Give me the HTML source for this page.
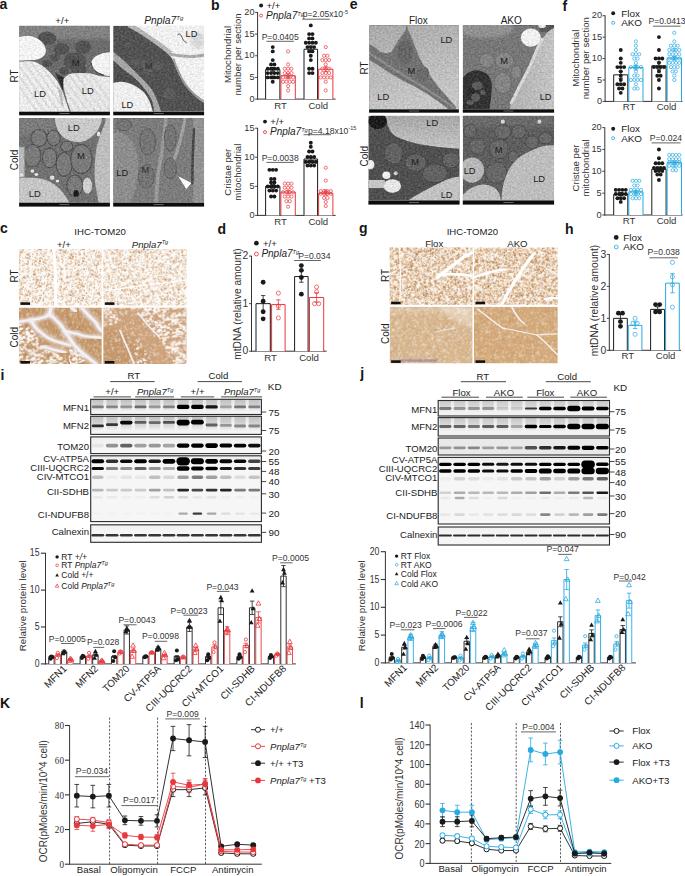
<!DOCTYPE html>
<html><head><meta charset="utf-8"><style>
html,body{margin:0;padding:0;background:#fff;overflow:hidden;width:685px;height:876px;}
svg{display:block;}
text{font-family:"Liberation Sans", sans-serif;}
</style></head><body>
<svg width="685" height="876" viewBox="0 0 685 876">
<rect x="0" y="0" width="685" height="876" fill="#fff"/>
<text x="-0.6" y="8.8" font-size="14" text-anchor="start" font-weight="bold" fill="#151515">a</text>
<text x="211.1" y="9.9" font-size="14" text-anchor="start" font-weight="bold" fill="#151515">b</text>
<text x="349.8" y="8.8" font-size="14" text-anchor="start" font-weight="bold" fill="#151515">e</text>
<text x="562.5" y="10.8" font-size="14" text-anchor="start" font-weight="bold" fill="#151515">f</text>
<text x="-0.1" y="232.6" font-size="14" text-anchor="start" font-weight="bold" fill="#151515">c</text>
<text x="217.5" y="234" font-size="14" text-anchor="start" font-weight="bold" fill="#151515">d</text>
<text x="359" y="232.8" font-size="14" text-anchor="start" font-weight="bold" fill="#151515">g</text>
<text x="565.1" y="234" font-size="14" text-anchor="start" font-weight="bold" fill="#151515">h</text>
<text x="0.5" y="380" font-size="14" text-anchor="start" font-weight="bold" fill="#151515">i</text>
<text x="360.2" y="377.5" font-size="14" text-anchor="start" font-weight="bold" fill="#151515">j</text>
<text x="-0.1" y="708" font-size="14" text-anchor="start" font-weight="bold" fill="#151515">K</text>
<text x="359.8" y="707.7" font-size="14" text-anchor="start" font-weight="bold" fill="#151515">l</text>
<defs>
<filter id="emtex" x="0" y="0" width="100%" height="100%" filterUnits="userSpaceOnUse" color-interpolation-filters="sRGB"><feTurbulence type="fractalNoise" baseFrequency="0.45 0.5" numOctaves="3" seed="4" result="t"/><feColorMatrix in="t" type="matrix" values="1 0 0 0 0  1 0 0 0 0  1 0 0 0 0  0 0 0 0 1" result="g"/><feComposite in="SourceGraphic" in2="g" operator="arithmetic" k1="0" k2="1" k3="0.24" k4="-0.12"/></filter>
<filter id="soft" x="-20%" y="-20%" width="140%" height="140%"><feGaussianBlur stdDeviation="0.8"/></filter>
<filter id="soft2" x="-20%" y="-20%" width="140%" height="140%"><feGaussianBlur stdDeviation="1.6"/></filter>
<linearGradient id="ldg1" x1="0" y1="0" x2="1" y2="1"><stop offset="0" stop-color="#f2f2f2"/><stop offset="1" stop-color="#d6d6d6"/></linearGradient>
<linearGradient id="ldstripe" x1="0" y1="0" x2="1" y2="0.6" spreadMethod="repeat" gradientUnits="userSpaceOnUse" gradientTransform="scale(8)"><stop offset="0" stop-color="#eeeeee"/><stop offset="0.5" stop-color="#cfcfcf"/><stop offset="1" stop-color="#eeeeee"/></linearGradient>
<linearGradient id="eflox" x1="0" y1="0" x2="0.3" y2="1"><stop offset="0" stop-color="#a9a9a9"/><stop offset="1" stop-color="#c6c6c6"/></linearGradient>
<linearGradient id="eld2" x1="0" y1="0" x2="1" y2="0"><stop offset="0" stop-color="#b0b0b0"/><stop offset="1" stop-color="#c4c4c4"/></linearGradient>
<linearGradient id="eld3" x1="0" y1="0" x2="0" y2="1"><stop offset="0" stop-color="#a6a6a6"/><stop offset="1" stop-color="#c4c4c4"/></linearGradient>
</defs>
<svg x="19.1" y="25.8" width="90.80" height="86.00" viewBox="0 0 100 100" preserveAspectRatio="none" overflow="hidden">
<g filter="url(#emtex)">
<rect width="100" height="100" fill="#6c6c6c"/>
<rect x="-5" y="-5" width="110" height="20" fill="#828282" filter="url(#soft2)"/>
<ellipse cx="30.7" cy="14.7" rx="10.2" ry="7.7" fill="#525252" filter="url(#soft)"/>
<ellipse cx="46.7" cy="27" rx="8.8" ry="7" fill="#525252" filter="url(#soft)"/>
<ellipse cx="70.8" cy="24.7" rx="8.8" ry="7.7" fill="#525252" filter="url(#soft)"/>
<ellipse cx="39.4" cy="37.1" rx="5.1" ry="4.6" fill="#525252" filter="url(#soft)"/>
<ellipse cx="30.7" cy="44" rx="5.8" ry="4.3" fill="#525252" filter="url(#soft)"/>
<ellipse cx="61.3" cy="41" rx="12.4" ry="10" fill="#525252" filter="url(#soft)"/>
<ellipse cx="49.6" cy="52.6" rx="5.1" ry="4.6" fill="#525252" filter="url(#soft)"/>
<ellipse cx="65.7" cy="51" rx="8.8" ry="5.4" fill="#525252" filter="url(#soft)"/>
<path d="M40,55 L48,75 L52,62 Z" fill="#2e2e2e" filter="url(#soft)"/>
<path d="M0,13 C1.5,12.8 5.9,11.9 8.8,12 C11.7,12.1 14.8,12.5 17.5,13.6 C20.2,14.7 22.9,16.4 24.8,18.5 C26.8,20.6 28.6,23.9 29.2,26.3 C29.8,28.8 29.5,31.3 28.5,33.2 C27.5,35.1 25.7,36.8 23.4,37.9 C21.1,39.0 18.5,39.5 14.6,39.9 C10.7,40.3 2.4,40.4 0,40.5 Z" fill="#f3f3f3"/>
<path d="M0,41.7 C2.4,41.7 10.9,41.0 14.6,41.4 C18.2,41.8 19.5,42.6 21.9,44 C24.3,45.4 26.8,47.3 29.2,49.5 C31.6,51.7 34.3,54.6 36.5,57.2 C38.7,59.8 40.8,62.6 42.3,64.9 C43.8,67.2 44.3,69.0 45.3,71.1 C46.3,73.2 47.2,74.7 48.2,77.3 C49.2,79.9 49.9,82.8 51.1,86.6 C52.3,90.4 54.8,97.8 55.5,100 L0,100 Z" fill="#ececec"/>
<path d="M48.9,61.8 C49.5,61.2 51.0,59.0 52.6,58 C54.2,57.0 55.7,56.1 58.4,55.6 C61.1,55.1 65.2,54.9 68.6,54.9 C72.0,54.9 75.6,55.1 78.8,55.6 C82.0,56.1 84.1,57.4 87.6,58 C91.1,58.6 97.9,59.2 100,59.5 L100,100 L57,100 C55,93 53,88 52.6,86.6 C51,80 50,76 49.6,74.2 C48.8,70 48.4,67 48.9,61.8 Z" fill="#e8e8e8"/>
<path d="M100,30.9 C98.4,31.2 93.4,31.5 90.5,32.5 C87.6,33.5 84.3,35.3 82.5,37.1 C80.7,38.9 79.8,41.2 79.6,43.3 C79.3,45.4 79.9,47.7 81,49.5 C82.1,51.3 84.0,52.8 86.1,54.1 C88.2,55.4 91.1,56.5 93.4,57.2 C95.7,57.9 98.9,58.2 100,58.4 Z" fill="#f2f2f2"/>
<path d="M79.6,43.3 C80,50 85,55 93.4,57.2" stroke="#333" stroke-width="1" fill="none"/>
<clipPath id="ldc1"><path d="M0,41.7 C2.4,41.7 10.9,41.0 14.6,41.4 C18.2,41.8 19.5,42.6 21.9,44 C24.3,45.4 26.8,47.3 29.2,49.5 C31.6,51.7 34.3,54.6 36.5,57.2 C38.7,59.8 40.8,62.6 42.3,64.9 C43.8,67.2 44.3,69.0 45.3,71.1 C46.3,73.2 47.2,74.7 48.2,77.3 C49.2,79.9 49.9,82.8 51.1,86.6 C52.3,90.4 54.8,97.8 55.5,100 L0,100 Z"/><path d="M48.9,61.8 C49.5,61.2 51.0,59.0 52.6,58 C54.2,57.0 55.7,56.1 58.4,55.6 C61.1,55.1 65.2,54.9 68.6,54.9 C72.0,54.9 75.6,55.1 78.8,55.6 C82.0,56.1 84.1,57.4 87.6,58 C91.1,58.6 97.9,59.2 100,59.5 L100,100 L57,100 C55,93 53,88 52.6,86.6 C51,80 50,76 49.6,74.2 C48.8,70 48.4,67 48.9,61.8 Z"/></clipPath><g clip-path="url(#ldc1)">
<path d="M-20,40 L20,100" stroke="#cccccc" stroke-width="2.4" opacity="0.5" filter="url(#soft)"/>
<path d="M-12,40 L28,100" stroke="#cccccc" stroke-width="2.4" opacity="0.5" filter="url(#soft)"/>
<path d="M-4,40 L36,100" stroke="#cccccc" stroke-width="2.4" opacity="0.5" filter="url(#soft)"/>
<path d="M4,40 L44,100" stroke="#cccccc" stroke-width="2.4" opacity="0.5" filter="url(#soft)"/>
<path d="M12,40 L52,100" stroke="#cccccc" stroke-width="2.4" opacity="0.5" filter="url(#soft)"/>
<path d="M20,40 L60,100" stroke="#cccccc" stroke-width="2.4" opacity="0.5" filter="url(#soft)"/>
<path d="M28,40 L68,100" stroke="#cccccc" stroke-width="2.4" opacity="0.5" filter="url(#soft)"/>
<path d="M36,40 L76,100" stroke="#cccccc" stroke-width="2.4" opacity="0.5" filter="url(#soft)"/>
<path d="M44,40 L84,100" stroke="#cccccc" stroke-width="2.4" opacity="0.5" filter="url(#soft)"/>
<path d="M52,40 L92,100" stroke="#cccccc" stroke-width="2.4" opacity="0.5" filter="url(#soft)"/>
<path d="M60,40 L100,100" stroke="#cccccc" stroke-width="2.4" opacity="0.5" filter="url(#soft)"/>
<path d="M68,40 L108,100" stroke="#cccccc" stroke-width="2.4" opacity="0.5" filter="url(#soft)"/>
</g>
<path d="M42,70 L47,76 L49,95 L46,90 Z" fill="#bbb" filter="url(#soft)"/>
</g>
</svg>
<rect x="19.1" y="111.80" width="90.80" height="3.50" fill="#0d0d0d"/>
<rect x="59.50" y="113.20" width="10" height="0.7" fill="#888"/>
<text x="40" y="96.5" font-size="9.3" text-anchor="middle" fill="#1c1c1c">LD</text>
<text x="87.8" y="93.6" font-size="9.3" text-anchor="middle" fill="#1c1c1c">LD</text>
<text x="75.6" y="65.9" font-size="9.3" text-anchor="middle" fill="#1c1c1c">M</text>
<svg x="113.2" y="25.8" width="90.90" height="86.00" viewBox="0 0 100 100" preserveAspectRatio="none" overflow="hidden">
<g filter="url(#emtex)">
<rect width="100" height="100" fill="#f0f0f0"/>
<ellipse cx="93" cy="17" rx="8" ry="10" fill="#d8d8d8" filter="url(#soft2)"/>
<path d="M0,28  C2.2,30.0 9.2,36.2 13.1,40 C17.0,43.8 20.0,47.3 23.4,51 C26.8,54.7 30.5,58.3 33.6,62 C36.8,65.7 39.9,69.1 42.3,73 C44.7,76.9 46.5,81.1 48.2,85.6 C49.9,90.1 51.9,97.6 52.6,100 L0,100 Z" fill="#a6a6a6"/>
<path d="M0,40  C1.9,41.8 7.6,47.4 11.7,51 C15.8,54.6 20.9,57.9 24.8,61.8 C28.7,65.7 32.1,70.1 35,74.2 C37.9,78.3 40.6,82.3 42.3,86.6 C44.0,90.9 44.8,97.8 45.3,100 L0,100 Z" fill="#4e4e4e"/>
<path d="M0,66.5 C1.5,66.2 5.4,64.8 8.8,65 C12.2,65.2 16.5,66.2 20.4,68 C24.3,69.8 28.9,72.6 32.1,75.7 C35.3,78.8 37.5,82.5 39.4,86.6 C41.3,90.6 43.1,97.8 43.8,100 L0,100 Z" fill="#eeeeee"/>
<path d="M0,0 L17.5,0  C19.4,1.0 25.3,3.6 29.2,6.2 C33.1,8.8 37.0,12.4 40.9,15.5 C44.8,18.6 49.2,21.8 52.6,24.7 C56.0,27.6 59.1,30.6 61.3,33.2 C63.5,35.8 64.2,37.2 65.7,40.2 C67.2,43.2 68.3,47.1 70,51 C71.7,54.9 73.7,59.5 75.9,63.4 C78.1,67.3 80.5,70.9 83.2,74.2 C85.9,77.5 89.2,80.9 92,83.5 C94.8,86.1 98.7,88.6 100,89.6 L100,100 L52.6,100  C51.9,97.8 49.9,90.9 48.2,86.6 C46.5,82.3 44.7,78.1 42.3,74.2 C39.9,70.3 36.8,67.0 33.6,63.4 C30.5,59.8 26.8,56.2 23.4,52.6 C20.0,49.0 16.3,44.8 13.1,41.7 C9.9,38.6 6.6,35.9 4.4,34 C2.2,32.1 0.7,30.8 0,30.1 Z" fill="#525252"/>
<path d="M17,-1 C26,3 35,10 43,16 C50,21 58,27 63,32" stroke="#b4b4b4" stroke-width="5" fill="none" filter="url(#soft)"/>
<path d="M62,33 C68,35 76,35 84,36 C90,36 95,35 100,34" stroke="#a9a9a9" stroke-width="3.5" fill="none" filter="url(#soft)"/>
<path d="M66,38 C70,50 74,60 80,69 C86,77 93,84 100,88" stroke="#9a9a9a" stroke-width="2.2" fill="none" filter="url(#soft)"/>
<path d="M71,11 C72,8 75,10 76,14 C77,18 80,19 81,20" stroke="#222" stroke-width="0.8" fill="none"/>
<ellipse cx="24" cy="42" rx="5" ry="4" fill="#5c5c5c" filter="url(#soft)"/>
<ellipse cx="33" cy="44" rx="6" ry="4.5" fill="#5c5c5c" filter="url(#soft)"/>
<ellipse cx="38" cy="52" rx="5" ry="4" fill="#5c5c5c" filter="url(#soft)"/>
<ellipse cx="48" cy="47" rx="6" ry="5" fill="#5c5c5c" filter="url(#soft)"/>
<ellipse cx="62" cy="79" rx="7" ry="6" fill="#5c5c5c" filter="url(#soft)"/>
<ellipse cx="16" cy="22" rx="3" ry="3" fill="#5c5c5c" filter="url(#soft)"/>
</g>
</svg>
<rect x="113.2" y="111.80" width="90.90" height="3.50" fill="#0d0d0d"/>
<rect x="153.65" y="113.20" width="10" height="0.7" fill="#888"/>
<text x="191.5" y="36.6" font-size="9.3" text-anchor="middle" fill="#1c1c1c">LD</text>
<text x="127.4" y="107.8" font-size="9.3" text-anchor="middle" fill="#1c1c1c">LD</text>
<text x="148.9" y="69.2" font-size="9.3" text-anchor="middle" fill="#2e2e2e">M</text>
<svg x="19.1" y="118.1" width="90.80" height="84.70" viewBox="0 0 100 100" preserveAspectRatio="none" overflow="hidden">
<g filter="url(#emtex)">
<rect width="100" height="100" fill="#717171"/>
<rect x="0" y="0" width="40" height="20" fill="#7c7c7c" filter="url(#soft2)"/>
<ellipse cx="21.9" cy="23.4" rx="8.8" ry="10.2" fill="#7a7a7a" stroke="#505050" stroke-width="1.2" filter="url(#soft)"/>
<ellipse cx="38" cy="23.4" rx="7.3" ry="9.4" fill="#7a7a7a" stroke="#505050" stroke-width="1.2" filter="url(#soft)"/>
<ellipse cx="14.6" cy="44.5" rx="9.5" ry="13.3" fill="#7a7a7a" stroke="#505050" stroke-width="1.2" filter="url(#soft)"/>
<ellipse cx="33.6" cy="46.9" rx="8" ry="11.7" fill="#7a7a7a" stroke="#505050" stroke-width="1.2" filter="url(#soft)"/>
<ellipse cx="49.6" cy="54.7" rx="8.8" ry="14" fill="#7a7a7a" stroke="#505050" stroke-width="1.2" filter="url(#soft)"/>
<ellipse cx="68.6" cy="48.4" rx="11.7" ry="17.2" fill="#7a7a7a" stroke="#505050" stroke-width="1.2" filter="url(#soft)"/>
<ellipse cx="52.6" cy="33.6" rx="6.6" ry="6.3" fill="#7a7a7a" stroke="#505050" stroke-width="1.2" filter="url(#soft)"/>
<ellipse cx="61.3" cy="79.7" rx="8.8" ry="12.5" fill="#7a7a7a" stroke="#505050" stroke-width="1.2" filter="url(#soft)"/>
<path d="M39.4,0 C39.6,1.6 39.9,6.3 40.9,9.4 C41.9,12.5 43.3,16.2 45.3,18.8 C47.2,21.4 49.7,23.4 52.6,25 C55.5,26.6 59.4,27.8 62.8,28.1 C66.2,28.4 69.8,27.9 73,26.6 C76.2,25.3 79.4,22.7 81.8,20.3 C84.2,17.9 86.1,15.1 87.6,12.5 C89.0,9.9 89.9,6.8 90.5,4.7 C91.1,2.6 91.1,0.8 91.2,0 Z" fill="#c9c9c9"/>
<path d="M100,0 L94.9,0  C94.9,0.8 95.6,1.8 94.9,4.7 C94.2,7.6 92.0,12.8 90.5,17.2 C89.0,21.6 87.2,26.4 86.1,31.3 C85.0,36.2 84.4,41.7 83.9,46.9 C83.4,52.1 83.2,57.3 83.2,62.5 C83.2,67.7 83.4,73.4 83.9,78.1 C84.4,82.8 85.5,86.9 86.1,90.6 C86.7,94.2 87.3,98.4 87.6,100 L100,100 Z" fill="#bdbdbd"/>
<path d="M0,71.1 C1.5,71.0 5.2,70.3 8.8,70.3 C12.5,70.3 17.8,70.3 21.9,71.1 C26.0,71.9 30.0,73.0 33.6,75 C37.2,77.0 40.9,79.9 43.8,82.8 C46.7,85.7 49.1,89.3 51.1,92.2 C53.1,95.1 54.8,98.7 55.5,100 L0,100 Z" fill="#c5c5c5"/>
<rect x="0" y="34" width="6" height="36" fill="#b8b8b8" filter="url(#soft)"/>
<ellipse cx="14.6" cy="62.5" rx="2" ry="2" fill="#e2e2e2"/>
<ellipse cx="19" cy="66.4" rx="2" ry="2" fill="#e2e2e2"/>
<ellipse cx="36.5" cy="70.3" rx="2.5" ry="2.5" fill="#e2e2e2"/>
<ellipse cx="2.9" cy="67.2" rx="2" ry="2" fill="#e2e2e2"/>
<ellipse cx="42.3" cy="74.2" rx="1.8" ry="1.8" fill="#e2e2e2"/>
<ellipse cx="87.6" cy="18.8" rx="2" ry="3" fill="#e2e2e2"/>
<ellipse cx="75.2" cy="79.7" rx="5.1" ry="9.4" fill="#cfcfcf"/>
<ellipse cx="62.8" cy="89" rx="3" ry="4" fill="#1f1f1f" filter="url(#soft)"/>
</g>
</svg>
<rect x="19.1" y="202.80" width="90.80" height="3.80" fill="#0d0d0d"/>
<rect x="59.50" y="204.35" width="10" height="0.7" fill="#888"/>
<text x="73.8" y="130.9" font-size="9.3" text-anchor="middle" fill="#1c1c1c">LD</text>
<text x="34.7" y="196.6" font-size="9.3" text-anchor="middle" fill="#1c1c1c">LD</text>
<text x="80.8" y="158.5" font-size="9.3" text-anchor="middle" fill="#1c1c1c">M</text>
<svg x="113.2" y="118.1" width="90.90" height="84.70" viewBox="0 0 100 100" preserveAspectRatio="none" overflow="hidden">
<g filter="url(#emtex)">
<rect width="100" height="100" fill="#7c7c7c"/>
<path d="M58,0 C57,20 53,40 49,70 L47,100" stroke="#9a9a9a" stroke-width="4" fill="none" filter="url(#soft)"/>
<path d="M79,0 C77,15 72,35 65,55" stroke="#a0a0a0" stroke-width="3.5" fill="none" filter="url(#soft)"/>
<rect x="88" y="0" width="12" height="100" fill="#939393" filter="url(#soft)"/>
<path d="M89,12 C88,30 87,50 87,78" stroke="#4a4a4a" stroke-width="2.8" fill="none" filter="url(#soft)"/>
<ellipse cx="38" cy="28.1" rx="8.8" ry="15.6" fill="#747474" stroke="#5a5a5a" stroke-width="1" filter="url(#soft)"/>
<ellipse cx="36.5" cy="68.8" rx="8.8" ry="14" fill="#747474" stroke="#5a5a5a" stroke-width="1" filter="url(#soft)"/>
<ellipse cx="62.8" cy="23.4" rx="6.6" ry="15.6" fill="#747474" stroke="#5a5a5a" stroke-width="1" filter="url(#soft)"/>
<ellipse cx="62.8" cy="59.4" rx="6.6" ry="12.5" fill="#747474" stroke="#5a5a5a" stroke-width="1" filter="url(#soft)"/>
<ellipse cx="12" cy="8" rx="8" ry="7" fill="#747474" stroke="#5a5a5a" stroke-width="1" filter="url(#soft)"/>
<path d="M0,17.2  C1.0,17.1 3.4,15.9 5.8,16.4 C8.2,16.9 11.9,18.1 14.6,20.3 C17.3,22.5 19.9,25.8 21.9,29.7 C23.8,33.6 25.3,38.8 26.3,43.8 C27.3,48.8 27.7,54.5 27.7,59.4 C27.7,64.3 27.0,68.7 26.3,73.4 C25.6,78.1 24.6,83.1 23.4,87.5 C22.2,91.9 19.7,97.9 19,100 L0,100 Z" fill="#8d8d8d"/>
<polygon points="71.5,68.8 86.1,76.6 80.3,83.6" fill="#fff"/>
</g>
</svg>
<rect x="113.2" y="202.80" width="90.90" height="3.80" fill="#0d0d0d"/>
<rect x="153.65" y="204.35" width="10" height="0.7" fill="#888"/>
<text x="122.2" y="175.9" font-size="9.3" text-anchor="middle" fill="#1c1c1c">LD</text>
<text x="145.3" y="172.8" font-size="9.3" text-anchor="middle" fill="#2a2a2a">M</text>
<svg x="369.1" y="25.1" width="89.80" height="84.20" viewBox="0 0 100 100" preserveAspectRatio="none" overflow="hidden">
<g filter="url(#emtex)">
<rect width="100" height="100" fill="url(#eflox)"/>
<path d="M0,23.2 L5.8,26.3 L13.1,32.5 L19,34 L24.8,32.5 L29.2,24.7 L33.6,17 L38,10.8 L40.9,6.2 L41.6,0 L43.1,6.2 L46.7,13.9 L51.1,26.3 L55.5,38.6 L61.3,49.5 L68.6,61.8 L77.4,74.2 L87.6,86.6 L96.4,97.4 L96.4,100 L89,100 L80.3,92.7 L65.7,81.9 L51.1,72.6 L36.5,64.9 L21.9,55.6 L8.8,46.4 L0,41 Z" fill="#727272" stroke="#727272" stroke-width="0.8" stroke-linejoin="round"/>
<path d="M0,33 C15,44 35,58 55,70 C70,80 85,90 95,99" stroke="#8c8c8c" stroke-width="2.5" fill="none" filter="url(#soft)"/>
<ellipse cx="40" cy="32" rx="9" ry="14" fill="#666" filter="url(#soft)"/>
<ellipse cx="60" cy="58" rx="7" ry="9" fill="#6a6a6a" filter="url(#soft)"/>
</g>
</svg>
<rect x="369.1" y="109.30" width="89.80" height="3.40" fill="#0d0d0d"/>
<rect x="409.00" y="110.65" width="10" height="0.7" fill="#888"/>
<text x="446.4" y="42.7" font-size="9.3" text-anchor="middle" fill="#1c1c1c">LD</text>
<text x="411.4" y="73.9" font-size="9.3" text-anchor="middle" fill="#1c1c1c">M</text>
<text x="383.2" y="99.6" font-size="9.3" text-anchor="middle" fill="#1c1c1c">LD</text>
<svg x="462.8" y="25.1" width="91.30" height="84.20" viewBox="0 0 100 100" preserveAspectRatio="none" overflow="hidden">
<g filter="url(#emtex)">
<rect width="100" height="100" fill="#777"/>
<ellipse cx="25" cy="4" rx="30" ry="11" fill="#919191" filter="url(#soft2)"/>
<ellipse cx="26.3" cy="42.2" rx="8" ry="8.6" fill="#858585" stroke="#666" stroke-width="0.8" filter="url(#soft)"/>
<ellipse cx="45.3" cy="42.2" rx="10.2" ry="10.2" fill="#858585" stroke="#666" stroke-width="0.8" filter="url(#soft)"/>
<ellipse cx="43.8" cy="68.8" rx="9.5" ry="12.5" fill="#858585" stroke="#666" stroke-width="0.8" filter="url(#soft)"/>
<ellipse cx="58.4" cy="56.3" rx="5.8" ry="7.8" fill="#858585" stroke="#666" stroke-width="0.8" filter="url(#soft)"/>
<rect x="84" y="0" width="16" height="8" fill="#555"/>
<path d="M100,3.1  C98.9,3.9 95.5,5.7 93.4,7.8 C91.3,9.9 89.3,13.0 87.6,15.6 C85.9,18.2 84.7,20.0 83.2,23.4 C81.7,26.8 80.5,31.5 78.8,35.9 C77.1,40.3 75.2,45.0 73,50 C70.8,55.0 68.1,60.4 65.7,65.6 C63.3,70.8 60.6,76.6 58.4,81.3 C56.2,86.0 53.8,90.7 52.6,93.8 C51.4,96.9 51.4,99.0 51.1,100 L100,100 Z" fill="url(#eld2)"/>
<path d="M87.6,15.6 C85,20 81,29 78.8,35.9 C76,43 75,46 73,50 C70,57 68,61 65.7,65.6 C62,73 60,77 58.4,81.3 C56,87 54,91 52.6,93.8" stroke="#d6d6d6" stroke-width="3.5" fill="none" filter="url(#soft)"/>
<ellipse cx="74.5" cy="14.8" rx="10.9" ry="10.9" fill="#f0f0f0"/>
<ellipse cx="87" cy="1" rx="4" ry="2.5" fill="#e8e8e8"/>
<path d="M0,62.5 C0.7,61.7 2.5,59.2 4.4,57.8 C6.4,56.4 9.0,54.4 11.7,53.9 C14.4,53.4 17.7,53.8 20.4,54.7 C23.1,55.6 25.9,57.0 27.7,59.4 C29.5,61.8 30.8,65.1 31.4,68.8 C32.0,72.5 31.6,77.1 31.4,81.3 C31.1,85.5 30.3,90.7 29.9,93.8 C29.5,96.9 29.3,99.0 29.2,100 L0,100 Z" fill="#333"/>
<ellipse cx="16" cy="72" rx="6" ry="5" fill="#5c5c5c" filter="url(#soft)"/>
<ellipse cx="14" cy="86" rx="5" ry="5" fill="#5c5c5c" filter="url(#soft)"/>
<ellipse cx="22" cy="80" rx="3" ry="3" fill="#5c5c5c" filter="url(#soft)"/>
<ellipse cx="8" cy="92" rx="4" ry="3" fill="#5c5c5c" filter="url(#soft)"/>
</g>
</svg>
<rect x="462.8" y="109.30" width="91.30" height="3.40" fill="#0d0d0d"/>
<rect x="503.45" y="110.65" width="10" height="0.7" fill="#888"/>
<text x="504.2" y="64.2" font-size="9.3" text-anchor="middle" fill="#1c1c1c">M</text>
<text x="471.3" y="94.4" font-size="9.3" text-anchor="middle" fill="#1c1c1c">N</text>
<text x="545.6" y="99.7" font-size="9.3" text-anchor="middle" fill="#1c1c1c">LD</text>
<svg x="368.4" y="115.8" width="91.20" height="84.70" viewBox="0 0 100 100" preserveAspectRatio="none" overflow="hidden">
<g filter="url(#emtex)">
<rect width="100" height="100" fill="#505050"/>
<ellipse cx="27.7" cy="44.2" rx="10.2" ry="12.6" fill="#626262" stroke="#464646" stroke-width="1" filter="url(#soft)"/>
<ellipse cx="51.8" cy="55.3" rx="11.7" ry="10.3" fill="#626262" stroke="#464646" stroke-width="1" filter="url(#soft)"/>
<ellipse cx="73" cy="67.9" rx="13.9" ry="11.1" fill="#626262" stroke="#464646" stroke-width="1" filter="url(#soft)"/>
<ellipse cx="90.5" cy="52.1" rx="9.5" ry="9.5" fill="#626262" stroke="#464646" stroke-width="1" filter="url(#soft)"/>
<path d="M17.5,0  C18.0,1.6 19.2,6.3 20.4,9.5 C21.6,12.7 22.9,16.4 24.8,19 C26.8,21.6 28.9,23.5 32.1,25.3 C35.3,27.1 39.4,28.6 43.8,30 C48.2,31.4 53.5,33.0 58.4,34 C63.3,35.0 68.1,35.6 73,36.3 C77.9,36.9 83.1,37.5 87.6,37.9 C92.1,38.3 97.9,38.6 100,38.7 L100,0 Z" fill="url(#eld3)"/>
<path d="M43.8,100 C45.0,99.1 48.2,96.7 51.1,94.8 C54.0,92.9 57.6,90.6 61.3,88.5 C65.0,86.4 69.1,84.2 73,82.1 C76.9,80.0 81.3,77.4 84.7,75.8 C88.1,74.2 90.9,73.3 93.4,72.7 C96.0,72.1 98.9,72.0 100,71.9 L100,100 Z" fill="#c2c2c2"/>
<ellipse cx="10.2" cy="6.3" rx="10.2" ry="9.5" fill="#1e1e1e" filter="url(#soft)"/>
<rect x="0" y="75.8" width="18" height="9.5" fill="#c5c5c5" filter="url(#soft)"/>
<ellipse cx="2.2" cy="57.7" rx="4.4" ry="5.5" fill="#eeeeee"/>
<ellipse cx="19.7" cy="70.3" rx="4.4" ry="4.4" fill="#f0f0f0"/>
<ellipse cx="29.9" cy="67.9" rx="2.2" ry="2.4" fill="#cccccc"/>
<ellipse cx="26.3" cy="82.9" rx="9.5" ry="7.9" fill="#e6e6e6"/>
</g>
</svg>
<rect x="368.4" y="200.50" width="91.20" height="4.10" fill="#0d0d0d"/>
<rect x="409.00" y="202.20" width="10" height="0.7" fill="#888"/>
<text x="432.2" y="125.7" font-size="9.3" text-anchor="middle" fill="#1c1c1c">LD</text>
<text x="415" y="164.6" font-size="9.3" text-anchor="middle" fill="#1c1c1c">M</text>
<text x="446.6" y="197.9" font-size="9.3" text-anchor="middle" fill="#1c1c1c">LD</text>
<svg x="462.8" y="115.8" width="91.30" height="84.70" viewBox="0 0 100 100" preserveAspectRatio="none" overflow="hidden">
<g filter="url(#emtex)">
<rect width="100" height="100" fill="#5e5e5e"/>
<rect x="-5" y="-5" width="110" height="18" fill="#6a6a6a" filter="url(#soft2)"/>
<ellipse cx="39.4" cy="39.1" rx="10.2" ry="11.7" fill="#676767" stroke="#4a4a4a" stroke-width="1" filter="url(#soft)"/>
<ellipse cx="36.5" cy="67.2" rx="11.7" ry="12.5" fill="#676767" stroke="#4a4a4a" stroke-width="1" filter="url(#soft)"/>
<ellipse cx="16" cy="36" rx="9" ry="9" fill="#676767" stroke="#4a4a4a" stroke-width="1" filter="url(#soft)"/>
<ellipse cx="43.8" cy="19" rx="9" ry="8.6" fill="#676767" stroke="#4a4a4a" stroke-width="1" filter="url(#soft)"/>
<ellipse cx="61.3" cy="19" rx="8" ry="7.8" fill="#676767" stroke="#4a4a4a" stroke-width="1" filter="url(#soft)"/>
<ellipse cx="55.5" cy="48.4" rx="5.8" ry="7" fill="#676767" stroke="#4a4a4a" stroke-width="1" filter="url(#soft)"/>
<ellipse cx="90.5" cy="26.6" rx="7.3" ry="7" fill="#676767" stroke="#4a4a4a" stroke-width="1" filter="url(#soft)"/>
<ellipse cx="75.9" cy="31.3" rx="7.3" ry="7.8" fill="#676767" stroke="#4a4a4a" stroke-width="1" filter="url(#soft)"/>
<ellipse cx="8" cy="18" rx="7" ry="8" fill="#676767" stroke="#4a4a4a" stroke-width="1" filter="url(#soft)"/>
<path d="M42.3,100 C42.5,97.4 42.8,89.6 43.8,84.4 C44.8,79.2 46.5,73.2 48.2,68.8 C49.9,64.4 51.6,61.2 54,57.8 C56.4,54.4 59.6,51.0 62.8,48.4 C66.0,45.8 69.6,44.0 73,42.2 C76.4,40.4 80.0,38.7 83.2,37.5 C86.4,36.3 89.2,35.7 92,35.2 C94.8,34.7 98.7,34.8 100,34.7 L100,100 Z" fill="#bdbdbd"/>
<ellipse cx="10.2" cy="64.1" rx="13.1" ry="14.8" fill="#b6b6b6"/>
<path d="M0,93.8 C1.0,92.8 3.4,89.3 5.8,87.5 C8.2,85.7 11.4,83.8 14.6,82.8 C17.8,81.8 21.6,81.0 24.8,81.3 C28.0,81.6 31.2,82.9 33.6,84.4 C36.0,86.0 38.1,88.0 39.4,90.6 C40.7,93.2 41.2,98.4 41.6,100 L0,100 Z" fill="#c0c0c0"/>
<ellipse cx="43.8" cy="7" rx="2.2" ry="2.5" fill="#d8d8d8"/>
<ellipse cx="83.9" cy="7" rx="2.2" ry="2.5" fill="#cfcfcf"/>
</g>
</svg>
<rect x="462.8" y="200.50" width="91.30" height="4.10" fill="#0d0d0d"/>
<rect x="503.45" y="202.20" width="10" height="0.7" fill="#888"/>
<text x="498.7" y="152.5" font-size="9.3" text-anchor="middle" fill="#1c1c1c">M</text>
<text x="469.6" y="174.2" font-size="9.3" text-anchor="middle" fill="#1c1c1c">LD</text>
<text x="539.1" y="181.8" font-size="9.3" text-anchor="middle" fill="#1c1c1c">LD</text>
<text x="62.3" y="24.3" font-size="9.6" text-anchor="middle" fill="#222">+/+</text>
<text x="163.8" y="23.6" font-size="10.3" text-anchor="middle" font-style="italic" fill="#222">Pnpla7<tspan font-size="6" dy="-3.3">Tg</tspan></text>
<text x="18.3" y="76" font-size="10" text-anchor="middle" fill="#222" transform="rotate(-90 18.3 76)">RT</text>
<text x="17.6" y="160" font-size="10" text-anchor="middle" fill="#222" transform="rotate(-90 17.6 160)">Cold</text>
<text x="418.4" y="24.2" font-size="10" text-anchor="middle" fill="#222">Flox</text>
<text x="511.2" y="24.2" font-size="10" text-anchor="middle" fill="#222">AKO</text>
<text x="367.9" y="67.9" font-size="10" text-anchor="middle" fill="#222" transform="rotate(-90 367.9 67.9)">RT</text>
<text x="367.9" y="156.3" font-size="10" text-anchor="middle" fill="#222" transform="rotate(-90 367.9 156.3)">Cold</text>
<defs><pattern id="pB1" patternUnits="userSpaceOnUse" width="43" height="37"><circle cx="19.5" cy="20.7" r="0.81" fill="#cf9250" fill-opacity="0.71"/><circle cx="36.8" cy="7.0" r="0.75" fill="#cf9250" fill-opacity="0.71"/><circle cx="34.1" cy="3.5" r="0.50" fill="#9a6a4a" fill-opacity="0.50"/><circle cx="27.3" cy="22.0" r="0.55" fill="#9a6a4a" fill-opacity="0.70"/><circle cx="26.5" cy="5.8" r="0.36" fill="#c4843f" fill-opacity="0.74"/><circle cx="1.5" cy="32.5" r="0.65" fill="#d59b5c" fill-opacity="0.88"/><circle cx="18.9" cy="31.2" r="0.61" fill="#a9692e" fill-opacity="0.80"/><circle cx="0.2" cy="3.1" r="0.68" fill="#cf9250" fill-opacity="0.67"/><circle cx="43.2" cy="3.1" r="0.68" fill="#cf9250" fill-opacity="0.67"/><circle cx="42.8" cy="31.1" r="0.70" fill="#b8773a" fill-opacity="0.62"/><circle cx="-0.2" cy="31.1" r="0.70" fill="#b8773a" fill-opacity="0.62"/><circle cx="22.1" cy="1.1" r="0.63" fill="#c4843f" fill-opacity="0.51"/><circle cx="36.4" cy="14.3" r="0.83" fill="#c4843f" fill-opacity="0.92"/><circle cx="9.2" cy="34.3" r="0.38" fill="#9a6a4a" fill-opacity="0.66"/><circle cx="17.1" cy="2.7" r="0.66" fill="#d59b5c" fill-opacity="0.88"/><circle cx="14.5" cy="11.5" r="0.36" fill="#c4843f" fill-opacity="0.68"/><circle cx="5.8" cy="26.2" r="0.36" fill="#a9692e" fill-opacity="0.71"/><circle cx="7.6" cy="20.7" r="0.57" fill="#9a6a4a" fill-opacity="0.55"/><circle cx="33.1" cy="15.5" r="0.54" fill="#b8773a" fill-opacity="0.67"/><circle cx="0.0" cy="32.0" r="0.84" fill="#c4843f" fill-opacity="0.78"/><circle cx="43.0" cy="32.0" r="0.84" fill="#c4843f" fill-opacity="0.78"/><circle cx="9.1" cy="14.6" r="0.78" fill="#c4843f" fill-opacity="0.80"/><circle cx="1.8" cy="5.4" r="0.57" fill="#cf9250" fill-opacity="0.46"/><circle cx="14.1" cy="11.0" r="0.39" fill="#cf9250" fill-opacity="0.50"/><circle cx="27.4" cy="0.6" r="0.53" fill="#b8773a" fill-opacity="0.79"/><circle cx="41.2" cy="17.9" r="0.64" fill="#b8773a" fill-opacity="0.93"/><circle cx="27.0" cy="11.5" r="0.46" fill="#9a6a4a" fill-opacity="0.79"/><circle cx="8.2" cy="27.4" r="0.82" fill="#a9692e" fill-opacity="0.56"/><circle cx="37.9" cy="22.3" r="0.56" fill="#c4843f" fill-opacity="0.51"/><circle cx="22.0" cy="9.4" r="0.72" fill="#a9692e" fill-opacity="0.67"/><circle cx="35.4" cy="22.1" r="0.50" fill="#9a6a4a" fill-opacity="0.55"/><circle cx="42.0" cy="4.7" r="0.59" fill="#cf9250" fill-opacity="0.81"/><circle cx="26.4" cy="10.4" r="0.81" fill="#c4843f" fill-opacity="0.56"/><circle cx="3.0" cy="15.2" r="0.47" fill="#d59b5c" fill-opacity="0.48"/><circle cx="15.9" cy="21.2" r="0.42" fill="#a9692e" fill-opacity="0.65"/><circle cx="42.2" cy="24.3" r="0.70" fill="#b8773a" fill-opacity="0.77"/><circle cx="25.4" cy="34.2" r="0.59" fill="#d59b5c" fill-opacity="0.65"/><circle cx="41.4" cy="0.8" r="0.67" fill="#9a6a4a" fill-opacity="0.72"/><circle cx="13.4" cy="5.1" r="0.39" fill="#d59b5c" fill-opacity="0.70"/><circle cx="31.7" cy="33.3" r="0.72" fill="#d59b5c" fill-opacity="0.84"/><circle cx="15.1" cy="25.4" r="0.80" fill="#a9692e" fill-opacity="0.93"/><circle cx="40.6" cy="1.1" r="0.60" fill="#9a6a4a" fill-opacity="0.46"/><circle cx="16.4" cy="21.6" r="0.65" fill="#9a6a4a" fill-opacity="0.49"/><circle cx="5.0" cy="9.5" r="0.56" fill="#9a6a4a" fill-opacity="0.63"/><circle cx="29.8" cy="16.9" r="0.58" fill="#cf9250" fill-opacity="0.75"/><circle cx="32.3" cy="1.1" r="0.65" fill="#b8773a" fill-opacity="0.71"/><circle cx="41.2" cy="4.2" r="0.74" fill="#a9692e" fill-opacity="0.81"/><circle cx="11.0" cy="0.4" r="0.50" fill="#b8773a" fill-opacity="0.82"/><circle cx="11.0" cy="37.4" r="0.50" fill="#b8773a" fill-opacity="0.82"/><circle cx="22.3" cy="27.9" r="0.52" fill="#a9692e" fill-opacity="0.96"/><circle cx="38.3" cy="12.1" r="0.68" fill="#a9692e" fill-opacity="0.56"/><circle cx="34.6" cy="27.9" r="0.45" fill="#b8773a" fill-opacity="0.57"/><circle cx="25.1" cy="11.7" r="0.42" fill="#c4843f" fill-opacity="0.72"/><circle cx="30.6" cy="35.2" r="0.49" fill="#a9692e" fill-opacity="0.54"/><circle cx="20.3" cy="34.3" r="0.77" fill="#cf9250" fill-opacity="0.66"/><circle cx="21.2" cy="11.7" r="0.77" fill="#a9692e" fill-opacity="0.99"/><circle cx="13.8" cy="30.7" r="0.49" fill="#9a6a4a" fill-opacity="0.78"/><circle cx="30.5" cy="21.1" r="0.50" fill="#c4843f" fill-opacity="0.89"/><circle cx="27.6" cy="15.0" r="0.44" fill="#d59b5c" fill-opacity="0.87"/><circle cx="10.2" cy="5.2" r="0.37" fill="#a9692e" fill-opacity="0.80"/><circle cx="4.7" cy="19.8" r="0.67" fill="#c4843f" fill-opacity="0.65"/><circle cx="29.4" cy="7.4" r="0.59" fill="#c4843f" fill-opacity="0.55"/><circle cx="32.5" cy="19.8" r="0.37" fill="#d59b5c" fill-opacity="0.57"/><circle cx="23.2" cy="35.0" r="0.60" fill="#b8773a" fill-opacity="1.00"/><circle cx="16.9" cy="29.3" r="0.80" fill="#9a6a4a" fill-opacity="0.50"/><circle cx="16.7" cy="16.7" r="0.45" fill="#c4843f" fill-opacity="0.94"/><circle cx="16.2" cy="21.0" r="0.79" fill="#d59b5c" fill-opacity="0.89"/><circle cx="19.9" cy="24.1" r="0.45" fill="#9a6a4a" fill-opacity="0.85"/><circle cx="39.7" cy="4.6" r="0.47" fill="#c4843f" fill-opacity="0.66"/><circle cx="42.0" cy="19.9" r="0.75" fill="#9a6a4a" fill-opacity="0.63"/><circle cx="36.8" cy="12.9" r="0.39" fill="#cf9250" fill-opacity="0.69"/><circle cx="18.1" cy="10.2" r="0.81" fill="#c4843f" fill-opacity="0.57"/><circle cx="18.4" cy="1.3" r="0.62" fill="#b8773a" fill-opacity="0.83"/><circle cx="20.2" cy="37.0" r="0.80" fill="#9a6a4a" fill-opacity="0.74"/><circle cx="20.2" cy="-0.0" r="0.80" fill="#9a6a4a" fill-opacity="0.74"/><circle cx="29.6" cy="35.0" r="0.60" fill="#c4843f" fill-opacity="0.97"/><circle cx="32.6" cy="16.3" r="0.63" fill="#cf9250" fill-opacity="0.91"/><circle cx="27.5" cy="19.3" r="0.77" fill="#d59b5c" fill-opacity="0.76"/><circle cx="28.9" cy="35.3" r="0.79" fill="#d59b5c" fill-opacity="0.79"/><circle cx="36.6" cy="35.8" r="0.61" fill="#b8773a" fill-opacity="0.77"/><circle cx="17.7" cy="4.2" r="0.35" fill="#cf9250" fill-opacity="0.66"/><circle cx="41.7" cy="19.1" r="0.55" fill="#cf9250" fill-opacity="0.89"/><circle cx="5.2" cy="3.4" r="0.43" fill="#a9692e" fill-opacity="0.96"/><circle cx="17.8" cy="35.4" r="0.81" fill="#a9692e" fill-opacity="0.60"/><circle cx="21.2" cy="12.6" r="0.80" fill="#a9692e" fill-opacity="0.96"/><circle cx="22.6" cy="4.0" r="0.56" fill="#d59b5c" fill-opacity="0.47"/><circle cx="5.6" cy="28.8" r="0.36" fill="#b8773a" fill-opacity="0.56"/><circle cx="0.5" cy="10.5" r="0.71" fill="#a9692e" fill-opacity="0.58"/><circle cx="43.5" cy="10.5" r="0.71" fill="#a9692e" fill-opacity="0.58"/><circle cx="4.5" cy="27.0" r="0.41" fill="#d59b5c" fill-opacity="0.73"/><circle cx="30.9" cy="26.0" r="0.79" fill="#9a6a4a" fill-opacity="0.46"/><circle cx="17.8" cy="19.6" r="0.43" fill="#9a6a4a" fill-opacity="0.56"/><circle cx="23.0" cy="8.1" r="0.46" fill="#cf9250" fill-opacity="0.75"/><circle cx="36.8" cy="8.6" r="0.72" fill="#b8773a" fill-opacity="0.90"/><circle cx="13.6" cy="11.7" r="0.81" fill="#b8773a" fill-opacity="0.57"/><circle cx="38.2" cy="5.0" r="0.47" fill="#d59b5c" fill-opacity="0.85"/><circle cx="16.7" cy="16.1" r="0.82" fill="#9a6a4a" fill-opacity="0.75"/><circle cx="5.4" cy="14.9" r="0.69" fill="#b8773a" fill-opacity="0.46"/><circle cx="24.5" cy="13.2" r="0.76" fill="#9a6a4a" fill-opacity="0.65"/><circle cx="21.7" cy="28.1" r="0.60" fill="#b8773a" fill-opacity="0.83"/><circle cx="34.5" cy="17.8" r="0.36" fill="#cf9250" fill-opacity="0.87"/><circle cx="22.1" cy="21.0" r="0.42" fill="#b8773a" fill-opacity="0.55"/><circle cx="7.4" cy="5.8" r="0.49" fill="#cf9250" fill-opacity="0.82"/><circle cx="2.7" cy="35.2" r="0.58" fill="#d59b5c" fill-opacity="0.87"/><circle cx="16.8" cy="15.8" r="0.53" fill="#d59b5c" fill-opacity="0.57"/><circle cx="0.6" cy="25.9" r="0.77" fill="#a9692e" fill-opacity="0.55"/><circle cx="43.6" cy="25.9" r="0.77" fill="#a9692e" fill-opacity="0.55"/><circle cx="15.5" cy="13.7" r="0.81" fill="#c4843f" fill-opacity="0.78"/><circle cx="22.0" cy="0.6" r="0.80" fill="#9a6a4a" fill-opacity="0.89"/><circle cx="22.0" cy="37.6" r="0.80" fill="#9a6a4a" fill-opacity="0.89"/><circle cx="37.7" cy="33.6" r="0.82" fill="#b8773a" fill-opacity="0.76"/><circle cx="21.7" cy="36.4" r="0.75" fill="#c4843f" fill-opacity="0.59"/><circle cx="21.7" cy="-0.6" r="0.75" fill="#c4843f" fill-opacity="0.59"/><circle cx="32.0" cy="28.8" r="0.76" fill="#d59b5c" fill-opacity="0.67"/><circle cx="37.8" cy="25.7" r="0.73" fill="#a9692e" fill-opacity="0.87"/><circle cx="8.9" cy="6.8" r="0.75" fill="#c4843f" fill-opacity="0.62"/><circle cx="0.5" cy="13.2" r="0.67" fill="#b8773a" fill-opacity="0.79"/><circle cx="43.5" cy="13.2" r="0.67" fill="#b8773a" fill-opacity="0.79"/><circle cx="11.7" cy="35.6" r="0.50" fill="#a9692e" fill-opacity="0.57"/><circle cx="24.5" cy="19.7" r="0.54" fill="#9a6a4a" fill-opacity="1.00"/><circle cx="9.2" cy="4.4" r="0.55" fill="#c4843f" fill-opacity="0.77"/><circle cx="26.5" cy="27.3" r="0.48" fill="#c4843f" fill-opacity="0.67"/><circle cx="32.7" cy="24.0" r="0.36" fill="#d59b5c" fill-opacity="0.59"/><circle cx="38.9" cy="20.4" r="0.60" fill="#cf9250" fill-opacity="0.98"/><circle cx="36.4" cy="3.7" r="0.57" fill="#cf9250" fill-opacity="0.80"/><circle cx="25.7" cy="28.1" r="0.37" fill="#b8773a" fill-opacity="0.96"/><circle cx="16.6" cy="35.9" r="0.78" fill="#cf9250" fill-opacity="0.75"/><circle cx="2.5" cy="35.0" r="0.56" fill="#cf9250" fill-opacity="0.74"/><circle cx="13.4" cy="19.6" r="0.59" fill="#d59b5c" fill-opacity="0.60"/><circle cx="28.5" cy="27.7" r="0.36" fill="#cf9250" fill-opacity="0.87"/><circle cx="1.8" cy="5.8" r="0.73" fill="#d59b5c" fill-opacity="0.66"/><circle cx="32.2" cy="1.9" r="0.84" fill="#c4843f" fill-opacity="0.97"/><circle cx="34.3" cy="8.3" r="0.71" fill="#b8773a" fill-opacity="0.59"/><circle cx="2.0" cy="3.6" r="0.76" fill="#b8773a" fill-opacity="0.95"/><circle cx="42.1" cy="30.2" r="0.65" fill="#cf9250" fill-opacity="0.51"/><circle cx="17.9" cy="4.4" r="0.78" fill="#b8773a" fill-opacity="0.65"/><circle cx="5.3" cy="16.4" r="0.68" fill="#d59b5c" fill-opacity="0.70"/><circle cx="27.5" cy="25.2" r="0.53" fill="#b8773a" fill-opacity="0.86"/><circle cx="41.0" cy="27.2" r="0.47" fill="#d59b5c" fill-opacity="0.51"/><circle cx="33.7" cy="23.1" r="0.53" fill="#9a6a4a" fill-opacity="0.60"/><circle cx="31.2" cy="25.9" r="0.45" fill="#b8773a" fill-opacity="0.60"/><circle cx="8.2" cy="9.2" r="0.84" fill="#9a6a4a" fill-opacity="0.95"/><circle cx="1.7" cy="2.2" r="0.49" fill="#cf9250" fill-opacity="0.68"/><circle cx="1.6" cy="8.2" r="0.49" fill="#9a6a4a" fill-opacity="0.87"/><circle cx="6.9" cy="8.7" r="0.84" fill="#d59b5c" fill-opacity="0.72"/><circle cx="9.1" cy="12.7" r="0.72" fill="#c4843f" fill-opacity="0.91"/><circle cx="34.5" cy="16.6" r="0.76" fill="#b8773a" fill-opacity="0.91"/><circle cx="19.1" cy="27.7" r="0.55" fill="#b8773a" fill-opacity="0.53"/><circle cx="28.1" cy="36.6" r="0.51" fill="#9a6a4a" fill-opacity="0.75"/><circle cx="28.1" cy="-0.4" r="0.51" fill="#9a6a4a" fill-opacity="0.75"/><circle cx="35.5" cy="6.8" r="0.68" fill="#a9692e" fill-opacity="0.77"/><circle cx="37.6" cy="2.9" r="0.39" fill="#a9692e" fill-opacity="0.76"/><circle cx="35.1" cy="17.1" r="0.76" fill="#d59b5c" fill-opacity="0.46"/><circle cx="9.2" cy="24.5" r="0.39" fill="#9a6a4a" fill-opacity="0.62"/><circle cx="32.9" cy="12.1" r="0.79" fill="#9a6a4a" fill-opacity="0.57"/><circle cx="31.2" cy="13.6" r="0.41" fill="#cf9250" fill-opacity="0.84"/><circle cx="25.6" cy="33.4" r="0.69" fill="#cf9250" fill-opacity="0.60"/><circle cx="34.5" cy="11.3" r="0.51" fill="#9a6a4a" fill-opacity="0.67"/><circle cx="38.5" cy="9.2" r="0.53" fill="#d59b5c" fill-opacity="0.65"/><circle cx="29.1" cy="21.6" r="0.75" fill="#d59b5c" fill-opacity="0.86"/><circle cx="34.3" cy="20.0" r="0.77" fill="#b8773a" fill-opacity="0.76"/><circle cx="3.9" cy="16.8" r="0.78" fill="#b8773a" fill-opacity="0.90"/><circle cx="22.2" cy="20.1" r="0.63" fill="#9a6a4a" fill-opacity="0.98"/><circle cx="36.2" cy="15.6" r="0.64" fill="#cf9250" fill-opacity="0.62"/><circle cx="3.6" cy="3.0" r="0.72" fill="#c4843f" fill-opacity="0.94"/><circle cx="1.1" cy="24.2" r="0.40" fill="#a9692e" fill-opacity="0.90"/><circle cx="10.6" cy="8.2" r="0.73" fill="#a9692e" fill-opacity="0.74"/><circle cx="17.0" cy="12.5" r="0.83" fill="#a9692e" fill-opacity="0.82"/><circle cx="21.0" cy="29.8" r="0.39" fill="#c4843f" fill-opacity="0.79"/><circle cx="17.7" cy="30.6" r="0.68" fill="#a9692e" fill-opacity="0.92"/><circle cx="35.9" cy="32.9" r="0.83" fill="#cf9250" fill-opacity="0.80"/><circle cx="15.6" cy="0.4" r="0.40" fill="#b8773a" fill-opacity="0.96"/><circle cx="15.6" cy="37.4" r="0.40" fill="#b8773a" fill-opacity="0.96"/><circle cx="10.6" cy="6.0" r="0.67" fill="#d59b5c" fill-opacity="0.83"/><circle cx="8.8" cy="15.7" r="0.50" fill="#c4843f" fill-opacity="0.98"/><circle cx="20.3" cy="27.0" r="0.50" fill="#b8773a" fill-opacity="0.54"/><circle cx="39.2" cy="27.9" r="0.36" fill="#c4843f" fill-opacity="0.71"/><circle cx="13.4" cy="7.3" r="0.53" fill="#cf9250" fill-opacity="0.77"/><circle cx="30.8" cy="22.0" r="0.46" fill="#d59b5c" fill-opacity="0.55"/><circle cx="17.3" cy="33.7" r="0.82" fill="#cf9250" fill-opacity="0.79"/><circle cx="20.6" cy="9.6" r="0.79" fill="#d59b5c" fill-opacity="0.95"/><circle cx="28.4" cy="28.6" r="0.40" fill="#a9692e" fill-opacity="0.92"/><circle cx="2.1" cy="35.1" r="0.75" fill="#cf9250" fill-opacity="0.66"/><circle cx="34.2" cy="28.6" r="0.74" fill="#b8773a" fill-opacity="0.48"/><circle cx="38.4" cy="32.3" r="0.80" fill="#b8773a" fill-opacity="0.70"/><circle cx="30.7" cy="22.4" r="0.43" fill="#d59b5c" fill-opacity="0.54"/><circle cx="6.2" cy="33.6" r="0.76" fill="#9a6a4a" fill-opacity="0.52"/><circle cx="42.7" cy="9.9" r="0.62" fill="#b8773a" fill-opacity="0.53"/><circle cx="-0.3" cy="9.9" r="0.62" fill="#b8773a" fill-opacity="0.53"/><circle cx="0.1" cy="30.4" r="0.77" fill="#c4843f" fill-opacity="0.90"/><circle cx="43.1" cy="30.4" r="0.77" fill="#c4843f" fill-opacity="0.90"/><circle cx="15.1" cy="22.7" r="0.61" fill="#9a6a4a" fill-opacity="0.94"/><circle cx="20.2" cy="35.4" r="0.64" fill="#d59b5c" fill-opacity="0.92"/><circle cx="0.8" cy="6.9" r="0.45" fill="#a9692e" fill-opacity="0.83"/><circle cx="9.0" cy="20.1" r="0.61" fill="#d59b5c" fill-opacity="0.54"/><circle cx="13.6" cy="15.0" r="0.63" fill="#9a6a4a" fill-opacity="1.00"/><circle cx="30.8" cy="13.3" r="0.69" fill="#a9692e" fill-opacity="0.51"/><circle cx="29.1" cy="27.6" r="0.74" fill="#a9692e" fill-opacity="0.52"/><circle cx="0.5" cy="14.0" r="0.71" fill="#cf9250" fill-opacity="0.58"/><circle cx="43.5" cy="14.0" r="0.71" fill="#cf9250" fill-opacity="0.58"/><circle cx="4.9" cy="28.6" r="0.78" fill="#9a6a4a" fill-opacity="0.91"/><circle cx="8.9" cy="22.8" r="0.50" fill="#cf9250" fill-opacity="0.66"/><circle cx="32.2" cy="35.3" r="0.73" fill="#c4843f" fill-opacity="0.76"/><circle cx="11.0" cy="7.4" r="0.72" fill="#d59b5c" fill-opacity="0.63"/><circle cx="24.2" cy="26.8" r="0.52" fill="#c4843f" fill-opacity="0.90"/><circle cx="4.4" cy="23.0" r="0.42" fill="#b8773a" fill-opacity="0.80"/><circle cx="7.7" cy="14.9" r="0.77" fill="#c4843f" fill-opacity="0.78"/><circle cx="4.3" cy="1.2" r="0.84" fill="#c4843f" fill-opacity="0.69"/><circle cx="14.7" cy="30.5" r="0.81" fill="#b8773a" fill-opacity="0.53"/><circle cx="33.0" cy="30.4" r="0.54" fill="#a9692e" fill-opacity="0.63"/><circle cx="26.8" cy="26.9" r="0.66" fill="#b8773a" fill-opacity="0.62"/><circle cx="28.4" cy="22.5" r="0.36" fill="#d59b5c" fill-opacity="0.63"/><circle cx="13.2" cy="16.3" r="0.63" fill="#d59b5c" fill-opacity="0.56"/><circle cx="33.9" cy="30.5" r="0.66" fill="#cf9250" fill-opacity="0.54"/><circle cx="38.8" cy="20.3" r="0.53" fill="#b8773a" fill-opacity="0.73"/><circle cx="24.7" cy="7.3" r="0.82" fill="#9a6a4a" fill-opacity="1.00"/><circle cx="35.9" cy="7.3" r="0.82" fill="#b8773a" fill-opacity="0.79"/><circle cx="33.4" cy="5.0" r="0.59" fill="#d59b5c" fill-opacity="0.68"/><circle cx="14.2" cy="34.4" r="0.53" fill="#c4843f" fill-opacity="0.70"/><circle cx="19.4" cy="27.0" r="0.47" fill="#cf9250" fill-opacity="0.76"/><circle cx="24.1" cy="20.7" r="0.48" fill="#d59b5c" fill-opacity="0.95"/><circle cx="25.9" cy="4.5" r="0.76" fill="#d59b5c" fill-opacity="0.61"/><circle cx="10.4" cy="21.2" r="0.77" fill="#cf9250" fill-opacity="0.55"/><circle cx="34.9" cy="16.8" r="0.55" fill="#9a6a4a" fill-opacity="0.88"/><circle cx="5.9" cy="28.0" r="0.77" fill="#cf9250" fill-opacity="0.95"/><circle cx="25.5" cy="29.7" r="0.36" fill="#a9692e" fill-opacity="0.56"/><circle cx="1.4" cy="19.5" r="0.41" fill="#d59b5c" fill-opacity="0.67"/><circle cx="22.4" cy="9.8" r="0.63" fill="#9a6a4a" fill-opacity="0.63"/><circle cx="33.7" cy="26.7" r="0.74" fill="#a9692e" fill-opacity="0.67"/><circle cx="25.8" cy="17.4" r="0.56" fill="#9a6a4a" fill-opacity="0.79"/><circle cx="24.3" cy="15.1" r="0.49" fill="#a9692e" fill-opacity="0.94"/><circle cx="36.0" cy="31.6" r="0.55" fill="#cf9250" fill-opacity="0.69"/><circle cx="4.9" cy="34.7" r="0.52" fill="#a9692e" fill-opacity="0.74"/><circle cx="38.9" cy="11.9" r="0.38" fill="#a9692e" fill-opacity="0.85"/><circle cx="31.5" cy="22.1" r="0.73" fill="#cf9250" fill-opacity="0.62"/><circle cx="37.7" cy="9.0" r="0.77" fill="#a9692e" fill-opacity="0.58"/><circle cx="41.8" cy="17.6" r="0.40" fill="#cf9250" fill-opacity="0.95"/><circle cx="13.2" cy="14.6" r="0.47" fill="#9a6a4a" fill-opacity="0.49"/><circle cx="41.6" cy="24.6" r="0.78" fill="#b8773a" fill-opacity="0.68"/><circle cx="9.5" cy="27.6" r="0.63" fill="#c4843f" fill-opacity="0.95"/><circle cx="22.3" cy="4.8" r="0.79" fill="#a9692e" fill-opacity="0.77"/><circle cx="0.0" cy="9.0" r="0.50" fill="#c4843f" fill-opacity="0.63"/><circle cx="43.0" cy="9.0" r="0.50" fill="#c4843f" fill-opacity="0.63"/><circle cx="19.0" cy="16.7" r="0.62" fill="#9a6a4a" fill-opacity="0.53"/><circle cx="25.2" cy="1.7" r="0.37" fill="#d59b5c" fill-opacity="0.94"/><circle cx="13.9" cy="5.3" r="0.74" fill="#b8773a" fill-opacity="0.88"/><circle cx="8.7" cy="31.8" r="0.70" fill="#d59b5c" fill-opacity="0.48"/><circle cx="36.0" cy="13.1" r="0.59" fill="#9a6a4a" fill-opacity="0.54"/><circle cx="42.8" cy="7.5" r="0.67" fill="#c4843f" fill-opacity="0.56"/><circle cx="-0.2" cy="7.5" r="0.67" fill="#c4843f" fill-opacity="0.56"/><circle cx="28.0" cy="11.3" r="0.76" fill="#d59b5c" fill-opacity="0.98"/><circle cx="37.4" cy="26.4" r="0.42" fill="#a9692e" fill-opacity="0.83"/><circle cx="17.9" cy="6.3" r="0.78" fill="#9a6a4a" fill-opacity="0.52"/><circle cx="8.4" cy="6.7" r="0.47" fill="#d59b5c" fill-opacity="0.82"/><circle cx="16.0" cy="24.5" r="0.79" fill="#b8773a" fill-opacity="0.77"/><circle cx="42.0" cy="33.1" r="0.44" fill="#b8773a" fill-opacity="0.57"/><circle cx="27.5" cy="3.3" r="0.84" fill="#cf9250" fill-opacity="0.69"/><circle cx="3.2" cy="33.6" r="0.35" fill="#cf9250" fill-opacity="0.77"/><circle cx="10.8" cy="29.7" r="0.39" fill="#b8773a" fill-opacity="0.61"/><circle cx="10.6" cy="10.3" r="0.62" fill="#b8773a" fill-opacity="0.55"/><circle cx="42.5" cy="1.2" r="0.58" fill="#a9692e" fill-opacity="0.86"/><circle cx="-0.5" cy="1.2" r="0.58" fill="#a9692e" fill-opacity="0.86"/><circle cx="0.1" cy="33.0" r="0.38" fill="#9a6a4a" fill-opacity="0.49"/><circle cx="43.1" cy="33.0" r="0.38" fill="#9a6a4a" fill-opacity="0.49"/><circle cx="39.1" cy="11.9" r="0.59" fill="#d59b5c" fill-opacity="0.47"/><circle cx="21.7" cy="31.3" r="0.69" fill="#cf9250" fill-opacity="0.74"/><circle cx="7.5" cy="28.8" r="0.43" fill="#b8773a" fill-opacity="0.78"/><circle cx="28.7" cy="20.3" r="0.48" fill="#9a6a4a" fill-opacity="0.84"/><circle cx="10.1" cy="18.1" r="0.46" fill="#a9692e" fill-opacity="0.77"/><circle cx="11.2" cy="7.5" r="0.84" fill="#a9692e" fill-opacity="0.48"/><circle cx="37.5" cy="6.7" r="0.43" fill="#a9692e" fill-opacity="0.46"/><circle cx="34.7" cy="18.6" r="0.71" fill="#c4843f" fill-opacity="0.92"/><circle cx="3.1" cy="33.6" r="0.63" fill="#9a6a4a" fill-opacity="0.75"/><circle cx="10.2" cy="5.4" r="0.51" fill="#d59b5c" fill-opacity="0.47"/><circle cx="35.2" cy="27.3" r="0.74" fill="#a9692e" fill-opacity="0.87"/><circle cx="3.8" cy="30.4" r="0.44" fill="#b8773a" fill-opacity="0.59"/><circle cx="21.4" cy="24.4" r="0.65" fill="#d59b5c" fill-opacity="0.70"/><circle cx="17.7" cy="13.5" r="0.46" fill="#c4843f" fill-opacity="0.98"/><circle cx="5.5" cy="28.0" r="0.65" fill="#9a6a4a" fill-opacity="0.52"/><circle cx="19.6" cy="27.6" r="0.37" fill="#cf9250" fill-opacity="0.58"/><circle cx="6.1" cy="14.5" r="0.50" fill="#c4843f" fill-opacity="0.68"/><circle cx="41.8" cy="25.2" r="0.71" fill="#cf9250" fill-opacity="0.99"/><circle cx="9.9" cy="9.4" r="0.63" fill="#a9692e" fill-opacity="0.58"/><circle cx="3.7" cy="8.4" r="0.50" fill="#cf9250" fill-opacity="0.97"/><circle cx="9.4" cy="5.9" r="0.64" fill="#9a6a4a" fill-opacity="1.00"/><circle cx="14.8" cy="25.7" r="0.78" fill="#b8773a" fill-opacity="0.77"/><circle cx="19.9" cy="14.5" r="0.77" fill="#c4843f" fill-opacity="0.66"/><circle cx="9.3" cy="12.9" r="0.44" fill="#b8773a" fill-opacity="0.75"/><circle cx="20.6" cy="14.8" r="0.65" fill="#a9692e" fill-opacity="0.87"/><circle cx="19.2" cy="36.8" r="0.69" fill="#b8773a" fill-opacity="0.92"/><circle cx="19.2" cy="-0.2" r="0.69" fill="#b8773a" fill-opacity="0.92"/><circle cx="23.2" cy="15.5" r="0.37" fill="#d59b5c" fill-opacity="0.60"/><circle cx="26.7" cy="19.2" r="0.72" fill="#cf9250" fill-opacity="0.73"/><circle cx="39.7" cy="26.5" r="0.48" fill="#b8773a" fill-opacity="0.65"/><circle cx="31.3" cy="28.7" r="0.42" fill="#c4843f" fill-opacity="0.58"/><circle cx="0.9" cy="11.9" r="0.54" fill="#a9692e" fill-opacity="0.50"/><circle cx="14.0" cy="28.5" r="0.61" fill="#a9692e" fill-opacity="0.48"/><circle cx="26.1" cy="18.1" r="0.44" fill="#b8773a" fill-opacity="0.73"/><circle cx="1.4" cy="11.6" r="0.56" fill="#b8773a" fill-opacity="0.75"/><circle cx="22.2" cy="20.3" r="0.51" fill="#a9692e" fill-opacity="0.70"/><circle cx="6.3" cy="7.6" r="0.49" fill="#a9692e" fill-opacity="0.84"/><circle cx="5.9" cy="19.1" r="0.53" fill="#d59b5c" fill-opacity="0.51"/><circle cx="14.8" cy="8.0" r="0.37" fill="#9a6a4a" fill-opacity="0.46"/><circle cx="20.8" cy="0.4" r="0.73" fill="#9a6a4a" fill-opacity="0.86"/><circle cx="20.8" cy="37.4" r="0.73" fill="#9a6a4a" fill-opacity="0.86"/><circle cx="28.8" cy="34.0" r="0.46" fill="#9a6a4a" fill-opacity="0.83"/><circle cx="5.3" cy="28.7" r="0.54" fill="#d59b5c" fill-opacity="0.88"/><circle cx="3.9" cy="15.8" r="0.55" fill="#a9692e" fill-opacity="0.48"/><circle cx="40.0" cy="10.5" r="0.70" fill="#a9692e" fill-opacity="0.57"/><circle cx="8.7" cy="28.4" r="0.53" fill="#cf9250" fill-opacity="0.84"/><circle cx="4.0" cy="12.6" r="0.56" fill="#cf9250" fill-opacity="0.53"/><circle cx="11.1" cy="31.6" r="0.50" fill="#a9692e" fill-opacity="0.95"/><circle cx="5.2" cy="33.7" r="0.81" fill="#a9692e" fill-opacity="0.60"/><circle cx="21.3" cy="21.7" r="0.58" fill="#d59b5c" fill-opacity="0.63"/><circle cx="3.1" cy="1.3" r="0.51" fill="#d59b5c" fill-opacity="0.66"/><circle cx="11.3" cy="24.7" r="0.44" fill="#cf9250" fill-opacity="0.71"/><circle cx="14.7" cy="33.2" r="0.37" fill="#b8773a" fill-opacity="0.84"/><circle cx="33.2" cy="23.2" r="0.66" fill="#a9692e" fill-opacity="0.68"/><circle cx="2.7" cy="2.5" r="0.58" fill="#a9692e" fill-opacity="0.70"/><circle cx="1.6" cy="5.0" r="0.60" fill="#d59b5c" fill-opacity="0.62"/><circle cx="20.3" cy="0.8" r="0.65" fill="#d59b5c" fill-opacity="0.60"/><circle cx="29.2" cy="8.7" r="0.35" fill="#a9692e" fill-opacity="0.75"/><circle cx="0.2" cy="20.2" r="0.77" fill="#c4843f" fill-opacity="0.87"/><circle cx="43.2" cy="20.2" r="0.77" fill="#c4843f" fill-opacity="0.87"/><circle cx="26.8" cy="20.7" r="0.77" fill="#d59b5c" fill-opacity="0.98"/><circle cx="11.4" cy="3.8" r="0.36" fill="#b8773a" fill-opacity="0.89"/><circle cx="29.9" cy="25.4" r="0.83" fill="#b8773a" fill-opacity="0.90"/><circle cx="14.3" cy="25.5" r="0.75" fill="#a9692e" fill-opacity="0.61"/><circle cx="12.3" cy="27.7" r="0.62" fill="#b8773a" fill-opacity="0.58"/><circle cx="15.6" cy="26.1" r="0.81" fill="#c4843f" fill-opacity="0.86"/><circle cx="42.5" cy="30.3" r="0.79" fill="#a9692e" fill-opacity="0.62"/><circle cx="-0.5" cy="30.3" r="0.79" fill="#a9692e" fill-opacity="0.62"/><circle cx="22.0" cy="25.1" r="0.37" fill="#a9692e" fill-opacity="0.79"/><circle cx="37.4" cy="2.0" r="0.48" fill="#9a6a4a" fill-opacity="0.73"/><circle cx="16.9" cy="26.5" r="0.48" fill="#d59b5c" fill-opacity="0.84"/><circle cx="7.9" cy="31.7" r="0.45" fill="#b8773a" fill-opacity="0.76"/><circle cx="24.4" cy="15.6" r="0.70" fill="#d59b5c" fill-opacity="0.79"/><circle cx="34.5" cy="4.6" r="0.54" fill="#b8773a" fill-opacity="0.82"/><circle cx="28.0" cy="36.0" r="0.59" fill="#b8773a" fill-opacity="0.83"/><circle cx="11.5" cy="10.0" r="0.48" fill="#a9692e" fill-opacity="0.82"/><circle cx="40.1" cy="36.6" r="0.37" fill="#c4843f" fill-opacity="0.84"/><circle cx="37.4" cy="7.2" r="0.53" fill="#c4843f" fill-opacity="0.75"/><circle cx="17.4" cy="33.5" r="0.77" fill="#b8773a" fill-opacity="0.92"/><circle cx="16.1" cy="11.4" r="0.75" fill="#d59b5c" fill-opacity="0.91"/><circle cx="9.6" cy="26.7" r="0.55" fill="#cf9250" fill-opacity="0.53"/><circle cx="16.7" cy="25.7" r="0.62" fill="#b8773a" fill-opacity="0.89"/><circle cx="19.0" cy="30.9" r="0.63" fill="#a9692e" fill-opacity="0.94"/><circle cx="18.6" cy="5.6" r="0.79" fill="#cf9250" fill-opacity="0.60"/><circle cx="6.2" cy="23.1" r="0.49" fill="#a9692e" fill-opacity="0.58"/><circle cx="8.6" cy="20.4" r="0.63" fill="#c4843f" fill-opacity="0.53"/><circle cx="38.4" cy="11.4" r="0.39" fill="#a9692e" fill-opacity="0.55"/><circle cx="6.0" cy="29.2" r="0.85" fill="#c4843f" fill-opacity="0.67"/><circle cx="17.8" cy="29.9" r="0.55" fill="#cf9250" fill-opacity="0.48"/></pattern><pattern id="pB2" patternUnits="userSpaceOnUse" width="41" height="39"><circle cx="19.5" cy="25.6" r="0.68" fill="#c4843f" fill-opacity="0.53"/><circle cx="40.9" cy="18.8" r="0.67" fill="#cf9250" fill-opacity="0.70"/><circle cx="-0.1" cy="18.8" r="0.67" fill="#cf9250" fill-opacity="0.70"/><circle cx="9.3" cy="0.1" r="0.66" fill="#d59b5c" fill-opacity="0.99"/><circle cx="9.3" cy="39.1" r="0.66" fill="#d59b5c" fill-opacity="0.99"/><circle cx="6.7" cy="35.3" r="0.38" fill="#c4843f" fill-opacity="0.90"/><circle cx="21.1" cy="32.0" r="0.69" fill="#c4843f" fill-opacity="0.89"/><circle cx="0.8" cy="2.4" r="0.81" fill="#c4843f" fill-opacity="0.73"/><circle cx="41.8" cy="2.4" r="0.81" fill="#c4843f" fill-opacity="0.73"/><circle cx="40.6" cy="16.5" r="0.57" fill="#b8773a" fill-opacity="0.81"/><circle cx="-0.4" cy="16.5" r="0.57" fill="#b8773a" fill-opacity="0.81"/><circle cx="22.1" cy="34.4" r="0.63" fill="#c4843f" fill-opacity="0.99"/><circle cx="22.8" cy="19.8" r="0.39" fill="#9a6a4a" fill-opacity="0.78"/><circle cx="24.4" cy="18.6" r="0.54" fill="#9a6a4a" fill-opacity="0.47"/><circle cx="3.4" cy="7.5" r="0.74" fill="#d59b5c" fill-opacity="0.59"/><circle cx="35.5" cy="15.0" r="0.50" fill="#d59b5c" fill-opacity="0.59"/><circle cx="14.9" cy="19.9" r="0.76" fill="#c4843f" fill-opacity="0.73"/><circle cx="15.6" cy="33.5" r="0.37" fill="#9a6a4a" fill-opacity="0.46"/><circle cx="17.5" cy="15.1" r="0.74" fill="#cf9250" fill-opacity="0.51"/><circle cx="9.0" cy="3.0" r="0.49" fill="#a9692e" fill-opacity="0.69"/><circle cx="14.1" cy="24.8" r="0.38" fill="#b8773a" fill-opacity="0.70"/><circle cx="13.9" cy="17.8" r="0.70" fill="#b8773a" fill-opacity="0.92"/><circle cx="39.2" cy="6.5" r="0.81" fill="#b8773a" fill-opacity="0.65"/><circle cx="31.4" cy="8.6" r="0.65" fill="#d59b5c" fill-opacity="0.97"/><circle cx="7.4" cy="31.0" r="0.60" fill="#c4843f" fill-opacity="0.59"/><circle cx="40.3" cy="38.9" r="0.60" fill="#d59b5c" fill-opacity="0.46"/><circle cx="40.3" cy="-0.1" r="0.60" fill="#d59b5c" fill-opacity="0.46"/><circle cx="36.2" cy="26.1" r="0.49" fill="#cf9250" fill-opacity="0.51"/><circle cx="20.6" cy="19.1" r="0.53" fill="#a9692e" fill-opacity="0.83"/><circle cx="36.7" cy="6.3" r="0.50" fill="#d59b5c" fill-opacity="0.93"/><circle cx="13.5" cy="33.6" r="0.67" fill="#b8773a" fill-opacity="0.69"/><circle cx="30.1" cy="20.3" r="0.36" fill="#c4843f" fill-opacity="0.45"/><circle cx="5.4" cy="34.6" r="0.56" fill="#a9692e" fill-opacity="0.58"/><circle cx="19.3" cy="2.3" r="0.64" fill="#d59b5c" fill-opacity="0.85"/><circle cx="31.2" cy="16.3" r="0.64" fill="#b8773a" fill-opacity="0.95"/><circle cx="23.8" cy="13.6" r="0.53" fill="#cf9250" fill-opacity="0.85"/><circle cx="6.6" cy="26.9" r="0.43" fill="#c4843f" fill-opacity="0.47"/><circle cx="36.8" cy="35.5" r="0.62" fill="#a9692e" fill-opacity="0.88"/><circle cx="32.5" cy="27.7" r="0.44" fill="#9a6a4a" fill-opacity="0.60"/><circle cx="28.1" cy="19.2" r="0.66" fill="#cf9250" fill-opacity="0.57"/><circle cx="28.7" cy="15.4" r="0.47" fill="#d59b5c" fill-opacity="0.67"/><circle cx="3.4" cy="13.0" r="0.69" fill="#d59b5c" fill-opacity="0.85"/><circle cx="28.5" cy="29.6" r="0.68" fill="#d59b5c" fill-opacity="0.96"/><circle cx="7.2" cy="8.2" r="0.66" fill="#c4843f" fill-opacity="0.72"/><circle cx="27.4" cy="13.3" r="0.47" fill="#b8773a" fill-opacity="0.63"/><circle cx="0.3" cy="14.1" r="0.49" fill="#a9692e" fill-opacity="0.56"/><circle cx="41.3" cy="14.1" r="0.49" fill="#a9692e" fill-opacity="0.56"/><circle cx="12.1" cy="20.1" r="0.42" fill="#d59b5c" fill-opacity="0.95"/><circle cx="6.7" cy="18.1" r="0.65" fill="#b8773a" fill-opacity="0.91"/><circle cx="18.9" cy="30.6" r="0.37" fill="#a9692e" fill-opacity="0.87"/><circle cx="22.1" cy="29.7" r="0.55" fill="#9a6a4a" fill-opacity="0.82"/><circle cx="2.1" cy="4.1" r="0.64" fill="#9a6a4a" fill-opacity="0.62"/><circle cx="0.7" cy="30.2" r="0.80" fill="#b8773a" fill-opacity="0.80"/><circle cx="41.7" cy="30.2" r="0.80" fill="#b8773a" fill-opacity="0.80"/><circle cx="5.6" cy="8.8" r="0.62" fill="#c4843f" fill-opacity="0.59"/><circle cx="17.6" cy="14.2" r="0.55" fill="#d59b5c" fill-opacity="0.80"/><circle cx="16.0" cy="34.1" r="0.80" fill="#b8773a" fill-opacity="0.63"/><circle cx="10.6" cy="1.3" r="0.68" fill="#a9692e" fill-opacity="0.89"/><circle cx="16.9" cy="24.1" r="0.48" fill="#a9692e" fill-opacity="0.67"/><circle cx="20.2" cy="36.7" r="0.76" fill="#b8773a" fill-opacity="0.55"/><circle cx="34.3" cy="4.3" r="0.48" fill="#9a6a4a" fill-opacity="0.94"/><circle cx="35.8" cy="32.0" r="0.53" fill="#d59b5c" fill-opacity="0.85"/><circle cx="31.6" cy="33.5" r="0.51" fill="#9a6a4a" fill-opacity="0.93"/><circle cx="36.1" cy="1.0" r="0.50" fill="#b8773a" fill-opacity="0.46"/><circle cx="8.0" cy="7.7" r="0.75" fill="#b8773a" fill-opacity="0.96"/><circle cx="31.7" cy="21.3" r="0.36" fill="#d59b5c" fill-opacity="0.95"/><circle cx="28.1" cy="20.9" r="0.57" fill="#9a6a4a" fill-opacity="0.74"/><circle cx="5.2" cy="15.3" r="0.59" fill="#d59b5c" fill-opacity="0.61"/><circle cx="26.0" cy="15.2" r="0.56" fill="#9a6a4a" fill-opacity="0.73"/><circle cx="34.6" cy="0.8" r="0.43" fill="#d59b5c" fill-opacity="0.87"/><circle cx="28.3" cy="37.3" r="0.69" fill="#a9692e" fill-opacity="0.68"/><circle cx="39.5" cy="14.6" r="0.39" fill="#d59b5c" fill-opacity="0.95"/><circle cx="2.6" cy="4.2" r="0.39" fill="#c4843f" fill-opacity="0.48"/><circle cx="38.3" cy="1.2" r="0.69" fill="#9a6a4a" fill-opacity="0.76"/><circle cx="39.4" cy="29.1" r="0.82" fill="#b8773a" fill-opacity="0.47"/><circle cx="24.1" cy="31.3" r="0.66" fill="#d59b5c" fill-opacity="0.70"/><circle cx="17.4" cy="21.2" r="0.51" fill="#c4843f" fill-opacity="0.58"/><circle cx="26.9" cy="13.2" r="0.38" fill="#9a6a4a" fill-opacity="0.89"/><circle cx="38.3" cy="14.1" r="0.50" fill="#cf9250" fill-opacity="0.96"/><circle cx="5.6" cy="10.8" r="0.45" fill="#a9692e" fill-opacity="0.52"/><circle cx="30.0" cy="32.2" r="0.73" fill="#a9692e" fill-opacity="0.64"/><circle cx="31.4" cy="34.4" r="0.76" fill="#cf9250" fill-opacity="0.64"/><circle cx="26.1" cy="24.2" r="0.38" fill="#d59b5c" fill-opacity="0.64"/><circle cx="25.1" cy="4.9" r="0.62" fill="#9a6a4a" fill-opacity="0.97"/><circle cx="11.4" cy="13.4" r="0.85" fill="#cf9250" fill-opacity="0.52"/><circle cx="25.9" cy="6.7" r="0.62" fill="#cf9250" fill-opacity="0.78"/><circle cx="11.3" cy="13.1" r="0.54" fill="#d59b5c" fill-opacity="0.95"/><circle cx="38.7" cy="23.3" r="0.39" fill="#b8773a" fill-opacity="0.79"/><circle cx="38.6" cy="24.2" r="0.66" fill="#b8773a" fill-opacity="0.92"/><circle cx="12.2" cy="13.0" r="0.68" fill="#cf9250" fill-opacity="0.67"/><circle cx="13.5" cy="21.0" r="0.77" fill="#d59b5c" fill-opacity="0.74"/><circle cx="6.7" cy="18.9" r="0.40" fill="#a9692e" fill-opacity="0.62"/><circle cx="9.4" cy="2.6" r="0.69" fill="#d59b5c" fill-opacity="0.55"/><circle cx="26.2" cy="24.9" r="0.64" fill="#d59b5c" fill-opacity="0.71"/><circle cx="18.8" cy="36.5" r="0.55" fill="#d59b5c" fill-opacity="0.71"/><circle cx="11.2" cy="35.2" r="0.45" fill="#9a6a4a" fill-opacity="0.77"/><circle cx="19.9" cy="25.7" r="0.71" fill="#d59b5c" fill-opacity="0.92"/><circle cx="14.6" cy="12.0" r="0.36" fill="#d59b5c" fill-opacity="0.94"/><circle cx="16.0" cy="37.7" r="0.80" fill="#cf9250" fill-opacity="0.53"/><circle cx="17.3" cy="12.3" r="0.48" fill="#c4843f" fill-opacity="0.68"/><circle cx="5.8" cy="17.7" r="0.62" fill="#b8773a" fill-opacity="0.59"/><circle cx="5.0" cy="32.4" r="0.54" fill="#cf9250" fill-opacity="0.72"/><circle cx="3.8" cy="7.5" r="0.77" fill="#cf9250" fill-opacity="0.66"/><circle cx="37.3" cy="36.3" r="0.61" fill="#b8773a" fill-opacity="0.65"/><circle cx="5.2" cy="8.1" r="0.77" fill="#b8773a" fill-opacity="0.51"/><circle cx="10.7" cy="20.8" r="0.80" fill="#cf9250" fill-opacity="0.51"/><circle cx="21.3" cy="37.6" r="0.63" fill="#c4843f" fill-opacity="0.92"/><circle cx="17.9" cy="0.8" r="0.60" fill="#a9692e" fill-opacity="0.65"/><circle cx="3.5" cy="21.3" r="0.81" fill="#cf9250" fill-opacity="0.70"/><circle cx="16.4" cy="0.3" r="0.60" fill="#b8773a" fill-opacity="0.68"/><circle cx="16.4" cy="39.3" r="0.60" fill="#b8773a" fill-opacity="0.68"/><circle cx="1.0" cy="31.0" r="0.61" fill="#d59b5c" fill-opacity="0.79"/><circle cx="9.0" cy="15.9" r="0.75" fill="#cf9250" fill-opacity="0.86"/><circle cx="3.3" cy="26.5" r="0.37" fill="#d59b5c" fill-opacity="0.61"/><circle cx="28.4" cy="13.5" r="0.68" fill="#c4843f" fill-opacity="0.90"/><circle cx="40.0" cy="5.5" r="0.65" fill="#cf9250" fill-opacity="0.52"/><circle cx="21.8" cy="6.9" r="0.76" fill="#b8773a" fill-opacity="0.92"/><circle cx="34.1" cy="0.8" r="0.42" fill="#a9692e" fill-opacity="0.70"/><circle cx="28.7" cy="29.3" r="0.76" fill="#d59b5c" fill-opacity="0.86"/><circle cx="17.7" cy="29.8" r="0.45" fill="#cf9250" fill-opacity="0.97"/><circle cx="14.6" cy="11.4" r="0.66" fill="#d59b5c" fill-opacity="0.65"/><circle cx="13.3" cy="22.1" r="0.62" fill="#cf9250" fill-opacity="0.74"/><circle cx="37.1" cy="11.6" r="0.79" fill="#c4843f" fill-opacity="0.62"/><circle cx="37.6" cy="9.3" r="0.62" fill="#b8773a" fill-opacity="0.88"/><circle cx="36.3" cy="3.4" r="0.83" fill="#9a6a4a" fill-opacity="0.79"/><circle cx="17.7" cy="31.9" r="0.69" fill="#c4843f" fill-opacity="1.00"/><circle cx="17.9" cy="35.5" r="0.51" fill="#d59b5c" fill-opacity="0.48"/><circle cx="27.1" cy="18.7" r="0.45" fill="#c4843f" fill-opacity="0.57"/><circle cx="33.9" cy="26.1" r="0.60" fill="#b8773a" fill-opacity="0.89"/><circle cx="21.1" cy="26.3" r="0.58" fill="#9a6a4a" fill-opacity="0.88"/><circle cx="13.8" cy="7.5" r="0.81" fill="#9a6a4a" fill-opacity="0.52"/><circle cx="6.9" cy="18.4" r="0.57" fill="#b8773a" fill-opacity="0.53"/><circle cx="26.7" cy="8.3" r="0.48" fill="#a9692e" fill-opacity="0.49"/><circle cx="40.5" cy="26.7" r="0.61" fill="#a9692e" fill-opacity="0.69"/><circle cx="-0.5" cy="26.7" r="0.61" fill="#a9692e" fill-opacity="0.69"/><circle cx="37.2" cy="6.6" r="0.77" fill="#b8773a" fill-opacity="0.76"/><circle cx="26.7" cy="5.6" r="0.62" fill="#d59b5c" fill-opacity="0.54"/><circle cx="25.7" cy="25.9" r="0.37" fill="#a9692e" fill-opacity="0.71"/><circle cx="30.4" cy="5.5" r="0.81" fill="#a9692e" fill-opacity="0.92"/><circle cx="25.0" cy="27.0" r="0.63" fill="#a9692e" fill-opacity="0.53"/><circle cx="32.5" cy="37.9" r="0.80" fill="#cf9250" fill-opacity="0.73"/><circle cx="10.2" cy="33.5" r="0.48" fill="#b8773a" fill-opacity="0.49"/><circle cx="22.5" cy="35.7" r="0.62" fill="#c4843f" fill-opacity="0.77"/><circle cx="17.5" cy="1.6" r="0.77" fill="#b8773a" fill-opacity="0.52"/><circle cx="25.8" cy="30.0" r="0.63" fill="#9a6a4a" fill-opacity="0.82"/><circle cx="37.2" cy="0.3" r="0.72" fill="#d59b5c" fill-opacity="0.53"/><circle cx="37.2" cy="39.3" r="0.72" fill="#d59b5c" fill-opacity="0.53"/><circle cx="22.9" cy="3.5" r="0.68" fill="#cf9250" fill-opacity="0.84"/><circle cx="33.4" cy="19.9" r="0.75" fill="#b8773a" fill-opacity="0.49"/><circle cx="37.6" cy="1.0" r="0.52" fill="#b8773a" fill-opacity="0.98"/><circle cx="4.4" cy="0.4" r="0.73" fill="#d59b5c" fill-opacity="0.65"/><circle cx="4.4" cy="39.4" r="0.73" fill="#d59b5c" fill-opacity="0.65"/><circle cx="29.6" cy="4.6" r="0.68" fill="#cf9250" fill-opacity="0.54"/><circle cx="32.7" cy="3.8" r="0.70" fill="#a9692e" fill-opacity="0.90"/><circle cx="15.2" cy="10.9" r="0.53" fill="#d59b5c" fill-opacity="0.51"/><circle cx="11.2" cy="27.1" r="0.79" fill="#a9692e" fill-opacity="0.59"/><circle cx="19.6" cy="0.2" r="0.39" fill="#b8773a" fill-opacity="0.45"/><circle cx="19.6" cy="39.2" r="0.39" fill="#b8773a" fill-opacity="0.45"/><circle cx="18.0" cy="19.5" r="0.62" fill="#a9692e" fill-opacity="0.92"/><circle cx="36.3" cy="29.8" r="0.54" fill="#b8773a" fill-opacity="0.49"/><circle cx="24.9" cy="6.6" r="0.84" fill="#a9692e" fill-opacity="0.91"/><circle cx="12.8" cy="11.6" r="0.71" fill="#b8773a" fill-opacity="0.48"/><circle cx="12.9" cy="15.3" r="0.51" fill="#b8773a" fill-opacity="0.84"/><circle cx="37.8" cy="31.3" r="0.56" fill="#d59b5c" fill-opacity="0.49"/><circle cx="40.5" cy="0.2" r="0.58" fill="#d59b5c" fill-opacity="0.65"/><circle cx="40.5" cy="39.2" r="0.58" fill="#d59b5c" fill-opacity="0.65"/><circle cx="-0.5" cy="0.2" r="0.58" fill="#d59b5c" fill-opacity="0.65"/><circle cx="-0.5" cy="39.2" r="0.58" fill="#d59b5c" fill-opacity="0.65"/><circle cx="13.9" cy="0.8" r="0.52" fill="#b8773a" fill-opacity="0.58"/><circle cx="2.4" cy="5.3" r="0.81" fill="#cf9250" fill-opacity="0.85"/><circle cx="33.4" cy="28.8" r="0.46" fill="#9a6a4a" fill-opacity="0.51"/><circle cx="26.7" cy="27.6" r="0.36" fill="#c4843f" fill-opacity="0.65"/><circle cx="15.1" cy="6.7" r="0.57" fill="#c4843f" fill-opacity="0.51"/><circle cx="37.8" cy="21.8" r="0.77" fill="#9a6a4a" fill-opacity="0.55"/><circle cx="7.3" cy="19.4" r="0.56" fill="#b8773a" fill-opacity="0.55"/><circle cx="12.5" cy="29.4" r="0.81" fill="#c4843f" fill-opacity="0.47"/><circle cx="2.1" cy="28.6" r="0.73" fill="#d59b5c" fill-opacity="0.84"/><circle cx="6.8" cy="16.5" r="0.56" fill="#c4843f" fill-opacity="0.49"/><circle cx="1.7" cy="38.3" r="0.69" fill="#c4843f" fill-opacity="0.99"/><circle cx="1.7" cy="-0.7" r="0.69" fill="#c4843f" fill-opacity="0.99"/><circle cx="19.3" cy="25.0" r="0.56" fill="#d59b5c" fill-opacity="0.90"/><circle cx="26.6" cy="18.8" r="0.78" fill="#cf9250" fill-opacity="0.77"/><circle cx="19.5" cy="5.2" r="0.45" fill="#a9692e" fill-opacity="0.45"/><circle cx="31.7" cy="12.9" r="0.71" fill="#a9692e" fill-opacity="0.58"/><circle cx="11.5" cy="23.2" r="0.74" fill="#b8773a" fill-opacity="0.56"/><circle cx="34.0" cy="0.9" r="0.60" fill="#9a6a4a" fill-opacity="0.90"/><circle cx="17.5" cy="8.7" r="0.65" fill="#a9692e" fill-opacity="0.68"/><circle cx="6.7" cy="35.5" r="0.80" fill="#cf9250" fill-opacity="0.95"/><circle cx="20.4" cy="26.6" r="0.81" fill="#c4843f" fill-opacity="0.99"/><circle cx="38.7" cy="21.0" r="0.79" fill="#cf9250" fill-opacity="0.59"/><circle cx="10.5" cy="27.9" r="0.63" fill="#9a6a4a" fill-opacity="0.70"/><circle cx="38.4" cy="16.9" r="0.38" fill="#c4843f" fill-opacity="0.79"/><circle cx="26.2" cy="27.5" r="0.78" fill="#cf9250" fill-opacity="0.74"/><circle cx="1.3" cy="29.8" r="0.62" fill="#c4843f" fill-opacity="0.95"/><circle cx="36.9" cy="4.8" r="0.54" fill="#c4843f" fill-opacity="0.79"/><circle cx="25.1" cy="32.9" r="0.82" fill="#d59b5c" fill-opacity="0.47"/><circle cx="2.4" cy="37.0" r="0.40" fill="#9a6a4a" fill-opacity="0.82"/><circle cx="22.6" cy="14.7" r="0.44" fill="#d59b5c" fill-opacity="0.67"/><circle cx="10.0" cy="36.0" r="0.45" fill="#a9692e" fill-opacity="0.72"/><circle cx="35.9" cy="38.0" r="0.45" fill="#c4843f" fill-opacity="0.54"/><circle cx="22.2" cy="3.6" r="0.64" fill="#a9692e" fill-opacity="0.69"/><circle cx="15.2" cy="19.7" r="0.65" fill="#cf9250" fill-opacity="0.75"/><circle cx="27.4" cy="2.2" r="0.46" fill="#a9692e" fill-opacity="0.60"/><circle cx="18.3" cy="26.5" r="0.75" fill="#b8773a" fill-opacity="0.61"/><circle cx="9.8" cy="19.6" r="0.66" fill="#c4843f" fill-opacity="0.90"/><circle cx="1.5" cy="15.8" r="0.36" fill="#d59b5c" fill-opacity="0.96"/><circle cx="12.6" cy="5.8" r="0.36" fill="#9a6a4a" fill-opacity="0.98"/><circle cx="18.3" cy="23.5" r="0.59" fill="#c4843f" fill-opacity="0.83"/><circle cx="26.0" cy="0.4" r="0.49" fill="#cf9250" fill-opacity="0.89"/><circle cx="26.0" cy="39.4" r="0.49" fill="#cf9250" fill-opacity="0.89"/><circle cx="20.1" cy="5.3" r="0.60" fill="#cf9250" fill-opacity="1.00"/><circle cx="32.8" cy="38.1" r="0.40" fill="#d59b5c" fill-opacity="0.70"/><circle cx="31.5" cy="35.7" r="0.46" fill="#cf9250" fill-opacity="0.96"/><circle cx="17.2" cy="29.8" r="0.69" fill="#d59b5c" fill-opacity="0.51"/><circle cx="19.4" cy="36.2" r="0.74" fill="#9a6a4a" fill-opacity="0.90"/><circle cx="29.4" cy="38.5" r="0.42" fill="#b8773a" fill-opacity="0.83"/><circle cx="2.7" cy="7.4" r="0.42" fill="#a9692e" fill-opacity="0.92"/><circle cx="5.0" cy="33.2" r="0.41" fill="#c4843f" fill-opacity="0.77"/><circle cx="11.0" cy="18.7" r="0.69" fill="#d59b5c" fill-opacity="0.81"/><circle cx="39.5" cy="7.9" r="0.83" fill="#9a6a4a" fill-opacity="0.69"/><circle cx="27.9" cy="33.2" r="0.65" fill="#d59b5c" fill-opacity="0.94"/><circle cx="12.6" cy="35.1" r="0.58" fill="#d59b5c" fill-opacity="0.72"/><circle cx="6.1" cy="34.4" r="0.76" fill="#9a6a4a" fill-opacity="0.56"/><circle cx="9.4" cy="23.7" r="0.51" fill="#cf9250" fill-opacity="0.46"/><circle cx="20.7" cy="24.5" r="0.41" fill="#b8773a" fill-opacity="0.70"/><circle cx="15.3" cy="29.0" r="0.65" fill="#9a6a4a" fill-opacity="0.89"/><circle cx="4.9" cy="21.2" r="0.42" fill="#9a6a4a" fill-opacity="0.73"/><circle cx="29.5" cy="16.2" r="0.64" fill="#a9692e" fill-opacity="0.63"/><circle cx="29.1" cy="25.5" r="0.72" fill="#cf9250" fill-opacity="0.64"/><circle cx="0.5" cy="36.7" r="0.64" fill="#c4843f" fill-opacity="0.60"/><circle cx="41.5" cy="36.7" r="0.64" fill="#c4843f" fill-opacity="0.60"/><circle cx="14.1" cy="20.0" r="0.42" fill="#d59b5c" fill-opacity="0.81"/><circle cx="32.9" cy="5.6" r="0.69" fill="#c4843f" fill-opacity="0.86"/><circle cx="20.8" cy="16.8" r="0.42" fill="#cf9250" fill-opacity="0.62"/><circle cx="11.3" cy="15.9" r="0.39" fill="#cf9250" fill-opacity="0.57"/><circle cx="35.5" cy="32.9" r="0.69" fill="#9a6a4a" fill-opacity="0.72"/><circle cx="4.2" cy="32.7" r="0.54" fill="#a9692e" fill-opacity="0.60"/><circle cx="14.5" cy="27.3" r="0.61" fill="#9a6a4a" fill-opacity="0.77"/><circle cx="13.3" cy="3.3" r="0.57" fill="#a9692e" fill-opacity="0.52"/><circle cx="22.2" cy="34.5" r="0.42" fill="#a9692e" fill-opacity="0.72"/><circle cx="23.4" cy="15.0" r="0.78" fill="#9a6a4a" fill-opacity="0.96"/><circle cx="22.9" cy="11.7" r="0.81" fill="#9a6a4a" fill-opacity="0.93"/><circle cx="27.7" cy="28.5" r="0.48" fill="#cf9250" fill-opacity="0.82"/><circle cx="39.1" cy="4.7" r="0.73" fill="#a9692e" fill-opacity="0.95"/><circle cx="16.0" cy="24.4" r="0.81" fill="#c4843f" fill-opacity="0.84"/><circle cx="0.4" cy="3.5" r="0.61" fill="#cf9250" fill-opacity="0.83"/><circle cx="41.4" cy="3.5" r="0.61" fill="#cf9250" fill-opacity="0.83"/><circle cx="27.2" cy="4.0" r="0.82" fill="#b8773a" fill-opacity="0.93"/><circle cx="36.9" cy="32.6" r="0.69" fill="#c4843f" fill-opacity="0.87"/><circle cx="11.2" cy="30.7" r="0.76" fill="#b8773a" fill-opacity="0.65"/><circle cx="20.9" cy="13.2" r="0.60" fill="#9a6a4a" fill-opacity="0.62"/><circle cx="32.9" cy="37.2" r="0.74" fill="#a9692e" fill-opacity="0.68"/><circle cx="0.8" cy="17.9" r="0.81" fill="#9a6a4a" fill-opacity="0.74"/><circle cx="41.8" cy="17.9" r="0.81" fill="#9a6a4a" fill-opacity="0.74"/><circle cx="10.3" cy="5.9" r="0.37" fill="#cf9250" fill-opacity="0.69"/><circle cx="25.7" cy="31.7" r="0.55" fill="#9a6a4a" fill-opacity="0.96"/><circle cx="36.8" cy="35.4" r="0.53" fill="#9a6a4a" fill-opacity="0.64"/><circle cx="33.9" cy="23.0" r="0.63" fill="#cf9250" fill-opacity="0.46"/><circle cx="8.8" cy="10.2" r="0.50" fill="#d59b5c" fill-opacity="0.51"/><circle cx="6.5" cy="12.8" r="0.74" fill="#b8773a" fill-opacity="0.77"/><circle cx="10.3" cy="14.8" r="0.39" fill="#9a6a4a" fill-opacity="0.65"/><circle cx="23.8" cy="25.4" r="0.80" fill="#cf9250" fill-opacity="0.50"/><circle cx="9.0" cy="28.1" r="0.61" fill="#cf9250" fill-opacity="0.81"/><circle cx="32.8" cy="19.6" r="0.56" fill="#b8773a" fill-opacity="0.76"/><circle cx="38.6" cy="12.6" r="0.38" fill="#9a6a4a" fill-opacity="0.88"/><circle cx="29.0" cy="20.7" r="0.56" fill="#cf9250" fill-opacity="0.88"/><circle cx="4.6" cy="13.9" r="0.40" fill="#d59b5c" fill-opacity="0.90"/><circle cx="34.0" cy="28.9" r="0.79" fill="#9a6a4a" fill-opacity="0.61"/><circle cx="9.3" cy="27.5" r="0.63" fill="#a9692e" fill-opacity="0.68"/><circle cx="34.3" cy="10.8" r="0.52" fill="#cf9250" fill-opacity="0.59"/><circle cx="21.5" cy="4.2" r="0.70" fill="#a9692e" fill-opacity="0.45"/><circle cx="34.3" cy="31.0" r="0.38" fill="#c4843f" fill-opacity="0.70"/><circle cx="40.2" cy="12.4" r="0.72" fill="#c4843f" fill-opacity="0.63"/><circle cx="35.4" cy="29.3" r="0.59" fill="#d59b5c" fill-opacity="0.54"/><circle cx="19.5" cy="35.1" r="0.72" fill="#c4843f" fill-opacity="0.54"/><circle cx="23.3" cy="34.3" r="0.71" fill="#d59b5c" fill-opacity="0.58"/><circle cx="15.7" cy="2.1" r="0.50" fill="#b8773a" fill-opacity="0.80"/><circle cx="38.2" cy="4.4" r="0.58" fill="#c4843f" fill-opacity="0.59"/><circle cx="7.4" cy="11.4" r="0.71" fill="#cf9250" fill-opacity="0.56"/><circle cx="30.8" cy="20.1" r="0.69" fill="#b8773a" fill-opacity="0.83"/><circle cx="24.8" cy="26.2" r="0.53" fill="#d59b5c" fill-opacity="0.76"/><circle cx="2.1" cy="27.8" r="0.74" fill="#c4843f" fill-opacity="0.47"/><circle cx="6.3" cy="38.3" r="0.59" fill="#a9692e" fill-opacity="0.76"/><circle cx="20.6" cy="31.2" r="0.77" fill="#d59b5c" fill-opacity="0.73"/><circle cx="9.8" cy="30.5" r="0.39" fill="#cf9250" fill-opacity="0.81"/><circle cx="7.7" cy="21.3" r="0.52" fill="#a9692e" fill-opacity="0.68"/><circle cx="5.3" cy="23.7" r="0.60" fill="#a9692e" fill-opacity="0.92"/><circle cx="37.5" cy="31.9" r="0.42" fill="#9a6a4a" fill-opacity="0.76"/><circle cx="18.9" cy="24.5" r="0.70" fill="#d59b5c" fill-opacity="0.55"/><circle cx="12.7" cy="4.2" r="0.83" fill="#9a6a4a" fill-opacity="0.75"/><circle cx="12.0" cy="18.6" r="0.41" fill="#c4843f" fill-opacity="0.83"/><circle cx="21.1" cy="32.2" r="0.72" fill="#d59b5c" fill-opacity="0.63"/><circle cx="12.1" cy="11.2" r="0.64" fill="#b8773a" fill-opacity="0.80"/><circle cx="8.2" cy="6.3" r="0.77" fill="#b8773a" fill-opacity="0.62"/><circle cx="30.7" cy="34.6" r="0.74" fill="#cf9250" fill-opacity="0.97"/><circle cx="23.7" cy="34.2" r="0.60" fill="#b8773a" fill-opacity="0.70"/><circle cx="19.6" cy="0.6" r="0.36" fill="#c4843f" fill-opacity="0.96"/><circle cx="26.0" cy="14.6" r="0.50" fill="#9a6a4a" fill-opacity="0.92"/><circle cx="32.2" cy="6.5" r="0.50" fill="#cf9250" fill-opacity="0.49"/><circle cx="31.2" cy="25.8" r="0.35" fill="#d59b5c" fill-opacity="0.54"/><circle cx="22.4" cy="20.0" r="0.41" fill="#a9692e" fill-opacity="0.88"/><circle cx="12.7" cy="10.6" r="0.39" fill="#cf9250" fill-opacity="0.62"/><circle cx="7.5" cy="6.7" r="0.52" fill="#9a6a4a" fill-opacity="0.82"/><circle cx="34.1" cy="37.6" r="0.78" fill="#d59b5c" fill-opacity="0.72"/><circle cx="6.1" cy="26.2" r="0.38" fill="#cf9250" fill-opacity="0.71"/><circle cx="24.9" cy="23.4" r="0.41" fill="#a9692e" fill-opacity="0.99"/><circle cx="31.6" cy="6.4" r="0.41" fill="#b8773a" fill-opacity="0.74"/><circle cx="10.0" cy="4.9" r="0.37" fill="#a9692e" fill-opacity="0.70"/><circle cx="22.2" cy="14.8" r="0.41" fill="#b8773a" fill-opacity="0.83"/><circle cx="40.9" cy="13.0" r="0.36" fill="#cf9250" fill-opacity="0.49"/><circle cx="-0.1" cy="13.0" r="0.36" fill="#cf9250" fill-opacity="0.49"/><circle cx="7.2" cy="37.5" r="0.54" fill="#b8773a" fill-opacity="0.90"/><circle cx="31.4" cy="5.9" r="0.67" fill="#b8773a" fill-opacity="0.47"/><circle cx="18.2" cy="29.5" r="0.67" fill="#d59b5c" fill-opacity="0.60"/><circle cx="25.5" cy="24.8" r="0.62" fill="#9a6a4a" fill-opacity="0.95"/><circle cx="21.2" cy="21.6" r="0.81" fill="#9a6a4a" fill-opacity="0.63"/><circle cx="20.6" cy="19.2" r="0.62" fill="#b8773a" fill-opacity="0.90"/><circle cx="3.8" cy="10.2" r="0.52" fill="#b8773a" fill-opacity="0.51"/><circle cx="4.6" cy="11.4" r="0.66" fill="#9a6a4a" fill-opacity="0.80"/><circle cx="18.0" cy="1.2" r="0.40" fill="#c4843f" fill-opacity="0.54"/><circle cx="30.3" cy="18.0" r="0.56" fill="#c4843f" fill-opacity="0.47"/><circle cx="37.1" cy="27.9" r="0.46" fill="#9a6a4a" fill-opacity="0.80"/><circle cx="37.2" cy="20.5" r="0.78" fill="#cf9250" fill-opacity="0.98"/><circle cx="22.8" cy="6.9" r="0.64" fill="#9a6a4a" fill-opacity="0.75"/><circle cx="38.1" cy="22.5" r="0.59" fill="#cf9250" fill-opacity="0.53"/><circle cx="36.8" cy="29.8" r="0.61" fill="#d59b5c" fill-opacity="0.65"/><circle cx="32.1" cy="22.0" r="0.67" fill="#a9692e" fill-opacity="0.60"/><circle cx="16.0" cy="34.9" r="0.46" fill="#d59b5c" fill-opacity="0.69"/><circle cx="13.8" cy="24.5" r="0.81" fill="#cf9250" fill-opacity="0.90"/><circle cx="19.6" cy="15.3" r="0.44" fill="#b8773a" fill-opacity="0.82"/><circle cx="32.0" cy="27.3" r="0.71" fill="#cf9250" fill-opacity="0.53"/><circle cx="21.4" cy="25.8" r="0.74" fill="#a9692e" fill-opacity="0.89"/><circle cx="36.2" cy="38.1" r="0.38" fill="#d59b5c" fill-opacity="0.53"/><circle cx="27.9" cy="6.0" r="0.84" fill="#c4843f" fill-opacity="0.96"/><circle cx="25.4" cy="7.1" r="0.45" fill="#a9692e" fill-opacity="0.84"/><circle cx="15.7" cy="18.4" r="0.55" fill="#cf9250" fill-opacity="0.71"/><circle cx="11.8" cy="32.5" r="0.42" fill="#c4843f" fill-opacity="0.82"/><circle cx="24.2" cy="12.8" r="0.37" fill="#d59b5c" fill-opacity="0.95"/><circle cx="33.3" cy="31.7" r="0.81" fill="#b8773a" fill-opacity="0.59"/><circle cx="17.5" cy="26.0" r="0.71" fill="#d59b5c" fill-opacity="0.60"/><circle cx="29.5" cy="9.8" r="0.48" fill="#9a6a4a" fill-opacity="0.54"/><circle cx="27.1" cy="1.9" r="0.75" fill="#b8773a" fill-opacity="0.87"/><circle cx="30.1" cy="10.8" r="0.69" fill="#cf9250" fill-opacity="0.98"/><circle cx="10.3" cy="16.5" r="0.63" fill="#cf9250" fill-opacity="0.59"/><circle cx="7.7" cy="38.0" r="0.54" fill="#a9692e" fill-opacity="0.73"/><circle cx="1.5" cy="9.4" r="0.56" fill="#c4843f" fill-opacity="0.79"/><circle cx="27.4" cy="19.3" r="0.43" fill="#cf9250" fill-opacity="0.56"/><circle cx="12.6" cy="13.1" r="0.69" fill="#b8773a" fill-opacity="0.50"/><circle cx="24.6" cy="9.3" r="0.75" fill="#d59b5c" fill-opacity="0.72"/><circle cx="14.0" cy="14.1" r="0.69" fill="#9a6a4a" fill-opacity="0.97"/><circle cx="6.1" cy="5.0" r="0.55" fill="#cf9250" fill-opacity="0.83"/></pattern><pattern id="pW1" patternUnits="userSpaceOnUse" width="43" height="37"><circle cx="7.1" cy="25.5" r="0.76" fill="#ffffff" fill-opacity="0.74"/><circle cx="42.6" cy="17.6" r="0.98" fill="#f3eef0" fill-opacity="0.62"/><circle cx="-0.4" cy="17.6" r="0.98" fill="#f3eef0" fill-opacity="0.62"/><circle cx="10.2" cy="0.1" r="0.59" fill="#ffffff" fill-opacity="0.78"/><circle cx="10.2" cy="37.1" r="0.59" fill="#ffffff" fill-opacity="0.78"/><circle cx="6.2" cy="27.8" r="0.95" fill="#fbf7f2" fill-opacity="0.83"/><circle cx="42.9" cy="27.3" r="0.92" fill="#ffffff" fill-opacity="0.80"/><circle cx="-0.1" cy="27.3" r="0.92" fill="#ffffff" fill-opacity="0.80"/><circle cx="41.1" cy="20.0" r="0.80" fill="#fbf7f2" fill-opacity="0.81"/><circle cx="1.0" cy="27.4" r="0.41" fill="#ffffff" fill-opacity="0.87"/><circle cx="19.5" cy="20.4" r="0.57" fill="#ffffff" fill-opacity="0.74"/><circle cx="28.6" cy="17.4" r="0.88" fill="#ffffff" fill-opacity="0.58"/><circle cx="9.0" cy="35.8" r="0.93" fill="#f3eef0" fill-opacity="0.85"/><circle cx="42.5" cy="2.6" r="0.71" fill="#fbf7f2" fill-opacity="0.77"/><circle cx="-0.5" cy="2.6" r="0.71" fill="#fbf7f2" fill-opacity="0.77"/><circle cx="8.6" cy="34.2" r="0.93" fill="#fbf7f2" fill-opacity="0.71"/><circle cx="41.0" cy="18.6" r="0.56" fill="#fbf7f2" fill-opacity="0.74"/><circle cx="1.2" cy="3.5" r="0.82" fill="#fbf7f2" fill-opacity="0.95"/><circle cx="0.1" cy="2.6" r="0.74" fill="#f3eef0" fill-opacity="0.76"/><circle cx="43.1" cy="2.6" r="0.74" fill="#f3eef0" fill-opacity="0.76"/><circle cx="26.2" cy="20.6" r="0.75" fill="#ffffff" fill-opacity="0.62"/><circle cx="26.9" cy="30.8" r="0.57" fill="#fbf7f2" fill-opacity="0.85"/><circle cx="10.6" cy="6.2" r="0.95" fill="#fbf7f2" fill-opacity="0.62"/><circle cx="16.1" cy="25.3" r="0.79" fill="#ffffff" fill-opacity="0.91"/><circle cx="17.5" cy="36.6" r="0.97" fill="#fbf7f2" fill-opacity="0.79"/><circle cx="17.5" cy="-0.4" r="0.97" fill="#fbf7f2" fill-opacity="0.79"/><circle cx="21.1" cy="13.9" r="0.51" fill="#ffffff" fill-opacity="0.90"/><circle cx="24.2" cy="16.3" r="0.61" fill="#ffffff" fill-opacity="0.85"/><circle cx="36.0" cy="1.9" r="0.52" fill="#fbf7f2" fill-opacity="0.67"/><circle cx="10.7" cy="14.6" r="0.92" fill="#ffffff" fill-opacity="0.81"/><circle cx="42.3" cy="27.6" r="0.66" fill="#f3eef0" fill-opacity="0.65"/><circle cx="22.6" cy="27.0" r="0.37" fill="#fbf7f2" fill-opacity="0.63"/><circle cx="34.2" cy="32.6" r="0.74" fill="#f3eef0" fill-opacity="0.72"/><circle cx="38.8" cy="17.6" r="0.44" fill="#ffffff" fill-opacity="0.79"/><circle cx="33.0" cy="0.4" r="0.80" fill="#ffffff" fill-opacity="0.93"/><circle cx="33.0" cy="37.4" r="0.80" fill="#ffffff" fill-opacity="0.93"/><circle cx="11.4" cy="12.1" r="0.51" fill="#fbf7f2" fill-opacity="0.93"/><circle cx="11.1" cy="15.0" r="0.97" fill="#ffffff" fill-opacity="0.91"/><circle cx="6.1" cy="14.7" r="0.47" fill="#ffffff" fill-opacity="0.81"/><circle cx="3.1" cy="4.4" r="0.53" fill="#fbf7f2" fill-opacity="0.67"/><circle cx="17.0" cy="32.9" r="0.75" fill="#fbf7f2" fill-opacity="0.62"/><circle cx="8.7" cy="27.5" r="0.84" fill="#f3eef0" fill-opacity="0.79"/><circle cx="37.6" cy="28.6" r="0.86" fill="#fbf7f2" fill-opacity="0.55"/><circle cx="37.2" cy="14.7" r="0.72" fill="#ffffff" fill-opacity="0.89"/><circle cx="10.9" cy="25.8" r="0.55" fill="#fbf7f2" fill-opacity="0.57"/><circle cx="6.7" cy="26.9" r="0.99" fill="#f3eef0" fill-opacity="0.88"/><circle cx="21.1" cy="21.2" r="0.70" fill="#f3eef0" fill-opacity="0.57"/><circle cx="31.6" cy="35.8" r="0.55" fill="#f3eef0" fill-opacity="0.83"/><circle cx="32.6" cy="7.0" r="0.75" fill="#ffffff" fill-opacity="0.68"/><circle cx="15.3" cy="11.8" r="1.00" fill="#ffffff" fill-opacity="0.59"/><circle cx="28.0" cy="23.2" r="0.87" fill="#f3eef0" fill-opacity="0.94"/><circle cx="26.7" cy="0.7" r="0.77" fill="#f3eef0" fill-opacity="0.73"/><circle cx="26.7" cy="37.7" r="0.77" fill="#f3eef0" fill-opacity="0.73"/><circle cx="22.1" cy="32.4" r="0.40" fill="#f3eef0" fill-opacity="0.56"/><circle cx="18.7" cy="9.1" r="0.81" fill="#f3eef0" fill-opacity="0.88"/><circle cx="18.4" cy="29.5" r="0.61" fill="#ffffff" fill-opacity="0.68"/><circle cx="27.2" cy="35.6" r="0.41" fill="#fbf7f2" fill-opacity="0.74"/><circle cx="16.0" cy="22.4" r="0.49" fill="#f3eef0" fill-opacity="0.73"/><circle cx="32.6" cy="24.7" r="0.91" fill="#f3eef0" fill-opacity="0.83"/><circle cx="11.3" cy="17.8" r="0.67" fill="#fbf7f2" fill-opacity="0.67"/><circle cx="35.5" cy="35.7" r="0.99" fill="#fbf7f2" fill-opacity="0.55"/><circle cx="8.7" cy="32.4" r="0.82" fill="#ffffff" fill-opacity="0.59"/><circle cx="3.4" cy="11.2" r="0.96" fill="#fbf7f2" fill-opacity="0.85"/><circle cx="42.3" cy="36.7" r="0.46" fill="#f3eef0" fill-opacity="0.72"/><circle cx="42.3" cy="-0.3" r="0.46" fill="#f3eef0" fill-opacity="0.72"/><circle cx="14.4" cy="23.7" r="0.79" fill="#ffffff" fill-opacity="0.65"/><circle cx="13.9" cy="9.4" r="0.90" fill="#f3eef0" fill-opacity="0.61"/><circle cx="21.8" cy="8.8" r="0.80" fill="#ffffff" fill-opacity="0.84"/><circle cx="40.5" cy="17.3" r="0.63" fill="#fbf7f2" fill-opacity="0.80"/><circle cx="28.8" cy="24.7" r="0.75" fill="#ffffff" fill-opacity="0.59"/><circle cx="1.5" cy="30.0" r="0.96" fill="#ffffff" fill-opacity="0.83"/><circle cx="3.2" cy="21.5" r="0.61" fill="#fbf7f2" fill-opacity="0.73"/><circle cx="10.3" cy="0.3" r="0.70" fill="#fbf7f2" fill-opacity="0.59"/><circle cx="10.3" cy="37.3" r="0.70" fill="#fbf7f2" fill-opacity="0.59"/><circle cx="8.2" cy="13.7" r="0.35" fill="#f3eef0" fill-opacity="0.62"/><circle cx="34.0" cy="30.4" r="0.69" fill="#ffffff" fill-opacity="0.57"/><circle cx="17.9" cy="32.7" r="0.51" fill="#f3eef0" fill-opacity="0.78"/><circle cx="39.8" cy="32.7" r="0.36" fill="#ffffff" fill-opacity="0.78"/><circle cx="18.7" cy="30.8" r="0.99" fill="#ffffff" fill-opacity="0.81"/><circle cx="2.6" cy="30.2" r="0.74" fill="#fbf7f2" fill-opacity="0.80"/><circle cx="29.2" cy="25.0" r="0.45" fill="#fbf7f2" fill-opacity="0.61"/><circle cx="12.8" cy="23.2" r="0.93" fill="#ffffff" fill-opacity="0.58"/><circle cx="8.0" cy="3.6" r="0.89" fill="#fbf7f2" fill-opacity="0.69"/><circle cx="2.5" cy="1.4" r="0.67" fill="#f3eef0" fill-opacity="0.82"/><circle cx="17.2" cy="1.2" r="0.50" fill="#fbf7f2" fill-opacity="0.69"/><circle cx="17.6" cy="25.6" r="0.82" fill="#ffffff" fill-opacity="0.76"/><circle cx="14.0" cy="8.1" r="0.68" fill="#f3eef0" fill-opacity="0.84"/><circle cx="22.9" cy="23.2" r="0.46" fill="#fbf7f2" fill-opacity="0.83"/><circle cx="20.6" cy="32.0" r="0.64" fill="#fbf7f2" fill-opacity="0.56"/><circle cx="29.2" cy="8.0" r="0.86" fill="#f3eef0" fill-opacity="0.91"/><circle cx="26.0" cy="4.1" r="0.55" fill="#fbf7f2" fill-opacity="0.63"/><circle cx="40.3" cy="29.4" r="0.36" fill="#f3eef0" fill-opacity="0.69"/><circle cx="11.4" cy="0.9" r="0.59" fill="#ffffff" fill-opacity="0.85"/><circle cx="40.0" cy="19.8" r="0.92" fill="#f3eef0" fill-opacity="0.63"/><circle cx="23.9" cy="28.7" r="0.83" fill="#fbf7f2" fill-opacity="0.90"/><circle cx="39.1" cy="8.9" r="0.74" fill="#f3eef0" fill-opacity="0.69"/><circle cx="35.0" cy="13.4" r="0.44" fill="#fbf7f2" fill-opacity="0.56"/><circle cx="41.0" cy="27.9" r="0.99" fill="#f3eef0" fill-opacity="0.85"/><circle cx="4.6" cy="34.3" r="0.69" fill="#f3eef0" fill-opacity="0.91"/><circle cx="12.7" cy="6.0" r="0.78" fill="#fbf7f2" fill-opacity="0.80"/><circle cx="33.1" cy="27.8" r="0.77" fill="#fbf7f2" fill-opacity="0.65"/><circle cx="35.6" cy="8.2" r="0.66" fill="#fbf7f2" fill-opacity="0.57"/><circle cx="8.8" cy="29.2" r="0.57" fill="#fbf7f2" fill-opacity="0.73"/><circle cx="31.7" cy="27.0" r="1.00" fill="#fbf7f2" fill-opacity="0.70"/><circle cx="1.4" cy="28.8" r="0.91" fill="#fbf7f2" fill-opacity="0.67"/><circle cx="8.5" cy="8.4" r="0.83" fill="#fbf7f2" fill-opacity="0.87"/><circle cx="28.9" cy="1.0" r="0.95" fill="#fbf7f2" fill-opacity="0.60"/><circle cx="19.8" cy="14.4" r="0.76" fill="#f3eef0" fill-opacity="0.79"/><circle cx="3.0" cy="9.5" r="0.42" fill="#f3eef0" fill-opacity="0.81"/><circle cx="33.6" cy="29.3" r="0.95" fill="#fbf7f2" fill-opacity="0.63"/><circle cx="38.3" cy="2.9" r="0.55" fill="#ffffff" fill-opacity="0.80"/><circle cx="32.3" cy="34.6" r="0.42" fill="#f3eef0" fill-opacity="0.80"/><circle cx="9.4" cy="7.7" r="0.67" fill="#ffffff" fill-opacity="0.84"/><circle cx="1.4" cy="33.3" r="0.95" fill="#ffffff" fill-opacity="0.76"/><circle cx="8.3" cy="5.2" r="0.39" fill="#fbf7f2" fill-opacity="0.83"/><circle cx="2.6" cy="28.0" r="0.74" fill="#f3eef0" fill-opacity="0.75"/><circle cx="10.0" cy="26.1" r="0.67" fill="#f3eef0" fill-opacity="0.77"/><circle cx="16.1" cy="23.5" r="0.76" fill="#fbf7f2" fill-opacity="0.70"/><circle cx="17.3" cy="16.4" r="0.77" fill="#f3eef0" fill-opacity="0.84"/><circle cx="9.6" cy="29.2" r="0.36" fill="#fbf7f2" fill-opacity="0.81"/><circle cx="36.3" cy="28.7" r="0.94" fill="#fbf7f2" fill-opacity="0.85"/><circle cx="21.1" cy="6.1" r="0.87" fill="#fbf7f2" fill-opacity="0.68"/><circle cx="12.9" cy="35.7" r="0.65" fill="#ffffff" fill-opacity="0.63"/><circle cx="26.8" cy="31.4" r="0.49" fill="#f3eef0" fill-opacity="0.59"/><circle cx="27.7" cy="23.3" r="0.43" fill="#f3eef0" fill-opacity="0.60"/><circle cx="30.1" cy="19.9" r="0.41" fill="#f3eef0" fill-opacity="0.65"/><circle cx="24.4" cy="9.1" r="0.63" fill="#f3eef0" fill-opacity="0.87"/><circle cx="30.0" cy="30.1" r="0.61" fill="#f3eef0" fill-opacity="0.93"/><circle cx="15.4" cy="29.0" r="0.37" fill="#fbf7f2" fill-opacity="0.75"/><circle cx="33.2" cy="21.4" r="0.47" fill="#ffffff" fill-opacity="0.92"/><circle cx="33.5" cy="9.5" r="0.66" fill="#ffffff" fill-opacity="0.65"/><circle cx="12.4" cy="13.7" r="0.67" fill="#fbf7f2" fill-opacity="0.66"/><circle cx="2.3" cy="10.6" r="0.41" fill="#ffffff" fill-opacity="0.68"/><circle cx="32.4" cy="5.5" r="0.55" fill="#f3eef0" fill-opacity="0.59"/><circle cx="29.1" cy="33.5" r="0.38" fill="#fbf7f2" fill-opacity="0.85"/><circle cx="22.0" cy="3.9" r="0.98" fill="#fbf7f2" fill-opacity="0.64"/><circle cx="31.2" cy="1.7" r="0.76" fill="#fbf7f2" fill-opacity="0.79"/><circle cx="8.0" cy="33.8" r="0.63" fill="#ffffff" fill-opacity="0.63"/><circle cx="9.4" cy="6.1" r="0.98" fill="#ffffff" fill-opacity="0.56"/><circle cx="36.6" cy="35.7" r="0.51" fill="#fbf7f2" fill-opacity="0.69"/><circle cx="8.2" cy="25.9" r="0.93" fill="#fbf7f2" fill-opacity="0.62"/><circle cx="20.6" cy="12.2" r="0.93" fill="#ffffff" fill-opacity="0.89"/><circle cx="12.4" cy="27.8" r="0.80" fill="#ffffff" fill-opacity="0.84"/><circle cx="37.8" cy="9.1" r="1.00" fill="#fbf7f2" fill-opacity="0.68"/><circle cx="35.3" cy="29.0" r="0.82" fill="#f3eef0" fill-opacity="0.56"/><circle cx="11.7" cy="9.9" r="0.87" fill="#f3eef0" fill-opacity="0.80"/><circle cx="9.9" cy="4.5" r="0.37" fill="#fbf7f2" fill-opacity="0.63"/><circle cx="42.1" cy="18.5" r="0.81" fill="#ffffff" fill-opacity="0.76"/><circle cx="28.2" cy="15.9" r="0.78" fill="#ffffff" fill-opacity="0.67"/><circle cx="22.3" cy="1.8" r="0.81" fill="#ffffff" fill-opacity="0.85"/><circle cx="19.5" cy="28.2" r="0.38" fill="#ffffff" fill-opacity="0.80"/><circle cx="7.6" cy="21.6" r="0.77" fill="#fbf7f2" fill-opacity="0.90"/><circle cx="17.8" cy="14.5" r="0.82" fill="#fbf7f2" fill-opacity="0.60"/><circle cx="0.2" cy="15.1" r="0.86" fill="#fbf7f2" fill-opacity="0.90"/><circle cx="43.2" cy="15.1" r="0.86" fill="#fbf7f2" fill-opacity="0.90"/><circle cx="26.9" cy="11.6" r="0.81" fill="#ffffff" fill-opacity="0.89"/><circle cx="22.8" cy="24.1" r="0.76" fill="#ffffff" fill-opacity="0.63"/><circle cx="35.2" cy="10.3" r="0.86" fill="#fbf7f2" fill-opacity="0.55"/><circle cx="1.9" cy="29.2" r="0.80" fill="#ffffff" fill-opacity="0.75"/><circle cx="34.5" cy="6.4" r="0.72" fill="#ffffff" fill-opacity="0.77"/><circle cx="36.4" cy="23.0" r="0.46" fill="#ffffff" fill-opacity="0.85"/><circle cx="7.5" cy="27.1" r="0.62" fill="#f3eef0" fill-opacity="0.68"/><circle cx="17.0" cy="29.3" r="0.91" fill="#f3eef0" fill-opacity="0.85"/><circle cx="1.8" cy="11.1" r="0.50" fill="#ffffff" fill-opacity="0.88"/><circle cx="42.8" cy="3.1" r="0.98" fill="#fbf7f2" fill-opacity="0.92"/><circle cx="-0.2" cy="3.1" r="0.98" fill="#fbf7f2" fill-opacity="0.92"/><circle cx="30.6" cy="34.5" r="0.47" fill="#fbf7f2" fill-opacity="0.84"/><circle cx="42.2" cy="32.6" r="0.94" fill="#f3eef0" fill-opacity="0.58"/><circle cx="-0.8" cy="32.6" r="0.94" fill="#f3eef0" fill-opacity="0.58"/><circle cx="23.9" cy="33.5" r="0.96" fill="#ffffff" fill-opacity="0.88"/><circle cx="26.5" cy="0.3" r="0.85" fill="#f3eef0" fill-opacity="0.95"/><circle cx="26.5" cy="37.3" r="0.85" fill="#f3eef0" fill-opacity="0.95"/><circle cx="6.1" cy="23.5" r="0.76" fill="#fbf7f2" fill-opacity="0.58"/><circle cx="3.9" cy="15.1" r="0.99" fill="#fbf7f2" fill-opacity="0.90"/><circle cx="21.0" cy="9.8" r="0.72" fill="#ffffff" fill-opacity="0.81"/><circle cx="13.0" cy="34.3" r="0.44" fill="#f3eef0" fill-opacity="0.92"/><circle cx="13.5" cy="9.7" r="0.58" fill="#ffffff" fill-opacity="0.76"/><circle cx="15.8" cy="18.9" r="0.94" fill="#ffffff" fill-opacity="0.81"/><circle cx="19.8" cy="17.5" r="0.69" fill="#f3eef0" fill-opacity="0.65"/><circle cx="20.3" cy="28.5" r="0.80" fill="#f3eef0" fill-opacity="0.68"/><circle cx="25.4" cy="17.9" r="0.62" fill="#fbf7f2" fill-opacity="0.64"/><circle cx="8.8" cy="6.6" r="0.70" fill="#ffffff" fill-opacity="0.93"/><circle cx="4.1" cy="26.8" r="0.52" fill="#fbf7f2" fill-opacity="0.85"/><circle cx="25.7" cy="10.0" r="0.68" fill="#f3eef0" fill-opacity="0.58"/><circle cx="27.7" cy="23.3" r="0.43" fill="#ffffff" fill-opacity="0.67"/><circle cx="8.7" cy="19.9" r="0.80" fill="#f3eef0" fill-opacity="0.75"/><circle cx="21.8" cy="29.5" r="0.76" fill="#f3eef0" fill-opacity="0.81"/><circle cx="18.0" cy="25.3" r="0.79" fill="#f3eef0" fill-opacity="0.65"/><circle cx="7.7" cy="7.1" r="0.81" fill="#fbf7f2" fill-opacity="0.94"/><circle cx="8.5" cy="24.8" r="1.00" fill="#f3eef0" fill-opacity="0.92"/><circle cx="28.6" cy="14.7" r="0.53" fill="#ffffff" fill-opacity="0.84"/><circle cx="2.6" cy="13.4" r="0.59" fill="#fbf7f2" fill-opacity="0.69"/><circle cx="22.1" cy="9.8" r="0.45" fill="#ffffff" fill-opacity="0.91"/><circle cx="4.4" cy="24.2" r="0.94" fill="#f3eef0" fill-opacity="0.62"/><circle cx="7.4" cy="22.0" r="0.82" fill="#ffffff" fill-opacity="0.82"/><circle cx="1.5" cy="1.9" r="0.79" fill="#f3eef0" fill-opacity="0.88"/><circle cx="25.8" cy="6.2" r="0.61" fill="#fbf7f2" fill-opacity="0.88"/><circle cx="33.8" cy="36.3" r="0.44" fill="#fbf7f2" fill-opacity="0.92"/><circle cx="27.7" cy="16.6" r="0.61" fill="#fbf7f2" fill-opacity="0.94"/><circle cx="5.1" cy="24.8" r="0.77" fill="#ffffff" fill-opacity="0.88"/><circle cx="4.9" cy="12.5" r="0.42" fill="#f3eef0" fill-opacity="0.70"/><circle cx="14.5" cy="14.8" r="0.82" fill="#f3eef0" fill-opacity="0.66"/><circle cx="39.4" cy="2.0" r="0.85" fill="#f3eef0" fill-opacity="0.92"/><circle cx="10.8" cy="13.2" r="0.67" fill="#ffffff" fill-opacity="0.68"/><circle cx="19.6" cy="15.2" r="0.64" fill="#fbf7f2" fill-opacity="0.74"/><circle cx="38.0" cy="29.6" r="0.62" fill="#ffffff" fill-opacity="0.81"/><circle cx="33.2" cy="27.4" r="0.72" fill="#fbf7f2" fill-opacity="0.65"/><circle cx="11.7" cy="29.4" r="0.63" fill="#f3eef0" fill-opacity="0.86"/><circle cx="33.4" cy="14.1" r="0.57" fill="#ffffff" fill-opacity="0.93"/><circle cx="13.5" cy="31.1" r="0.53" fill="#f3eef0" fill-opacity="0.88"/><circle cx="19.2" cy="35.6" r="0.41" fill="#f3eef0" fill-opacity="0.66"/><circle cx="5.0" cy="18.4" r="0.77" fill="#fbf7f2" fill-opacity="0.68"/><circle cx="14.2" cy="8.4" r="0.52" fill="#ffffff" fill-opacity="0.86"/><circle cx="7.6" cy="27.7" r="0.40" fill="#fbf7f2" fill-opacity="0.70"/><circle cx="22.8" cy="35.8" r="0.68" fill="#f3eef0" fill-opacity="0.75"/><circle cx="32.3" cy="5.4" r="0.87" fill="#f3eef0" fill-opacity="0.71"/><circle cx="41.4" cy="18.2" r="0.62" fill="#fbf7f2" fill-opacity="0.64"/><circle cx="35.2" cy="0.7" r="0.77" fill="#fbf7f2" fill-opacity="0.63"/><circle cx="35.2" cy="37.7" r="0.77" fill="#fbf7f2" fill-opacity="0.63"/><circle cx="25.7" cy="22.1" r="0.83" fill="#fbf7f2" fill-opacity="0.78"/><circle cx="12.1" cy="3.4" r="0.73" fill="#ffffff" fill-opacity="0.66"/><circle cx="29.6" cy="30.8" r="0.51" fill="#fbf7f2" fill-opacity="0.74"/><circle cx="18.2" cy="2.3" r="0.99" fill="#fbf7f2" fill-opacity="0.85"/><circle cx="1.1" cy="20.0" r="0.43" fill="#f3eef0" fill-opacity="0.94"/><circle cx="40.9" cy="14.3" r="0.96" fill="#ffffff" fill-opacity="0.74"/><circle cx="25.0" cy="10.0" r="0.76" fill="#f3eef0" fill-opacity="0.57"/><circle cx="13.7" cy="6.8" r="0.38" fill="#ffffff" fill-opacity="0.93"/><circle cx="24.5" cy="30.6" r="0.68" fill="#f3eef0" fill-opacity="0.61"/><circle cx="22.5" cy="29.2" r="0.99" fill="#f3eef0" fill-opacity="0.65"/><circle cx="27.4" cy="3.2" r="0.69" fill="#fbf7f2" fill-opacity="0.70"/><circle cx="33.7" cy="9.3" r="0.67" fill="#fbf7f2" fill-opacity="0.80"/><circle cx="10.5" cy="24.6" r="0.49" fill="#fbf7f2" fill-opacity="0.61"/><circle cx="30.4" cy="23.5" r="0.61" fill="#ffffff" fill-opacity="0.78"/><circle cx="22.8" cy="17.8" r="0.52" fill="#ffffff" fill-opacity="0.92"/><circle cx="7.8" cy="30.7" r="0.44" fill="#f3eef0" fill-opacity="0.91"/><circle cx="9.6" cy="34.1" r="0.76" fill="#fbf7f2" fill-opacity="0.63"/><circle cx="36.7" cy="11.6" r="0.91" fill="#fbf7f2" fill-opacity="0.60"/><circle cx="12.2" cy="24.8" r="0.53" fill="#fbf7f2" fill-opacity="0.69"/><circle cx="8.9" cy="30.3" r="0.47" fill="#fbf7f2" fill-opacity="0.89"/><circle cx="37.5" cy="1.2" r="0.86" fill="#fbf7f2" fill-opacity="0.65"/><circle cx="27.3" cy="21.4" r="0.61" fill="#fbf7f2" fill-opacity="0.81"/><circle cx="14.6" cy="20.4" r="0.83" fill="#ffffff" fill-opacity="0.57"/><circle cx="34.4" cy="5.8" r="0.79" fill="#f3eef0" fill-opacity="0.73"/><circle cx="6.6" cy="35.7" r="0.63" fill="#ffffff" fill-opacity="0.82"/><circle cx="6.4" cy="32.3" r="0.69" fill="#fbf7f2" fill-opacity="0.57"/><circle cx="5.1" cy="20.7" r="0.68" fill="#fbf7f2" fill-opacity="0.68"/><circle cx="40.3" cy="10.5" r="0.36" fill="#fbf7f2" fill-opacity="0.65"/><circle cx="35.4" cy="6.9" r="0.56" fill="#f3eef0" fill-opacity="0.73"/><circle cx="14.8" cy="6.5" r="0.81" fill="#f3eef0" fill-opacity="0.72"/><circle cx="35.3" cy="8.2" r="0.77" fill="#f3eef0" fill-opacity="0.62"/><circle cx="35.0" cy="26.7" r="0.67" fill="#fbf7f2" fill-opacity="0.79"/><circle cx="7.4" cy="13.1" r="0.45" fill="#f3eef0" fill-opacity="0.73"/><circle cx="36.9" cy="20.4" r="1.00" fill="#fbf7f2" fill-opacity="0.74"/><circle cx="3.5" cy="14.0" r="0.72" fill="#f3eef0" fill-opacity="0.88"/><circle cx="2.5" cy="12.0" r="0.54" fill="#fbf7f2" fill-opacity="0.76"/><circle cx="25.8" cy="0.8" r="0.78" fill="#fbf7f2" fill-opacity="0.55"/><circle cx="25.8" cy="37.8" r="0.78" fill="#fbf7f2" fill-opacity="0.55"/><circle cx="19.2" cy="29.4" r="0.89" fill="#f3eef0" fill-opacity="0.82"/><circle cx="3.1" cy="7.7" r="0.80" fill="#ffffff" fill-opacity="0.92"/><circle cx="41.9" cy="25.2" r="0.45" fill="#fbf7f2" fill-opacity="0.63"/><circle cx="0.7" cy="2.9" r="0.93" fill="#f3eef0" fill-opacity="0.75"/><circle cx="43.7" cy="2.9" r="0.93" fill="#f3eef0" fill-opacity="0.75"/><circle cx="1.5" cy="17.9" r="0.63" fill="#ffffff" fill-opacity="0.79"/><circle cx="33.6" cy="31.4" r="0.99" fill="#f3eef0" fill-opacity="0.78"/><circle cx="31.5" cy="4.8" r="0.48" fill="#f3eef0" fill-opacity="0.86"/><circle cx="32.7" cy="31.9" r="0.68" fill="#fbf7f2" fill-opacity="0.67"/><circle cx="15.4" cy="14.7" r="0.82" fill="#f3eef0" fill-opacity="0.65"/><circle cx="23.2" cy="15.6" r="0.96" fill="#ffffff" fill-opacity="0.57"/><circle cx="42.1" cy="4.8" r="0.93" fill="#fbf7f2" fill-opacity="0.80"/><circle cx="-0.9" cy="4.8" r="0.93" fill="#fbf7f2" fill-opacity="0.80"/><circle cx="36.4" cy="10.7" r="0.82" fill="#fbf7f2" fill-opacity="0.76"/><circle cx="30.6" cy="19.7" r="0.41" fill="#fbf7f2" fill-opacity="0.89"/><circle cx="9.7" cy="9.7" r="0.63" fill="#fbf7f2" fill-opacity="0.59"/><circle cx="0.4" cy="36.6" r="0.57" fill="#ffffff" fill-opacity="0.94"/><circle cx="0.4" cy="-0.4" r="0.57" fill="#ffffff" fill-opacity="0.94"/><circle cx="43.4" cy="36.6" r="0.57" fill="#ffffff" fill-opacity="0.94"/><circle cx="43.4" cy="-0.4" r="0.57" fill="#ffffff" fill-opacity="0.94"/><circle cx="37.2" cy="26.7" r="0.78" fill="#fbf7f2" fill-opacity="0.87"/><circle cx="5.3" cy="14.5" r="0.44" fill="#ffffff" fill-opacity="0.57"/><circle cx="31.4" cy="4.8" r="0.94" fill="#fbf7f2" fill-opacity="0.79"/><circle cx="21.9" cy="9.6" r="0.72" fill="#ffffff" fill-opacity="0.61"/></pattern><pattern id="pW2" patternUnits="userSpaceOnUse" width="41" height="39"><circle cx="39.3" cy="5.5" r="0.37" fill="#ffffff" fill-opacity="0.95"/><circle cx="28.8" cy="28.8" r="0.92" fill="#ffffff" fill-opacity="0.87"/><circle cx="9.5" cy="37.4" r="0.56" fill="#f3eef0" fill-opacity="0.79"/><circle cx="28.1" cy="36.0" r="0.81" fill="#ffffff" fill-opacity="0.57"/><circle cx="24.2" cy="12.1" r="0.47" fill="#f3eef0" fill-opacity="0.89"/><circle cx="21.8" cy="28.4" r="0.99" fill="#ffffff" fill-opacity="0.93"/><circle cx="28.6" cy="23.9" r="0.52" fill="#fbf7f2" fill-opacity="0.93"/><circle cx="36.9" cy="34.0" r="0.97" fill="#fbf7f2" fill-opacity="0.76"/><circle cx="33.8" cy="26.0" r="0.47" fill="#f3eef0" fill-opacity="0.57"/><circle cx="37.0" cy="16.4" r="0.51" fill="#fbf7f2" fill-opacity="0.66"/><circle cx="16.3" cy="36.1" r="0.47" fill="#fbf7f2" fill-opacity="0.78"/><circle cx="23.9" cy="11.6" r="0.74" fill="#fbf7f2" fill-opacity="0.77"/><circle cx="31.1" cy="35.1" r="0.63" fill="#fbf7f2" fill-opacity="0.59"/><circle cx="14.6" cy="16.8" r="0.61" fill="#ffffff" fill-opacity="0.92"/><circle cx="21.0" cy="15.6" r="0.41" fill="#ffffff" fill-opacity="0.91"/><circle cx="1.2" cy="14.7" r="0.47" fill="#f3eef0" fill-opacity="0.91"/><circle cx="7.8" cy="1.4" r="0.70" fill="#f3eef0" fill-opacity="0.87"/><circle cx="30.3" cy="25.6" r="0.42" fill="#ffffff" fill-opacity="0.63"/><circle cx="34.0" cy="35.9" r="0.65" fill="#fbf7f2" fill-opacity="0.89"/><circle cx="29.0" cy="5.3" r="0.53" fill="#fbf7f2" fill-opacity="0.82"/><circle cx="19.5" cy="2.6" r="0.81" fill="#ffffff" fill-opacity="0.93"/><circle cx="33.6" cy="23.7" r="0.96" fill="#f3eef0" fill-opacity="0.56"/><circle cx="14.4" cy="2.5" r="0.41" fill="#f3eef0" fill-opacity="0.80"/><circle cx="17.8" cy="10.5" r="0.38" fill="#fbf7f2" fill-opacity="0.94"/><circle cx="27.8" cy="38.7" r="0.70" fill="#ffffff" fill-opacity="0.74"/><circle cx="27.8" cy="-0.3" r="0.70" fill="#ffffff" fill-opacity="0.74"/><circle cx="7.4" cy="10.8" r="0.41" fill="#ffffff" fill-opacity="0.74"/><circle cx="16.5" cy="4.6" r="0.94" fill="#ffffff" fill-opacity="0.76"/><circle cx="1.6" cy="14.7" r="0.90" fill="#ffffff" fill-opacity="0.56"/><circle cx="30.9" cy="24.8" r="0.38" fill="#fbf7f2" fill-opacity="0.83"/><circle cx="19.0" cy="9.7" r="0.50" fill="#ffffff" fill-opacity="0.66"/><circle cx="38.2" cy="22.1" r="0.47" fill="#fbf7f2" fill-opacity="0.93"/><circle cx="2.3" cy="19.5" r="0.74" fill="#fbf7f2" fill-opacity="0.57"/><circle cx="28.7" cy="10.8" r="0.85" fill="#fbf7f2" fill-opacity="0.64"/><circle cx="34.7" cy="9.1" r="0.70" fill="#fbf7f2" fill-opacity="0.61"/><circle cx="10.6" cy="37.9" r="0.80" fill="#f3eef0" fill-opacity="0.83"/><circle cx="26.2" cy="6.8" r="0.87" fill="#f3eef0" fill-opacity="0.91"/><circle cx="26.5" cy="10.9" r="0.90" fill="#fbf7f2" fill-opacity="0.66"/><circle cx="11.4" cy="6.2" r="0.90" fill="#f3eef0" fill-opacity="0.75"/><circle cx="20.5" cy="5.3" r="0.70" fill="#fbf7f2" fill-opacity="0.75"/><circle cx="35.8" cy="29.7" r="0.60" fill="#ffffff" fill-opacity="0.81"/><circle cx="29.0" cy="3.3" r="0.95" fill="#ffffff" fill-opacity="0.69"/><circle cx="21.2" cy="37.8" r="0.45" fill="#f3eef0" fill-opacity="0.77"/><circle cx="0.0" cy="12.5" r="0.85" fill="#f3eef0" fill-opacity="0.60"/><circle cx="41.0" cy="12.5" r="0.85" fill="#f3eef0" fill-opacity="0.60"/><circle cx="28.1" cy="31.5" r="0.89" fill="#ffffff" fill-opacity="0.59"/><circle cx="37.8" cy="10.0" r="0.55" fill="#fbf7f2" fill-opacity="0.68"/><circle cx="23.6" cy="20.5" r="0.71" fill="#f3eef0" fill-opacity="0.68"/><circle cx="38.6" cy="28.4" r="0.94" fill="#f3eef0" fill-opacity="0.87"/><circle cx="39.1" cy="26.5" r="0.35" fill="#ffffff" fill-opacity="0.65"/><circle cx="38.0" cy="11.6" r="0.37" fill="#ffffff" fill-opacity="0.68"/><circle cx="37.2" cy="32.2" r="0.95" fill="#fbf7f2" fill-opacity="0.61"/><circle cx="17.0" cy="13.8" r="0.88" fill="#f3eef0" fill-opacity="0.67"/><circle cx="9.3" cy="24.2" r="0.94" fill="#fbf7f2" fill-opacity="0.91"/><circle cx="39.0" cy="20.1" r="0.49" fill="#ffffff" fill-opacity="0.60"/><circle cx="30.8" cy="21.7" r="0.64" fill="#ffffff" fill-opacity="0.65"/><circle cx="33.6" cy="4.4" r="0.66" fill="#f3eef0" fill-opacity="0.87"/><circle cx="15.4" cy="26.3" r="0.48" fill="#f3eef0" fill-opacity="0.60"/><circle cx="23.9" cy="17.9" r="0.76" fill="#f3eef0" fill-opacity="0.57"/><circle cx="18.8" cy="33.2" r="0.64" fill="#f3eef0" fill-opacity="0.63"/><circle cx="0.4" cy="3.2" r="0.45" fill="#ffffff" fill-opacity="0.73"/><circle cx="41.4" cy="3.2" r="0.45" fill="#ffffff" fill-opacity="0.73"/><circle cx="8.9" cy="18.4" r="0.76" fill="#ffffff" fill-opacity="0.80"/><circle cx="31.2" cy="6.3" r="0.86" fill="#f3eef0" fill-opacity="0.77"/><circle cx="28.2" cy="36.4" r="0.57" fill="#f3eef0" fill-opacity="0.71"/><circle cx="29.4" cy="30.3" r="0.78" fill="#fbf7f2" fill-opacity="0.73"/><circle cx="10.7" cy="33.9" r="0.86" fill="#f3eef0" fill-opacity="0.64"/><circle cx="11.1" cy="11.4" r="0.38" fill="#f3eef0" fill-opacity="0.92"/><circle cx="22.7" cy="13.8" r="0.87" fill="#ffffff" fill-opacity="0.70"/><circle cx="23.8" cy="8.9" r="0.62" fill="#f3eef0" fill-opacity="0.60"/><circle cx="5.7" cy="21.5" r="0.68" fill="#ffffff" fill-opacity="0.81"/><circle cx="5.2" cy="26.5" r="0.81" fill="#ffffff" fill-opacity="0.64"/><circle cx="4.2" cy="19.7" r="0.83" fill="#ffffff" fill-opacity="0.56"/><circle cx="18.1" cy="31.5" r="0.45" fill="#f3eef0" fill-opacity="0.93"/><circle cx="24.5" cy="27.5" r="0.52" fill="#ffffff" fill-opacity="0.60"/><circle cx="7.2" cy="3.3" r="0.68" fill="#fbf7f2" fill-opacity="0.65"/><circle cx="22.1" cy="12.7" r="0.86" fill="#ffffff" fill-opacity="0.68"/><circle cx="30.5" cy="24.9" r="0.75" fill="#ffffff" fill-opacity="0.70"/><circle cx="33.9" cy="21.1" r="0.95" fill="#fbf7f2" fill-opacity="0.80"/><circle cx="39.0" cy="29.9" r="0.41" fill="#fbf7f2" fill-opacity="0.89"/><circle cx="10.8" cy="22.2" r="0.75" fill="#f3eef0" fill-opacity="0.66"/><circle cx="37.1" cy="36.1" r="0.68" fill="#f3eef0" fill-opacity="0.91"/><circle cx="14.4" cy="2.8" r="0.64" fill="#ffffff" fill-opacity="0.88"/><circle cx="18.5" cy="15.0" r="0.40" fill="#fbf7f2" fill-opacity="0.80"/><circle cx="15.9" cy="11.3" r="0.75" fill="#ffffff" fill-opacity="0.87"/><circle cx="38.3" cy="39.0" r="0.42" fill="#ffffff" fill-opacity="0.74"/><circle cx="38.3" cy="-0.0" r="0.42" fill="#ffffff" fill-opacity="0.74"/><circle cx="12.9" cy="32.5" r="0.65" fill="#ffffff" fill-opacity="0.62"/><circle cx="40.7" cy="7.5" r="0.62" fill="#fbf7f2" fill-opacity="0.81"/><circle cx="-0.3" cy="7.5" r="0.62" fill="#fbf7f2" fill-opacity="0.81"/><circle cx="25.9" cy="12.0" r="0.78" fill="#fbf7f2" fill-opacity="0.84"/><circle cx="12.7" cy="21.8" r="0.98" fill="#fbf7f2" fill-opacity="0.61"/><circle cx="16.0" cy="2.9" r="0.93" fill="#fbf7f2" fill-opacity="0.66"/><circle cx="30.2" cy="0.4" r="0.93" fill="#f3eef0" fill-opacity="0.87"/><circle cx="30.2" cy="39.4" r="0.93" fill="#f3eef0" fill-opacity="0.87"/><circle cx="25.1" cy="19.9" r="0.47" fill="#f3eef0" fill-opacity="0.63"/><circle cx="12.7" cy="33.5" r="0.89" fill="#fbf7f2" fill-opacity="0.60"/><circle cx="9.1" cy="24.9" r="0.97" fill="#ffffff" fill-opacity="0.94"/><circle cx="6.1" cy="25.6" r="0.51" fill="#fbf7f2" fill-opacity="0.91"/><circle cx="28.1" cy="4.5" r="0.91" fill="#ffffff" fill-opacity="0.60"/><circle cx="5.0" cy="11.5" r="0.50" fill="#fbf7f2" fill-opacity="0.84"/><circle cx="14.3" cy="38.7" r="0.75" fill="#f3eef0" fill-opacity="0.82"/><circle cx="14.3" cy="-0.3" r="0.75" fill="#f3eef0" fill-opacity="0.82"/><circle cx="16.1" cy="35.5" r="0.48" fill="#ffffff" fill-opacity="0.63"/><circle cx="13.1" cy="5.2" r="0.40" fill="#ffffff" fill-opacity="0.82"/><circle cx="23.9" cy="32.5" r="0.54" fill="#ffffff" fill-opacity="0.60"/><circle cx="31.5" cy="0.1" r="0.82" fill="#f3eef0" fill-opacity="0.82"/><circle cx="31.5" cy="39.1" r="0.82" fill="#f3eef0" fill-opacity="0.82"/><circle cx="20.0" cy="18.1" r="0.69" fill="#f3eef0" fill-opacity="0.60"/><circle cx="31.4" cy="6.8" r="0.52" fill="#ffffff" fill-opacity="0.68"/><circle cx="2.3" cy="21.1" r="0.50" fill="#f3eef0" fill-opacity="0.77"/><circle cx="15.0" cy="37.9" r="0.53" fill="#f3eef0" fill-opacity="0.68"/><circle cx="1.9" cy="2.5" r="0.79" fill="#f3eef0" fill-opacity="0.56"/><circle cx="15.5" cy="4.1" r="0.62" fill="#ffffff" fill-opacity="0.88"/><circle cx="15.0" cy="37.0" r="0.75" fill="#ffffff" fill-opacity="0.69"/><circle cx="10.2" cy="30.0" r="0.41" fill="#f3eef0" fill-opacity="0.67"/><circle cx="29.8" cy="32.0" r="0.60" fill="#fbf7f2" fill-opacity="0.88"/><circle cx="29.6" cy="37.4" r="0.57" fill="#fbf7f2" fill-opacity="0.90"/><circle cx="11.1" cy="2.8" r="0.83" fill="#fbf7f2" fill-opacity="0.94"/><circle cx="16.9" cy="29.0" r="0.84" fill="#fbf7f2" fill-opacity="0.85"/><circle cx="6.5" cy="9.3" r="0.46" fill="#f3eef0" fill-opacity="0.83"/><circle cx="3.7" cy="14.6" r="0.88" fill="#f3eef0" fill-opacity="0.74"/><circle cx="39.9" cy="17.7" r="0.87" fill="#ffffff" fill-opacity="0.93"/><circle cx="20.2" cy="26.7" r="0.96" fill="#f3eef0" fill-opacity="0.87"/><circle cx="25.0" cy="17.2" r="0.55" fill="#f3eef0" fill-opacity="0.73"/><circle cx="39.3" cy="15.8" r="0.51" fill="#fbf7f2" fill-opacity="0.74"/><circle cx="37.1" cy="28.4" r="0.97" fill="#f3eef0" fill-opacity="0.83"/><circle cx="4.5" cy="37.6" r="0.82" fill="#f3eef0" fill-opacity="0.69"/><circle cx="35.2" cy="35.0" r="0.66" fill="#fbf7f2" fill-opacity="0.93"/><circle cx="0.4" cy="9.7" r="0.58" fill="#fbf7f2" fill-opacity="0.64"/><circle cx="41.4" cy="9.7" r="0.58" fill="#fbf7f2" fill-opacity="0.64"/><circle cx="7.4" cy="8.2" r="0.49" fill="#ffffff" fill-opacity="0.76"/><circle cx="14.8" cy="1.0" r="0.84" fill="#f3eef0" fill-opacity="0.72"/><circle cx="30.8" cy="20.1" r="0.43" fill="#ffffff" fill-opacity="0.86"/><circle cx="20.9" cy="22.8" r="0.43" fill="#ffffff" fill-opacity="0.77"/><circle cx="35.4" cy="13.0" r="0.98" fill="#ffffff" fill-opacity="0.85"/><circle cx="40.4" cy="31.9" r="0.48" fill="#f3eef0" fill-opacity="0.76"/><circle cx="20.5" cy="27.0" r="0.41" fill="#fbf7f2" fill-opacity="0.62"/><circle cx="7.6" cy="17.5" r="0.87" fill="#fbf7f2" fill-opacity="0.77"/><circle cx="15.7" cy="11.5" r="0.76" fill="#ffffff" fill-opacity="0.82"/><circle cx="12.8" cy="8.9" r="0.54" fill="#f3eef0" fill-opacity="0.82"/><circle cx="6.4" cy="36.0" r="0.73" fill="#fbf7f2" fill-opacity="0.91"/><circle cx="14.3" cy="24.8" r="0.54" fill="#f3eef0" fill-opacity="0.76"/><circle cx="19.5" cy="25.5" r="0.86" fill="#ffffff" fill-opacity="0.73"/><circle cx="12.0" cy="6.2" r="0.92" fill="#f3eef0" fill-opacity="0.56"/><circle cx="21.4" cy="23.3" r="0.71" fill="#ffffff" fill-opacity="0.64"/><circle cx="30.9" cy="15.2" r="0.97" fill="#ffffff" fill-opacity="0.66"/><circle cx="40.5" cy="32.2" r="0.73" fill="#f3eef0" fill-opacity="0.73"/><circle cx="-0.5" cy="32.2" r="0.73" fill="#f3eef0" fill-opacity="0.73"/><circle cx="23.4" cy="2.5" r="0.83" fill="#fbf7f2" fill-opacity="0.87"/><circle cx="25.9" cy="14.7" r="0.61" fill="#f3eef0" fill-opacity="0.59"/><circle cx="21.7" cy="34.5" r="0.83" fill="#fbf7f2" fill-opacity="0.59"/><circle cx="31.2" cy="24.8" r="0.55" fill="#f3eef0" fill-opacity="0.76"/><circle cx="27.2" cy="25.1" r="0.85" fill="#f3eef0" fill-opacity="0.83"/><circle cx="8.6" cy="18.7" r="0.38" fill="#ffffff" fill-opacity="0.94"/><circle cx="24.3" cy="33.3" r="0.80" fill="#fbf7f2" fill-opacity="0.91"/><circle cx="20.6" cy="8.7" r="0.67" fill="#fbf7f2" fill-opacity="0.84"/><circle cx="22.0" cy="9.7" r="0.55" fill="#f3eef0" fill-opacity="0.76"/><circle cx="36.5" cy="37.7" r="0.46" fill="#ffffff" fill-opacity="0.74"/><circle cx="28.4" cy="17.0" r="0.50" fill="#f3eef0" fill-opacity="0.75"/><circle cx="1.3" cy="23.9" r="0.62" fill="#ffffff" fill-opacity="0.88"/><circle cx="9.8" cy="25.2" r="0.51" fill="#fbf7f2" fill-opacity="0.76"/><circle cx="6.1" cy="33.2" r="0.63" fill="#ffffff" fill-opacity="0.76"/><circle cx="35.2" cy="17.4" r="0.54" fill="#ffffff" fill-opacity="0.76"/><circle cx="36.2" cy="18.6" r="0.94" fill="#ffffff" fill-opacity="0.85"/><circle cx="6.9" cy="28.2" r="0.46" fill="#f3eef0" fill-opacity="0.64"/><circle cx="26.5" cy="19.8" r="0.69" fill="#fbf7f2" fill-opacity="0.59"/><circle cx="0.8" cy="16.9" r="0.84" fill="#fbf7f2" fill-opacity="0.70"/><circle cx="41.8" cy="16.9" r="0.84" fill="#fbf7f2" fill-opacity="0.70"/><circle cx="11.6" cy="16.2" r="0.68" fill="#f3eef0" fill-opacity="0.90"/><circle cx="7.3" cy="19.6" r="0.84" fill="#f3eef0" fill-opacity="0.91"/><circle cx="13.2" cy="14.2" r="0.44" fill="#fbf7f2" fill-opacity="0.81"/><circle cx="40.4" cy="38.7" r="0.43" fill="#fbf7f2" fill-opacity="0.84"/><circle cx="40.4" cy="-0.3" r="0.43" fill="#fbf7f2" fill-opacity="0.84"/><circle cx="40.3" cy="19.3" r="0.47" fill="#f3eef0" fill-opacity="0.89"/><circle cx="39.0" cy="19.9" r="0.38" fill="#ffffff" fill-opacity="0.92"/><circle cx="6.9" cy="22.4" r="1.00" fill="#fbf7f2" fill-opacity="0.66"/><circle cx="0.8" cy="1.0" r="0.79" fill="#ffffff" fill-opacity="0.84"/><circle cx="10.0" cy="26.5" r="0.65" fill="#f3eef0" fill-opacity="0.89"/><circle cx="16.5" cy="2.5" r="0.88" fill="#ffffff" fill-opacity="0.65"/><circle cx="12.0" cy="0.0" r="0.41" fill="#f3eef0" fill-opacity="0.86"/><circle cx="12.0" cy="39.0" r="0.41" fill="#f3eef0" fill-opacity="0.86"/><circle cx="2.8" cy="9.5" r="0.61" fill="#f3eef0" fill-opacity="0.58"/><circle cx="26.8" cy="35.8" r="0.99" fill="#ffffff" fill-opacity="0.80"/><circle cx="30.6" cy="12.6" r="0.66" fill="#f3eef0" fill-opacity="0.59"/><circle cx="33.5" cy="20.8" r="0.36" fill="#fbf7f2" fill-opacity="0.82"/><circle cx="12.8" cy="0.2" r="0.52" fill="#f3eef0" fill-opacity="0.87"/><circle cx="12.8" cy="39.2" r="0.52" fill="#f3eef0" fill-opacity="0.87"/><circle cx="2.1" cy="0.7" r="0.80" fill="#f3eef0" fill-opacity="0.67"/><circle cx="2.1" cy="39.7" r="0.80" fill="#f3eef0" fill-opacity="0.67"/><circle cx="19.0" cy="27.8" r="0.38" fill="#ffffff" fill-opacity="0.86"/><circle cx="0.9" cy="27.6" r="0.75" fill="#fbf7f2" fill-opacity="0.69"/><circle cx="26.0" cy="26.6" r="0.86" fill="#fbf7f2" fill-opacity="0.85"/><circle cx="2.7" cy="32.2" r="0.58" fill="#fbf7f2" fill-opacity="0.93"/><circle cx="36.4" cy="25.0" r="0.69" fill="#fbf7f2" fill-opacity="0.75"/><circle cx="30.0" cy="8.6" r="0.60" fill="#fbf7f2" fill-opacity="0.56"/><circle cx="11.0" cy="9.1" r="0.38" fill="#f3eef0" fill-opacity="0.55"/><circle cx="12.2" cy="0.3" r="0.39" fill="#ffffff" fill-opacity="0.63"/><circle cx="12.2" cy="39.3" r="0.39" fill="#ffffff" fill-opacity="0.63"/><circle cx="31.8" cy="31.4" r="0.80" fill="#fbf7f2" fill-opacity="0.95"/><circle cx="0.4" cy="10.0" r="0.59" fill="#ffffff" fill-opacity="0.85"/><circle cx="41.4" cy="10.0" r="0.59" fill="#ffffff" fill-opacity="0.85"/><circle cx="29.7" cy="30.3" r="0.98" fill="#fbf7f2" fill-opacity="0.86"/><circle cx="17.7" cy="36.3" r="0.53" fill="#ffffff" fill-opacity="0.61"/><circle cx="29.9" cy="28.1" r="0.45" fill="#f3eef0" fill-opacity="0.60"/><circle cx="14.5" cy="11.5" r="0.79" fill="#f3eef0" fill-opacity="0.66"/><circle cx="23.5" cy="20.8" r="0.89" fill="#ffffff" fill-opacity="0.84"/><circle cx="1.5" cy="0.9" r="0.57" fill="#ffffff" fill-opacity="0.91"/><circle cx="28.9" cy="0.4" r="0.70" fill="#f3eef0" fill-opacity="0.62"/><circle cx="28.9" cy="39.4" r="0.70" fill="#f3eef0" fill-opacity="0.62"/><circle cx="32.5" cy="22.3" r="0.44" fill="#fbf7f2" fill-opacity="0.76"/><circle cx="19.5" cy="9.6" r="0.48" fill="#ffffff" fill-opacity="0.80"/><circle cx="20.1" cy="31.3" r="0.80" fill="#ffffff" fill-opacity="0.86"/><circle cx="0.9" cy="11.5" r="0.78" fill="#f3eef0" fill-opacity="0.56"/><circle cx="41.0" cy="6.1" r="0.63" fill="#fbf7f2" fill-opacity="0.62"/><circle cx="-0.0" cy="6.1" r="0.63" fill="#fbf7f2" fill-opacity="0.62"/><circle cx="40.2" cy="19.5" r="0.40" fill="#fbf7f2" fill-opacity="0.69"/><circle cx="0.0" cy="24.7" r="0.69" fill="#fbf7f2" fill-opacity="0.85"/><circle cx="41.0" cy="24.7" r="0.69" fill="#fbf7f2" fill-opacity="0.85"/><circle cx="1.9" cy="25.2" r="0.72" fill="#fbf7f2" fill-opacity="0.95"/><circle cx="22.9" cy="8.5" r="0.60" fill="#ffffff" fill-opacity="0.73"/><circle cx="1.2" cy="11.1" r="0.45" fill="#f3eef0" fill-opacity="0.84"/><circle cx="0.7" cy="30.5" r="0.92" fill="#f3eef0" fill-opacity="0.74"/><circle cx="41.7" cy="30.5" r="0.92" fill="#f3eef0" fill-opacity="0.74"/><circle cx="25.2" cy="17.8" r="0.79" fill="#ffffff" fill-opacity="0.69"/><circle cx="3.2" cy="14.2" r="0.94" fill="#f3eef0" fill-opacity="0.80"/><circle cx="3.2" cy="8.1" r="0.78" fill="#fbf7f2" fill-opacity="0.94"/><circle cx="38.6" cy="4.6" r="0.37" fill="#f3eef0" fill-opacity="0.80"/><circle cx="17.6" cy="3.3" r="0.77" fill="#ffffff" fill-opacity="0.81"/><circle cx="26.5" cy="26.3" r="0.41" fill="#fbf7f2" fill-opacity="0.68"/><circle cx="17.3" cy="21.9" r="0.77" fill="#fbf7f2" fill-opacity="0.68"/><circle cx="29.5" cy="0.4" r="0.65" fill="#fbf7f2" fill-opacity="0.82"/><circle cx="29.5" cy="39.4" r="0.65" fill="#fbf7f2" fill-opacity="0.82"/><circle cx="12.9" cy="2.4" r="0.73" fill="#f3eef0" fill-opacity="0.63"/><circle cx="36.6" cy="16.8" r="0.89" fill="#fbf7f2" fill-opacity="0.93"/><circle cx="36.0" cy="25.1" r="0.44" fill="#ffffff" fill-opacity="0.77"/><circle cx="25.9" cy="35.3" r="0.88" fill="#ffffff" fill-opacity="0.70"/><circle cx="7.7" cy="10.2" r="0.94" fill="#f3eef0" fill-opacity="0.64"/><circle cx="7.4" cy="9.7" r="0.42" fill="#fbf7f2" fill-opacity="0.69"/><circle cx="31.8" cy="26.2" r="0.46" fill="#fbf7f2" fill-opacity="0.68"/><circle cx="7.1" cy="3.6" r="0.42" fill="#ffffff" fill-opacity="0.59"/><circle cx="36.5" cy="38.7" r="0.35" fill="#f3eef0" fill-opacity="0.79"/><circle cx="36.5" cy="-0.3" r="0.35" fill="#f3eef0" fill-opacity="0.79"/><circle cx="23.6" cy="30.0" r="0.54" fill="#ffffff" fill-opacity="0.80"/><circle cx="26.1" cy="6.2" r="0.64" fill="#f3eef0" fill-opacity="0.69"/><circle cx="37.3" cy="33.9" r="0.69" fill="#f3eef0" fill-opacity="0.83"/><circle cx="1.8" cy="38.2" r="0.78" fill="#fbf7f2" fill-opacity="0.65"/><circle cx="24.4" cy="4.5" r="0.58" fill="#ffffff" fill-opacity="0.60"/><circle cx="26.4" cy="35.3" r="0.43" fill="#ffffff" fill-opacity="0.71"/><circle cx="38.1" cy="18.0" r="0.61" fill="#fbf7f2" fill-opacity="0.70"/><circle cx="27.7" cy="36.8" r="0.39" fill="#f3eef0" fill-opacity="0.61"/><circle cx="15.0" cy="34.3" r="0.67" fill="#fbf7f2" fill-opacity="0.80"/><circle cx="35.1" cy="13.2" r="0.37" fill="#fbf7f2" fill-opacity="0.83"/><circle cx="12.6" cy="15.3" r="0.72" fill="#fbf7f2" fill-opacity="0.70"/><circle cx="10.8" cy="29.1" r="0.64" fill="#f3eef0" fill-opacity="0.66"/><circle cx="36.7" cy="5.5" r="0.70" fill="#fbf7f2" fill-opacity="0.84"/><circle cx="3.5" cy="13.8" r="0.84" fill="#f3eef0" fill-opacity="0.83"/><circle cx="2.2" cy="10.6" r="0.37" fill="#ffffff" fill-opacity="0.67"/><circle cx="13.5" cy="33.6" r="0.91" fill="#f3eef0" fill-opacity="0.75"/><circle cx="17.2" cy="32.6" r="0.71" fill="#fbf7f2" fill-opacity="0.90"/><circle cx="39.8" cy="10.0" r="0.78" fill="#fbf7f2" fill-opacity="0.59"/><circle cx="35.7" cy="28.4" r="0.77" fill="#fbf7f2" fill-opacity="0.56"/><circle cx="4.4" cy="0.7" r="0.57" fill="#ffffff" fill-opacity="0.63"/><circle cx="27.4" cy="30.6" r="0.62" fill="#fbf7f2" fill-opacity="0.78"/><circle cx="28.5" cy="33.8" r="0.63" fill="#f3eef0" fill-opacity="0.61"/><circle cx="13.7" cy="34.4" r="0.47" fill="#fbf7f2" fill-opacity="0.91"/><circle cx="40.3" cy="1.3" r="0.66" fill="#fbf7f2" fill-opacity="0.69"/><circle cx="35.3" cy="14.9" r="0.71" fill="#fbf7f2" fill-opacity="0.78"/><circle cx="18.8" cy="0.5" r="0.75" fill="#ffffff" fill-opacity="0.81"/><circle cx="18.8" cy="39.5" r="0.75" fill="#ffffff" fill-opacity="0.81"/><circle cx="36.3" cy="37.0" r="0.52" fill="#f3eef0" fill-opacity="0.68"/><circle cx="20.7" cy="0.9" r="0.53" fill="#f3eef0" fill-opacity="0.74"/><circle cx="5.5" cy="14.5" r="0.81" fill="#fbf7f2" fill-opacity="0.63"/><circle cx="15.4" cy="22.0" r="0.82" fill="#f3eef0" fill-opacity="0.93"/><circle cx="26.5" cy="20.9" r="0.80" fill="#ffffff" fill-opacity="0.87"/><circle cx="0.0" cy="36.3" r="0.66" fill="#fbf7f2" fill-opacity="0.95"/><circle cx="41.0" cy="36.3" r="0.66" fill="#fbf7f2" fill-opacity="0.95"/><circle cx="4.8" cy="24.4" r="0.66" fill="#ffffff" fill-opacity="0.89"/><circle cx="2.1" cy="27.2" r="0.74" fill="#ffffff" fill-opacity="0.82"/><circle cx="38.5" cy="33.7" r="0.81" fill="#ffffff" fill-opacity="0.90"/><circle cx="13.4" cy="9.1" r="0.75" fill="#ffffff" fill-opacity="0.94"/><circle cx="18.5" cy="1.7" r="0.64" fill="#ffffff" fill-opacity="0.62"/><circle cx="0.6" cy="12.6" r="0.37" fill="#ffffff" fill-opacity="0.62"/><circle cx="15.8" cy="12.8" r="0.95" fill="#ffffff" fill-opacity="0.60"/><circle cx="38.2" cy="20.1" r="0.76" fill="#ffffff" fill-opacity="0.93"/></pattern><pattern id="pD1" patternUnits="userSpaceOnUse" width="43" height="37"><circle cx="0.5" cy="4.2" r="0.53" fill="#a8723e" fill-opacity="0.57"/><circle cx="40.9" cy="19.8" r="0.67" fill="#8f6040" fill-opacity="0.36"/><circle cx="1.4" cy="2.2" r="0.45" fill="#8f6040" fill-opacity="0.59"/><circle cx="17.7" cy="36.9" r="0.39" fill="#b07a45" fill-opacity="0.31"/><circle cx="17.7" cy="-0.1" r="0.39" fill="#b07a45" fill-opacity="0.31"/><circle cx="14.7" cy="7.6" r="0.53" fill="#a8723e" fill-opacity="0.54"/><circle cx="9.0" cy="8.0" r="0.61" fill="#a8723e" fill-opacity="0.52"/><circle cx="36.1" cy="13.2" r="0.44" fill="#b07a45" fill-opacity="0.63"/><circle cx="1.3" cy="27.2" r="0.74" fill="#a8723e" fill-opacity="0.56"/><circle cx="8.9" cy="16.0" r="0.52" fill="#a8723e" fill-opacity="0.43"/><circle cx="20.7" cy="9.7" r="0.48" fill="#b07a45" fill-opacity="0.53"/><circle cx="27.8" cy="30.9" r="0.78" fill="#a8723e" fill-opacity="0.69"/><circle cx="34.0" cy="11.3" r="0.43" fill="#8f6040" fill-opacity="0.55"/><circle cx="36.0" cy="10.9" r="0.43" fill="#8f6040" fill-opacity="0.31"/><circle cx="16.1" cy="35.4" r="0.65" fill="#b07a45" fill-opacity="0.41"/><circle cx="27.9" cy="36.7" r="0.44" fill="#b07a45" fill-opacity="0.48"/><circle cx="27.9" cy="-0.3" r="0.44" fill="#b07a45" fill-opacity="0.48"/><circle cx="19.1" cy="29.2" r="0.60" fill="#a8723e" fill-opacity="0.35"/><circle cx="37.5" cy="23.6" r="0.78" fill="#a8723e" fill-opacity="0.38"/><circle cx="30.7" cy="31.6" r="0.56" fill="#8f6040" fill-opacity="0.50"/><circle cx="12.0" cy="13.8" r="0.63" fill="#a8723e" fill-opacity="0.55"/><circle cx="36.7" cy="18.0" r="0.71" fill="#b07a45" fill-opacity="0.54"/><circle cx="41.8" cy="28.4" r="0.46" fill="#b07a45" fill-opacity="0.61"/><circle cx="15.0" cy="0.4" r="0.52" fill="#a8723e" fill-opacity="0.41"/><circle cx="15.0" cy="37.4" r="0.52" fill="#a8723e" fill-opacity="0.41"/><circle cx="42.7" cy="4.9" r="0.61" fill="#8f6040" fill-opacity="0.55"/><circle cx="-0.3" cy="4.9" r="0.61" fill="#8f6040" fill-opacity="0.55"/><circle cx="38.1" cy="29.2" r="0.78" fill="#8f6040" fill-opacity="0.65"/><circle cx="7.9" cy="16.8" r="0.66" fill="#8f6040" fill-opacity="0.51"/><circle cx="17.3" cy="19.4" r="0.67" fill="#8f6040" fill-opacity="0.48"/><circle cx="35.2" cy="12.1" r="0.52" fill="#b07a45" fill-opacity="0.51"/><circle cx="32.0" cy="34.9" r="0.66" fill="#a8723e" fill-opacity="0.53"/><circle cx="1.8" cy="24.7" r="0.68" fill="#a8723e" fill-opacity="0.38"/><circle cx="16.4" cy="11.4" r="0.54" fill="#8f6040" fill-opacity="0.58"/><circle cx="25.3" cy="34.0" r="0.47" fill="#a8723e" fill-opacity="0.68"/><circle cx="1.4" cy="22.7" r="0.75" fill="#a8723e" fill-opacity="0.40"/><circle cx="18.7" cy="26.0" r="0.44" fill="#b07a45" fill-opacity="0.31"/><circle cx="16.5" cy="7.3" r="0.45" fill="#8f6040" fill-opacity="0.44"/><circle cx="41.3" cy="4.2" r="0.45" fill="#8f6040" fill-opacity="0.69"/><circle cx="29.8" cy="32.9" r="0.55" fill="#8f6040" fill-opacity="0.56"/><circle cx="7.8" cy="1.2" r="0.57" fill="#b07a45" fill-opacity="0.42"/><circle cx="35.8" cy="36.3" r="0.47" fill="#b07a45" fill-opacity="0.41"/><circle cx="12.9" cy="33.8" r="0.61" fill="#a8723e" fill-opacity="0.46"/><circle cx="10.3" cy="5.3" r="0.63" fill="#a8723e" fill-opacity="0.61"/><circle cx="28.8" cy="26.2" r="0.36" fill="#b07a45" fill-opacity="0.66"/><circle cx="40.5" cy="24.9" r="0.58" fill="#b07a45" fill-opacity="0.64"/><circle cx="34.0" cy="14.7" r="0.45" fill="#b07a45" fill-opacity="0.65"/><circle cx="2.1" cy="21.1" r="0.78" fill="#b07a45" fill-opacity="0.40"/><circle cx="29.4" cy="12.0" r="0.79" fill="#a8723e" fill-opacity="0.62"/><circle cx="14.1" cy="27.0" r="0.69" fill="#a8723e" fill-opacity="0.47"/><circle cx="13.3" cy="29.6" r="0.77" fill="#b07a45" fill-opacity="0.39"/><circle cx="23.5" cy="2.8" r="0.57" fill="#b07a45" fill-opacity="0.49"/><circle cx="20.6" cy="17.7" r="0.66" fill="#8f6040" fill-opacity="0.66"/><circle cx="27.9" cy="8.7" r="0.80" fill="#b07a45" fill-opacity="0.49"/><circle cx="2.4" cy="21.1" r="0.76" fill="#b07a45" fill-opacity="0.43"/><circle cx="8.7" cy="8.1" r="0.38" fill="#b07a45" fill-opacity="0.65"/><circle cx="1.7" cy="27.0" r="0.55" fill="#8f6040" fill-opacity="0.46"/><circle cx="33.8" cy="35.4" r="0.58" fill="#a8723e" fill-opacity="0.43"/><circle cx="23.9" cy="29.0" r="0.55" fill="#8f6040" fill-opacity="0.35"/><circle cx="13.2" cy="26.2" r="0.44" fill="#b07a45" fill-opacity="0.56"/><circle cx="9.8" cy="12.6" r="0.78" fill="#b07a45" fill-opacity="0.47"/><circle cx="35.9" cy="22.1" r="0.72" fill="#a8723e" fill-opacity="0.47"/><circle cx="8.0" cy="8.4" r="0.47" fill="#a8723e" fill-opacity="0.66"/><circle cx="5.0" cy="31.5" r="0.67" fill="#8f6040" fill-opacity="0.42"/><circle cx="33.5" cy="16.0" r="0.39" fill="#8f6040" fill-opacity="0.34"/><circle cx="37.4" cy="17.6" r="0.41" fill="#a8723e" fill-opacity="0.47"/><circle cx="2.7" cy="22.2" r="0.49" fill="#8f6040" fill-opacity="0.64"/><circle cx="2.5" cy="12.0" r="0.66" fill="#8f6040" fill-opacity="0.64"/><circle cx="38.0" cy="20.4" r="0.62" fill="#b07a45" fill-opacity="0.61"/><circle cx="6.0" cy="11.3" r="0.53" fill="#b07a45" fill-opacity="0.48"/><circle cx="36.8" cy="36.1" r="0.47" fill="#8f6040" fill-opacity="0.33"/><circle cx="7.2" cy="25.5" r="0.41" fill="#8f6040" fill-opacity="0.68"/><circle cx="35.1" cy="32.2" r="0.41" fill="#a8723e" fill-opacity="0.48"/><circle cx="7.4" cy="19.0" r="0.66" fill="#b07a45" fill-opacity="0.53"/><circle cx="21.0" cy="7.4" r="0.57" fill="#b07a45" fill-opacity="0.31"/><circle cx="28.5" cy="6.9" r="0.41" fill="#a8723e" fill-opacity="0.64"/><circle cx="8.9" cy="3.5" r="0.56" fill="#a8723e" fill-opacity="0.50"/><circle cx="33.8" cy="2.6" r="0.75" fill="#b07a45" fill-opacity="0.55"/><circle cx="35.0" cy="2.4" r="0.36" fill="#b07a45" fill-opacity="0.32"/><circle cx="24.4" cy="8.8" r="0.52" fill="#8f6040" fill-opacity="0.47"/><circle cx="2.2" cy="11.0" r="0.72" fill="#b07a45" fill-opacity="0.33"/><circle cx="7.0" cy="10.9" r="0.64" fill="#8f6040" fill-opacity="0.44"/><circle cx="6.2" cy="36.1" r="0.74" fill="#a8723e" fill-opacity="0.58"/><circle cx="14.0" cy="9.2" r="0.74" fill="#b07a45" fill-opacity="0.54"/><circle cx="22.4" cy="15.8" r="0.80" fill="#b07a45" fill-opacity="0.56"/><circle cx="30.6" cy="23.4" r="0.46" fill="#a8723e" fill-opacity="0.39"/><circle cx="6.4" cy="25.6" r="0.64" fill="#b07a45" fill-opacity="0.34"/><circle cx="28.4" cy="18.2" r="0.50" fill="#b07a45" fill-opacity="0.36"/><circle cx="30.1" cy="34.7" r="0.47" fill="#b07a45" fill-opacity="0.44"/><circle cx="41.6" cy="17.2" r="0.67" fill="#b07a45" fill-opacity="0.45"/><circle cx="17.8" cy="20.0" r="0.68" fill="#8f6040" fill-opacity="0.31"/><circle cx="14.5" cy="29.8" r="0.78" fill="#a8723e" fill-opacity="0.49"/><circle cx="22.0" cy="25.9" r="0.78" fill="#b07a45" fill-opacity="0.64"/><circle cx="21.1" cy="19.4" r="0.60" fill="#8f6040" fill-opacity="0.30"/><circle cx="29.6" cy="36.2" r="0.77" fill="#b07a45" fill-opacity="0.41"/><circle cx="12.0" cy="16.8" r="0.42" fill="#b07a45" fill-opacity="0.54"/><circle cx="8.0" cy="18.2" r="0.45" fill="#8f6040" fill-opacity="0.54"/><circle cx="25.9" cy="10.1" r="0.37" fill="#8f6040" fill-opacity="0.68"/><circle cx="42.4" cy="31.9" r="0.36" fill="#a8723e" fill-opacity="0.46"/><circle cx="20.0" cy="20.6" r="0.55" fill="#b07a45" fill-opacity="0.68"/><circle cx="27.5" cy="14.2" r="0.49" fill="#a8723e" fill-opacity="0.62"/><circle cx="14.6" cy="35.1" r="0.62" fill="#a8723e" fill-opacity="0.45"/><circle cx="5.1" cy="9.4" r="0.38" fill="#b07a45" fill-opacity="0.57"/><circle cx="2.0" cy="20.3" r="0.45" fill="#a8723e" fill-opacity="0.34"/><circle cx="32.7" cy="14.1" r="0.74" fill="#8f6040" fill-opacity="0.32"/><circle cx="8.6" cy="9.5" r="0.55" fill="#a8723e" fill-opacity="0.33"/><circle cx="3.2" cy="5.0" r="0.52" fill="#b07a45" fill-opacity="0.63"/><circle cx="14.0" cy="30.4" r="0.52" fill="#a8723e" fill-opacity="0.55"/><circle cx="37.4" cy="32.5" r="0.73" fill="#b07a45" fill-opacity="0.65"/><circle cx="9.6" cy="17.4" r="0.66" fill="#8f6040" fill-opacity="0.39"/><circle cx="27.7" cy="0.9" r="0.38" fill="#b07a45" fill-opacity="0.53"/><circle cx="42.8" cy="22.4" r="0.46" fill="#a8723e" fill-opacity="0.39"/><circle cx="-0.2" cy="22.4" r="0.46" fill="#a8723e" fill-opacity="0.39"/><circle cx="19.5" cy="5.4" r="0.61" fill="#a8723e" fill-opacity="0.65"/><circle cx="29.7" cy="14.5" r="0.61" fill="#b07a45" fill-opacity="0.33"/><circle cx="20.7" cy="19.6" r="0.48" fill="#b07a45" fill-opacity="0.52"/><circle cx="21.7" cy="3.6" r="0.60" fill="#a8723e" fill-opacity="0.36"/><circle cx="39.1" cy="30.2" r="0.46" fill="#8f6040" fill-opacity="0.50"/><circle cx="33.4" cy="25.1" r="0.73" fill="#8f6040" fill-opacity="0.62"/><circle cx="39.1" cy="0.7" r="0.75" fill="#b07a45" fill-opacity="0.57"/><circle cx="39.1" cy="37.7" r="0.75" fill="#b07a45" fill-opacity="0.57"/><circle cx="16.3" cy="30.0" r="0.58" fill="#b07a45" fill-opacity="0.45"/><circle cx="8.5" cy="25.8" r="0.66" fill="#8f6040" fill-opacity="0.53"/><circle cx="27.6" cy="20.1" r="0.77" fill="#a8723e" fill-opacity="0.56"/><circle cx="24.0" cy="26.5" r="0.74" fill="#b07a45" fill-opacity="0.32"/><circle cx="36.8" cy="25.9" r="0.58" fill="#b07a45" fill-opacity="0.54"/><circle cx="11.1" cy="35.0" r="0.55" fill="#8f6040" fill-opacity="0.54"/><circle cx="26.0" cy="30.0" r="0.79" fill="#8f6040" fill-opacity="0.70"/><circle cx="13.6" cy="19.2" r="0.64" fill="#b07a45" fill-opacity="0.65"/><circle cx="16.0" cy="35.2" r="0.67" fill="#8f6040" fill-opacity="0.46"/><circle cx="27.0" cy="36.5" r="0.62" fill="#a8723e" fill-opacity="0.60"/><circle cx="27.0" cy="-0.5" r="0.62" fill="#a8723e" fill-opacity="0.60"/><circle cx="17.5" cy="26.1" r="0.56" fill="#8f6040" fill-opacity="0.54"/><circle cx="31.7" cy="6.6" r="0.62" fill="#a8723e" fill-opacity="0.63"/><circle cx="9.8" cy="3.1" r="0.44" fill="#8f6040" fill-opacity="0.34"/><circle cx="22.2" cy="26.2" r="0.65" fill="#8f6040" fill-opacity="0.51"/><circle cx="41.8" cy="20.2" r="0.46" fill="#b07a45" fill-opacity="0.66"/><circle cx="29.3" cy="2.3" r="0.48" fill="#a8723e" fill-opacity="0.64"/><circle cx="31.5" cy="32.1" r="0.61" fill="#b07a45" fill-opacity="0.34"/><circle cx="17.3" cy="18.9" r="0.67" fill="#b07a45" fill-opacity="0.56"/><circle cx="26.8" cy="27.7" r="0.64" fill="#b07a45" fill-opacity="0.56"/><circle cx="27.6" cy="28.6" r="0.55" fill="#8f6040" fill-opacity="0.59"/><circle cx="37.5" cy="19.0" r="0.78" fill="#b07a45" fill-opacity="0.68"/><circle cx="8.7" cy="2.9" r="0.72" fill="#8f6040" fill-opacity="0.58"/><circle cx="14.6" cy="11.4" r="0.73" fill="#b07a45" fill-opacity="0.40"/><circle cx="4.5" cy="4.8" r="0.36" fill="#b07a45" fill-opacity="0.38"/><circle cx="0.2" cy="13.8" r="0.36" fill="#8f6040" fill-opacity="0.67"/><circle cx="43.2" cy="13.8" r="0.36" fill="#8f6040" fill-opacity="0.67"/><circle cx="12.9" cy="17.9" r="0.52" fill="#8f6040" fill-opacity="0.39"/><circle cx="10.5" cy="14.1" r="0.73" fill="#a8723e" fill-opacity="0.60"/><circle cx="28.2" cy="30.8" r="0.78" fill="#a8723e" fill-opacity="0.41"/><circle cx="38.4" cy="18.3" r="0.41" fill="#b07a45" fill-opacity="0.51"/><circle cx="36.8" cy="7.2" r="0.51" fill="#8f6040" fill-opacity="0.41"/><circle cx="24.5" cy="29.4" r="0.67" fill="#8f6040" fill-opacity="0.50"/><circle cx="38.2" cy="19.7" r="0.37" fill="#a8723e" fill-opacity="0.41"/><circle cx="25.8" cy="7.6" r="0.70" fill="#a8723e" fill-opacity="0.50"/><circle cx="19.3" cy="2.1" r="0.74" fill="#b07a45" fill-opacity="0.38"/><circle cx="42.2" cy="16.1" r="0.76" fill="#b07a45" fill-opacity="0.57"/><circle cx="7.6" cy="16.9" r="0.47" fill="#b07a45" fill-opacity="0.42"/><circle cx="15.4" cy="28.6" r="0.72" fill="#b07a45" fill-opacity="0.58"/><circle cx="25.7" cy="5.0" r="0.41" fill="#8f6040" fill-opacity="0.55"/><circle cx="19.8" cy="14.4" r="0.60" fill="#8f6040" fill-opacity="0.65"/><circle cx="27.3" cy="33.8" r="0.51" fill="#a8723e" fill-opacity="0.50"/><circle cx="21.1" cy="24.1" r="0.38" fill="#8f6040" fill-opacity="0.69"/><circle cx="37.0" cy="36.8" r="0.49" fill="#b07a45" fill-opacity="0.64"/><circle cx="37.0" cy="-0.2" r="0.49" fill="#b07a45" fill-opacity="0.64"/><circle cx="5.6" cy="9.0" r="0.80" fill="#a8723e" fill-opacity="0.44"/><circle cx="29.5" cy="26.1" r="0.61" fill="#8f6040" fill-opacity="0.32"/><circle cx="41.1" cy="14.6" r="0.37" fill="#8f6040" fill-opacity="0.52"/><circle cx="27.5" cy="13.2" r="0.58" fill="#a8723e" fill-opacity="0.37"/><circle cx="18.1" cy="6.8" r="0.46" fill="#a8723e" fill-opacity="0.39"/><circle cx="1.9" cy="15.3" r="0.59" fill="#a8723e" fill-opacity="0.39"/><circle cx="26.6" cy="31.4" r="0.41" fill="#b07a45" fill-opacity="0.37"/><circle cx="24.9" cy="27.0" r="0.36" fill="#a8723e" fill-opacity="0.41"/><circle cx="2.7" cy="30.6" r="0.59" fill="#8f6040" fill-opacity="0.66"/><circle cx="19.3" cy="26.2" r="0.69" fill="#b07a45" fill-opacity="0.62"/><circle cx="15.5" cy="36.2" r="0.61" fill="#a8723e" fill-opacity="0.68"/><circle cx="42.0" cy="4.8" r="0.59" fill="#a8723e" fill-opacity="0.52"/><circle cx="37.0" cy="14.4" r="0.38" fill="#a8723e" fill-opacity="0.69"/><circle cx="34.7" cy="14.2" r="0.39" fill="#8f6040" fill-opacity="0.66"/><circle cx="10.2" cy="14.3" r="0.52" fill="#8f6040" fill-opacity="0.58"/><circle cx="26.4" cy="2.6" r="0.39" fill="#b07a45" fill-opacity="0.51"/><circle cx="7.3" cy="18.5" r="0.76" fill="#8f6040" fill-opacity="0.51"/><circle cx="16.5" cy="21.4" r="0.65" fill="#8f6040" fill-opacity="0.69"/><circle cx="19.3" cy="21.9" r="0.66" fill="#8f6040" fill-opacity="0.46"/><circle cx="1.5" cy="1.5" r="0.56" fill="#b07a45" fill-opacity="0.44"/><circle cx="37.7" cy="9.3" r="0.70" fill="#b07a45" fill-opacity="0.67"/><circle cx="3.4" cy="30.6" r="0.80" fill="#8f6040" fill-opacity="0.30"/><circle cx="25.4" cy="31.4" r="0.47" fill="#a8723e" fill-opacity="0.52"/><circle cx="40.3" cy="31.7" r="0.54" fill="#b07a45" fill-opacity="0.45"/><circle cx="38.4" cy="10.1" r="0.35" fill="#8f6040" fill-opacity="0.55"/><circle cx="0.0" cy="22.4" r="0.54" fill="#b07a45" fill-opacity="0.70"/><circle cx="43.0" cy="22.4" r="0.54" fill="#b07a45" fill-opacity="0.70"/><circle cx="30.7" cy="27.0" r="0.52" fill="#a8723e" fill-opacity="0.58"/><circle cx="26.2" cy="26.3" r="0.41" fill="#8f6040" fill-opacity="0.52"/><circle cx="16.7" cy="12.8" r="0.65" fill="#a8723e" fill-opacity="0.49"/><circle cx="6.3" cy="29.5" r="0.56" fill="#8f6040" fill-opacity="0.68"/><circle cx="11.6" cy="13.6" r="0.54" fill="#a8723e" fill-opacity="0.63"/><circle cx="11.0" cy="10.4" r="0.59" fill="#b07a45" fill-opacity="0.65"/><circle cx="0.8" cy="3.7" r="0.63" fill="#a8723e" fill-opacity="0.48"/><circle cx="42.2" cy="11.4" r="0.60" fill="#8f6040" fill-opacity="0.55"/><circle cx="38.1" cy="2.8" r="0.66" fill="#a8723e" fill-opacity="0.51"/><circle cx="33.3" cy="18.3" r="0.57" fill="#a8723e" fill-opacity="0.31"/><circle cx="41.7" cy="0.5" r="0.79" fill="#a8723e" fill-opacity="0.49"/><circle cx="41.7" cy="37.5" r="0.79" fill="#a8723e" fill-opacity="0.49"/><circle cx="27.4" cy="6.7" r="0.80" fill="#a8723e" fill-opacity="0.30"/><circle cx="37.4" cy="0.1" r="0.74" fill="#a8723e" fill-opacity="0.36"/><circle cx="37.4" cy="37.1" r="0.74" fill="#a8723e" fill-opacity="0.36"/><circle cx="9.2" cy="16.8" r="0.70" fill="#8f6040" fill-opacity="0.46"/><circle cx="18.4" cy="30.0" r="0.54" fill="#b07a45" fill-opacity="0.42"/><circle cx="3.4" cy="17.1" r="0.53" fill="#a8723e" fill-opacity="0.31"/><circle cx="15.8" cy="25.8" r="0.57" fill="#a8723e" fill-opacity="0.59"/></pattern><pattern id="pP1" patternUnits="userSpaceOnUse" width="47" height="41"><circle cx="17.9" cy="9.5" r="0.35" fill="#9a8ab8" fill-opacity="0.77"/><circle cx="42.1" cy="11.6" r="0.38" fill="#9a8ab8" fill-opacity="0.74"/><circle cx="0.4" cy="10.2" r="0.60" fill="#8a7ab0" fill-opacity="0.41"/><circle cx="47.4" cy="10.2" r="0.60" fill="#8a7ab0" fill-opacity="0.41"/><circle cx="46.4" cy="40.2" r="0.40" fill="#9a8ab8" fill-opacity="0.50"/><circle cx="29.2" cy="2.4" r="0.54" fill="#7a6aa8" fill-opacity="0.41"/><circle cx="39.5" cy="8.9" r="0.52" fill="#8a7ab0" fill-opacity="0.69"/><circle cx="26.1" cy="0.8" r="0.33" fill="#8a7ab0" fill-opacity="0.46"/><circle cx="2.5" cy="13.0" r="0.49" fill="#8a7ab0" fill-opacity="0.64"/><circle cx="20.4" cy="32.7" r="0.32" fill="#8a7ab0" fill-opacity="0.56"/><circle cx="31.4" cy="16.7" r="0.50" fill="#7a6aa8" fill-opacity="0.60"/><circle cx="10.8" cy="3.5" r="0.32" fill="#7a6aa8" fill-opacity="0.78"/><circle cx="20.0" cy="30.5" r="0.46" fill="#9a8ab8" fill-opacity="0.75"/><circle cx="21.8" cy="7.2" r="0.54" fill="#9a8ab8" fill-opacity="0.69"/><circle cx="40.5" cy="35.9" r="0.53" fill="#9a8ab8" fill-opacity="0.44"/><circle cx="33.1" cy="36.7" r="0.42" fill="#8a7ab0" fill-opacity="0.68"/><circle cx="28.6" cy="17.2" r="0.55" fill="#8a7ab0" fill-opacity="0.78"/><circle cx="10.4" cy="14.9" r="0.44" fill="#7a6aa8" fill-opacity="0.69"/><circle cx="3.9" cy="27.4" r="0.46" fill="#8a7ab0" fill-opacity="0.77"/><circle cx="13.0" cy="36.8" r="0.40" fill="#7a6aa8" fill-opacity="0.77"/><circle cx="37.0" cy="12.1" r="0.43" fill="#9a8ab8" fill-opacity="0.43"/><circle cx="7.7" cy="1.3" r="0.35" fill="#8a7ab0" fill-opacity="0.67"/><circle cx="46.4" cy="22.5" r="0.49" fill="#8a7ab0" fill-opacity="0.60"/><circle cx="10.7" cy="27.7" r="0.34" fill="#9a8ab8" fill-opacity="0.80"/><circle cx="34.8" cy="7.9" r="0.53" fill="#7a6aa8" fill-opacity="0.56"/><circle cx="42.0" cy="33.7" r="0.31" fill="#8a7ab0" fill-opacity="0.64"/><circle cx="30.0" cy="21.0" r="0.49" fill="#9a8ab8" fill-opacity="0.47"/><circle cx="45.7" cy="39.4" r="0.31" fill="#9a8ab8" fill-opacity="0.67"/><circle cx="16.5" cy="27.9" r="0.58" fill="#7a6aa8" fill-opacity="0.76"/><circle cx="13.3" cy="10.6" r="0.41" fill="#8a7ab0" fill-opacity="0.49"/><circle cx="40.8" cy="11.5" r="0.48" fill="#7a6aa8" fill-opacity="0.52"/><circle cx="32.5" cy="9.8" r="0.45" fill="#8a7ab0" fill-opacity="0.64"/><circle cx="22.7" cy="37.0" r="0.39" fill="#7a6aa8" fill-opacity="0.50"/><circle cx="44.2" cy="33.9" r="0.32" fill="#9a8ab8" fill-opacity="0.73"/><circle cx="38.4" cy="21.9" r="0.53" fill="#7a6aa8" fill-opacity="0.65"/><circle cx="37.7" cy="13.2" r="0.41" fill="#8a7ab0" fill-opacity="0.47"/><circle cx="10.4" cy="35.8" r="0.45" fill="#9a8ab8" fill-opacity="0.46"/><circle cx="27.7" cy="15.4" r="0.37" fill="#9a8ab8" fill-opacity="0.74"/><circle cx="1.1" cy="31.4" r="0.52" fill="#8a7ab0" fill-opacity="0.55"/><circle cx="2.1" cy="13.4" r="0.45" fill="#8a7ab0" fill-opacity="0.47"/><circle cx="26.7" cy="29.6" r="0.36" fill="#7a6aa8" fill-opacity="0.47"/><circle cx="4.1" cy="27.0" r="0.58" fill="#8a7ab0" fill-opacity="0.74"/><circle cx="33.5" cy="4.4" r="0.42" fill="#7a6aa8" fill-opacity="0.43"/><circle cx="31.5" cy="30.9" r="0.41" fill="#8a7ab0" fill-opacity="0.72"/><circle cx="3.4" cy="16.0" r="0.35" fill="#7a6aa8" fill-opacity="0.58"/><circle cx="7.5" cy="3.7" r="0.55" fill="#7a6aa8" fill-opacity="0.53"/><circle cx="15.2" cy="0.6" r="0.32" fill="#9a8ab8" fill-opacity="0.57"/><circle cx="5.6" cy="0.6" r="0.34" fill="#9a8ab8" fill-opacity="0.69"/><circle cx="39.9" cy="32.0" r="0.40" fill="#7a6aa8" fill-opacity="0.47"/><circle cx="36.3" cy="31.7" r="0.42" fill="#9a8ab8" fill-opacity="0.66"/><circle cx="32.2" cy="21.8" r="0.38" fill="#8a7ab0" fill-opacity="0.68"/><circle cx="37.8" cy="1.0" r="0.38" fill="#9a8ab8" fill-opacity="0.42"/><circle cx="15.1" cy="11.6" r="0.58" fill="#7a6aa8" fill-opacity="0.52"/><circle cx="4.3" cy="34.7" r="0.60" fill="#7a6aa8" fill-opacity="0.52"/><circle cx="41.2" cy="22.4" r="0.52" fill="#8a7ab0" fill-opacity="0.55"/><circle cx="17.6" cy="32.3" r="0.48" fill="#7a6aa8" fill-opacity="0.67"/><circle cx="30.8" cy="1.6" r="0.36" fill="#7a6aa8" fill-opacity="0.52"/><circle cx="1.0" cy="20.3" r="0.51" fill="#9a8ab8" fill-opacity="0.60"/><circle cx="45.3" cy="35.1" r="0.49" fill="#9a8ab8" fill-opacity="0.79"/><circle cx="5.6" cy="16.6" r="0.50" fill="#9a8ab8" fill-opacity="0.62"/><circle cx="42.1" cy="33.0" r="0.51" fill="#9a8ab8" fill-opacity="0.73"/></pattern><pattern id="pFat" patternUnits="userSpaceOnUse" width="50" height="50"><circle cx="12.2" cy="25.1" r="1.23" fill="#ffffff" fill-opacity="0.96"/><circle cx="41.6" cy="12.8" r="2.21" fill="#fdfbf9" fill-opacity="0.89"/><circle cx="36.6" cy="27.4" r="1.88" fill="#fdfbf9" fill-opacity="0.90"/><circle cx="19.3" cy="13.9" r="1.98" fill="#ffffff" fill-opacity="0.75"/><circle cx="1.4" cy="12.9" r="1.67" fill="#ffffff" fill-opacity="0.95"/><circle cx="51.4" cy="12.9" r="1.67" fill="#ffffff" fill-opacity="0.95"/><circle cx="17.4" cy="15.0" r="1.63" fill="#f6f2f4" fill-opacity="0.95"/><circle cx="9.7" cy="38.0" r="1.61" fill="#fdfbf9" fill-opacity="0.96"/><circle cx="0.6" cy="3.0" r="1.15" fill="#f6f2f4" fill-opacity="0.95"/><circle cx="50.6" cy="3.0" r="1.15" fill="#f6f2f4" fill-opacity="0.95"/><circle cx="41.0" cy="29.6" r="1.24" fill="#fdfbf9" fill-opacity="1.00"/><circle cx="46.6" cy="34.2" r="2.31" fill="#fdfbf9" fill-opacity="0.98"/><circle cx="5.6" cy="45.2" r="1.77" fill="#fdfbf9" fill-opacity="0.79"/><circle cx="49.5" cy="24.8" r="1.73" fill="#ffffff" fill-opacity="0.86"/><circle cx="-0.5" cy="24.8" r="1.73" fill="#ffffff" fill-opacity="0.86"/><circle cx="49.1" cy="41.5" r="2.10" fill="#f6f2f4" fill-opacity="1.00"/><circle cx="-0.9" cy="41.5" r="2.10" fill="#f6f2f4" fill-opacity="1.00"/><circle cx="32.2" cy="27.0" r="1.73" fill="#f6f2f4" fill-opacity="0.95"/><circle cx="41.5" cy="42.0" r="1.04" fill="#ffffff" fill-opacity="0.86"/><circle cx="44.0" cy="43.2" r="1.57" fill="#fdfbf9" fill-opacity="0.97"/><circle cx="11.2" cy="36.4" r="1.82" fill="#f6f2f4" fill-opacity="0.80"/><circle cx="2.7" cy="23.2" r="1.75" fill="#ffffff" fill-opacity="0.90"/><circle cx="27.6" cy="44.3" r="1.41" fill="#ffffff" fill-opacity="0.87"/><circle cx="27.5" cy="44.2" r="2.24" fill="#fdfbf9" fill-opacity="0.79"/><circle cx="23.2" cy="47.9" r="1.02" fill="#f6f2f4" fill-opacity="0.92"/><circle cx="21.1" cy="3.9" r="1.71" fill="#fdfbf9" fill-opacity="0.94"/><circle cx="28.9" cy="29.7" r="1.61" fill="#fdfbf9" fill-opacity="0.86"/><circle cx="0.8" cy="38.8" r="1.39" fill="#fdfbf9" fill-opacity="0.95"/><circle cx="50.8" cy="38.8" r="1.39" fill="#fdfbf9" fill-opacity="0.95"/><circle cx="20.1" cy="42.9" r="1.54" fill="#f6f2f4" fill-opacity="0.83"/><circle cx="49.3" cy="48.7" r="1.46" fill="#f6f2f4" fill-opacity="0.86"/><circle cx="49.3" cy="-1.3" r="1.46" fill="#f6f2f4" fill-opacity="0.86"/><circle cx="-0.7" cy="48.7" r="1.46" fill="#f6f2f4" fill-opacity="0.86"/><circle cx="-0.7" cy="-1.3" r="1.46" fill="#f6f2f4" fill-opacity="0.86"/><circle cx="37.1" cy="16.2" r="1.85" fill="#ffffff" fill-opacity="0.75"/><circle cx="19.6" cy="47.4" r="2.13" fill="#fdfbf9" fill-opacity="0.82"/><circle cx="38.3" cy="16.4" r="1.07" fill="#fdfbf9" fill-opacity="0.82"/><circle cx="37.8" cy="0.2" r="2.34" fill="#fdfbf9" fill-opacity="0.77"/><circle cx="37.8" cy="50.2" r="2.34" fill="#fdfbf9" fill-opacity="0.77"/><circle cx="36.4" cy="44.0" r="1.77" fill="#fdfbf9" fill-opacity="0.84"/><circle cx="4.0" cy="24.3" r="1.71" fill="#ffffff" fill-opacity="0.96"/><circle cx="33.4" cy="21.8" r="2.02" fill="#ffffff" fill-opacity="0.95"/><circle cx="44.1" cy="46.9" r="2.01" fill="#f6f2f4" fill-opacity="0.75"/><circle cx="30.7" cy="38.4" r="1.22" fill="#f6f2f4" fill-opacity="0.96"/><circle cx="23.9" cy="6.7" r="2.15" fill="#fdfbf9" fill-opacity="0.88"/><circle cx="10.3" cy="47.1" r="2.18" fill="#ffffff" fill-opacity="0.86"/><circle cx="27.6" cy="2.3" r="1.41" fill="#ffffff" fill-opacity="0.77"/><circle cx="42.8" cy="32.8" r="1.85" fill="#fdfbf9" fill-opacity="0.88"/><circle cx="17.8" cy="39.7" r="2.33" fill="#ffffff" fill-opacity="0.87"/><circle cx="33.5" cy="24.1" r="1.76" fill="#fdfbf9" fill-opacity="0.79"/><circle cx="9.7" cy="11.2" r="1.22" fill="#ffffff" fill-opacity="0.95"/><circle cx="42.5" cy="36.6" r="1.66" fill="#ffffff" fill-opacity="0.75"/><circle cx="0.8" cy="41.6" r="1.42" fill="#f6f2f4" fill-opacity="0.77"/><circle cx="50.8" cy="41.6" r="1.42" fill="#f6f2f4" fill-opacity="0.77"/><circle cx="43.4" cy="36.4" r="1.13" fill="#ffffff" fill-opacity="0.75"/><circle cx="23.7" cy="39.0" r="1.12" fill="#f6f2f4" fill-opacity="0.94"/><circle cx="40.0" cy="37.0" r="1.40" fill="#fdfbf9" fill-opacity="0.91"/><circle cx="16.4" cy="29.5" r="1.62" fill="#fdfbf9" fill-opacity="0.76"/><circle cx="24.3" cy="3.0" r="1.75" fill="#fdfbf9" fill-opacity="0.86"/><circle cx="44.5" cy="31.9" r="1.45" fill="#f6f2f4" fill-opacity="0.94"/><circle cx="46.5" cy="20.8" r="1.06" fill="#ffffff" fill-opacity="0.82"/><circle cx="34.0" cy="1.3" r="1.56" fill="#ffffff" fill-opacity="0.88"/><circle cx="34.0" cy="51.3" r="1.56" fill="#ffffff" fill-opacity="0.88"/><circle cx="8.8" cy="24.1" r="2.13" fill="#f6f2f4" fill-opacity="0.77"/><circle cx="37.4" cy="15.0" r="1.86" fill="#ffffff" fill-opacity="0.88"/><circle cx="1.3" cy="20.0" r="1.43" fill="#fdfbf9" fill-opacity="0.86"/><circle cx="51.3" cy="20.0" r="1.43" fill="#fdfbf9" fill-opacity="0.86"/><circle cx="38.4" cy="38.8" r="1.91" fill="#ffffff" fill-opacity="0.87"/><circle cx="2.9" cy="5.0" r="2.36" fill="#ffffff" fill-opacity="0.86"/><circle cx="40.7" cy="46.9" r="2.03" fill="#f6f2f4" fill-opacity="0.79"/><circle cx="39.2" cy="42.0" r="2.39" fill="#ffffff" fill-opacity="0.92"/><circle cx="10.7" cy="4.6" r="1.88" fill="#f6f2f4" fill-opacity="0.95"/><circle cx="36.6" cy="1.5" r="1.31" fill="#ffffff" fill-opacity="0.81"/><circle cx="16.3" cy="5.2" r="1.75" fill="#fdfbf9" fill-opacity="0.90"/><circle cx="0.4" cy="12.4" r="1.20" fill="#ffffff" fill-opacity="0.92"/><circle cx="50.4" cy="12.4" r="1.20" fill="#ffffff" fill-opacity="0.92"/><circle cx="42.1" cy="13.7" r="1.57" fill="#f6f2f4" fill-opacity="0.81"/><circle cx="16.3" cy="0.2" r="2.00" fill="#ffffff" fill-opacity="1.00"/><circle cx="16.3" cy="50.2" r="2.00" fill="#ffffff" fill-opacity="1.00"/><circle cx="46.2" cy="13.4" r="2.02" fill="#ffffff" fill-opacity="0.82"/><circle cx="27.7" cy="44.4" r="1.40" fill="#fdfbf9" fill-opacity="0.81"/><circle cx="19.4" cy="35.8" r="1.55" fill="#f6f2f4" fill-opacity="0.75"/><circle cx="23.7" cy="41.3" r="1.83" fill="#fdfbf9" fill-opacity="0.78"/><circle cx="11.0" cy="10.9" r="1.80" fill="#f6f2f4" fill-opacity="0.82"/><circle cx="6.4" cy="20.4" r="2.22" fill="#fdfbf9" fill-opacity="0.92"/><circle cx="2.0" cy="3.3" r="1.15" fill="#fdfbf9" fill-opacity="0.87"/><circle cx="33.7" cy="17.8" r="1.41" fill="#ffffff" fill-opacity="0.93"/><circle cx="11.0" cy="45.6" r="2.14" fill="#fdfbf9" fill-opacity="0.97"/><circle cx="15.0" cy="42.5" r="1.48" fill="#ffffff" fill-opacity="0.93"/><circle cx="18.5" cy="27.0" r="1.79" fill="#ffffff" fill-opacity="0.81"/><circle cx="46.7" cy="45.5" r="1.14" fill="#fdfbf9" fill-opacity="0.90"/><circle cx="16.7" cy="31.4" r="1.52" fill="#f6f2f4" fill-opacity="0.94"/><circle cx="18.6" cy="31.5" r="2.02" fill="#f6f2f4" fill-opacity="0.90"/><circle cx="23.7" cy="22.0" r="2.40" fill="#f6f2f4" fill-opacity="0.82"/><circle cx="15.8" cy="12.4" r="1.32" fill="#ffffff" fill-opacity="0.79"/><circle cx="22.3" cy="13.6" r="1.12" fill="#ffffff" fill-opacity="0.93"/><circle cx="37.9" cy="46.6" r="1.77" fill="#fdfbf9" fill-opacity="0.81"/><circle cx="25.3" cy="46.6" r="2.18" fill="#fdfbf9" fill-opacity="0.98"/><circle cx="39.7" cy="26.7" r="1.79" fill="#fdfbf9" fill-opacity="0.82"/><circle cx="23.3" cy="48.4" r="1.33" fill="#f6f2f4" fill-opacity="0.84"/><circle cx="23.0" cy="13.5" r="1.48" fill="#fdfbf9" fill-opacity="0.91"/><circle cx="19.7" cy="40.4" r="1.03" fill="#fdfbf9" fill-opacity="0.89"/><circle cx="47.7" cy="9.6" r="2.30" fill="#f6f2f4" fill-opacity="0.90"/><circle cx="1.5" cy="30.4" r="2.08" fill="#ffffff" fill-opacity="0.84"/><circle cx="51.5" cy="30.4" r="2.08" fill="#ffffff" fill-opacity="0.84"/><circle cx="12.7" cy="49.1" r="2.38" fill="#fdfbf9" fill-opacity="0.87"/><circle cx="12.7" cy="-0.9" r="2.38" fill="#fdfbf9" fill-opacity="0.87"/><circle cx="35.7" cy="29.3" r="1.31" fill="#ffffff" fill-opacity="0.89"/><circle cx="37.2" cy="24.5" r="1.86" fill="#f6f2f4" fill-opacity="0.85"/><circle cx="1.3" cy="28.3" r="1.30" fill="#f6f2f4" fill-opacity="0.98"/><circle cx="51.3" cy="28.3" r="1.30" fill="#f6f2f4" fill-opacity="0.98"/><circle cx="33.5" cy="45.0" r="1.35" fill="#ffffff" fill-opacity="0.82"/><circle cx="32.6" cy="14.6" r="2.18" fill="#ffffff" fill-opacity="0.92"/><circle cx="6.2" cy="2.9" r="2.33" fill="#fdfbf9" fill-opacity="0.86"/><circle cx="0.8" cy="3.9" r="2.06" fill="#fdfbf9" fill-opacity="0.76"/><circle cx="50.8" cy="3.9" r="2.06" fill="#fdfbf9" fill-opacity="0.76"/><circle cx="49.8" cy="3.1" r="2.17" fill="#f6f2f4" fill-opacity="0.86"/><circle cx="-0.2" cy="3.1" r="2.17" fill="#f6f2f4" fill-opacity="0.86"/><circle cx="36.2" cy="20.9" r="1.23" fill="#fdfbf9" fill-opacity="0.87"/><circle cx="4.6" cy="36.6" r="1.10" fill="#f6f2f4" fill-opacity="0.88"/><circle cx="41.8" cy="43.5" r="1.81" fill="#ffffff" fill-opacity="0.80"/><circle cx="5.8" cy="2.6" r="2.14" fill="#fdfbf9" fill-opacity="0.82"/><circle cx="17.0" cy="42.2" r="1.54" fill="#f6f2f4" fill-opacity="0.81"/><circle cx="11.2" cy="5.1" r="1.85" fill="#fdfbf9" fill-opacity="0.97"/><circle cx="42.4" cy="1.0" r="1.53" fill="#f6f2f4" fill-opacity="0.87"/><circle cx="42.4" cy="51.0" r="1.53" fill="#f6f2f4" fill-opacity="0.87"/><circle cx="5.6" cy="29.5" r="1.56" fill="#fdfbf9" fill-opacity="0.87"/><circle cx="3.6" cy="10.2" r="2.25" fill="#f6f2f4" fill-opacity="0.96"/><circle cx="15.3" cy="34.9" r="1.40" fill="#f6f2f4" fill-opacity="0.78"/><circle cx="14.1" cy="31.7" r="2.28" fill="#f6f2f4" fill-opacity="0.81"/><circle cx="7.9" cy="15.8" r="1.91" fill="#ffffff" fill-opacity="0.85"/><circle cx="18.0" cy="48.0" r="1.13" fill="#f6f2f4" fill-opacity="0.94"/><circle cx="21.9" cy="18.1" r="1.70" fill="#f6f2f4" fill-opacity="0.93"/><circle cx="0.6" cy="8.3" r="1.20" fill="#f6f2f4" fill-opacity="0.77"/><circle cx="50.6" cy="8.3" r="1.20" fill="#f6f2f4" fill-opacity="0.77"/><circle cx="47.3" cy="36.8" r="2.09" fill="#ffffff" fill-opacity="0.81"/><circle cx="41.9" cy="10.3" r="1.50" fill="#ffffff" fill-opacity="0.79"/><circle cx="9.4" cy="43.7" r="1.39" fill="#f6f2f4" fill-opacity="0.97"/><circle cx="13.8" cy="0.8" r="1.41" fill="#ffffff" fill-opacity="0.85"/><circle cx="13.8" cy="50.8" r="1.41" fill="#ffffff" fill-opacity="0.85"/><circle cx="17.4" cy="4.9" r="1.76" fill="#f6f2f4" fill-opacity="0.97"/><circle cx="20.9" cy="35.4" r="1.84" fill="#ffffff" fill-opacity="0.85"/><circle cx="39.0" cy="21.6" r="2.19" fill="#fdfbf9" fill-opacity="0.94"/><circle cx="21.7" cy="10.1" r="1.70" fill="#fdfbf9" fill-opacity="0.91"/><circle cx="2.5" cy="48.3" r="1.48" fill="#f6f2f4" fill-opacity="0.81"/><circle cx="9.8" cy="43.0" r="2.31" fill="#ffffff" fill-opacity="0.85"/><circle cx="5.9" cy="11.4" r="1.70" fill="#fdfbf9" fill-opacity="0.89"/><circle cx="27.3" cy="3.0" r="1.78" fill="#f6f2f4" fill-opacity="0.80"/><circle cx="25.6" cy="46.0" r="1.32" fill="#f6f2f4" fill-opacity="0.85"/><circle cx="27.8" cy="35.7" r="2.36" fill="#f6f2f4" fill-opacity="0.97"/><circle cx="47.3" cy="14.1" r="2.30" fill="#f6f2f4" fill-opacity="0.81"/><circle cx="12.6" cy="26.4" r="1.69" fill="#ffffff" fill-opacity="0.93"/><circle cx="35.1" cy="0.6" r="1.87" fill="#fdfbf9" fill-opacity="0.93"/><circle cx="35.1" cy="50.6" r="1.87" fill="#fdfbf9" fill-opacity="0.93"/><circle cx="15.6" cy="1.7" r="1.75" fill="#fdfbf9" fill-opacity="0.80"/><circle cx="15.6" cy="51.7" r="1.75" fill="#fdfbf9" fill-opacity="0.80"/><circle cx="16.6" cy="40.0" r="1.85" fill="#ffffff" fill-opacity="0.91"/><circle cx="13.3" cy="27.0" r="2.06" fill="#f6f2f4" fill-opacity="0.79"/><circle cx="47.4" cy="21.6" r="1.14" fill="#ffffff" fill-opacity="0.88"/><circle cx="32.5" cy="39.6" r="1.11" fill="#ffffff" fill-opacity="0.76"/><circle cx="34.1" cy="24.0" r="2.11" fill="#ffffff" fill-opacity="0.80"/><circle cx="14.6" cy="7.8" r="1.79" fill="#fdfbf9" fill-opacity="0.81"/><circle cx="18.4" cy="16.7" r="1.24" fill="#ffffff" fill-opacity="0.92"/><circle cx="22.6" cy="42.1" r="1.02" fill="#f6f2f4" fill-opacity="0.97"/><circle cx="22.2" cy="34.5" r="1.82" fill="#fdfbf9" fill-opacity="0.86"/><circle cx="34.9" cy="10.9" r="2.26" fill="#ffffff" fill-opacity="0.78"/><circle cx="17.2" cy="43.2" r="1.39" fill="#ffffff" fill-opacity="0.80"/><circle cx="22.4" cy="5.3" r="1.01" fill="#ffffff" fill-opacity="0.76"/><circle cx="33.9" cy="44.3" r="1.66" fill="#f6f2f4" fill-opacity="0.93"/><circle cx="17.4" cy="23.5" r="1.68" fill="#f6f2f4" fill-opacity="0.82"/><circle cx="32.8" cy="30.5" r="1.20" fill="#fdfbf9" fill-opacity="0.99"/><circle cx="26.8" cy="18.9" r="1.61" fill="#ffffff" fill-opacity="0.87"/><circle cx="24.3" cy="33.1" r="2.07" fill="#ffffff" fill-opacity="0.77"/><circle cx="43.8" cy="25.2" r="1.42" fill="#ffffff" fill-opacity="0.86"/><circle cx="27.7" cy="21.6" r="1.31" fill="#ffffff" fill-opacity="0.94"/><circle cx="14.1" cy="26.4" r="1.50" fill="#ffffff" fill-opacity="0.98"/><circle cx="19.4" cy="33.4" r="1.50" fill="#ffffff" fill-opacity="0.85"/><circle cx="23.5" cy="35.3" r="1.43" fill="#f6f2f4" fill-opacity="1.00"/><circle cx="16.8" cy="6.8" r="1.26" fill="#fdfbf9" fill-opacity="0.80"/><circle cx="29.8" cy="20.7" r="2.35" fill="#ffffff" fill-opacity="0.75"/><circle cx="12.1" cy="1.7" r="1.88" fill="#fdfbf9" fill-opacity="0.97"/><circle cx="12.1" cy="51.7" r="1.88" fill="#fdfbf9" fill-opacity="0.97"/><circle cx="24.7" cy="48.1" r="2.27" fill="#f6f2f4" fill-opacity="0.87"/><circle cx="24.7" cy="-1.9" r="2.27" fill="#f6f2f4" fill-opacity="0.87"/><circle cx="21.4" cy="15.3" r="1.41" fill="#fdfbf9" fill-opacity="0.94"/><circle cx="0.9" cy="2.2" r="1.63" fill="#ffffff" fill-opacity="0.78"/><circle cx="50.9" cy="2.2" r="1.63" fill="#ffffff" fill-opacity="0.78"/><circle cx="42.4" cy="30.1" r="1.38" fill="#ffffff" fill-opacity="1.00"/><circle cx="21.7" cy="26.6" r="1.89" fill="#fdfbf9" fill-opacity="0.78"/><circle cx="46.4" cy="38.8" r="1.61" fill="#ffffff" fill-opacity="0.90"/><circle cx="40.1" cy="13.4" r="2.23" fill="#fdfbf9" fill-opacity="0.89"/><circle cx="9.9" cy="47.5" r="1.06" fill="#fdfbf9" fill-opacity="0.78"/><circle cx="0.8" cy="49.6" r="1.95" fill="#fdfbf9" fill-opacity="0.82"/><circle cx="0.8" cy="-0.4" r="1.95" fill="#fdfbf9" fill-opacity="0.82"/><circle cx="50.8" cy="49.6" r="1.95" fill="#fdfbf9" fill-opacity="0.82"/><circle cx="50.8" cy="-0.4" r="1.95" fill="#fdfbf9" fill-opacity="0.82"/><circle cx="2.5" cy="37.7" r="2.21" fill="#fdfbf9" fill-opacity="1.00"/><circle cx="27.2" cy="21.0" r="2.14" fill="#fdfbf9" fill-opacity="0.98"/><circle cx="36.9" cy="22.1" r="1.82" fill="#ffffff" fill-opacity="0.93"/><circle cx="12.6" cy="7.6" r="2.22" fill="#ffffff" fill-opacity="0.83"/></pattern><pattern id="pFat2" patternUnits="userSpaceOnUse" width="50" height="50"><circle cx="48.9" cy="2.7" r="1.70" fill="#fdfbf9" fill-opacity="0.85"/><circle cx="-1.1" cy="2.7" r="1.70" fill="#fdfbf9" fill-opacity="0.85"/><circle cx="20.3" cy="46.0" r="1.08" fill="#fdfbf9" fill-opacity="1.00"/><circle cx="41.5" cy="48.3" r="1.38" fill="#f6f2f4" fill-opacity="0.70"/><circle cx="19.4" cy="0.6" r="0.98" fill="#ffffff" fill-opacity="0.75"/><circle cx="19.4" cy="50.6" r="0.98" fill="#ffffff" fill-opacity="0.75"/><circle cx="31.3" cy="24.4" r="1.45" fill="#ffffff" fill-opacity="0.74"/><circle cx="44.9" cy="44.8" r="1.94" fill="#f6f2f4" fill-opacity="0.87"/><circle cx="44.6" cy="18.3" r="1.04" fill="#f6f2f4" fill-opacity="0.82"/><circle cx="26.5" cy="9.0" r="1.00" fill="#f6f2f4" fill-opacity="0.76"/><circle cx="21.2" cy="28.1" r="1.69" fill="#ffffff" fill-opacity="0.88"/><circle cx="0.2" cy="32.7" r="1.48" fill="#ffffff" fill-opacity="0.84"/><circle cx="50.2" cy="32.7" r="1.48" fill="#ffffff" fill-opacity="0.84"/><circle cx="36.2" cy="38.1" r="1.00" fill="#ffffff" fill-opacity="0.89"/><circle cx="15.4" cy="27.7" r="1.37" fill="#f6f2f4" fill-opacity="0.86"/><circle cx="35.6" cy="10.7" r="1.45" fill="#ffffff" fill-opacity="0.95"/><circle cx="41.0" cy="22.7" r="1.95" fill="#ffffff" fill-opacity="0.94"/><circle cx="26.3" cy="41.3" r="1.64" fill="#fdfbf9" fill-opacity="0.98"/><circle cx="26.5" cy="33.6" r="0.98" fill="#ffffff" fill-opacity="0.90"/><circle cx="2.1" cy="31.1" r="0.90" fill="#fdfbf9" fill-opacity="0.78"/><circle cx="2.2" cy="25.8" r="1.07" fill="#f6f2f4" fill-opacity="0.92"/><circle cx="18.8" cy="42.4" r="0.91" fill="#ffffff" fill-opacity="0.79"/><circle cx="9.3" cy="7.6" r="1.07" fill="#f6f2f4" fill-opacity="0.73"/><circle cx="49.7" cy="16.2" r="1.13" fill="#ffffff" fill-opacity="0.78"/><circle cx="-0.3" cy="16.2" r="1.13" fill="#ffffff" fill-opacity="0.78"/><circle cx="4.0" cy="38.8" r="1.19" fill="#f6f2f4" fill-opacity="0.93"/><circle cx="42.4" cy="9.6" r="1.50" fill="#fdfbf9" fill-opacity="0.80"/><circle cx="14.8" cy="8.4" r="1.35" fill="#ffffff" fill-opacity="0.73"/><circle cx="40.9" cy="2.4" r="1.72" fill="#fdfbf9" fill-opacity="0.92"/><circle cx="13.0" cy="39.8" r="1.65" fill="#f6f2f4" fill-opacity="0.87"/><circle cx="0.3" cy="48.5" r="1.56" fill="#f6f2f4" fill-opacity="0.84"/><circle cx="0.3" cy="-1.5" r="1.56" fill="#f6f2f4" fill-opacity="0.84"/><circle cx="50.3" cy="48.5" r="1.56" fill="#f6f2f4" fill-opacity="0.84"/><circle cx="50.3" cy="-1.5" r="1.56" fill="#f6f2f4" fill-opacity="0.84"/><circle cx="5.7" cy="3.0" r="1.66" fill="#ffffff" fill-opacity="0.85"/><circle cx="48.3" cy="3.4" r="1.70" fill="#f6f2f4" fill-opacity="0.97"/><circle cx="-1.7" cy="3.4" r="1.70" fill="#f6f2f4" fill-opacity="0.97"/><circle cx="45.9" cy="14.4" r="1.83" fill="#ffffff" fill-opacity="0.95"/><circle cx="40.8" cy="15.7" r="1.17" fill="#fdfbf9" fill-opacity="0.74"/><circle cx="22.9" cy="11.5" r="1.29" fill="#ffffff" fill-opacity="0.74"/><circle cx="26.4" cy="39.6" r="1.76" fill="#f6f2f4" fill-opacity="0.78"/><circle cx="35.7" cy="14.6" r="1.20" fill="#ffffff" fill-opacity="0.83"/><circle cx="48.3" cy="6.3" r="0.93" fill="#f6f2f4" fill-opacity="0.88"/><circle cx="9.4" cy="16.8" r="1.97" fill="#ffffff" fill-opacity="0.93"/><circle cx="0.7" cy="6.1" r="1.69" fill="#ffffff" fill-opacity="0.83"/><circle cx="50.7" cy="6.1" r="1.69" fill="#ffffff" fill-opacity="0.83"/><circle cx="8.0" cy="21.2" r="1.14" fill="#f6f2f4" fill-opacity="0.96"/><circle cx="20.3" cy="32.3" r="1.74" fill="#fdfbf9" fill-opacity="0.72"/><circle cx="41.7" cy="46.7" r="1.94" fill="#fdfbf9" fill-opacity="0.91"/><circle cx="40.2" cy="32.5" r="1.02" fill="#fdfbf9" fill-opacity="0.99"/><circle cx="28.4" cy="34.9" r="1.84" fill="#f6f2f4" fill-opacity="0.74"/><circle cx="16.4" cy="19.2" r="1.82" fill="#ffffff" fill-opacity="0.83"/><circle cx="31.8" cy="25.0" r="1.73" fill="#ffffff" fill-opacity="0.78"/><circle cx="35.7" cy="8.9" r="1.93" fill="#fdfbf9" fill-opacity="0.85"/><circle cx="8.6" cy="9.9" r="1.82" fill="#f6f2f4" fill-opacity="0.90"/><circle cx="23.5" cy="26.6" r="1.42" fill="#fdfbf9" fill-opacity="0.74"/><circle cx="21.0" cy="1.3" r="1.16" fill="#fdfbf9" fill-opacity="0.79"/><circle cx="8.9" cy="7.9" r="1.89" fill="#fdfbf9" fill-opacity="0.79"/><circle cx="0.5" cy="4.5" r="1.13" fill="#f6f2f4" fill-opacity="0.82"/><circle cx="50.5" cy="4.5" r="1.13" fill="#f6f2f4" fill-opacity="0.82"/><circle cx="1.8" cy="43.5" r="1.13" fill="#f6f2f4" fill-opacity="0.88"/><circle cx="49.3" cy="43.1" r="1.97" fill="#ffffff" fill-opacity="0.88"/><circle cx="-0.7" cy="43.1" r="1.97" fill="#ffffff" fill-opacity="0.88"/><circle cx="30.6" cy="30.7" r="1.05" fill="#f6f2f4" fill-opacity="0.82"/><circle cx="19.7" cy="34.3" r="1.95" fill="#fdfbf9" fill-opacity="0.91"/><circle cx="13.4" cy="15.2" r="1.27" fill="#f6f2f4" fill-opacity="0.89"/><circle cx="16.2" cy="21.6" r="1.84" fill="#ffffff" fill-opacity="0.71"/><circle cx="15.4" cy="26.8" r="1.93" fill="#ffffff" fill-opacity="0.91"/><circle cx="3.1" cy="17.2" r="1.50" fill="#fdfbf9" fill-opacity="0.86"/><circle cx="12.7" cy="17.3" r="1.77" fill="#ffffff" fill-opacity="0.95"/><circle cx="27.8" cy="12.0" r="1.25" fill="#f6f2f4" fill-opacity="0.74"/><circle cx="17.1" cy="37.2" r="1.90" fill="#ffffff" fill-opacity="0.72"/><circle cx="19.0" cy="36.5" r="1.33" fill="#ffffff" fill-opacity="0.74"/><circle cx="7.9" cy="8.2" r="0.95" fill="#fdfbf9" fill-opacity="0.84"/><circle cx="9.8" cy="30.6" r="1.99" fill="#fdfbf9" fill-opacity="0.81"/><circle cx="33.7" cy="40.4" r="0.96" fill="#f6f2f4" fill-opacity="0.83"/><circle cx="45.1" cy="39.6" r="0.96" fill="#ffffff" fill-opacity="0.73"/><circle cx="37.0" cy="15.1" r="1.85" fill="#f6f2f4" fill-opacity="0.76"/><circle cx="47.8" cy="41.2" r="1.41" fill="#ffffff" fill-opacity="0.70"/><circle cx="5.8" cy="12.3" r="1.39" fill="#f6f2f4" fill-opacity="0.97"/><circle cx="42.2" cy="20.9" r="1.50" fill="#fdfbf9" fill-opacity="0.99"/><circle cx="8.4" cy="29.3" r="1.94" fill="#f6f2f4" fill-opacity="0.78"/><circle cx="4.1" cy="8.1" r="1.42" fill="#fdfbf9" fill-opacity="0.81"/><circle cx="29.6" cy="10.2" r="1.80" fill="#f6f2f4" fill-opacity="0.77"/><circle cx="10.7" cy="1.1" r="1.22" fill="#fdfbf9" fill-opacity="0.77"/><circle cx="10.7" cy="51.1" r="1.22" fill="#fdfbf9" fill-opacity="0.77"/><circle cx="20.3" cy="8.0" r="1.48" fill="#f6f2f4" fill-opacity="0.77"/><circle cx="41.6" cy="3.1" r="1.17" fill="#ffffff" fill-opacity="0.78"/><circle cx="39.9" cy="32.3" r="1.66" fill="#f6f2f4" fill-opacity="0.95"/><circle cx="8.5" cy="22.8" r="1.83" fill="#ffffff" fill-opacity="0.72"/><circle cx="13.1" cy="13.1" r="1.38" fill="#fdfbf9" fill-opacity="0.85"/><circle cx="24.3" cy="49.4" r="1.93" fill="#fdfbf9" fill-opacity="0.93"/><circle cx="24.3" cy="-0.6" r="1.93" fill="#fdfbf9" fill-opacity="0.93"/><circle cx="20.4" cy="22.8" r="1.63" fill="#f6f2f4" fill-opacity="0.77"/><circle cx="12.3" cy="12.9" r="1.33" fill="#fdfbf9" fill-opacity="0.94"/><circle cx="34.8" cy="45.5" r="0.99" fill="#fdfbf9" fill-opacity="0.79"/><circle cx="2.4" cy="10.4" r="1.50" fill="#f6f2f4" fill-opacity="0.90"/><circle cx="19.7" cy="33.8" r="1.92" fill="#f6f2f4" fill-opacity="0.71"/><circle cx="20.9" cy="41.5" r="1.70" fill="#fdfbf9" fill-opacity="0.74"/><circle cx="16.8" cy="46.0" r="1.72" fill="#fdfbf9" fill-opacity="0.87"/><circle cx="4.9" cy="11.6" r="1.17" fill="#ffffff" fill-opacity="0.82"/><circle cx="50.0" cy="11.0" r="1.22" fill="#f6f2f4" fill-opacity="0.89"/><circle cx="-0.0" cy="11.0" r="1.22" fill="#f6f2f4" fill-opacity="0.89"/><circle cx="40.9" cy="10.1" r="1.02" fill="#fdfbf9" fill-opacity="0.89"/><circle cx="3.8" cy="14.9" r="0.91" fill="#ffffff" fill-opacity="0.91"/><circle cx="16.4" cy="31.7" r="1.70" fill="#f6f2f4" fill-opacity="0.99"/><circle cx="21.5" cy="0.8" r="1.18" fill="#f6f2f4" fill-opacity="0.91"/><circle cx="21.5" cy="50.8" r="1.18" fill="#f6f2f4" fill-opacity="0.91"/><circle cx="21.4" cy="48.0" r="1.27" fill="#f6f2f4" fill-opacity="0.84"/><circle cx="6.6" cy="2.4" r="1.92" fill="#fdfbf9" fill-opacity="0.98"/><circle cx="38.4" cy="30.7" r="1.32" fill="#f6f2f4" fill-opacity="0.96"/><circle cx="36.9" cy="3.9" r="1.61" fill="#fdfbf9" fill-opacity="0.84"/><circle cx="21.6" cy="39.8" r="1.47" fill="#ffffff" fill-opacity="0.89"/><circle cx="2.9" cy="2.5" r="1.62" fill="#ffffff" fill-opacity="0.90"/><circle cx="19.1" cy="30.6" r="1.48" fill="#f6f2f4" fill-opacity="0.74"/><circle cx="39.5" cy="7.3" r="0.99" fill="#fdfbf9" fill-opacity="0.98"/><circle cx="45.8" cy="46.6" r="1.09" fill="#f6f2f4" fill-opacity="0.86"/><circle cx="49.8" cy="26.7" r="1.12" fill="#ffffff" fill-opacity="0.91"/><circle cx="-0.2" cy="26.7" r="1.12" fill="#ffffff" fill-opacity="0.91"/><circle cx="33.7" cy="16.1" r="1.35" fill="#fdfbf9" fill-opacity="0.70"/><circle cx="9.6" cy="26.0" r="1.16" fill="#ffffff" fill-opacity="0.71"/><circle cx="3.3" cy="29.8" r="1.24" fill="#fdfbf9" fill-opacity="0.88"/><circle cx="25.6" cy="37.4" r="1.00" fill="#f6f2f4" fill-opacity="0.83"/><circle cx="25.2" cy="45.9" r="1.24" fill="#f6f2f4" fill-opacity="0.98"/><circle cx="35.1" cy="45.9" r="1.93" fill="#fdfbf9" fill-opacity="0.90"/><circle cx="25.0" cy="43.0" r="1.53" fill="#ffffff" fill-opacity="0.82"/></pattern><filter id="vb" x="-10%" y="-10%" width="120%" height="120%"><feGaussianBlur stdDeviation="0.9"/></filter><filter id="vb1" x="-10%" y="-10%" width="120%" height="120%"><feGaussianBlur stdDeviation="0.5"/></filter><filter id="vb2" x="-10%" y="-10%" width="120%" height="120%"><feGaussianBlur stdDeviation="2.5"/></filter></defs>
<svg x="18.9" y="248.9" width="82.90" height="56.50" viewBox="0 0 100 100" preserveAspectRatio="none" overflow="hidden"><rect width="100" height="100" fill="#fdfbf8"/></svg>
<svg x="18.9" y="248.9" width="82.90" height="56.50" overflow="hidden">
<g opacity="0.75"><rect x="-20" y="-20" width="122.9" height="96.5" fill="url(#pB1)" transform="rotate(0 41.5 28.2)"/></g>
<g opacity="0.55"><rect x="-20" y="-20" width="122.9" height="96.5" fill="url(#pB2)" transform="rotate(37 41.5 28.2)"/></g>
</svg>
<svg x="18.9" y="248.9" width="82.90" height="56.50" viewBox="0 0 100 100" preserveAspectRatio="none" overflow="hidden"><path d="M42,0 C43,30 46,60 44,100" stroke="#fff" stroke-width="4" fill="none" stroke-linecap="round" filter="url(#vb)"/></svg>
<rect x="20.40" y="302.30" width="9.6" height="2.6" fill="#111"/>
<svg x="103.3" y="248.9" width="83.40" height="56.50" viewBox="0 0 100 100" preserveAspectRatio="none" overflow="hidden"><rect width="100" height="100" fill="#fdfbf8"/></svg>
<svg x="103.3" y="248.9" width="83.40" height="56.50" overflow="hidden">
<g opacity="0.75"><rect x="-20" y="-20" width="123.4" height="96.5" fill="url(#pB2)" transform="rotate(13 41.7 28.2)"/></g>
<g opacity="0.55"><rect x="-20" y="-20" width="123.4" height="96.5" fill="url(#pB1)" transform="rotate(71 41.7 28.2)"/></g>
</svg>
<svg x="103.3" y="248.9" width="83.40" height="56.50" viewBox="0 0 100 100" preserveAspectRatio="none" overflow="hidden"><path d="M0,75 C30,68 60,62 100,55" stroke="#fff" stroke-width="1.5" fill="none" stroke-linecap="round" filter="url(#vb)"/></svg>
<rect x="104.80" y="302.30" width="9.6" height="2.6" fill="#111"/>
<svg x="18.9" y="307.6" width="82.90" height="56.50" viewBox="0 0 100 100" preserveAspectRatio="none" overflow="hidden"><rect width="100" height="100" fill="#c49869"/></svg>
<svg x="18.9" y="307.6" width="82.90" height="56.50" overflow="hidden">
<g opacity="0.8"><rect x="-20" y="-20" width="122.9" height="96.5" fill="url(#pD1)" transform="rotate(0 41.5 28.2)"/></g>
<g opacity="0.5"><rect x="-20" y="-20" width="122.9" height="96.5" fill="url(#pW1)" transform="rotate(0 41.5 28.2)"/></g>
<g opacity="0.5"><rect x="-20" y="-20" width="122.9" height="96.5" fill="url(#pP1)" transform="rotate(0 41.5 28.2)"/></g>
</svg>
<svg x="18.9" y="307.6" width="82.90" height="56.50" viewBox="0 0 100 100" preserveAspectRatio="none" overflow="hidden"><path d="M0,28 L0,100 L60,100 C56,90 48,82 40,78 C30,74 26,68 24,60 C22,50 18,40 12,34 C8,30 4,28 0,28 Z M62,66 C70,72 76,80 84,92 L70,100 L62,100 C60,90 58,80 62,66 Z" fill="url(#pFat)" filter="url(#vb1)"/><path d="M0,25 C5,24 10,22.5 14.6,21.9 C20,21 25,19.5 29.2,17.7 C33,16 35.5,14 36.5,12.5 C37.5,8 38.3,4 38.7,0" stroke="#ece6ee" stroke-width="7.5" fill="none" stroke-linecap="round" filter="url(#vb2)"/><path d="M36.5,12.5 C38.5,14 40.5,16 42.3,18.8 C45,23 47.5,26 49.6,29.2 C52,33 54,38 55.5,41.8 C57.5,46 59.5,50.5 61.3,54.3 C63.5,59 65,63 67.2,66.8 C70,71 73,76 75.9,79.3 C79,83 82,87 84.7,89.8 C88,93.5 91,97 93.4,100" stroke="#ece6ee" stroke-width="7.5" fill="none" stroke-linecap="round" filter="url(#vb2)"/><path d="M14.6,21.9 C16,26 17.5,30 19,33.4 C21,37 23.5,41 26.3,43.8 C29,47 31.5,50 33.6,52.2 C36.5,55 39.5,57 42.3,58.5 C45.5,60 48.5,61.5 51.1,62.6 C55,64 58,65.5 61.3,66.8" stroke="#ece6ee" stroke-width="7.5" fill="none" stroke-linecap="round" filter="url(#vb2)"/><path d="M55.5,41.8 C59,43 62,44 65.7,44.9 C70,46 75,48.5 78.8,50.1 C83,51.5 87,52 90.5,52.2 C94,52.5 97,53 100,53.2" stroke="#ece6ee" stroke-width="7.5" fill="none" stroke-linecap="round" filter="url(#vb2)"/><path d="M75.9,0 C78,4 80.5,8.5 83.2,12.5 C86,17 89,21 92,25 C94,29 95,32.5 96.4,35.5 C97.5,38 99,40 100,41.8" stroke="#ece6ee" stroke-width="7.5" fill="none" stroke-linecap="round" filter="url(#vb2)"/><path d="M62.8,0 C64.5,2 66.5,4 68.6,6.3" stroke="#ece6ee" stroke-width="7.5" fill="none" stroke-linecap="round" filter="url(#vb2)"/><path d="M29.2,68.9 C34,71 39,73.5 43.8,75.2 C48,76.5 52,78 55.5,79.3" stroke="#ece6ee" stroke-width="7.5" fill="none" stroke-linecap="round" filter="url(#vb2)"/><path d="M0,25 C5,24 10,22.5 14.6,21.9 C20,21 25,19.5 29.2,17.7 C33,16 35.5,14 36.5,12.5 C37.5,8 38.3,4 38.7,0" stroke="#f4f1f4" stroke-width="3.6" fill="none" stroke-linecap="round" filter="url(#vb)"/><path d="M36.5,12.5 C38.5,14 40.5,16 42.3,18.8 C45,23 47.5,26 49.6,29.2 C52,33 54,38 55.5,41.8 C57.5,46 59.5,50.5 61.3,54.3 C63.5,59 65,63 67.2,66.8 C70,71 73,76 75.9,79.3 C79,83 82,87 84.7,89.8 C88,93.5 91,97 93.4,100" stroke="#f4f1f4" stroke-width="3.6" fill="none" stroke-linecap="round" filter="url(#vb)"/><path d="M14.6,21.9 C16,26 17.5,30 19,33.4 C21,37 23.5,41 26.3,43.8 C29,47 31.5,50 33.6,52.2 C36.5,55 39.5,57 42.3,58.5 C45.5,60 48.5,61.5 51.1,62.6 C55,64 58,65.5 61.3,66.8" stroke="#f4f1f4" stroke-width="3.6" fill="none" stroke-linecap="round" filter="url(#vb)"/><path d="M55.5,41.8 C59,43 62,44 65.7,44.9 C70,46 75,48.5 78.8,50.1 C83,51.5 87,52 90.5,52.2 C94,52.5 97,53 100,53.2" stroke="#f4f1f4" stroke-width="3.6" fill="none" stroke-linecap="round" filter="url(#vb)"/><path d="M75.9,0 C78,4 80.5,8.5 83.2,12.5 C86,17 89,21 92,25 C94,29 95,32.5 96.4,35.5 C97.5,38 99,40 100,41.8" stroke="#f4f1f4" stroke-width="3.6" fill="none" stroke-linecap="round" filter="url(#vb)"/><path d="M62.8,0 C64.5,2 66.5,4 68.6,6.3" stroke="#f4f1f4" stroke-width="3.6" fill="none" stroke-linecap="round" filter="url(#vb)"/><path d="M29.2,68.9 C34,71 39,73.5 43.8,75.2 C48,76.5 52,78 55.5,79.3" stroke="#f4f1f4" stroke-width="3.6" fill="none" stroke-linecap="round" filter="url(#vb)"/></svg>
<rect x="20.40" y="361.00" width="9.6" height="2.6" fill="#111"/>
<svg x="103.3" y="307.6" width="83.40" height="56.50" viewBox="0 0 100 100" preserveAspectRatio="none" overflow="hidden"><rect width="100" height="100" fill="#cda27a"/><path d="M0,35 C30,38 48,60 58,100 L0,100 Z" fill="#c4976a" filter="url(#vb2)"/></svg>
<svg x="103.3" y="307.6" width="83.40" height="56.50" overflow="hidden">
<g opacity="0.6"><rect x="-20" y="-20" width="123.4" height="96.5" fill="url(#pW2)" transform="rotate(20 41.7 28.2)"/></g>
<g opacity="0.4"><rect x="-20" y="-20" width="123.4" height="96.5" fill="url(#pP1)" transform="rotate(30 41.7 28.2)"/></g>
</svg>
<svg x="103.3" y="307.6" width="83.40" height="56.50" viewBox="0 0 100 100" preserveAspectRatio="none" overflow="hidden"><path d="M30,0 C45,15 55,30 62,45 C70,60 78,80 85,100 L100,100 L100,0 Z" fill="url(#pFat)" filter="url(#vb1)"/><path d="M0,0 L30,0 C30,15 20,30 0,35 Z" fill="url(#pFat2)" filter="url(#vb1)"/><path d="M40,55 C50,70 55,85 60,100 L40,100 C35,85 32,70 40,55 Z" fill="url(#pFat2)" filter="url(#vb1)"/><path d="M20,40 C25,60 32,80 37,100" stroke="#f1edf2" stroke-width="2.4" fill="none" stroke-linecap="round" filter="url(#vb1)"/><path d="M42,10 C50,25 58,40 66,50" stroke="#f1edf2" stroke-width="2.4" fill="none" stroke-linecap="round" filter="url(#vb1)"/></svg>
<rect x="104.80" y="361.00" width="9.6" height="2.6" fill="#111"/>
<svg x="389.6" y="247.6" width="83.00" height="57.20" viewBox="0 0 100 100" preserveAspectRatio="none" overflow="hidden"><rect width="100" height="100" fill="#fbf6ef"/></svg>
<svg x="389.6" y="247.6" width="83.00" height="57.20" overflow="hidden">
<g opacity="1.0"><rect x="-20" y="-20" width="123.0" height="97.2" fill="url(#pB1)" transform="rotate(50 41.5 28.6)"/></g>
<g opacity="0.9"><rect x="-20" y="-20" width="123.0" height="97.2" fill="url(#pB2)" transform="rotate(10 41.5 28.6)"/></g>
<g opacity="0.6"><rect x="-20" y="-20" width="123.0" height="97.2" fill="url(#pB1)" transform="rotate(100 41.5 28.6)"/></g>
</svg>
<svg x="389.6" y="247.6" width="83.00" height="57.20" viewBox="0 0 100 100" preserveAspectRatio="none" overflow="hidden"><path d="M58,52 C68,40 78,28 88,18 L100,8" stroke="#fff" stroke-width="5" fill="none" stroke-linecap="round" filter="url(#vb)"/><path d="M60,48 C70,46 85,45 100,50" stroke="#fff" stroke-width="5" fill="none" stroke-linecap="round" filter="url(#vb)"/><path d="M12,0 C13,30 14,60 12,100" stroke="#fbf8f4" stroke-width="1.6" fill="none" stroke-linecap="round" filter="url(#vb)"/></svg>
<rect x="391.10" y="301.70" width="9.6" height="2.6" fill="#111"/>
<svg x="474.0" y="247.6" width="83.80" height="57.20" viewBox="0 0 100 100" preserveAspectRatio="none" overflow="hidden"><rect width="100" height="100" fill="#fbf6ef"/></svg>
<svg x="474.0" y="247.6" width="83.80" height="57.20" overflow="hidden">
<g opacity="1.0"><rect x="-20" y="-20" width="123.8" height="97.2" fill="url(#pB2)" transform="rotate(80 41.9 28.6)"/></g>
<g opacity="0.9"><rect x="-20" y="-20" width="123.8" height="97.2" fill="url(#pB1)" transform="rotate(25 41.9 28.6)"/></g>
<g opacity="0.6"><rect x="-20" y="-20" width="123.8" height="97.2" fill="url(#pB2)" transform="rotate(130 41.9 28.6)"/></g>
</svg>
<svg x="474.0" y="247.6" width="83.80" height="57.20" viewBox="0 0 100 100" preserveAspectRatio="none" overflow="hidden"><path d="M72,10 C60,30 50,55 42,75 C38,85 35,95 33,100" stroke="#fff" stroke-width="4" fill="none" stroke-linecap="round" filter="url(#vb)"/><path d="M0,52 C12,45 24,40 38,38" stroke="#fff" stroke-width="4" fill="none" stroke-linecap="round" filter="url(#vb)"/><path d="M85,90 C90,88 95,88 100,88" stroke="#fff" stroke-width="4" fill="none" stroke-linecap="round" filter="url(#vb)"/></svg>
<rect x="475.50" y="301.70" width="9.6" height="2.6" fill="#111"/>
<svg x="389.6" y="306.7" width="83.00" height="56.70" viewBox="0 0 100 100" preserveAspectRatio="none" overflow="hidden"><rect width="100" height="100" fill="#d9b890"/></svg>
<svg x="389.6" y="306.7" width="83.00" height="56.70" overflow="hidden">
<g opacity="0.6"><rect x="-20" y="-20" width="123.0" height="96.7" fill="url(#pW1)" transform="rotate(45 41.5 28.3)"/></g>
<g opacity="0.5"><rect x="-20" y="-20" width="123.0" height="96.7" fill="url(#pD1)" transform="rotate(15 41.5 28.3)"/></g>
<g opacity="0.6"><rect x="-20" y="-20" width="123.0" height="96.7" fill="url(#pP1)" transform="rotate(70 41.5 28.3)"/></g>
</svg>
<svg x="389.6" y="306.7" width="83.00" height="56.70" viewBox="0 0 100 100" preserveAspectRatio="none" overflow="hidden"><path d="M60,0 L100,0 L100,40 C85,30 70,20 60,0 Z" fill="#fff" opacity="0.3" filter="url(#vb2)"/><path d="M0,0 L100,0 L100,12 L0,12 Z" fill="#fff" opacity="0.15" filter="url(#vb2)"/><rect x="12" y="93" width="45" height="4" fill="#8a7aa8" opacity="0.6" filter="url(#vb1)"/><path d="M55,45 C62,42 70,40 78,38" stroke="#f3eef1" stroke-width="1.2" fill="none" stroke-linecap="round" filter="url(#vb1)"/></svg>
<rect x="391.10" y="360.30" width="9.6" height="2.6" fill="#111"/>
<svg x="474.0" y="306.7" width="83.80" height="56.70" viewBox="0 0 100 100" preserveAspectRatio="none" overflow="hidden"><rect width="100" height="100" fill="#d4aa7a"/></svg>
<svg x="474.0" y="306.7" width="83.80" height="56.70" overflow="hidden">
<g opacity="0.55"><rect x="-20" y="-20" width="123.8" height="96.7" fill="url(#pW2)" transform="rotate(35 41.9 28.3)"/></g>
<g opacity="0.5"><rect x="-20" y="-20" width="123.8" height="96.7" fill="url(#pD1)" transform="rotate(75 41.9 28.3)"/></g>
<g opacity="0.3"><rect x="-20" y="-20" width="123.8" height="96.7" fill="url(#pP1)" transform="rotate(5 41.9 28.3)"/></g>
</svg>
<svg x="474.0" y="306.7" width="83.80" height="56.70" viewBox="0 0 100 100" preserveAspectRatio="none" overflow="hidden"><path d="M5,5 C15,15 25,30 35,38" stroke="#f6f2f2" stroke-width="2.0" fill="none" stroke-linecap="round" filter="url(#vb1)"/><path d="M35,38 C50,42 60,45 75,50 C85,60 92,75 100,85" stroke="#f6f2f2" stroke-width="2.0" fill="none" stroke-linecap="round" filter="url(#vb1)"/><path d="M75,50 C85,48 92,48 100,48" stroke="#f6f2f2" stroke-width="2.0" fill="none" stroke-linecap="round" filter="url(#vb1)"/><path d="M45,0 C50,15 55,25 60,30" stroke="#f6f2f2" stroke-width="2.0" fill="none" stroke-linecap="round" filter="url(#vb1)"/></svg>
<rect x="475.50" y="360.30" width="9.6" height="2.6" fill="#111"/>
<text x="100.1" y="235" font-size="9.6" text-anchor="middle" fill="#222">IHC-TOM20</text>
<text x="63.9" y="247.6" font-size="9.6" text-anchor="middle" fill="#222">+/+</text>
<text x="150" y="247.5" font-size="9.6" text-anchor="middle" font-style="italic" fill="#222">Pnpla7<tspan font-size="5.6" dy="-3.1">Tg</tspan></text>
<text x="18.1" y="276" font-size="10" text-anchor="middle" fill="#222" transform="rotate(-90 18.1 276)">RT</text>
<text x="18.1" y="337.2" font-size="10" text-anchor="middle" fill="#222" transform="rotate(-90 18.1 337.2)">Cold</text>
<text x="472.4" y="234.6" font-size="9.6" text-anchor="middle" fill="#222">IHC-TOM20</text>
<text x="434.2" y="247" font-size="9.6" text-anchor="middle" fill="#222">Flox</text>
<text x="517.4" y="247" font-size="9.6" text-anchor="middle" fill="#222">AKO</text>
<text x="388.6" y="275.5" font-size="10" text-anchor="middle" fill="#222" transform="rotate(-90 388.6 275.5)">RT</text>
<text x="388.9" y="333.8" font-size="10" text-anchor="middle" fill="#222" transform="rotate(-90 388.9 333.8)">Cold</text>
<line x1="257.6" y1="12.1" x2="257.6" y2="99.5" stroke="#333" stroke-width="1.0"/>
<line x1="257.1" y1="99.1" x2="335.6" y2="99.1" stroke="#333" stroke-width="1.0"/>
<line x1="255.10000000000002" y1="99.1" x2="257.6" y2="99.1" stroke="#333" stroke-width="0.9"/>
<text x="254.50000000000003" y="101.8" font-size="9.2" text-anchor="end" fill="#333">0</text>
<line x1="255.10000000000002" y1="77.425" x2="257.6" y2="77.425" stroke="#333" stroke-width="0.9"/>
<text x="254.50000000000003" y="80.125" font-size="9.2" text-anchor="end" fill="#333">5</text>
<line x1="255.10000000000002" y1="55.75" x2="257.6" y2="55.75" stroke="#333" stroke-width="0.9"/>
<text x="254.50000000000003" y="58.45" font-size="9.2" text-anchor="end" fill="#333">10</text>
<line x1="255.10000000000002" y1="34.075" x2="257.6" y2="34.075" stroke="#333" stroke-width="0.9"/>
<text x="254.50000000000003" y="36.775000000000006" font-size="9.2" text-anchor="end" fill="#333">15</text>
<line x1="255.10000000000002" y1="12.400000000000006" x2="257.6" y2="12.400000000000006" stroke="#333" stroke-width="0.9"/>
<text x="254.50000000000003" y="15.100000000000005" font-size="9.2" text-anchor="end" fill="#333">20</text>
<path d="M265.60,99.10 V69.62 H279.90 V99.10" fill="#fff" stroke="#1a1a1a" stroke-width="1.0"/>
<line x1="272.75" y1="67.4545" x2="272.75" y2="71.7895" stroke="#1a1a1a" stroke-width="0.8"/>
<line x1="270.55" y1="67.4545" x2="274.95" y2="67.4545" stroke="#1a1a1a" stroke-width="0.8"/>
<line x1="270.55" y1="71.7895" x2="274.95" y2="71.7895" stroke="#1a1a1a" stroke-width="0.8"/>
<path d="M280.90,99.10 V75.69 H295.30 V99.10" fill="#fff" stroke="#e8383d" stroke-width="1.0"/>
<line x1="288.1" y1="73.74025" x2="288.1" y2="77.64175" stroke="#e8383d" stroke-width="0.8"/>
<line x1="285.90000000000003" y1="73.74025" x2="290.3" y2="73.74025" stroke="#e8383d" stroke-width="0.8"/>
<line x1="285.90000000000003" y1="77.64175" x2="290.3" y2="77.64175" stroke="#e8383d" stroke-width="0.8"/>
<path d="M304.00,99.10 V49.25 H317.60 V99.10" fill="#fff" stroke="#1a1a1a" stroke-width="1.0"/>
<line x1="310.8" y1="46.21300000000001" x2="310.8" y2="52.282" stroke="#1a1a1a" stroke-width="0.8"/>
<line x1="308.6" y1="46.21300000000001" x2="313.0" y2="46.21300000000001" stroke="#1a1a1a" stroke-width="0.8"/>
<line x1="308.6" y1="52.282" x2="313.0" y2="52.282" stroke="#1a1a1a" stroke-width="0.8"/>
<path d="M318.60,99.10 V69.19 H332.90 V99.10" fill="#fff" stroke="#e8383d" stroke-width="1.0"/>
<line x1="325.75" y1="66.80425" x2="325.75" y2="71.57275" stroke="#e8383d" stroke-width="0.8"/>
<line x1="323.55" y1="66.80425" x2="327.95" y2="66.80425" stroke="#e8383d" stroke-width="0.8"/>
<line x1="323.55" y1="71.57275" x2="327.95" y2="71.57275" stroke="#e8383d" stroke-width="0.8"/>
<circle cx="272.75" cy="47.08" r="1.95" fill="#1a1a1a"/>
<circle cx="272.75" cy="51.42" r="1.95" fill="#1a1a1a"/>
<circle cx="272.75" cy="60.08" r="1.95" fill="#1a1a1a"/>
<circle cx="271.07" cy="64.42" r="1.95" fill="#1a1a1a"/>
<circle cx="274.43" cy="64.42" r="1.95" fill="#1a1a1a"/>
<circle cx="267.72" cy="68.75" r="1.95" fill="#1a1a1a"/>
<circle cx="271.07" cy="68.75" r="1.95" fill="#1a1a1a"/>
<circle cx="274.43" cy="68.75" r="1.95" fill="#1a1a1a"/>
<circle cx="277.78" cy="68.75" r="1.95" fill="#1a1a1a"/>
<circle cx="272.75" cy="68.75" r="1.95" fill="#1a1a1a"/>
<circle cx="267.72" cy="73.09" r="1.95" fill="#1a1a1a"/>
<circle cx="271.07" cy="73.09" r="1.95" fill="#1a1a1a"/>
<circle cx="274.43" cy="73.09" r="1.95" fill="#1a1a1a"/>
<circle cx="277.78" cy="73.09" r="1.95" fill="#1a1a1a"/>
<circle cx="267.72" cy="77.42" r="1.95" fill="#1a1a1a"/>
<circle cx="271.07" cy="77.42" r="1.95" fill="#1a1a1a"/>
<circle cx="274.43" cy="77.42" r="1.95" fill="#1a1a1a"/>
<circle cx="277.78" cy="77.42" r="1.95" fill="#1a1a1a"/>
<circle cx="272.75" cy="77.42" r="1.95" fill="#1a1a1a"/>
<circle cx="272.75" cy="81.76" r="1.95" fill="#1a1a1a"/>
<circle cx="288.10" cy="51.42" r="1.60" fill="none" stroke="#e8383d" stroke-width="0.7"/>
<circle cx="288.10" cy="64.42" r="1.60" fill="none" stroke="#e8383d" stroke-width="0.7"/>
<circle cx="284.75" cy="68.75" r="1.60" fill="none" stroke="#e8383d" stroke-width="0.7"/>
<circle cx="288.10" cy="68.75" r="1.60" fill="none" stroke="#e8383d" stroke-width="0.7"/>
<circle cx="291.45" cy="68.75" r="1.60" fill="none" stroke="#e8383d" stroke-width="0.7"/>
<circle cx="284.75" cy="73.09" r="1.60" fill="none" stroke="#e8383d" stroke-width="0.7"/>
<circle cx="288.10" cy="73.09" r="1.60" fill="none" stroke="#e8383d" stroke-width="0.7"/>
<circle cx="291.45" cy="73.09" r="1.60" fill="none" stroke="#e8383d" stroke-width="0.7"/>
<circle cx="283.07" cy="77.42" r="1.60" fill="none" stroke="#e8383d" stroke-width="0.7"/>
<circle cx="286.42" cy="77.42" r="1.60" fill="none" stroke="#e8383d" stroke-width="0.7"/>
<circle cx="289.78" cy="77.42" r="1.60" fill="none" stroke="#e8383d" stroke-width="0.7"/>
<circle cx="293.13" cy="77.42" r="1.60" fill="none" stroke="#e8383d" stroke-width="0.7"/>
<circle cx="288.10" cy="77.42" r="1.60" fill="none" stroke="#e8383d" stroke-width="0.7"/>
<circle cx="283.07" cy="81.76" r="1.60" fill="none" stroke="#e8383d" stroke-width="0.7"/>
<circle cx="286.42" cy="81.76" r="1.60" fill="none" stroke="#e8383d" stroke-width="0.7"/>
<circle cx="289.78" cy="81.76" r="1.60" fill="none" stroke="#e8383d" stroke-width="0.7"/>
<circle cx="293.13" cy="81.76" r="1.60" fill="none" stroke="#e8383d" stroke-width="0.7"/>
<circle cx="288.10" cy="86.09" r="1.60" fill="none" stroke="#e8383d" stroke-width="0.7"/>
<circle cx="288.10" cy="90.43" r="1.60" fill="none" stroke="#e8383d" stroke-width="0.7"/>
<circle cx="310.80" cy="25.41" r="1.95" fill="#1a1a1a"/>
<circle cx="309.12" cy="34.08" r="1.95" fill="#1a1a1a"/>
<circle cx="312.48" cy="34.08" r="1.95" fill="#1a1a1a"/>
<circle cx="309.12" cy="38.41" r="1.95" fill="#1a1a1a"/>
<circle cx="312.48" cy="38.41" r="1.95" fill="#1a1a1a"/>
<circle cx="305.77" cy="42.74" r="1.95" fill="#1a1a1a"/>
<circle cx="309.12" cy="42.74" r="1.95" fill="#1a1a1a"/>
<circle cx="312.48" cy="42.74" r="1.95" fill="#1a1a1a"/>
<circle cx="315.83" cy="42.74" r="1.95" fill="#1a1a1a"/>
<circle cx="307.45" cy="47.08" r="1.95" fill="#1a1a1a"/>
<circle cx="310.80" cy="47.08" r="1.95" fill="#1a1a1a"/>
<circle cx="314.15" cy="47.08" r="1.95" fill="#1a1a1a"/>
<circle cx="309.12" cy="51.42" r="1.95" fill="#1a1a1a"/>
<circle cx="312.48" cy="51.42" r="1.95" fill="#1a1a1a"/>
<circle cx="310.80" cy="55.75" r="1.95" fill="#1a1a1a"/>
<circle cx="310.80" cy="60.08" r="1.95" fill="#1a1a1a"/>
<circle cx="309.12" cy="68.75" r="1.95" fill="#1a1a1a"/>
<circle cx="312.48" cy="68.75" r="1.95" fill="#1a1a1a"/>
<circle cx="309.12" cy="73.09" r="1.95" fill="#1a1a1a"/>
<circle cx="312.48" cy="73.09" r="1.95" fill="#1a1a1a"/>
<circle cx="325.75" cy="47.08" r="1.60" fill="none" stroke="#e8383d" stroke-width="0.7"/>
<circle cx="324.07" cy="55.75" r="1.60" fill="none" stroke="#e8383d" stroke-width="0.7"/>
<circle cx="327.43" cy="55.75" r="1.60" fill="none" stroke="#e8383d" stroke-width="0.7"/>
<circle cx="322.40" cy="60.09" r="1.60" fill="none" stroke="#e8383d" stroke-width="0.7"/>
<circle cx="325.75" cy="60.09" r="1.60" fill="none" stroke="#e8383d" stroke-width="0.7"/>
<circle cx="329.10" cy="60.09" r="1.60" fill="none" stroke="#e8383d" stroke-width="0.7"/>
<circle cx="325.75" cy="64.42" r="1.60" fill="none" stroke="#e8383d" stroke-width="0.7"/>
<circle cx="322.40" cy="68.75" r="1.60" fill="none" stroke="#e8383d" stroke-width="0.7"/>
<circle cx="325.75" cy="68.75" r="1.60" fill="none" stroke="#e8383d" stroke-width="0.7"/>
<circle cx="329.10" cy="68.75" r="1.60" fill="none" stroke="#e8383d" stroke-width="0.7"/>
<circle cx="322.40" cy="73.09" r="1.60" fill="none" stroke="#e8383d" stroke-width="0.7"/>
<circle cx="325.75" cy="73.09" r="1.60" fill="none" stroke="#e8383d" stroke-width="0.7"/>
<circle cx="329.10" cy="73.09" r="1.60" fill="none" stroke="#e8383d" stroke-width="0.7"/>
<circle cx="320.72" cy="77.42" r="1.60" fill="none" stroke="#e8383d" stroke-width="0.7"/>
<circle cx="324.07" cy="77.42" r="1.60" fill="none" stroke="#e8383d" stroke-width="0.7"/>
<circle cx="327.43" cy="77.42" r="1.60" fill="none" stroke="#e8383d" stroke-width="0.7"/>
<circle cx="330.78" cy="77.42" r="1.60" fill="none" stroke="#e8383d" stroke-width="0.7"/>
<circle cx="325.75" cy="81.76" r="1.60" fill="none" stroke="#e8383d" stroke-width="0.7"/>
<circle cx="325.75" cy="90.43" r="1.60" fill="none" stroke="#e8383d" stroke-width="0.7"/>
<line x1="266.4" y1="41.3" x2="293.9" y2="41.3" stroke="#555" stroke-width="0.9"/>
<text x="280.15" y="39.699999999999996" font-size="8.6" text-anchor="middle" fill="#333">P=0.0405</text>
<line x1="302.2" y1="19.2" x2="329.8" y2="19.2" stroke="#555" stroke-width="0.9"/>
<text x="302.7" y="17.3" font-size="8.6" text-anchor="start" fill="#333">p=2.05x10<tspan font-size="5.5" dy="-3.2">-5</tspan></text>
<circle cx="261.10" cy="5.50" r="1.95" fill="#1a1a1a"/>
<circle cx="261.10" cy="15.60" r="1.52" fill="none" stroke="#e8383d" stroke-width="0.85"/>
<text x="266.40000000000003" y="8.8" font-size="9.6" text-anchor="start" fill="#222">+/+</text>
<text x="266.1" y="18.9" font-size="10" text-anchor="start" font-style="italic" fill="#222">Pnpla7<tspan font-size="5.6" dy="-3.0">Tg</tspan></text>
<text x="231.4" y="54.5" font-size="9.6" text-anchor="middle" fill="#333" transform="rotate(-90 231.4 54.5)">Mitochondrial</text>
<text x="240.6" y="54.5" font-size="9.6" text-anchor="middle" fill="#333" transform="rotate(-90 240.6 54.5)">number per section</text>
<text x="280.5" y="108.8" font-size="9.6" text-anchor="middle" fill="#333">RT</text>
<text x="318.3" y="108.8" font-size="9.6" text-anchor="middle" fill="#333">Cold</text>
<line x1="257.6" y1="127.89999999999999" x2="257.6" y2="215.8" stroke="#333" stroke-width="1.0"/>
<line x1="257.1" y1="215.4" x2="335.6" y2="215.4" stroke="#333" stroke-width="1.0"/>
<line x1="255.10000000000002" y1="215.4" x2="257.6" y2="215.4" stroke="#333" stroke-width="0.9"/>
<text x="254.50000000000003" y="218.1" font-size="9.2" text-anchor="end" fill="#333">0</text>
<line x1="255.10000000000002" y1="186.33333333333334" x2="257.6" y2="186.33333333333334" stroke="#333" stroke-width="0.9"/>
<text x="254.50000000000003" y="189.03333333333333" font-size="9.2" text-anchor="end" fill="#333">5</text>
<line x1="255.10000000000002" y1="157.26666666666665" x2="257.6" y2="157.26666666666665" stroke="#333" stroke-width="0.9"/>
<text x="254.50000000000003" y="159.96666666666664" font-size="9.2" text-anchor="end" fill="#333">10</text>
<line x1="255.10000000000002" y1="128.2" x2="257.6" y2="128.2" stroke="#333" stroke-width="0.9"/>
<text x="254.50000000000003" y="130.89999999999998" font-size="9.2" text-anchor="end" fill="#333">15</text>
<path d="M265.60,215.40 V186.33 H279.90 V215.40" fill="#fff" stroke="#1a1a1a" stroke-width="1.0"/>
<line x1="272.75" y1="184.58933333333334" x2="272.75" y2="188.07733333333334" stroke="#1a1a1a" stroke-width="0.8"/>
<line x1="270.55" y1="184.58933333333334" x2="274.95" y2="184.58933333333334" stroke="#1a1a1a" stroke-width="0.8"/>
<line x1="270.55" y1="188.07733333333334" x2="274.95" y2="188.07733333333334" stroke="#1a1a1a" stroke-width="0.8"/>
<path d="M280.90,215.40 V192.15 H295.30 V215.40" fill="#fff" stroke="#e8383d" stroke-width="1.0"/>
<line x1="288.1" y1="190.40266666666668" x2="288.1" y2="193.89066666666668" stroke="#e8383d" stroke-width="0.8"/>
<line x1="285.90000000000003" y1="190.40266666666668" x2="290.3" y2="190.40266666666668" stroke="#e8383d" stroke-width="0.8"/>
<line x1="285.90000000000003" y1="193.89066666666668" x2="290.3" y2="193.89066666666668" stroke="#e8383d" stroke-width="0.8"/>
<path d="M304.00,215.40 V159.01 H317.60 V215.40" fill="#fff" stroke="#1a1a1a" stroke-width="1.0"/>
<line x1="310.8" y1="157.26666666666665" x2="310.8" y2="160.75466666666665" stroke="#1a1a1a" stroke-width="0.8"/>
<line x1="308.6" y1="157.26666666666665" x2="313.0" y2="157.26666666666665" stroke="#1a1a1a" stroke-width="0.8"/>
<line x1="308.6" y1="160.75466666666665" x2="313.0" y2="160.75466666666665" stroke="#1a1a1a" stroke-width="0.8"/>
<path d="M318.60,215.40 V193.31 H332.90 V215.40" fill="#fff" stroke="#e8383d" stroke-width="1.0"/>
<line x1="325.75" y1="191.56533333333334" x2="325.75" y2="195.05333333333334" stroke="#e8383d" stroke-width="0.8"/>
<line x1="323.55" y1="191.56533333333334" x2="327.95" y2="191.56533333333334" stroke="#e8383d" stroke-width="0.8"/>
<line x1="323.55" y1="195.05333333333334" x2="327.95" y2="195.05333333333334" stroke="#e8383d" stroke-width="0.8"/>
<circle cx="269.40" cy="169.86" r="1.95" fill="#1a1a1a"/>
<circle cx="272.75" cy="169.86" r="1.95" fill="#1a1a1a"/>
<circle cx="276.10" cy="169.86" r="1.95" fill="#1a1a1a"/>
<circle cx="271.07" cy="179.07" r="1.95" fill="#1a1a1a"/>
<circle cx="274.43" cy="179.07" r="1.95" fill="#1a1a1a"/>
<circle cx="271.07" cy="182.55" r="1.95" fill="#1a1a1a"/>
<circle cx="274.43" cy="182.55" r="1.95" fill="#1a1a1a"/>
<circle cx="267.72" cy="186.43" r="1.95" fill="#1a1a1a"/>
<circle cx="271.07" cy="186.43" r="1.95" fill="#1a1a1a"/>
<circle cx="274.43" cy="186.43" r="1.95" fill="#1a1a1a"/>
<circle cx="277.78" cy="186.43" r="1.95" fill="#1a1a1a"/>
<circle cx="271.07" cy="186.43" r="1.95" fill="#1a1a1a"/>
<circle cx="274.43" cy="186.43" r="1.95" fill="#1a1a1a"/>
<circle cx="269.40" cy="190.60" r="1.95" fill="#1a1a1a"/>
<circle cx="272.75" cy="190.60" r="1.95" fill="#1a1a1a"/>
<circle cx="276.10" cy="190.60" r="1.95" fill="#1a1a1a"/>
<circle cx="271.07" cy="196.51" r="1.95" fill="#1a1a1a"/>
<circle cx="274.43" cy="196.51" r="1.95" fill="#1a1a1a"/>
<circle cx="284.75" cy="183.62" r="1.60" fill="none" stroke="#e8383d" stroke-width="0.7"/>
<circle cx="288.10" cy="183.62" r="1.60" fill="none" stroke="#e8383d" stroke-width="0.7"/>
<circle cx="291.45" cy="183.62" r="1.60" fill="none" stroke="#e8383d" stroke-width="0.7"/>
<circle cx="284.75" cy="187.69" r="1.60" fill="none" stroke="#e8383d" stroke-width="0.7"/>
<circle cx="288.10" cy="187.69" r="1.60" fill="none" stroke="#e8383d" stroke-width="0.7"/>
<circle cx="291.45" cy="187.69" r="1.60" fill="none" stroke="#e8383d" stroke-width="0.7"/>
<circle cx="283.07" cy="192.29" r="1.60" fill="none" stroke="#e8383d" stroke-width="0.7"/>
<circle cx="286.42" cy="192.29" r="1.60" fill="none" stroke="#e8383d" stroke-width="0.7"/>
<circle cx="289.78" cy="192.29" r="1.60" fill="none" stroke="#e8383d" stroke-width="0.7"/>
<circle cx="293.13" cy="192.29" r="1.60" fill="none" stroke="#e8383d" stroke-width="0.7"/>
<circle cx="284.75" cy="196.60" r="1.60" fill="none" stroke="#e8383d" stroke-width="0.7"/>
<circle cx="288.10" cy="196.60" r="1.60" fill="none" stroke="#e8383d" stroke-width="0.7"/>
<circle cx="291.45" cy="196.60" r="1.60" fill="none" stroke="#e8383d" stroke-width="0.7"/>
<circle cx="286.42" cy="201.16" r="1.60" fill="none" stroke="#e8383d" stroke-width="0.7"/>
<circle cx="289.78" cy="201.16" r="1.60" fill="none" stroke="#e8383d" stroke-width="0.7"/>
<circle cx="288.10" cy="206.68" r="1.60" fill="none" stroke="#e8383d" stroke-width="0.7"/>
<circle cx="310.80" cy="142.73" r="1.95" fill="#1a1a1a"/>
<circle cx="310.80" cy="146.80" r="1.95" fill="#1a1a1a"/>
<circle cx="309.12" cy="151.45" r="1.95" fill="#1a1a1a"/>
<circle cx="312.48" cy="151.45" r="1.95" fill="#1a1a1a"/>
<circle cx="307.45" cy="157.07" r="1.95" fill="#1a1a1a"/>
<circle cx="310.80" cy="157.07" r="1.95" fill="#1a1a1a"/>
<circle cx="314.15" cy="157.07" r="1.95" fill="#1a1a1a"/>
<circle cx="305.77" cy="161.84" r="1.95" fill="#1a1a1a"/>
<circle cx="309.12" cy="161.84" r="1.95" fill="#1a1a1a"/>
<circle cx="312.48" cy="161.84" r="1.95" fill="#1a1a1a"/>
<circle cx="315.83" cy="161.84" r="1.95" fill="#1a1a1a"/>
<circle cx="305.77" cy="161.84" r="1.95" fill="#1a1a1a"/>
<circle cx="309.12" cy="161.84" r="1.95" fill="#1a1a1a"/>
<circle cx="312.48" cy="161.84" r="1.95" fill="#1a1a1a"/>
<circle cx="315.83" cy="161.84" r="1.95" fill="#1a1a1a"/>
<circle cx="307.45" cy="165.60" r="1.95" fill="#1a1a1a"/>
<circle cx="310.80" cy="165.60" r="1.95" fill="#1a1a1a"/>
<circle cx="314.15" cy="165.60" r="1.95" fill="#1a1a1a"/>
<circle cx="325.75" cy="167.73" r="1.60" fill="none" stroke="#e8383d" stroke-width="0.7"/>
<circle cx="325.75" cy="180.52" r="1.60" fill="none" stroke="#e8383d" stroke-width="0.7"/>
<circle cx="320.72" cy="191.10" r="1.60" fill="none" stroke="#e8383d" stroke-width="0.7"/>
<circle cx="324.07" cy="191.10" r="1.60" fill="none" stroke="#e8383d" stroke-width="0.7"/>
<circle cx="327.43" cy="191.10" r="1.60" fill="none" stroke="#e8383d" stroke-width="0.7"/>
<circle cx="330.78" cy="191.10" r="1.60" fill="none" stroke="#e8383d" stroke-width="0.7"/>
<circle cx="325.75" cy="191.10" r="1.60" fill="none" stroke="#e8383d" stroke-width="0.7"/>
<circle cx="320.72" cy="193.75" r="1.60" fill="none" stroke="#e8383d" stroke-width="0.7"/>
<circle cx="324.07" cy="193.75" r="1.60" fill="none" stroke="#e8383d" stroke-width="0.7"/>
<circle cx="327.43" cy="193.75" r="1.60" fill="none" stroke="#e8383d" stroke-width="0.7"/>
<circle cx="330.78" cy="193.75" r="1.60" fill="none" stroke="#e8383d" stroke-width="0.7"/>
<circle cx="324.07" cy="197.96" r="1.60" fill="none" stroke="#e8383d" stroke-width="0.7"/>
<circle cx="327.43" cy="197.96" r="1.60" fill="none" stroke="#e8383d" stroke-width="0.7"/>
<circle cx="325.75" cy="202.03" r="1.60" fill="none" stroke="#e8383d" stroke-width="0.7"/>
<circle cx="325.75" cy="206.10" r="1.60" fill="none" stroke="#e8383d" stroke-width="0.7"/>
<line x1="266.4" y1="162.4" x2="293.9" y2="162.4" stroke="#555" stroke-width="0.9"/>
<text x="280.15" y="160.8" font-size="8.6" text-anchor="middle" fill="#333">P=0.0038</text>
<line x1="303.5" y1="134.7" x2="331" y2="134.7" stroke="#555" stroke-width="0.9"/>
<text x="308" y="133.5" font-size="8.6" text-anchor="start" fill="#333">p=4.18x10<tspan font-size="5.5" dy="-3.2">-15</tspan></text>
<circle cx="265.00" cy="121.60" r="1.95" fill="#1a1a1a"/>
<circle cx="265.00" cy="132.10" r="1.52" fill="none" stroke="#e8383d" stroke-width="0.85"/>
<text x="270.3" y="124.89999999999999" font-size="9.6" text-anchor="start" fill="#222">+/+</text>
<text x="270" y="135.4" font-size="10" text-anchor="start" font-style="italic" fill="#222">Pnpla7<tspan font-size="5.6" dy="-3.0">Tg</tspan></text>
<text x="231.2" y="172.2" font-size="9.6" text-anchor="middle" fill="#333" transform="rotate(-90 231.2 172.2)">Cristae per</text>
<text x="241.1" y="172.2" font-size="9.6" text-anchor="middle" fill="#333" transform="rotate(-90 241.1 172.2)">mitochondrial</text>
<text x="280.5" y="225.1" font-size="9.6" text-anchor="middle" fill="#333">RT</text>
<text x="318.3" y="225.1" font-size="9.6" text-anchor="middle" fill="#333">Cold</text>
<line x1="251.5" y1="255.8" x2="251.5" y2="351.59999999999997" stroke="#333" stroke-width="1.0"/>
<line x1="251.0" y1="351.2" x2="326.6" y2="351.2" stroke="#333" stroke-width="1.0"/>
<line x1="249.0" y1="351.2" x2="251.5" y2="351.2" stroke="#333" stroke-width="0.9"/>
<text x="248.4" y="354.4" font-size="10.4" text-anchor="end" fill="#333">0</text>
<line x1="249.0" y1="303.65" x2="251.5" y2="303.65" stroke="#333" stroke-width="0.9"/>
<text x="248.4" y="306.84999999999997" font-size="10.4" text-anchor="end" fill="#333">1</text>
<line x1="249.0" y1="256.1" x2="251.5" y2="256.1" stroke="#333" stroke-width="0.9"/>
<text x="248.4" y="259.3" font-size="10.4" text-anchor="end" fill="#333">2</text>
<path d="M256.00,351.20 V303.65 H270.30 V351.20" fill="#fff" stroke="#1a1a1a" stroke-width="1.0"/>
<line x1="263.15" y1="295.5665" x2="263.15" y2="311.7335" stroke="#1a1a1a" stroke-width="0.8"/>
<line x1="260.95" y1="295.5665" x2="265.34999999999997" y2="295.5665" stroke="#1a1a1a" stroke-width="0.8"/>
<line x1="260.95" y1="311.7335" x2="265.34999999999997" y2="311.7335" stroke="#1a1a1a" stroke-width="0.8"/>
<path d="M271.60,351.20 V304.60 H285.10 V351.20" fill="#fff" stroke="#e8383d" stroke-width="1.0"/>
<line x1="278.35" y1="299.846" x2="278.35" y2="309.356" stroke="#e8383d" stroke-width="0.8"/>
<line x1="276.15000000000003" y1="299.846" x2="280.55" y2="299.846" stroke="#e8383d" stroke-width="0.8"/>
<line x1="276.15000000000003" y1="309.356" x2="280.55" y2="309.356" stroke="#e8383d" stroke-width="0.8"/>
<path d="M294.60,351.20 V276.55 H308.10 V351.20" fill="#fff" stroke="#1a1a1a" stroke-width="1.0"/>
<line x1="301.35" y1="270.8405" x2="301.35" y2="282.2525" stroke="#1a1a1a" stroke-width="0.8"/>
<line x1="299.15000000000003" y1="270.8405" x2="303.55" y2="270.8405" stroke="#1a1a1a" stroke-width="0.8"/>
<line x1="299.15000000000003" y1="282.2525" x2="303.55" y2="282.2525" stroke="#1a1a1a" stroke-width="0.8"/>
<path d="M309.50,351.20 V297.47 H323.70 V351.20" fill="#fff" stroke="#e8383d" stroke-width="1.0"/>
<line x1="316.6" y1="292.7135" x2="316.6" y2="302.2235" stroke="#e8383d" stroke-width="0.8"/>
<line x1="314.40000000000003" y1="292.7135" x2="318.8" y2="292.7135" stroke="#e8383d" stroke-width="0.8"/>
<line x1="314.40000000000003" y1="302.2235" x2="318.8" y2="302.2235" stroke="#e8383d" stroke-width="0.8"/>
<circle cx="263.15" cy="282.25" r="2.4" fill="#1a1a1a"/>
<circle cx="263.15" cy="301.27" r="2.4" fill="#1a1a1a"/>
<circle cx="263.15" cy="311.73" r="2.4" fill="#1a1a1a"/>
<circle cx="263.15" cy="318.87" r="2.4" fill="#1a1a1a"/>
<circle cx="278.35" cy="293.19" r="2.05" fill="none" stroke="#e8383d" stroke-width="0.7"/>
<circle cx="278.35" cy="306.03" r="2.05" fill="none" stroke="#e8383d" stroke-width="0.7"/>
<circle cx="278.35" cy="317.92" r="2.05" fill="none" stroke="#e8383d" stroke-width="0.7"/>
<circle cx="301.35" cy="265.61" r="2.4" fill="#1a1a1a"/>
<circle cx="301.35" cy="270.37" r="2.4" fill="#1a1a1a"/>
<circle cx="301.35" cy="277.50" r="2.4" fill="#1a1a1a"/>
<circle cx="301.35" cy="294.14" r="2.4" fill="#1a1a1a"/>
<circle cx="316.60" cy="287.01" r="2.05" fill="none" stroke="#e8383d" stroke-width="0.7"/>
<circle cx="316.60" cy="291.76" r="2.05" fill="none" stroke="#e8383d" stroke-width="0.7"/>
<circle cx="314.54" cy="303.65" r="2.05" fill="none" stroke="#e8383d" stroke-width="0.7"/>
<circle cx="318.66" cy="303.65" r="2.05" fill="none" stroke="#e8383d" stroke-width="0.7"/>
<line x1="294.1" y1="260.5" x2="320.8" y2="260.5" stroke="#555" stroke-width="0.9"/>
<text x="314.3" y="258.7" font-size="8.6" text-anchor="middle" fill="#333">P=0.034</text>
<circle cx="256.40" cy="243.20" r="2.35" fill="#1a1a1a"/>
<circle cx="256.40" cy="254.00" r="1.93" fill="none" stroke="#e8383d" stroke-width="0.85"/>
<text x="262.9" y="246.5" font-size="9.6" text-anchor="start" fill="#222">+/+</text>
<text x="261.4" y="257.3" font-size="10" text-anchor="start" font-style="italic" fill="#222">Pnpla7<tspan font-size="5.6" dy="-3.0">Tg</tspan></text>
<text x="241" y="304" font-size="10.2" text-anchor="middle" fill="#333" transform="rotate(-90 241 304)">mtDNA (relative amount)</text>
<text x="270.5" y="360.5" font-size="9.6" text-anchor="middle" fill="#333">RT</text>
<text x="309" y="360.5" font-size="9.6" text-anchor="middle" fill="#333">Cold</text>
<line x1="605.1" y1="15.399999999999999" x2="605.1" y2="101.80000000000001" stroke="#333" stroke-width="1.0"/>
<line x1="604.6" y1="101.4" x2="682.5" y2="101.4" stroke="#333" stroke-width="1.0"/>
<line x1="602.6" y1="101.4" x2="605.1" y2="101.4" stroke="#333" stroke-width="0.9"/>
<text x="602.0" y="104.10000000000001" font-size="9.2" text-anchor="end" fill="#333">0</text>
<line x1="602.6" y1="79.97500000000001" x2="605.1" y2="79.97500000000001" stroke="#333" stroke-width="0.9"/>
<text x="602.0" y="82.67500000000001" font-size="9.2" text-anchor="end" fill="#333">5</text>
<line x1="602.6" y1="58.550000000000004" x2="605.1" y2="58.550000000000004" stroke="#333" stroke-width="0.9"/>
<text x="602.0" y="61.25000000000001" font-size="9.2" text-anchor="end" fill="#333">10</text>
<line x1="602.6" y1="37.125" x2="605.1" y2="37.125" stroke="#333" stroke-width="0.9"/>
<text x="602.0" y="39.825" font-size="9.2" text-anchor="end" fill="#333">15</text>
<line x1="602.6" y1="15.700000000000003" x2="605.1" y2="15.700000000000003" stroke="#333" stroke-width="0.9"/>
<text x="602.0" y="18.400000000000002" font-size="9.2" text-anchor="end" fill="#333">20</text>
<path d="M613.70,101.40 V74.83 H627.80 V101.40" fill="#fff" stroke="#1a1a1a" stroke-width="1.0"/>
<line x1="620.75" y1="71.405" x2="620.75" y2="78.261" stroke="#1a1a1a" stroke-width="0.8"/>
<line x1="618.55" y1="71.405" x2="622.95" y2="71.405" stroke="#1a1a1a" stroke-width="0.8"/>
<line x1="618.55" y1="78.261" x2="622.95" y2="78.261" stroke="#1a1a1a" stroke-width="0.8"/>
<path d="M628.80,101.40 V67.55 H643.00 V101.40" fill="#fff" stroke="#27a9e1" stroke-width="1.0"/>
<line x1="635.9" y1="65.19175" x2="635.9" y2="69.90525" stroke="#27a9e1" stroke-width="0.8"/>
<line x1="633.6999999999999" y1="65.19175" x2="638.1" y2="65.19175" stroke="#27a9e1" stroke-width="0.8"/>
<line x1="633.6999999999999" y1="69.90525" x2="638.1" y2="69.90525" stroke="#27a9e1" stroke-width="0.8"/>
<path d="M651.80,101.40 V65.83 H666.10 V101.40" fill="#fff" stroke="#1a1a1a" stroke-width="1.0"/>
<line x1="658.95" y1="61.977999999999994" x2="658.95" y2="69.691" stroke="#1a1a1a" stroke-width="0.8"/>
<line x1="656.75" y1="61.977999999999994" x2="661.1500000000001" y2="61.977999999999994" stroke="#1a1a1a" stroke-width="0.8"/>
<line x1="656.75" y1="69.691" x2="661.1500000000001" y2="69.691" stroke="#1a1a1a" stroke-width="0.8"/>
<path d="M667.10,101.40 V58.12 H681.50 V101.40" fill="#fff" stroke="#27a9e1" stroke-width="1.0"/>
<line x1="674.3" y1="56.407500000000006" x2="674.3" y2="59.83550000000001" stroke="#27a9e1" stroke-width="0.8"/>
<line x1="672.0999999999999" y1="56.407500000000006" x2="676.5" y2="56.407500000000006" stroke="#27a9e1" stroke-width="0.8"/>
<line x1="672.0999999999999" y1="59.83550000000001" x2="676.5" y2="59.83550000000001" stroke="#27a9e1" stroke-width="0.8"/>
<circle cx="620.75" cy="49.98" r="1.95" fill="#1a1a1a"/>
<circle cx="620.75" cy="58.55" r="1.95" fill="#1a1a1a"/>
<circle cx="620.75" cy="62.84" r="1.95" fill="#1a1a1a"/>
<circle cx="617.40" cy="67.12" r="1.95" fill="#1a1a1a"/>
<circle cx="620.75" cy="67.12" r="1.95" fill="#1a1a1a"/>
<circle cx="624.10" cy="67.12" r="1.95" fill="#1a1a1a"/>
<circle cx="620.75" cy="71.41" r="1.95" fill="#1a1a1a"/>
<circle cx="620.75" cy="75.69" r="1.95" fill="#1a1a1a"/>
<circle cx="620.75" cy="79.98" r="1.95" fill="#1a1a1a"/>
<circle cx="617.40" cy="84.26" r="1.95" fill="#1a1a1a"/>
<circle cx="620.75" cy="84.26" r="1.95" fill="#1a1a1a"/>
<circle cx="624.10" cy="84.26" r="1.95" fill="#1a1a1a"/>
<circle cx="619.07" cy="88.55" r="1.95" fill="#1a1a1a"/>
<circle cx="622.43" cy="88.55" r="1.95" fill="#1a1a1a"/>
<circle cx="620.75" cy="92.83" r="1.95" fill="#1a1a1a"/>
<circle cx="635.90" cy="41.41" r="1.60" fill="none" stroke="#27a9e1" stroke-width="0.7"/>
<circle cx="635.90" cy="45.70" r="1.60" fill="none" stroke="#27a9e1" stroke-width="0.7"/>
<circle cx="635.90" cy="49.98" r="1.60" fill="none" stroke="#27a9e1" stroke-width="0.7"/>
<circle cx="632.55" cy="54.27" r="1.60" fill="none" stroke="#27a9e1" stroke-width="0.7"/>
<circle cx="635.90" cy="54.27" r="1.60" fill="none" stroke="#27a9e1" stroke-width="0.7"/>
<circle cx="639.25" cy="54.27" r="1.60" fill="none" stroke="#27a9e1" stroke-width="0.7"/>
<circle cx="634.22" cy="58.55" r="1.60" fill="none" stroke="#27a9e1" stroke-width="0.7"/>
<circle cx="637.58" cy="58.55" r="1.60" fill="none" stroke="#27a9e1" stroke-width="0.7"/>
<circle cx="635.90" cy="62.84" r="1.60" fill="none" stroke="#27a9e1" stroke-width="0.7"/>
<circle cx="630.87" cy="67.12" r="1.60" fill="none" stroke="#27a9e1" stroke-width="0.7"/>
<circle cx="634.22" cy="67.12" r="1.60" fill="none" stroke="#27a9e1" stroke-width="0.7"/>
<circle cx="637.58" cy="67.12" r="1.60" fill="none" stroke="#27a9e1" stroke-width="0.7"/>
<circle cx="640.93" cy="67.12" r="1.60" fill="none" stroke="#27a9e1" stroke-width="0.7"/>
<circle cx="635.90" cy="67.12" r="1.60" fill="none" stroke="#27a9e1" stroke-width="0.7"/>
<circle cx="635.90" cy="71.41" r="1.60" fill="none" stroke="#27a9e1" stroke-width="0.7"/>
<circle cx="634.22" cy="75.69" r="1.60" fill="none" stroke="#27a9e1" stroke-width="0.7"/>
<circle cx="637.58" cy="75.69" r="1.60" fill="none" stroke="#27a9e1" stroke-width="0.7"/>
<circle cx="630.87" cy="79.98" r="1.60" fill="none" stroke="#27a9e1" stroke-width="0.7"/>
<circle cx="634.22" cy="79.98" r="1.60" fill="none" stroke="#27a9e1" stroke-width="0.7"/>
<circle cx="637.58" cy="79.98" r="1.60" fill="none" stroke="#27a9e1" stroke-width="0.7"/>
<circle cx="640.93" cy="79.98" r="1.60" fill="none" stroke="#27a9e1" stroke-width="0.7"/>
<circle cx="635.90" cy="84.26" r="1.60" fill="none" stroke="#27a9e1" stroke-width="0.7"/>
<circle cx="634.22" cy="88.55" r="1.60" fill="none" stroke="#27a9e1" stroke-width="0.7"/>
<circle cx="637.58" cy="88.55" r="1.60" fill="none" stroke="#27a9e1" stroke-width="0.7"/>
<circle cx="658.95" cy="37.12" r="1.95" fill="#1a1a1a"/>
<circle cx="658.95" cy="49.98" r="1.95" fill="#1a1a1a"/>
<circle cx="655.60" cy="58.55" r="1.95" fill="#1a1a1a"/>
<circle cx="658.95" cy="58.55" r="1.95" fill="#1a1a1a"/>
<circle cx="662.30" cy="58.55" r="1.95" fill="#1a1a1a"/>
<circle cx="658.95" cy="62.84" r="1.95" fill="#1a1a1a"/>
<circle cx="653.92" cy="67.12" r="1.95" fill="#1a1a1a"/>
<circle cx="657.27" cy="67.12" r="1.95" fill="#1a1a1a"/>
<circle cx="660.63" cy="67.12" r="1.95" fill="#1a1a1a"/>
<circle cx="663.98" cy="67.12" r="1.95" fill="#1a1a1a"/>
<circle cx="658.95" cy="71.41" r="1.95" fill="#1a1a1a"/>
<circle cx="657.27" cy="75.69" r="1.95" fill="#1a1a1a"/>
<circle cx="660.63" cy="75.69" r="1.95" fill="#1a1a1a"/>
<circle cx="658.95" cy="79.98" r="1.95" fill="#1a1a1a"/>
<circle cx="658.95" cy="88.55" r="1.95" fill="#1a1a1a"/>
<circle cx="674.30" cy="32.84" r="1.60" fill="none" stroke="#27a9e1" stroke-width="0.7"/>
<circle cx="674.30" cy="41.41" r="1.60" fill="none" stroke="#27a9e1" stroke-width="0.7"/>
<circle cx="670.95" cy="45.70" r="1.60" fill="none" stroke="#27a9e1" stroke-width="0.7"/>
<circle cx="674.30" cy="45.70" r="1.60" fill="none" stroke="#27a9e1" stroke-width="0.7"/>
<circle cx="677.65" cy="45.70" r="1.60" fill="none" stroke="#27a9e1" stroke-width="0.7"/>
<circle cx="669.27" cy="49.98" r="1.60" fill="none" stroke="#27a9e1" stroke-width="0.7"/>
<circle cx="672.62" cy="49.98" r="1.60" fill="none" stroke="#27a9e1" stroke-width="0.7"/>
<circle cx="675.98" cy="49.98" r="1.60" fill="none" stroke="#27a9e1" stroke-width="0.7"/>
<circle cx="679.33" cy="49.98" r="1.60" fill="none" stroke="#27a9e1" stroke-width="0.7"/>
<circle cx="674.30" cy="49.98" r="1.60" fill="none" stroke="#27a9e1" stroke-width="0.7"/>
<circle cx="669.27" cy="54.27" r="1.60" fill="none" stroke="#27a9e1" stroke-width="0.7"/>
<circle cx="672.62" cy="54.27" r="1.60" fill="none" stroke="#27a9e1" stroke-width="0.7"/>
<circle cx="675.98" cy="54.27" r="1.60" fill="none" stroke="#27a9e1" stroke-width="0.7"/>
<circle cx="679.33" cy="54.27" r="1.60" fill="none" stroke="#27a9e1" stroke-width="0.7"/>
<circle cx="669.27" cy="58.55" r="1.60" fill="none" stroke="#27a9e1" stroke-width="0.7"/>
<circle cx="672.62" cy="58.55" r="1.60" fill="none" stroke="#27a9e1" stroke-width="0.7"/>
<circle cx="675.98" cy="58.55" r="1.60" fill="none" stroke="#27a9e1" stroke-width="0.7"/>
<circle cx="679.33" cy="58.55" r="1.60" fill="none" stroke="#27a9e1" stroke-width="0.7"/>
<circle cx="674.30" cy="58.55" r="1.60" fill="none" stroke="#27a9e1" stroke-width="0.7"/>
<circle cx="669.27" cy="62.84" r="1.60" fill="none" stroke="#27a9e1" stroke-width="0.7"/>
<circle cx="672.62" cy="62.84" r="1.60" fill="none" stroke="#27a9e1" stroke-width="0.7"/>
<circle cx="675.98" cy="62.84" r="1.60" fill="none" stroke="#27a9e1" stroke-width="0.7"/>
<circle cx="679.33" cy="62.84" r="1.60" fill="none" stroke="#27a9e1" stroke-width="0.7"/>
<circle cx="670.95" cy="67.12" r="1.60" fill="none" stroke="#27a9e1" stroke-width="0.7"/>
<circle cx="674.30" cy="67.12" r="1.60" fill="none" stroke="#27a9e1" stroke-width="0.7"/>
<circle cx="677.65" cy="67.12" r="1.60" fill="none" stroke="#27a9e1" stroke-width="0.7"/>
<circle cx="672.62" cy="71.41" r="1.60" fill="none" stroke="#27a9e1" stroke-width="0.7"/>
<circle cx="675.98" cy="71.41" r="1.60" fill="none" stroke="#27a9e1" stroke-width="0.7"/>
<circle cx="674.30" cy="75.69" r="1.60" fill="none" stroke="#27a9e1" stroke-width="0.7"/>
<circle cx="674.30" cy="79.98" r="1.60" fill="none" stroke="#27a9e1" stroke-width="0.7"/>
<line x1="653" y1="26.2" x2="680.5" y2="26.2" stroke="#555" stroke-width="0.9"/>
<text x="667" y="23.6" font-size="8.6" text-anchor="middle" fill="#333">P=0.0413</text>
<circle cx="613.20" cy="13.20" r="1.95" fill="#1a1a1a"/>
<circle cx="613.20" cy="22.80" r="1.52" fill="none" stroke="#27a9e1" stroke-width="0.85"/>
<text x="621.2" y="16.5" font-size="9.9" text-anchor="start" fill="#222">Flox</text>
<text x="621.2" y="26.1" font-size="9.9" text-anchor="start" fill="#222">AKO</text>
<text x="579.3" y="58.2" font-size="9.6" text-anchor="middle" fill="#333" transform="rotate(-90 579.3 58.2)">Mitochondrial</text>
<text x="588.6" y="58.2" font-size="9.6" text-anchor="middle" fill="#333" transform="rotate(-90 588.6 58.2)">number per section</text>
<text x="629" y="110.4" font-size="9.6" text-anchor="middle" fill="#333">RT</text>
<text x="666.5" y="110.4" font-size="9.6" text-anchor="middle" fill="#333">Cold</text>
<line x1="604.8" y1="127.3" x2="604.8" y2="215.4" stroke="#333" stroke-width="1.0"/>
<line x1="604.3" y1="215" x2="682.5" y2="215" stroke="#333" stroke-width="1.0"/>
<line x1="602.3" y1="215.0" x2="604.8" y2="215.0" stroke="#333" stroke-width="0.9"/>
<text x="601.6999999999999" y="217.7" font-size="9.2" text-anchor="end" fill="#333">0</text>
<line x1="602.3" y1="193.15" x2="604.8" y2="193.15" stroke="#333" stroke-width="0.9"/>
<text x="601.6999999999999" y="195.85" font-size="9.2" text-anchor="end" fill="#333">5</text>
<line x1="602.3" y1="171.3" x2="604.8" y2="171.3" stroke="#333" stroke-width="0.9"/>
<text x="601.6999999999999" y="174.0" font-size="9.2" text-anchor="end" fill="#333">10</text>
<line x1="602.3" y1="149.45" x2="604.8" y2="149.45" stroke="#333" stroke-width="0.9"/>
<text x="601.6999999999999" y="152.14999999999998" font-size="9.2" text-anchor="end" fill="#333">15</text>
<line x1="602.3" y1="127.6" x2="604.8" y2="127.6" stroke="#333" stroke-width="0.9"/>
<text x="601.6999999999999" y="130.29999999999998" font-size="9.2" text-anchor="end" fill="#333">20</text>
<path d="M613.70,215.00 V194.46 H627.80 V215.00" fill="#fff" stroke="#1a1a1a" stroke-width="1.0"/>
<line x1="620.75" y1="193.15" x2="620.75" y2="195.772" stroke="#1a1a1a" stroke-width="0.8"/>
<line x1="618.55" y1="193.15" x2="622.95" y2="193.15" stroke="#1a1a1a" stroke-width="0.8"/>
<line x1="618.55" y1="195.772" x2="622.95" y2="195.772" stroke="#1a1a1a" stroke-width="0.8"/>
<path d="M628.80,215.00 V191.84 H643.00 V215.00" fill="#fff" stroke="#27a9e1" stroke-width="1.0"/>
<line x1="635.9" y1="190.528" x2="635.9" y2="193.15" stroke="#27a9e1" stroke-width="0.8"/>
<line x1="633.6999999999999" y1="190.528" x2="638.1" y2="190.528" stroke="#27a9e1" stroke-width="0.8"/>
<line x1="633.6999999999999" y1="193.15" x2="638.1" y2="193.15" stroke="#27a9e1" stroke-width="0.8"/>
<path d="M651.80,215.00 V169.12 H666.10 V215.00" fill="#fff" stroke="#1a1a1a" stroke-width="1.0"/>
<line x1="658.95" y1="167.367" x2="658.95" y2="170.863" stroke="#1a1a1a" stroke-width="0.8"/>
<line x1="656.75" y1="167.367" x2="661.1500000000001" y2="167.367" stroke="#1a1a1a" stroke-width="0.8"/>
<line x1="656.75" y1="170.863" x2="661.1500000000001" y2="170.863" stroke="#1a1a1a" stroke-width="0.8"/>
<path d="M667.10,215.00 V162.56 H681.50 V215.00" fill="#fff" stroke="#27a9e1" stroke-width="1.0"/>
<line x1="674.3" y1="161.249" x2="674.3" y2="163.87099999999998" stroke="#27a9e1" stroke-width="0.8"/>
<line x1="672.0999999999999" y1="161.249" x2="676.5" y2="161.249" stroke="#27a9e1" stroke-width="0.8"/>
<line x1="672.0999999999999" y1="163.87099999999998" x2="676.5" y2="163.87099999999998" stroke="#27a9e1" stroke-width="0.8"/>
<circle cx="615.72" cy="189.87" r="1.95" fill="#1a1a1a"/>
<circle cx="619.07" cy="189.87" r="1.95" fill="#1a1a1a"/>
<circle cx="622.43" cy="189.87" r="1.95" fill="#1a1a1a"/>
<circle cx="625.78" cy="189.87" r="1.95" fill="#1a1a1a"/>
<circle cx="615.72" cy="194.02" r="1.95" fill="#1a1a1a"/>
<circle cx="619.07" cy="194.02" r="1.95" fill="#1a1a1a"/>
<circle cx="622.43" cy="194.02" r="1.95" fill="#1a1a1a"/>
<circle cx="625.78" cy="194.02" r="1.95" fill="#1a1a1a"/>
<circle cx="620.75" cy="194.02" r="1.95" fill="#1a1a1a"/>
<circle cx="617.40" cy="198.25" r="1.95" fill="#1a1a1a"/>
<circle cx="620.75" cy="198.25" r="1.95" fill="#1a1a1a"/>
<circle cx="624.10" cy="198.25" r="1.95" fill="#1a1a1a"/>
<circle cx="620.75" cy="201.89" r="1.95" fill="#1a1a1a"/>
<circle cx="632.55" cy="180.77" r="1.60" fill="none" stroke="#27a9e1" stroke-width="0.7"/>
<circle cx="635.90" cy="180.77" r="1.60" fill="none" stroke="#27a9e1" stroke-width="0.7"/>
<circle cx="639.25" cy="180.77" r="1.60" fill="none" stroke="#27a9e1" stroke-width="0.7"/>
<circle cx="634.22" cy="185.50" r="1.60" fill="none" stroke="#27a9e1" stroke-width="0.7"/>
<circle cx="637.58" cy="185.50" r="1.60" fill="none" stroke="#27a9e1" stroke-width="0.7"/>
<circle cx="630.87" cy="189.87" r="1.60" fill="none" stroke="#27a9e1" stroke-width="0.7"/>
<circle cx="634.22" cy="189.87" r="1.60" fill="none" stroke="#27a9e1" stroke-width="0.7"/>
<circle cx="637.58" cy="189.87" r="1.60" fill="none" stroke="#27a9e1" stroke-width="0.7"/>
<circle cx="640.93" cy="189.87" r="1.60" fill="none" stroke="#27a9e1" stroke-width="0.7"/>
<circle cx="630.87" cy="194.02" r="1.60" fill="none" stroke="#27a9e1" stroke-width="0.7"/>
<circle cx="634.22" cy="194.02" r="1.60" fill="none" stroke="#27a9e1" stroke-width="0.7"/>
<circle cx="637.58" cy="194.02" r="1.60" fill="none" stroke="#27a9e1" stroke-width="0.7"/>
<circle cx="640.93" cy="194.02" r="1.60" fill="none" stroke="#27a9e1" stroke-width="0.7"/>
<circle cx="635.90" cy="194.02" r="1.60" fill="none" stroke="#27a9e1" stroke-width="0.7"/>
<circle cx="632.55" cy="198.25" r="1.60" fill="none" stroke="#27a9e1" stroke-width="0.7"/>
<circle cx="635.90" cy="198.25" r="1.60" fill="none" stroke="#27a9e1" stroke-width="0.7"/>
<circle cx="639.25" cy="198.25" r="1.60" fill="none" stroke="#27a9e1" stroke-width="0.7"/>
<circle cx="658.95" cy="149.45" r="1.95" fill="#1a1a1a"/>
<circle cx="658.95" cy="158.19" r="1.95" fill="#1a1a1a"/>
<circle cx="655.60" cy="163.29" r="1.95" fill="#1a1a1a"/>
<circle cx="658.95" cy="163.29" r="1.95" fill="#1a1a1a"/>
<circle cx="662.30" cy="163.29" r="1.95" fill="#1a1a1a"/>
<circle cx="653.92" cy="168.02" r="1.95" fill="#1a1a1a"/>
<circle cx="657.27" cy="168.02" r="1.95" fill="#1a1a1a"/>
<circle cx="660.63" cy="168.02" r="1.95" fill="#1a1a1a"/>
<circle cx="663.98" cy="168.02" r="1.95" fill="#1a1a1a"/>
<circle cx="655.60" cy="171.01" r="1.95" fill="#1a1a1a"/>
<circle cx="658.95" cy="171.01" r="1.95" fill="#1a1a1a"/>
<circle cx="662.30" cy="171.01" r="1.95" fill="#1a1a1a"/>
<circle cx="657.27" cy="174.58" r="1.95" fill="#1a1a1a"/>
<circle cx="660.63" cy="174.58" r="1.95" fill="#1a1a1a"/>
<circle cx="658.95" cy="180.04" r="1.95" fill="#1a1a1a"/>
<circle cx="669.27" cy="154.91" r="1.60" fill="none" stroke="#27a9e1" stroke-width="0.7"/>
<circle cx="672.62" cy="154.91" r="1.60" fill="none" stroke="#27a9e1" stroke-width="0.7"/>
<circle cx="675.98" cy="154.91" r="1.60" fill="none" stroke="#27a9e1" stroke-width="0.7"/>
<circle cx="679.33" cy="154.91" r="1.60" fill="none" stroke="#27a9e1" stroke-width="0.7"/>
<circle cx="669.27" cy="159.28" r="1.60" fill="none" stroke="#27a9e1" stroke-width="0.7"/>
<circle cx="672.62" cy="159.28" r="1.60" fill="none" stroke="#27a9e1" stroke-width="0.7"/>
<circle cx="675.98" cy="159.28" r="1.60" fill="none" stroke="#27a9e1" stroke-width="0.7"/>
<circle cx="679.33" cy="159.28" r="1.60" fill="none" stroke="#27a9e1" stroke-width="0.7"/>
<circle cx="669.27" cy="162.23" r="1.60" fill="none" stroke="#27a9e1" stroke-width="0.7"/>
<circle cx="672.62" cy="162.23" r="1.60" fill="none" stroke="#27a9e1" stroke-width="0.7"/>
<circle cx="675.98" cy="162.23" r="1.60" fill="none" stroke="#27a9e1" stroke-width="0.7"/>
<circle cx="679.33" cy="162.23" r="1.60" fill="none" stroke="#27a9e1" stroke-width="0.7"/>
<circle cx="669.27" cy="165.88" r="1.60" fill="none" stroke="#27a9e1" stroke-width="0.7"/>
<circle cx="672.62" cy="165.88" r="1.60" fill="none" stroke="#27a9e1" stroke-width="0.7"/>
<circle cx="675.98" cy="165.88" r="1.60" fill="none" stroke="#27a9e1" stroke-width="0.7"/>
<circle cx="679.33" cy="165.88" r="1.60" fill="none" stroke="#27a9e1" stroke-width="0.7"/>
<circle cx="674.30" cy="165.88" r="1.60" fill="none" stroke="#27a9e1" stroke-width="0.7"/>
<circle cx="672.62" cy="170.21" r="1.60" fill="none" stroke="#27a9e1" stroke-width="0.7"/>
<circle cx="675.98" cy="170.21" r="1.60" fill="none" stroke="#27a9e1" stroke-width="0.7"/>
<line x1="651.5" y1="142.9" x2="680.5" y2="142.9" stroke="#555" stroke-width="0.9"/>
<text x="666" y="140.5" font-size="8.6" text-anchor="middle" fill="#333">P=0.024</text>
<circle cx="613.20" cy="128.80" r="1.95" fill="#1a1a1a"/>
<circle cx="613.20" cy="138.20" r="1.52" fill="none" stroke="#27a9e1" stroke-width="0.85"/>
<text x="621.2" y="132.10000000000002" font-size="9.9" text-anchor="start" fill="#222">Flox</text>
<text x="621.2" y="141.5" font-size="9.9" text-anchor="start" fill="#222">AKO</text>
<text x="579.2" y="168" font-size="9.6" text-anchor="middle" fill="#333" transform="rotate(-90 579.2 168)">Cristae per</text>
<text x="589.2" y="168" font-size="9.6" text-anchor="middle" fill="#333" transform="rotate(-90 589.2 168)">mitochondrial</text>
<text x="629" y="224.0" font-size="9.6" text-anchor="middle" fill="#333">RT</text>
<text x="666.5" y="224.0" font-size="9.6" text-anchor="middle" fill="#333">Cold</text>
<line x1="609.3" y1="254.1" x2="609.3" y2="350.7" stroke="#333" stroke-width="1.0"/>
<line x1="608.8" y1="350.3" x2="681" y2="350.3" stroke="#333" stroke-width="1.0"/>
<line x1="606.8" y1="350.3" x2="609.3" y2="350.3" stroke="#333" stroke-width="0.9"/>
<text x="606.1999999999999" y="353.5" font-size="10.4" text-anchor="end" fill="#333">0</text>
<line x1="606.8" y1="318.33333333333337" x2="609.3" y2="318.33333333333337" stroke="#333" stroke-width="0.9"/>
<text x="606.1999999999999" y="321.53333333333336" font-size="10.4" text-anchor="end" fill="#333">1</text>
<line x1="606.8" y1="286.3666666666667" x2="609.3" y2="286.3666666666667" stroke="#333" stroke-width="0.9"/>
<text x="606.1999999999999" y="289.56666666666666" font-size="10.4" text-anchor="end" fill="#333">2</text>
<line x1="606.8" y1="254.39999999999998" x2="609.3" y2="254.39999999999998" stroke="#333" stroke-width="0.9"/>
<text x="606.1999999999999" y="257.59999999999997" font-size="10.4" text-anchor="end" fill="#333">3</text>
<path d="M613.60,350.30 V318.33 H627.30 V350.30" fill="#fff" stroke="#1a1a1a" stroke-width="1.0"/>
<line x1="620.45" y1="314.49733333333336" x2="620.45" y2="322.1693333333333" stroke="#1a1a1a" stroke-width="0.8"/>
<line x1="618.25" y1="314.49733333333336" x2="622.6500000000001" y2="314.49733333333336" stroke="#1a1a1a" stroke-width="0.8"/>
<line x1="618.25" y1="322.1693333333333" x2="622.6500000000001" y2="322.1693333333333" stroke="#1a1a1a" stroke-width="0.8"/>
<path d="M628.30,350.30 V325.37 H641.90 V350.30" fill="#fff" stroke="#27a9e1" stroke-width="1.0"/>
<line x1="635.0999999999999" y1="322.1693333333333" x2="635.0999999999999" y2="328.5626666666667" stroke="#27a9e1" stroke-width="0.8"/>
<line x1="632.8999999999999" y1="322.1693333333333" x2="637.3" y2="322.1693333333333" stroke="#27a9e1" stroke-width="0.8"/>
<line x1="632.8999999999999" y1="328.5626666666667" x2="637.3" y2="328.5626666666667" stroke="#27a9e1" stroke-width="0.8"/>
<path d="M650.60,350.30 V309.38 H664.60 V350.30" fill="#fff" stroke="#1a1a1a" stroke-width="1.0"/>
<line x1="657.6" y1="306.82533333333333" x2="657.6" y2="311.94" stroke="#1a1a1a" stroke-width="0.8"/>
<line x1="655.4" y1="306.82533333333333" x2="659.8000000000001" y2="306.82533333333333" stroke="#1a1a1a" stroke-width="0.8"/>
<line x1="655.4" y1="311.94" x2="659.8000000000001" y2="311.94" stroke="#1a1a1a" stroke-width="0.8"/>
<path d="M665.60,350.30 V283.17 H679.30 V350.30" fill="#fff" stroke="#27a9e1" stroke-width="1.0"/>
<line x1="672.45" y1="273.58000000000004" x2="672.45" y2="292.76" stroke="#27a9e1" stroke-width="0.8"/>
<line x1="670.25" y1="273.58000000000004" x2="674.6500000000001" y2="273.58000000000004" stroke="#27a9e1" stroke-width="0.8"/>
<line x1="670.25" y1="292.76" x2="674.6500000000001" y2="292.76" stroke="#27a9e1" stroke-width="0.8"/>
<circle cx="618.39" cy="313.22" r="2.4" fill="#1a1a1a"/>
<circle cx="622.51" cy="313.22" r="2.4" fill="#1a1a1a"/>
<circle cx="620.45" cy="321.53" r="2.4" fill="#1a1a1a"/>
<circle cx="620.45" cy="326.32" r="2.4" fill="#1a1a1a"/>
<circle cx="635.10" cy="318.33" r="2.05" fill="none" stroke="#27a9e1" stroke-width="0.7"/>
<circle cx="633.04" cy="323.13" r="2.05" fill="none" stroke="#27a9e1" stroke-width="0.7"/>
<circle cx="637.16" cy="323.13" r="2.05" fill="none" stroke="#27a9e1" stroke-width="0.7"/>
<circle cx="635.10" cy="334.32" r="2.05" fill="none" stroke="#27a9e1" stroke-width="0.7"/>
<circle cx="655.54" cy="304.59" r="2.4" fill="#1a1a1a"/>
<circle cx="659.66" cy="304.59" r="2.4" fill="#1a1a1a"/>
<circle cx="655.54" cy="311.94" r="2.4" fill="#1a1a1a"/>
<circle cx="659.66" cy="311.94" r="2.4" fill="#1a1a1a"/>
<circle cx="672.45" cy="262.39" r="2.05" fill="none" stroke="#27a9e1" stroke-width="0.7"/>
<circle cx="672.45" cy="276.78" r="2.05" fill="none" stroke="#27a9e1" stroke-width="0.7"/>
<circle cx="672.45" cy="284.77" r="2.05" fill="none" stroke="#27a9e1" stroke-width="0.7"/>
<circle cx="672.45" cy="307.14" r="2.05" fill="none" stroke="#27a9e1" stroke-width="0.7"/>
<line x1="649.4" y1="257.8" x2="677.9" y2="257.8" stroke="#555" stroke-width="0.9"/>
<text x="663.7" y="255.4" font-size="8.6" text-anchor="middle" fill="#333">P=0.038</text>
<circle cx="616.20" cy="237.40" r="2.35" fill="#1a1a1a"/>
<circle cx="616.20" cy="247.00" r="1.93" fill="none" stroke="#27a9e1" stroke-width="0.85"/>
<text x="623.2" y="240.70000000000002" font-size="9.9" text-anchor="start" fill="#222">Flox</text>
<text x="623.2" y="250.3" font-size="9.9" text-anchor="start" fill="#222">AKO</text>
<text x="598.3" y="300.5" font-size="10.2" text-anchor="middle" fill="#333" transform="rotate(-90 598.3 300.5)">mtDNA (relative amount)</text>
<text x="627.8" y="358.5" font-size="9.6" text-anchor="middle" fill="#333">RT</text>
<text x="665.6" y="358.5" font-size="9.6" text-anchor="middle" fill="#333">Cold</text>
<defs><filter id="bb" x="-30%" y="-80%" width="160%" height="260%"><feGaussianBlur stdDeviation="0.75"/></filter><linearGradient id="hz" x1="0" y1="0" x2="0" y2="1"><stop offset="0" stop-color="#000" stop-opacity="0.13"/><stop offset="1" stop-color="#000" stop-opacity="0"/></linearGradient><linearGradient id="lz" x1="0" y1="0" x2="0" y2="1"><stop offset="0" stop-color="#000" stop-opacity="0.16"/><stop offset="0.6" stop-color="#000" stop-opacity="0.12"/><stop offset="1" stop-color="#000" stop-opacity="0"/></linearGradient></defs>
<rect x="90.70" y="399.30" width="170.70" height="15.20" fill="#f3f3f3"/>
<rect x="90.70" y="399.30" width="170.70" height="8" fill="url(#hz)" opacity="0.5"/>
<rect x="92.30" y="399.30" width="11.02" height="12.16" fill="url(#lz)" opacity="1.0" filter="url(#bb)"/>
<rect x="106.52" y="399.30" width="11.02" height="12.16" fill="url(#lz)" opacity="1.0" filter="url(#bb)"/>
<rect x="120.75" y="399.30" width="11.02" height="12.16" fill="url(#lz)" opacity="1.0" filter="url(#bb)"/>
<rect x="134.97" y="399.30" width="11.02" height="12.16" fill="url(#lz)" opacity="1.0" filter="url(#bb)"/>
<rect x="149.20" y="399.30" width="11.02" height="12.16" fill="url(#lz)" opacity="1.0" filter="url(#bb)"/>
<rect x="163.42" y="399.30" width="11.02" height="12.16" fill="url(#lz)" opacity="1.0" filter="url(#bb)"/>
<rect x="177.65" y="399.30" width="11.02" height="12.16" fill="url(#lz)" opacity="1.0" filter="url(#bb)"/>
<rect x="191.87" y="399.30" width="11.02" height="12.16" fill="url(#lz)" opacity="1.0" filter="url(#bb)"/>
<rect x="206.10" y="399.30" width="11.02" height="12.16" fill="url(#lz)" opacity="1.0" filter="url(#bb)"/>
<rect x="220.32" y="399.30" width="11.02" height="12.16" fill="url(#lz)" opacity="1.0" filter="url(#bb)"/>
<rect x="234.55" y="399.30" width="11.02" height="12.16" fill="url(#lz)" opacity="1.0" filter="url(#bb)"/>
<rect x="248.78" y="399.30" width="11.02" height="12.16" fill="url(#lz)" opacity="1.0" filter="url(#bb)"/>
<rect x="90.70" y="416.30" width="170.70" height="18.10" fill="#f3f3f3"/>
<rect x="90.70" y="416.30" width="170.70" height="8" fill="url(#hz)" opacity="0.5"/>
<rect x="92.30" y="416.30" width="11.02" height="14.48" fill="url(#lz)" opacity="1.0" filter="url(#bb)"/>
<rect x="106.52" y="416.30" width="11.02" height="14.48" fill="url(#lz)" opacity="1.0" filter="url(#bb)"/>
<rect x="120.75" y="416.30" width="11.02" height="14.48" fill="url(#lz)" opacity="1.0" filter="url(#bb)"/>
<rect x="134.97" y="416.30" width="11.02" height="14.48" fill="url(#lz)" opacity="1.0" filter="url(#bb)"/>
<rect x="149.20" y="416.30" width="11.02" height="14.48" fill="url(#lz)" opacity="1.0" filter="url(#bb)"/>
<rect x="163.42" y="416.30" width="11.02" height="14.48" fill="url(#lz)" opacity="1.0" filter="url(#bb)"/>
<rect x="177.65" y="416.30" width="11.02" height="14.48" fill="url(#lz)" opacity="1.0" filter="url(#bb)"/>
<rect x="191.87" y="416.30" width="11.02" height="14.48" fill="url(#lz)" opacity="1.0" filter="url(#bb)"/>
<rect x="206.10" y="416.30" width="11.02" height="14.48" fill="url(#lz)" opacity="1.0" filter="url(#bb)"/>
<rect x="220.32" y="416.30" width="11.02" height="14.48" fill="url(#lz)" opacity="1.0" filter="url(#bb)"/>
<rect x="234.55" y="416.30" width="11.02" height="14.48" fill="url(#lz)" opacity="1.0" filter="url(#bb)"/>
<rect x="248.78" y="416.30" width="11.02" height="14.48" fill="url(#lz)" opacity="1.0" filter="url(#bb)"/>
<rect x="90.70" y="436.90" width="170.70" height="16.70" fill="#f6f6f6"/>
<rect x="90.70" y="436.90" width="170.70" height="8" fill="url(#hz)" opacity="0.3"/>
<rect x="90.70" y="455.80" width="170.70" height="65.80" fill="#f6f6f6"/>
<rect x="90.70" y="455.80" width="170.70" height="8" fill="url(#hz)" opacity="0.3"/>
<rect x="90.70" y="524.80" width="170.70" height="17.50" fill="#f6f6f6"/>
<rect x="90.70" y="524.80" width="170.70" height="8" fill="url(#hz)" opacity="0.2"/>
<rect x="91.71" y="405.50" width="12.20" height="2.80" rx="1.40" fill="#000" fill-opacity="0.42" filter="url(#bb)"/>
<rect x="105.94" y="405.50" width="12.20" height="2.80" rx="1.40" fill="#000" fill-opacity="0.38" filter="url(#bb)"/>
<rect x="120.16" y="405.50" width="12.20" height="2.80" rx="1.40" fill="#000" fill-opacity="0.32" filter="url(#bb)"/>
<rect x="134.39" y="405.50" width="12.20" height="2.80" rx="1.40" fill="#000" fill-opacity="0.50" filter="url(#bb)"/>
<rect x="148.61" y="405.50" width="12.20" height="2.80" rx="1.40" fill="#000" fill-opacity="0.30" filter="url(#bb)"/>
<rect x="162.84" y="405.50" width="12.20" height="2.80" rx="1.40" fill="#000" fill-opacity="0.40" filter="url(#bb)"/>
<rect x="176.82" y="404.80" width="12.69" height="4.20" rx="2.10" fill="#000" fill-opacity="1.00" filter="url(#bb)"/>
<rect x="191.04" y="404.80" width="12.69" height="4.20" rx="2.10" fill="#000" fill-opacity="1.00" filter="url(#bb)"/>
<rect x="205.38" y="405.22" width="12.47" height="3.36" rx="1.68" fill="#000" fill-opacity="0.90" filter="url(#bb)"/>
<rect x="219.74" y="405.50" width="12.20" height="2.80" rx="1.40" fill="#000" fill-opacity="0.25" filter="url(#bb)"/>
<rect x="233.96" y="405.50" width="12.20" height="2.80" rx="1.40" fill="#000" fill-opacity="0.45" filter="url(#bb)"/>
<rect x="248.19" y="405.50" width="12.20" height="2.80" rx="1.40" fill="#000" fill-opacity="0.40" filter="url(#bb)"/>
<rect x="91.71" y="424.50" width="12.20" height="2.80" rx="1.40" fill="#000" fill-opacity="0.80" filter="url(#bb)"/>
<rect x="105.94" y="423.30" width="12.20" height="2.80" rx="1.40" fill="#000" fill-opacity="0.75" filter="url(#bb)"/>
<rect x="119.99" y="420.78" width="12.54" height="3.64" rx="1.82" fill="#000" fill-opacity="0.97" filter="url(#bb)"/>
<rect x="134.39" y="421.00" width="12.20" height="2.80" rx="1.40" fill="#000" fill-opacity="0.55" filter="url(#bb)"/>
<rect x="148.61" y="421.20" width="12.20" height="2.80" rx="1.40" fill="#000" fill-opacity="0.50" filter="url(#bb)"/>
<rect x="162.84" y="421.00" width="12.20" height="2.80" rx="1.40" fill="#000" fill-opacity="0.62" filter="url(#bb)"/>
<rect x="176.64" y="419.80" width="13.05" height="5.60" rx="2.80" fill="#000" fill-opacity="1.00" filter="url(#bb)"/>
<rect x="190.97" y="419.82" width="12.83" height="4.76" rx="2.38" fill="#000" fill-opacity="1.00" filter="url(#bb)"/>
<rect x="205.51" y="423.60" width="12.20" height="2.80" rx="1.40" fill="#000" fill-opacity="0.55" filter="url(#bb)"/>
<rect x="219.74" y="424.00" width="12.20" height="2.80" rx="1.40" fill="#000" fill-opacity="0.30" filter="url(#bb)"/>
<rect x="233.96" y="424.60" width="12.20" height="2.80" rx="1.40" fill="#000" fill-opacity="0.38" filter="url(#bb)"/>
<rect x="248.19" y="424.60" width="12.20" height="2.80" rx="1.40" fill="#000" fill-opacity="0.38" filter="url(#bb)"/>
<rect x="91.61" y="443.70" width="12.40" height="3.80" rx="1.90" fill="#000" fill-opacity="0.07" filter="url(#bb)"/>
<rect x="105.84" y="443.70" width="12.40" height="3.80" rx="1.90" fill="#000" fill-opacity="0.40" filter="url(#bb)"/>
<rect x="120.06" y="443.70" width="12.40" height="3.80" rx="1.90" fill="#000" fill-opacity="0.60" filter="url(#bb)"/>
<rect x="134.29" y="443.70" width="12.40" height="3.80" rx="1.90" fill="#000" fill-opacity="0.35" filter="url(#bb)"/>
<rect x="148.51" y="443.70" width="12.40" height="3.80" rx="1.90" fill="#000" fill-opacity="0.38" filter="url(#bb)"/>
<rect x="162.74" y="443.70" width="12.40" height="3.80" rx="1.90" fill="#000" fill-opacity="0.33" filter="url(#bb)"/>
<rect x="176.86" y="443.51" width="12.60" height="4.18" rx="2.09" fill="#000" fill-opacity="1.00" filter="url(#bb)"/>
<rect x="191.09" y="443.51" width="12.60" height="4.18" rx="2.09" fill="#000" fill-opacity="1.00" filter="url(#bb)"/>
<rect x="205.28" y="443.32" width="12.67" height="4.56" rx="2.28" fill="#000" fill-opacity="1.00" filter="url(#bb)"/>
<rect x="219.56" y="443.61" width="12.56" height="3.99" rx="1.99" fill="#000" fill-opacity="1.00" filter="url(#bb)"/>
<rect x="233.80" y="443.70" width="12.52" height="3.80" rx="1.90" fill="#000" fill-opacity="1.00" filter="url(#bb)"/>
<rect x="248.04" y="443.80" width="12.49" height="3.61" rx="1.80" fill="#000" fill-opacity="0.95" filter="url(#bb)"/>
<rect x="91.51" y="459.32" width="12.60" height="3.96" rx="1.98" fill="#000" fill-opacity="1.00" filter="url(#bb)"/>
<rect x="105.84" y="459.50" width="12.40" height="3.60" rx="1.80" fill="#000" fill-opacity="0.80" filter="url(#bb)"/>
<rect x="120.06" y="459.50" width="12.40" height="3.60" rx="1.80" fill="#000" fill-opacity="0.95" filter="url(#bb)"/>
<rect x="134.19" y="459.32" width="12.60" height="3.96" rx="1.98" fill="#000" fill-opacity="1.00" filter="url(#bb)"/>
<rect x="148.51" y="459.50" width="12.40" height="3.60" rx="1.80" fill="#000" fill-opacity="0.90" filter="url(#bb)"/>
<rect x="162.56" y="458.96" width="12.75" height="4.68" rx="2.34" fill="#000" fill-opacity="1.00" filter="url(#bb)"/>
<rect x="176.42" y="457.16" width="13.49" height="8.28" rx="4.14" fill="#000" fill-opacity="1.00" filter="url(#bb)"/>
<rect x="190.87" y="458.24" width="13.04" height="6.12" rx="3.06" fill="#000" fill-opacity="1.00" filter="url(#bb)"/>
<rect x="205.24" y="458.96" width="12.75" height="4.68" rx="2.34" fill="#000" fill-opacity="1.00" filter="url(#bb)"/>
<rect x="219.54" y="459.32" width="12.60" height="3.96" rx="1.98" fill="#000" fill-opacity="0.97" filter="url(#bb)"/>
<rect x="233.86" y="459.50" width="12.40" height="3.60" rx="1.80" fill="#000" fill-opacity="0.97" filter="url(#bb)"/>
<rect x="248.09" y="459.50" width="12.40" height="3.60" rx="1.80" fill="#000" fill-opacity="0.72" filter="url(#bb)"/>
<rect x="91.65" y="467.00" width="12.32" height="3.00" rx="1.50" fill="#000" fill-opacity="0.95" filter="url(#bb)"/>
<rect x="105.94" y="467.00" width="12.20" height="3.00" rx="1.50" fill="#000" fill-opacity="0.45" filter="url(#bb)"/>
<rect x="120.16" y="467.00" width="12.20" height="3.00" rx="1.50" fill="#000" fill-opacity="0.40" filter="url(#bb)"/>
<rect x="134.39" y="467.00" width="12.20" height="3.00" rx="1.50" fill="#000" fill-opacity="0.60" filter="url(#bb)"/>
<rect x="148.61" y="467.00" width="12.20" height="3.00" rx="1.50" fill="#000" fill-opacity="0.40" filter="url(#bb)"/>
<rect x="162.84" y="467.00" width="12.20" height="3.00" rx="1.50" fill="#000" fill-opacity="0.30" filter="url(#bb)"/>
<rect x="176.82" y="466.25" width="12.69" height="4.50" rx="2.25" fill="#000" fill-opacity="1.00" filter="url(#bb)"/>
<rect x="191.08" y="466.40" width="12.61" height="4.20" rx="2.10" fill="#000" fill-opacity="1.00" filter="url(#bb)"/>
<rect x="205.38" y="466.70" width="12.47" height="3.60" rx="1.80" fill="#000" fill-opacity="1.00" filter="url(#bb)"/>
<rect x="219.74" y="467.00" width="12.20" height="3.00" rx="1.50" fill="#000" fill-opacity="0.90" filter="url(#bb)"/>
<rect x="233.96" y="467.00" width="12.20" height="3.00" rx="1.50" fill="#000" fill-opacity="0.80" filter="url(#bb)"/>
<rect x="248.19" y="467.00" width="12.20" height="3.00" rx="1.50" fill="#000" fill-opacity="0.75" filter="url(#bb)"/>
<rect x="92.06" y="475.40" width="11.50" height="3.60" rx="1.80" fill="#000" fill-opacity="0.22" filter="url(#bb)"/>
<rect x="106.29" y="475.40" width="11.50" height="3.60" rx="1.80" fill="#000" fill-opacity="0.04" filter="url(#bb)"/>
<rect x="120.51" y="475.40" width="11.50" height="3.60" rx="1.80" fill="#000" fill-opacity="0.08" filter="url(#bb)"/>
<rect x="134.74" y="475.40" width="11.50" height="3.60" rx="1.80" fill="#000" fill-opacity="0.06" filter="url(#bb)"/>
<rect x="148.96" y="475.40" width="11.50" height="3.60" rx="1.80" fill="#000" fill-opacity="0.22" filter="url(#bb)"/>
<rect x="163.19" y="475.40" width="11.50" height="3.60" rx="1.80" fill="#000" fill-opacity="0.12" filter="url(#bb)"/>
<rect x="177.41" y="475.40" width="11.50" height="3.60" rx="1.80" fill="#000" fill-opacity="0.35" filter="url(#bb)"/>
<rect x="191.64" y="475.40" width="11.50" height="3.60" rx="1.80" fill="#000" fill-opacity="0.50" filter="url(#bb)"/>
<rect x="205.86" y="475.40" width="11.50" height="3.60" rx="1.80" fill="#000" fill-opacity="0.35" filter="url(#bb)"/>
<rect x="220.09" y="475.40" width="11.50" height="3.60" rx="1.80" fill="#000" fill-opacity="0.22" filter="url(#bb)"/>
<rect x="234.31" y="475.40" width="11.50" height="3.60" rx="1.80" fill="#000" fill-opacity="0.10" filter="url(#bb)"/>
<rect x="248.54" y="475.40" width="11.50" height="3.60" rx="1.80" fill="#000" fill-opacity="0.20" filter="url(#bb)"/>
<rect x="91.91" y="488.80" width="11.80" height="2.60" rx="1.30" fill="#000" fill-opacity="0.25" filter="url(#bb)"/>
<rect x="106.14" y="488.80" width="11.80" height="2.60" rx="1.30" fill="#000" fill-opacity="0.18" filter="url(#bb)"/>
<rect x="120.36" y="488.80" width="11.80" height="2.60" rx="1.30" fill="#000" fill-opacity="0.18" filter="url(#bb)"/>
<rect x="134.59" y="488.80" width="11.80" height="2.60" rx="1.30" fill="#000" fill-opacity="0.18" filter="url(#bb)"/>
<rect x="148.81" y="488.80" width="11.80" height="2.60" rx="1.30" fill="#000" fill-opacity="0.35" filter="url(#bb)"/>
<rect x="163.04" y="488.80" width="11.80" height="2.60" rx="1.30" fill="#000" fill-opacity="0.22" filter="url(#bb)"/>
<rect x="177.26" y="488.80" width="11.80" height="2.60" rx="1.30" fill="#000" fill-opacity="0.85" filter="url(#bb)"/>
<rect x="191.49" y="488.80" width="11.80" height="2.60" rx="1.30" fill="#000" fill-opacity="0.70" filter="url(#bb)"/>
<rect x="205.71" y="488.80" width="11.80" height="2.60" rx="1.30" fill="#000" fill-opacity="0.80" filter="url(#bb)"/>
<rect x="219.94" y="488.80" width="11.80" height="2.60" rx="1.30" fill="#000" fill-opacity="0.85" filter="url(#bb)"/>
<rect x="234.16" y="488.80" width="11.80" height="2.60" rx="1.30" fill="#000" fill-opacity="0.50" filter="url(#bb)"/>
<rect x="248.39" y="488.80" width="11.80" height="2.60" rx="1.30" fill="#000" fill-opacity="0.50" filter="url(#bb)"/>
<rect x="92.81" y="496.00" width="10.00" height="2.60" rx="1.30" fill="#000" fill-opacity="0.05" filter="url(#bb)"/>
<rect x="107.04" y="496.00" width="10.00" height="2.60" rx="1.30" fill="#000" fill-opacity="0.05" filter="url(#bb)"/>
<rect x="121.26" y="496.00" width="10.00" height="2.60" rx="1.30" fill="#000" fill-opacity="0.03" filter="url(#bb)"/>
<rect x="135.49" y="496.00" width="10.00" height="2.60" rx="1.30" fill="#000" fill-opacity="0.03" filter="url(#bb)"/>
<rect x="149.71" y="496.00" width="10.00" height="2.60" rx="1.30" fill="#000" fill-opacity="0.10" filter="url(#bb)"/>
<rect x="163.94" y="496.00" width="10.00" height="2.60" rx="1.30" fill="#000" fill-opacity="0.15" filter="url(#bb)"/>
<rect x="178.16" y="496.00" width="10.00" height="2.60" rx="1.30" fill="#000" fill-opacity="0.12" filter="url(#bb)"/>
<rect x="192.39" y="496.00" width="10.00" height="2.60" rx="1.30" fill="#000" fill-opacity="0.05" filter="url(#bb)"/>
<rect x="206.61" y="496.00" width="10.00" height="2.60" rx="1.30" fill="#000" fill-opacity="0.08" filter="url(#bb)"/>
<rect x="220.84" y="496.00" width="10.00" height="2.60" rx="1.30" fill="#000" fill-opacity="0.03" filter="url(#bb)"/>
<rect x="235.06" y="496.00" width="10.00" height="2.60" rx="1.30" fill="#000" fill-opacity="0.03" filter="url(#bb)"/>
<rect x="249.29" y="496.00" width="10.00" height="2.60" rx="1.30" fill="#000" fill-opacity="0.02" filter="url(#bb)"/>
<rect x="93.06" y="512.40" width="9.50" height="2.40" rx="1.20" fill="#000" fill-opacity="0.02" filter="url(#bb)"/>
<rect x="107.29" y="512.40" width="9.50" height="2.40" rx="1.20" fill="#000" fill-opacity="0.02" filter="url(#bb)"/>
<rect x="121.51" y="512.40" width="9.50" height="2.40" rx="1.20" fill="#000" fill-opacity="0.02" filter="url(#bb)"/>
<rect x="135.74" y="512.40" width="9.50" height="2.40" rx="1.20" fill="#000" fill-opacity="0.02" filter="url(#bb)"/>
<rect x="149.96" y="512.40" width="9.50" height="2.40" rx="1.20" fill="#000" fill-opacity="0.02" filter="url(#bb)"/>
<rect x="164.19" y="512.40" width="9.50" height="2.40" rx="1.20" fill="#000" fill-opacity="0.02" filter="url(#bb)"/>
<rect x="178.41" y="512.40" width="9.50" height="2.40" rx="1.20" fill="#000" fill-opacity="0.30" filter="url(#bb)"/>
<rect x="192.64" y="512.40" width="9.50" height="2.40" rx="1.20" fill="#000" fill-opacity="0.75" filter="url(#bb)"/>
<rect x="206.86" y="512.40" width="9.50" height="2.40" rx="1.20" fill="#000" fill-opacity="0.32" filter="url(#bb)"/>
<rect x="221.09" y="512.40" width="9.50" height="2.40" rx="1.20" fill="#000" fill-opacity="0.10" filter="url(#bb)"/>
<rect x="235.31" y="512.40" width="9.50" height="2.40" rx="1.20" fill="#000" fill-opacity="0.08" filter="url(#bb)"/>
<rect x="249.54" y="512.40" width="9.50" height="2.40" rx="1.20" fill="#000" fill-opacity="0.06" filter="url(#bb)"/>
<rect x="91.41" y="534.05" width="12.80" height="2.50" rx="1.25" fill="#000" fill-opacity="0.78" filter="url(#bb)"/>
<rect x="105.64" y="534.05" width="12.80" height="2.50" rx="1.25" fill="#000" fill-opacity="0.78" filter="url(#bb)"/>
<rect x="119.86" y="534.05" width="12.80" height="2.50" rx="1.25" fill="#000" fill-opacity="0.78" filter="url(#bb)"/>
<rect x="134.09" y="534.05" width="12.80" height="2.50" rx="1.25" fill="#000" fill-opacity="0.78" filter="url(#bb)"/>
<rect x="148.31" y="534.05" width="12.80" height="2.50" rx="1.25" fill="#000" fill-opacity="0.78" filter="url(#bb)"/>
<rect x="162.54" y="534.05" width="12.80" height="2.50" rx="1.25" fill="#000" fill-opacity="0.78" filter="url(#bb)"/>
<rect x="176.76" y="534.05" width="12.80" height="2.50" rx="1.25" fill="#000" fill-opacity="0.78" filter="url(#bb)"/>
<rect x="190.99" y="534.05" width="12.80" height="2.50" rx="1.25" fill="#000" fill-opacity="0.78" filter="url(#bb)"/>
<rect x="205.21" y="534.05" width="12.80" height="2.50" rx="1.25" fill="#000" fill-opacity="0.78" filter="url(#bb)"/>
<rect x="219.44" y="534.05" width="12.80" height="2.50" rx="1.25" fill="#000" fill-opacity="0.78" filter="url(#bb)"/>
<rect x="233.66" y="534.05" width="12.80" height="2.50" rx="1.25" fill="#000" fill-opacity="0.78" filter="url(#bb)"/>
<rect x="247.89" y="534.05" width="12.80" height="2.50" rx="1.25" fill="#000" fill-opacity="0.78" filter="url(#bb)"/>
<rect x="90.70" y="399.30" width="170.70" height="15.20" fill="none" stroke="#2a2a2a" stroke-width="1.1"/>
<rect x="90.70" y="416.30" width="170.70" height="18.10" fill="none" stroke="#2a2a2a" stroke-width="1.1"/>
<rect x="90.70" y="436.90" width="170.70" height="16.70" fill="none" stroke="#2a2a2a" stroke-width="1.1"/>
<rect x="90.70" y="455.80" width="170.70" height="65.80" fill="none" stroke="#2a2a2a" stroke-width="1.1"/>
<rect x="90.70" y="524.80" width="170.70" height="17.50" fill="none" stroke="#2a2a2a" stroke-width="1.1"/>
<text x="89" y="411.2" font-size="9.6" text-anchor="end" fill="#1a1a1a">MFN1</text>
<text x="89" y="428.8" font-size="9.6" text-anchor="end" fill="#1a1a1a">MFN2</text>
<text x="89" y="449.9" font-size="9.6" text-anchor="end" fill="#1a1a1a">TOM20</text>
<text x="89" y="462.4" font-size="9.6" text-anchor="end" fill="#1a1a1a">CV-ATP5A</text>
<text x="89" y="471" font-size="9.6" text-anchor="end" fill="#1a1a1a">CIII-UQCRC2</text>
<text x="89" y="480" font-size="9.6" text-anchor="end" fill="#1a1a1a">CIV-MTCO1</text>
<text x="89" y="494.6" font-size="9.6" text-anchor="end" fill="#1a1a1a">CII-SDHB</text>
<text x="89" y="518.3" font-size="9.6" text-anchor="end" fill="#1a1a1a">CI-NDUFB8</text>
<text x="89" y="535.1" font-size="9.6" text-anchor="end" fill="#1a1a1a">Calnexin</text>
<line x1="261.4" y1="412" x2="266.2" y2="412" stroke="#333" stroke-width="0.9"/>
<text x="268.59999999999997" y="415.7" font-size="9.9" text-anchor="start" fill="#1a1a1a">75</text>
<line x1="261.4" y1="430.5" x2="266.2" y2="430.5" stroke="#333" stroke-width="0.9"/>
<text x="268.59999999999997" y="434.2" font-size="9.9" text-anchor="start" fill="#1a1a1a">75</text>
<line x1="261.4" y1="451" x2="266.2" y2="451" stroke="#333" stroke-width="0.9"/>
<text x="268.59999999999997" y="454.7" font-size="9.9" text-anchor="start" fill="#1a1a1a">20</text>
<line x1="261.4" y1="461.5" x2="266.2" y2="461.5" stroke="#333" stroke-width="0.9"/>
<text x="268.59999999999997" y="465.2" font-size="9.9" text-anchor="start" fill="#1a1a1a">55</text>
<line x1="261.4" y1="471.4" x2="266.2" y2="471.4" stroke="#333" stroke-width="0.9"/>
<text x="268.59999999999997" y="475.09999999999997" font-size="9.9" text-anchor="start" fill="#1a1a1a">48</text>
<line x1="261.4" y1="481.6" x2="266.2" y2="481.6" stroke="#333" stroke-width="0.9"/>
<text x="268.59999999999997" y="485.3" font-size="9.9" text-anchor="start" fill="#1a1a1a">40</text>
<line x1="261.4" y1="493.8" x2="266.2" y2="493.8" stroke="#333" stroke-width="0.9"/>
<text x="268.59999999999997" y="497.5" font-size="9.9" text-anchor="start" fill="#1a1a1a">30</text>
<line x1="261.4" y1="513.1" x2="266.2" y2="513.1" stroke="#333" stroke-width="0.9"/>
<text x="268.59999999999997" y="516.8000000000001" font-size="9.9" text-anchor="start" fill="#1a1a1a">20</text>
<line x1="261.4" y1="532.4" x2="266.2" y2="532.4" stroke="#333" stroke-width="0.9"/>
<text x="268.59999999999997" y="536.1" font-size="9.9" text-anchor="start" fill="#1a1a1a">90</text>
<text x="267.8" y="390.1" font-size="9.9" text-anchor="start" fill="#1a1a1a">KD</text>
<line x1="110.2" y1="381.6" x2="154.6" y2="381.6" stroke="#333" stroke-width="0.9"/>
<text x="133.7" y="379.3" font-size="9.6" text-anchor="middle" fill="#1a1a1a">RT</text>
<line x1="197.6" y1="381.6" x2="242" y2="381.6" stroke="#333" stroke-width="0.9"/>
<text x="218.4" y="379.3" font-size="9.6" text-anchor="middle" fill="#1a1a1a">Cold</text>
<line x1="93.5" y1="396.9" x2="131" y2="396.9" stroke="#333" stroke-width="0.9"/>
<text x="112.25" y="394.5" font-size="9.6" text-anchor="middle" fill="#1a1a1a">+/+</text>
<line x1="135.2" y1="396.9" x2="174" y2="396.9" stroke="#333" stroke-width="0.9"/>
<text x="155.1" y="394.7" font-size="9.6" text-anchor="middle" font-style="italic" fill="#1a1a1a">Pnpla7<tspan font-size="5.6" dy="-3.1">Tg</tspan></text>
<line x1="180.9" y1="396.9" x2="214.2" y2="396.9" stroke="#333" stroke-width="0.9"/>
<text x="197.55" y="394.5" font-size="9.6" text-anchor="middle" fill="#1a1a1a">+/+</text>
<line x1="221.1" y1="396.9" x2="262.2" y2="396.9" stroke="#333" stroke-width="0.9"/>
<text x="242.14999999999998" y="394.7" font-size="9.6" text-anchor="middle" font-style="italic" fill="#1a1a1a">Pnpla7<tspan font-size="5.6" dy="-3.1">Tg</tspan></text>
<rect x="438.20" y="400.50" width="171.30" height="15.50" fill="#f2f2f2"/>
<rect x="438.20" y="400.50" width="171.30" height="8" fill="url(#hz)" opacity="0.4"/>
<rect x="439.80" y="400.50" width="11.07" height="11.62" fill="url(#lz)" opacity="0.8" filter="url(#bb)"/>
<rect x="454.08" y="400.50" width="11.07" height="11.62" fill="url(#lz)" opacity="0.8" filter="url(#bb)"/>
<rect x="468.35" y="400.50" width="11.07" height="11.62" fill="url(#lz)" opacity="0.8" filter="url(#bb)"/>
<rect x="482.62" y="400.50" width="11.07" height="11.62" fill="url(#lz)" opacity="0.8" filter="url(#bb)"/>
<rect x="496.90" y="400.50" width="11.07" height="11.62" fill="url(#lz)" opacity="0.8" filter="url(#bb)"/>
<rect x="511.18" y="400.50" width="11.07" height="11.62" fill="url(#lz)" opacity="0.8" filter="url(#bb)"/>
<rect x="525.45" y="400.50" width="11.07" height="11.62" fill="url(#lz)" opacity="0.8" filter="url(#bb)"/>
<rect x="539.73" y="400.50" width="11.07" height="11.62" fill="url(#lz)" opacity="0.8" filter="url(#bb)"/>
<rect x="554.00" y="400.50" width="11.07" height="11.62" fill="url(#lz)" opacity="0.8" filter="url(#bb)"/>
<rect x="568.27" y="400.50" width="11.07" height="11.62" fill="url(#lz)" opacity="0.8" filter="url(#bb)"/>
<rect x="582.55" y="400.50" width="11.07" height="11.62" fill="url(#lz)" opacity="0.8" filter="url(#bb)"/>
<rect x="596.82" y="400.50" width="11.07" height="11.62" fill="url(#lz)" opacity="0.8" filter="url(#bb)"/>
<rect x="438.20" y="417.60" width="171.30" height="18.40" fill="#f2f2f2"/>
<rect x="438.20" y="417.60" width="171.30" height="8" fill="url(#hz)" opacity="0.5"/>
<rect x="439.80" y="417.60" width="11.07" height="13.80" fill="url(#lz)" opacity="0.8" filter="url(#bb)"/>
<rect x="454.08" y="417.60" width="11.07" height="13.80" fill="url(#lz)" opacity="0.8" filter="url(#bb)"/>
<rect x="468.35" y="417.60" width="11.07" height="13.80" fill="url(#lz)" opacity="0.8" filter="url(#bb)"/>
<rect x="482.62" y="417.60" width="11.07" height="13.80" fill="url(#lz)" opacity="0.8" filter="url(#bb)"/>
<rect x="496.90" y="417.60" width="11.07" height="13.80" fill="url(#lz)" opacity="0.8" filter="url(#bb)"/>
<rect x="511.18" y="417.60" width="11.07" height="13.80" fill="url(#lz)" opacity="0.8" filter="url(#bb)"/>
<rect x="525.45" y="417.60" width="11.07" height="13.80" fill="url(#lz)" opacity="0.8" filter="url(#bb)"/>
<rect x="539.73" y="417.60" width="11.07" height="13.80" fill="url(#lz)" opacity="0.8" filter="url(#bb)"/>
<rect x="554.00" y="417.60" width="11.07" height="13.80" fill="url(#lz)" opacity="0.8" filter="url(#bb)"/>
<rect x="568.27" y="417.60" width="11.07" height="13.80" fill="url(#lz)" opacity="0.8" filter="url(#bb)"/>
<rect x="582.55" y="417.60" width="11.07" height="13.80" fill="url(#lz)" opacity="0.8" filter="url(#bb)"/>
<rect x="596.82" y="417.60" width="11.07" height="13.80" fill="url(#lz)" opacity="0.8" filter="url(#bb)"/>
<rect x="438.20" y="438.00" width="171.30" height="17.00" fill="#e9e9e9"/>
<rect x="438.20" y="457.40" width="171.30" height="66.60" fill="#f6f6f6"/>
<rect x="438.20" y="457.40" width="171.30" height="8" fill="url(#hz)" opacity="0.3"/>
<rect x="438.20" y="527.00" width="171.30" height="18.00" fill="#f6f6f6"/>
<rect x="438.20" y="527.00" width="171.30" height="8" fill="url(#hz)" opacity="0.2"/>
<rect x="439.19" y="407.10" width="12.30" height="2.80" rx="1.40" fill="#000" fill-opacity="0.45" filter="url(#bb)"/>
<rect x="453.46" y="407.10" width="12.30" height="2.80" rx="1.40" fill="#000" fill-opacity="0.33" filter="url(#bb)"/>
<rect x="467.74" y="407.10" width="12.30" height="2.80" rx="1.40" fill="#000" fill-opacity="0.33" filter="url(#bb)"/>
<rect x="482.01" y="407.10" width="12.30" height="2.80" rx="1.40" fill="#000" fill-opacity="0.33" filter="url(#bb)"/>
<rect x="496.29" y="407.10" width="12.30" height="2.80" rx="1.40" fill="#000" fill-opacity="0.10" filter="url(#bb)"/>
<rect x="510.56" y="407.10" width="12.30" height="2.80" rx="1.40" fill="#000" fill-opacity="0.10" filter="url(#bb)"/>
<rect x="524.87" y="407.45" width="12.24" height="2.10" rx="1.05" fill="#000" fill-opacity="0.75" filter="url(#bb)"/>
<rect x="538.96" y="406.75" width="12.61" height="3.50" rx="1.75" fill="#000" fill-opacity="1.00" filter="url(#bb)"/>
<rect x="553.25" y="406.82" width="12.57" height="3.36" rx="1.68" fill="#000" fill-opacity="1.00" filter="url(#bb)"/>
<rect x="567.23" y="405.70" width="13.16" height="5.60" rx="2.80" fill="#000" fill-opacity="1.00" filter="url(#bb)"/>
<rect x="581.73" y="406.54" width="12.72" height="3.92" rx="1.96" fill="#000" fill-opacity="1.00" filter="url(#bb)"/>
<rect x="596.06" y="406.75" width="12.61" height="3.50" rx="1.75" fill="#000" fill-opacity="1.00" filter="url(#bb)"/>
<rect x="439.19" y="425.10" width="12.30" height="2.80" rx="1.40" fill="#000" fill-opacity="0.55" filter="url(#bb)"/>
<rect x="453.46" y="425.10" width="12.30" height="2.80" rx="1.40" fill="#000" fill-opacity="0.55" filter="url(#bb)"/>
<rect x="467.74" y="425.10" width="12.30" height="2.80" rx="1.40" fill="#000" fill-opacity="0.48" filter="url(#bb)"/>
<rect x="482.01" y="425.10" width="12.30" height="2.80" rx="1.40" fill="#000" fill-opacity="0.58" filter="url(#bb)"/>
<rect x="496.29" y="425.10" width="12.30" height="2.80" rx="1.40" fill="#000" fill-opacity="0.58" filter="url(#bb)"/>
<rect x="510.56" y="425.10" width="12.30" height="2.80" rx="1.40" fill="#000" fill-opacity="0.25" filter="url(#bb)"/>
<rect x="524.70" y="424.82" width="12.57" height="3.36" rx="1.68" fill="#000" fill-opacity="1.00" filter="url(#bb)"/>
<rect x="539.01" y="424.96" width="12.50" height="3.08" rx="1.54" fill="#000" fill-opacity="1.00" filter="url(#bb)"/>
<rect x="553.22" y="424.68" width="12.64" height="3.64" rx="1.82" fill="#000" fill-opacity="1.00" filter="url(#bb)"/>
<rect x="567.23" y="423.70" width="13.16" height="5.60" rx="2.80" fill="#000" fill-opacity="1.00" filter="url(#bb)"/>
<rect x="581.51" y="423.70" width="13.16" height="5.60" rx="2.80" fill="#000" fill-opacity="1.00" filter="url(#bb)"/>
<rect x="595.82" y="423.84" width="13.09" height="5.32" rx="2.66" fill="#000" fill-opacity="1.00" filter="url(#bb)"/>
<rect x="439.19" y="446.40" width="12.30" height="2.80" rx="1.40" fill="#000" fill-opacity="0.35" filter="url(#bb)"/>
<rect x="453.46" y="446.40" width="12.30" height="2.80" rx="1.40" fill="#000" fill-opacity="0.38" filter="url(#bb)"/>
<rect x="467.74" y="446.40" width="12.30" height="2.80" rx="1.40" fill="#000" fill-opacity="0.42" filter="url(#bb)"/>
<rect x="482.01" y="446.40" width="12.30" height="2.80" rx="1.40" fill="#000" fill-opacity="0.32" filter="url(#bb)"/>
<rect x="496.29" y="446.40" width="12.30" height="2.80" rx="1.40" fill="#000" fill-opacity="0.35" filter="url(#bb)"/>
<rect x="510.56" y="446.40" width="12.30" height="2.80" rx="1.40" fill="#000" fill-opacity="0.30" filter="url(#bb)"/>
<rect x="524.70" y="446.12" width="12.57" height="3.36" rx="1.68" fill="#000" fill-opacity="0.65" filter="url(#bb)"/>
<rect x="538.94" y="445.98" width="12.64" height="3.64" rx="1.82" fill="#000" fill-opacity="0.80" filter="url(#bb)"/>
<rect x="553.22" y="445.98" width="12.64" height="3.64" rx="1.82" fill="#000" fill-opacity="0.90" filter="url(#bb)"/>
<rect x="567.45" y="445.84" width="12.72" height="3.92" rx="1.96" fill="#000" fill-opacity="1.00" filter="url(#bb)"/>
<rect x="581.69" y="445.70" width="12.79" height="4.20" rx="2.10" fill="#000" fill-opacity="1.00" filter="url(#bb)"/>
<rect x="596.04" y="445.98" width="12.64" height="3.64" rx="1.82" fill="#000" fill-opacity="1.00" filter="url(#bb)"/>
<rect x="439.09" y="462.65" width="12.50" height="3.30" rx="1.65" fill="#000" fill-opacity="1.00" filter="url(#bb)"/>
<rect x="453.36" y="462.65" width="12.50" height="3.30" rx="1.65" fill="#000" fill-opacity="1.00" filter="url(#bb)"/>
<rect x="467.64" y="462.65" width="12.50" height="3.30" rx="1.65" fill="#000" fill-opacity="1.00" filter="url(#bb)"/>
<rect x="482.01" y="462.80" width="12.30" height="3.00" rx="1.50" fill="#000" fill-opacity="0.95" filter="url(#bb)"/>
<rect x="496.29" y="462.80" width="12.30" height="3.00" rx="1.50" fill="#000" fill-opacity="0.90" filter="url(#bb)"/>
<rect x="510.56" y="462.80" width="12.30" height="3.00" rx="1.50" fill="#000" fill-opacity="0.95" filter="url(#bb)"/>
<rect x="524.84" y="462.80" width="12.30" height="3.00" rx="1.50" fill="#000" fill-opacity="0.95" filter="url(#bb)"/>
<rect x="539.01" y="462.65" width="12.50" height="3.30" rx="1.65" fill="#000" fill-opacity="1.00" filter="url(#bb)"/>
<rect x="553.29" y="462.65" width="12.50" height="3.30" rx="1.65" fill="#000" fill-opacity="1.00" filter="url(#bb)"/>
<rect x="567.56" y="462.65" width="12.50" height="3.30" rx="1.65" fill="#000" fill-opacity="1.00" filter="url(#bb)"/>
<rect x="581.29" y="460.40" width="13.60" height="7.80" rx="3.90" fill="#000" fill-opacity="1.00" filter="url(#bb)"/>
<rect x="596.08" y="462.50" width="12.57" height="3.60" rx="1.80" fill="#000" fill-opacity="1.00" filter="url(#bb)"/>
<rect x="439.09" y="469.35" width="12.50" height="3.30" rx="1.65" fill="#000" fill-opacity="1.00" filter="url(#bb)"/>
<rect x="453.36" y="469.35" width="12.50" height="3.30" rx="1.65" fill="#000" fill-opacity="1.00" filter="url(#bb)"/>
<rect x="467.60" y="469.20" width="12.57" height="3.60" rx="1.80" fill="#000" fill-opacity="1.00" filter="url(#bb)"/>
<rect x="482.01" y="469.50" width="12.30" height="3.00" rx="1.50" fill="#000" fill-opacity="0.95" filter="url(#bb)"/>
<rect x="496.29" y="469.50" width="12.30" height="3.00" rx="1.50" fill="#000" fill-opacity="0.95" filter="url(#bb)"/>
<rect x="510.46" y="469.35" width="12.50" height="3.30" rx="1.65" fill="#000" fill-opacity="1.00" filter="url(#bb)"/>
<rect x="524.67" y="469.05" width="12.64" height="3.90" rx="1.95" fill="#000" fill-opacity="1.00" filter="url(#bb)"/>
<rect x="538.79" y="468.45" width="12.94" height="5.10" rx="2.55" fill="#000" fill-opacity="1.00" filter="url(#bb)"/>
<rect x="553.14" y="468.75" width="12.79" height="4.50" rx="2.25" fill="#000" fill-opacity="1.00" filter="url(#bb)"/>
<rect x="567.34" y="468.45" width="12.94" height="5.10" rx="2.55" fill="#000" fill-opacity="1.00" filter="url(#bb)"/>
<rect x="581.43" y="467.70" width="13.31" height="6.60" rx="3.30" fill="#000" fill-opacity="1.00" filter="url(#bb)"/>
<rect x="595.75" y="467.85" width="13.23" height="6.30" rx="3.15" fill="#000" fill-opacity="1.00" filter="url(#bb)"/>
<rect x="439.59" y="476.90" width="11.50" height="3.60" rx="1.80" fill="#000" fill-opacity="0.04" filter="url(#bb)"/>
<rect x="453.86" y="476.90" width="11.50" height="3.60" rx="1.80" fill="#000" fill-opacity="0.14" filter="url(#bb)"/>
<rect x="468.14" y="476.90" width="11.50" height="3.60" rx="1.80" fill="#000" fill-opacity="0.10" filter="url(#bb)"/>
<rect x="482.41" y="476.90" width="11.50" height="3.60" rx="1.80" fill="#000" fill-opacity="0.04" filter="url(#bb)"/>
<rect x="496.69" y="476.90" width="11.50" height="3.60" rx="1.80" fill="#000" fill-opacity="0.08" filter="url(#bb)"/>
<rect x="510.96" y="476.90" width="11.50" height="3.60" rx="1.80" fill="#000" fill-opacity="0.18" filter="url(#bb)"/>
<rect x="525.24" y="476.90" width="11.50" height="3.60" rx="1.80" fill="#000" fill-opacity="0.20" filter="url(#bb)"/>
<rect x="539.51" y="476.90" width="11.50" height="3.60" rx="1.80" fill="#000" fill-opacity="0.35" filter="url(#bb)"/>
<rect x="553.79" y="476.90" width="11.50" height="3.60" rx="1.80" fill="#000" fill-opacity="0.15" filter="url(#bb)"/>
<rect x="568.06" y="476.90" width="11.50" height="3.60" rx="1.80" fill="#000" fill-opacity="0.35" filter="url(#bb)"/>
<rect x="582.34" y="476.90" width="11.50" height="3.60" rx="1.80" fill="#000" fill-opacity="0.50" filter="url(#bb)"/>
<rect x="596.61" y="476.90" width="11.50" height="3.60" rx="1.80" fill="#000" fill-opacity="0.60" filter="url(#bb)"/>
<rect x="439.44" y="491.50" width="11.80" height="2.60" rx="1.30" fill="#000" fill-opacity="0.15" filter="url(#bb)"/>
<rect x="453.71" y="491.50" width="11.80" height="2.60" rx="1.30" fill="#000" fill-opacity="0.30" filter="url(#bb)"/>
<rect x="467.99" y="491.50" width="11.80" height="2.60" rx="1.30" fill="#000" fill-opacity="0.25" filter="url(#bb)"/>
<rect x="482.26" y="491.50" width="11.80" height="2.60" rx="1.30" fill="#000" fill-opacity="0.25" filter="url(#bb)"/>
<rect x="496.54" y="491.50" width="11.80" height="2.60" rx="1.30" fill="#000" fill-opacity="0.25" filter="url(#bb)"/>
<rect x="510.81" y="491.50" width="11.80" height="2.60" rx="1.30" fill="#000" fill-opacity="0.30" filter="url(#bb)"/>
<rect x="525.09" y="491.50" width="11.80" height="2.60" rx="1.30" fill="#000" fill-opacity="0.35" filter="url(#bb)"/>
<rect x="539.36" y="491.50" width="11.80" height="2.60" rx="1.30" fill="#000" fill-opacity="0.55" filter="url(#bb)"/>
<rect x="553.64" y="491.50" width="11.80" height="2.60" rx="1.30" fill="#000" fill-opacity="0.30" filter="url(#bb)"/>
<rect x="567.91" y="491.50" width="11.80" height="2.60" rx="1.30" fill="#000" fill-opacity="0.50" filter="url(#bb)"/>
<rect x="582.19" y="491.50" width="11.80" height="2.60" rx="1.30" fill="#000" fill-opacity="0.65" filter="url(#bb)"/>
<rect x="596.46" y="491.50" width="11.80" height="2.60" rx="1.30" fill="#000" fill-opacity="0.90" filter="url(#bb)"/>
<rect x="440.34" y="496.70" width="10.00" height="2.60" rx="1.30" fill="#000" fill-opacity="0.05" filter="url(#bb)"/>
<rect x="454.61" y="496.70" width="10.00" height="2.60" rx="1.30" fill="#000" fill-opacity="0.30" filter="url(#bb)"/>
<rect x="468.89" y="496.70" width="10.00" height="2.60" rx="1.30" fill="#000" fill-opacity="0.10" filter="url(#bb)"/>
<rect x="483.16" y="496.70" width="10.00" height="2.60" rx="1.30" fill="#000" fill-opacity="0.03" filter="url(#bb)"/>
<rect x="497.44" y="496.70" width="10.00" height="2.60" rx="1.30" fill="#000" fill-opacity="0.12" filter="url(#bb)"/>
<rect x="511.71" y="496.70" width="10.00" height="2.60" rx="1.30" fill="#000" fill-opacity="0.03" filter="url(#bb)"/>
<rect x="525.99" y="496.70" width="10.00" height="2.60" rx="1.30" fill="#000" fill-opacity="0.03" filter="url(#bb)"/>
<rect x="540.26" y="496.70" width="10.00" height="2.60" rx="1.30" fill="#000" fill-opacity="0.05" filter="url(#bb)"/>
<rect x="554.54" y="496.70" width="10.00" height="2.60" rx="1.30" fill="#000" fill-opacity="0.03" filter="url(#bb)"/>
<rect x="568.81" y="496.70" width="10.00" height="2.60" rx="1.30" fill="#000" fill-opacity="0.05" filter="url(#bb)"/>
<rect x="583.09" y="496.70" width="10.00" height="2.60" rx="1.30" fill="#000" fill-opacity="0.25" filter="url(#bb)"/>
<rect x="597.36" y="496.70" width="10.00" height="2.60" rx="1.30" fill="#000" fill-opacity="0.05" filter="url(#bb)"/>
<rect x="440.09" y="513.20" width="10.50" height="2.80" rx="1.40" fill="#000" fill-opacity="0.06" filter="url(#bb)"/>
<rect x="454.36" y="513.20" width="10.50" height="2.80" rx="1.40" fill="#000" fill-opacity="0.12" filter="url(#bb)"/>
<rect x="468.64" y="513.20" width="10.50" height="2.80" rx="1.40" fill="#000" fill-opacity="0.05" filter="url(#bb)"/>
<rect x="482.91" y="513.20" width="10.50" height="2.80" rx="1.40" fill="#000" fill-opacity="0.08" filter="url(#bb)"/>
<rect x="497.19" y="513.20" width="10.50" height="2.80" rx="1.40" fill="#000" fill-opacity="0.10" filter="url(#bb)"/>
<rect x="511.46" y="513.20" width="10.50" height="2.80" rx="1.40" fill="#000" fill-opacity="0.12" filter="url(#bb)"/>
<rect x="525.74" y="513.20" width="10.50" height="2.80" rx="1.40" fill="#000" fill-opacity="0.10" filter="url(#bb)"/>
<rect x="540.01" y="513.20" width="10.50" height="2.80" rx="1.40" fill="#000" fill-opacity="0.45" filter="url(#bb)"/>
<rect x="554.29" y="513.20" width="10.50" height="2.80" rx="1.40" fill="#000" fill-opacity="0.15" filter="url(#bb)"/>
<rect x="568.56" y="513.20" width="10.50" height="2.80" rx="1.40" fill="#000" fill-opacity="0.25" filter="url(#bb)"/>
<rect x="582.84" y="513.20" width="10.50" height="2.80" rx="1.40" fill="#000" fill-opacity="0.35" filter="url(#bb)"/>
<rect x="597.11" y="513.20" width="10.50" height="2.80" rx="1.40" fill="#000" fill-opacity="0.50" filter="url(#bb)"/>
<rect x="438.74" y="534.40" width="13.20" height="2.00" rx="1.00" fill="#000" fill-opacity="0.82" filter="url(#bb)"/>
<rect x="453.01" y="534.40" width="13.20" height="2.00" rx="1.00" fill="#000" fill-opacity="0.82" filter="url(#bb)"/>
<rect x="467.29" y="534.40" width="13.20" height="2.00" rx="1.00" fill="#000" fill-opacity="0.82" filter="url(#bb)"/>
<rect x="481.56" y="534.40" width="13.20" height="2.00" rx="1.00" fill="#000" fill-opacity="0.82" filter="url(#bb)"/>
<rect x="495.84" y="534.40" width="13.20" height="2.00" rx="1.00" fill="#000" fill-opacity="0.82" filter="url(#bb)"/>
<rect x="510.11" y="534.40" width="13.20" height="2.00" rx="1.00" fill="#000" fill-opacity="0.82" filter="url(#bb)"/>
<rect x="524.39" y="534.40" width="13.20" height="2.00" rx="1.00" fill="#000" fill-opacity="0.82" filter="url(#bb)"/>
<rect x="538.66" y="534.40" width="13.20" height="2.00" rx="1.00" fill="#000" fill-opacity="0.82" filter="url(#bb)"/>
<rect x="552.94" y="534.40" width="13.20" height="2.00" rx="1.00" fill="#000" fill-opacity="0.82" filter="url(#bb)"/>
<rect x="567.21" y="534.40" width="13.20" height="2.00" rx="1.00" fill="#000" fill-opacity="0.82" filter="url(#bb)"/>
<rect x="581.49" y="534.40" width="13.20" height="2.00" rx="1.00" fill="#000" fill-opacity="0.82" filter="url(#bb)"/>
<rect x="595.76" y="534.40" width="13.20" height="2.00" rx="1.00" fill="#000" fill-opacity="0.82" filter="url(#bb)"/>
<rect x="438.20" y="400.50" width="171.30" height="15.50" fill="none" stroke="#2a2a2a" stroke-width="1.1"/>
<rect x="438.20" y="417.60" width="171.30" height="18.40" fill="none" stroke="#2a2a2a" stroke-width="1.1"/>
<rect x="438.20" y="438.00" width="171.30" height="17.00" fill="none" stroke="#2a2a2a" stroke-width="1.1"/>
<rect x="438.20" y="457.40" width="171.30" height="66.60" fill="none" stroke="#2a2a2a" stroke-width="1.1"/>
<rect x="438.20" y="527.00" width="171.30" height="18.00" fill="none" stroke="#2a2a2a" stroke-width="1.1"/>
<text x="437.4" y="412.5" font-size="9.6" text-anchor="end" fill="#1a1a1a">MFN1</text>
<text x="437.4" y="430.2" font-size="9.6" text-anchor="end" fill="#1a1a1a">MFN2</text>
<text x="437.4" y="451.5" font-size="9.6" text-anchor="end" fill="#1a1a1a">TOM20</text>
<text x="437.4" y="463.4" font-size="9.6" text-anchor="end" fill="#1a1a1a">CV-ATP5A</text>
<text x="437.4" y="472" font-size="9.6" text-anchor="end" fill="#1a1a1a">CIII-UQCRC2</text>
<text x="437.4" y="481" font-size="9.6" text-anchor="end" fill="#1a1a1a">CIV-MTCO1</text>
<text x="437.4" y="496" font-size="9.6" text-anchor="end" fill="#1a1a1a">CII-SDHB</text>
<text x="437.4" y="518.6" font-size="9.6" text-anchor="end" fill="#1a1a1a">CI-NDUFB8</text>
<text x="437.4" y="538" font-size="9.6" text-anchor="end" fill="#1a1a1a">Calnexin</text>
<line x1="609.5" y1="411.7" x2="614.5" y2="411.7" stroke="#333" stroke-width="0.9"/>
<text x="615.1" y="415.3" font-size="9.9" text-anchor="start" fill="#1a1a1a">75</text>
<line x1="609.5" y1="430" x2="614.5" y2="430" stroke="#333" stroke-width="0.9"/>
<text x="615.1" y="433.6" font-size="9.9" text-anchor="start" fill="#1a1a1a">75</text>
<line x1="609.5" y1="449" x2="614.5" y2="449" stroke="#333" stroke-width="0.9"/>
<text x="615.1" y="452.6" font-size="9.9" text-anchor="start" fill="#1a1a1a">20</text>
<line x1="609.5" y1="461.5" x2="614.5" y2="461.5" stroke="#333" stroke-width="0.9"/>
<text x="615.1" y="465.1" font-size="9.9" text-anchor="start" fill="#1a1a1a">55</text>
<line x1="609.5" y1="472" x2="614.5" y2="472" stroke="#333" stroke-width="0.9"/>
<text x="615.1" y="475.6" font-size="9.9" text-anchor="start" fill="#1a1a1a">48</text>
<line x1="609.5" y1="482.6" x2="614.5" y2="482.6" stroke="#333" stroke-width="0.9"/>
<text x="615.1" y="486.20000000000005" font-size="9.9" text-anchor="start" fill="#1a1a1a">40</text>
<line x1="609.5" y1="496" x2="614.5" y2="496" stroke="#333" stroke-width="0.9"/>
<text x="615.1" y="499.6" font-size="9.9" text-anchor="start" fill="#1a1a1a">30</text>
<line x1="609.5" y1="513.6" x2="614.5" y2="513.6" stroke="#333" stroke-width="0.9"/>
<text x="615.1" y="517.2" font-size="9.9" text-anchor="start" fill="#1a1a1a">20</text>
<line x1="609.5" y1="534.5" x2="614.5" y2="534.5" stroke="#333" stroke-width="0.9"/>
<text x="615.1" y="538.1" font-size="9.9" text-anchor="start" fill="#1a1a1a">90</text>
<text x="613.5" y="390.8" font-size="9.9" text-anchor="start" fill="#1a1a1a">KD</text>
<line x1="460.8" y1="381.7" x2="506" y2="381.7" stroke="#333" stroke-width="0.9"/>
<text x="482.9" y="379.5" font-size="9.6" text-anchor="middle" fill="#1a1a1a">RT</text>
<line x1="545.8" y1="381.7" x2="590.8" y2="381.7" stroke="#333" stroke-width="0.9"/>
<text x="567.2" y="379.5" font-size="9.6" text-anchor="middle" fill="#1a1a1a">Cold</text>
<line x1="441.5" y1="397.2" x2="479" y2="397.2" stroke="#333" stroke-width="0.9"/>
<text x="461.5" y="395.6" font-size="9.6" text-anchor="middle" fill="#1a1a1a">Flox</text>
<line x1="486" y1="397.2" x2="522.8" y2="397.2" stroke="#333" stroke-width="0.9"/>
<text x="504" y="395.6" font-size="9.6" text-anchor="middle" fill="#1a1a1a">AKO</text>
<line x1="527.4" y1="397.2" x2="564" y2="397.2" stroke="#333" stroke-width="0.9"/>
<text x="545.3" y="395.6" font-size="9.6" text-anchor="middle" fill="#1a1a1a">Flox</text>
<line x1="570.3" y1="397.2" x2="607" y2="397.2" stroke="#333" stroke-width="0.9"/>
<text x="587" y="395.6" font-size="9.6" text-anchor="middle" fill="#1a1a1a">AKO</text>
<line x1="45.5" y1="552.9000000000001" x2="45.5" y2="664.3" stroke="#333" stroke-width="1.0"/>
<line x1="45.0" y1="663.9" x2="295.8" y2="663.9" stroke="#333" stroke-width="1.0"/>
<line x1="40.9" y1="663.9" x2="45.5" y2="663.9" stroke="#333" stroke-width="1.1"/>
<text x="39.5" y="666.9" font-size="10.4" text-anchor="end" fill="#333" textLength="4.85" lengthAdjust="spacingAndGlyphs">0</text>
<line x1="40.9" y1="627.0" x2="45.5" y2="627.0" stroke="#333" stroke-width="1.1"/>
<text x="39.5" y="630.0" font-size="10.4" text-anchor="end" fill="#333" textLength="4.85" lengthAdjust="spacingAndGlyphs">5</text>
<line x1="40.9" y1="590.1" x2="45.5" y2="590.1" stroke="#333" stroke-width="1.1"/>
<text x="39.5" y="593.1" font-size="10.4" text-anchor="end" fill="#333" textLength="9.70" lengthAdjust="spacingAndGlyphs">10</text>
<line x1="40.9" y1="553.2" x2="45.5" y2="553.2" stroke="#333" stroke-width="1.1"/>
<text x="39.5" y="556.2" font-size="10.4" text-anchor="end" fill="#333" textLength="9.70" lengthAdjust="spacingAndGlyphs">15</text>
<path d="M48.75,663.90 V656.52 H54.15 V663.90" fill="#fff" stroke="#1a1a1a" stroke-width="0.9"/>
<line x1="51.449999999999996" y1="655.6344" x2="51.449999999999996" y2="657.4055999999999" stroke="#1a1a1a" stroke-width="0.8"/>
<line x1="49.24999999999999" y1="655.6344" x2="53.65" y2="655.6344" stroke="#1a1a1a" stroke-width="0.8"/>
<line x1="49.24999999999999" y1="657.4055999999999" x2="53.65" y2="657.4055999999999" stroke="#1a1a1a" stroke-width="0.8"/>
<path d="M55.05,663.90 V655.04 H60.45 V663.90" fill="#fff" stroke="#e8383d" stroke-width="0.9"/>
<line x1="57.74999999999999" y1="654.1584" x2="57.74999999999999" y2="655.9295999999999" stroke="#e8383d" stroke-width="0.8"/>
<line x1="55.54999999999999" y1="654.1584" x2="59.949999999999996" y2="654.1584" stroke="#e8383d" stroke-width="0.8"/>
<line x1="55.54999999999999" y1="655.9295999999999" x2="59.949999999999996" y2="655.9295999999999" stroke="#e8383d" stroke-width="0.8"/>
<path d="M61.35,663.90 V651.72 H66.75 V663.90" fill="#fff" stroke="#1a1a1a" stroke-width="0.9"/>
<line x1="64.05" y1="650.26176" x2="64.05" y2="653.1842399999999" stroke="#1a1a1a" stroke-width="0.8"/>
<line x1="61.849999999999994" y1="650.26176" x2="66.25" y2="650.26176" stroke="#1a1a1a" stroke-width="0.8"/>
<line x1="61.849999999999994" y1="653.1842399999999" x2="66.25" y2="653.1842399999999" stroke="#1a1a1a" stroke-width="0.8"/>
<path d="M67.65,663.90 V659.47 H73.05 V663.90" fill="#fff" stroke="#e8383d" stroke-width="0.9"/>
<line x1="70.35" y1="658.5864" x2="70.35" y2="660.3575999999999" stroke="#e8383d" stroke-width="0.8"/>
<line x1="68.14999999999999" y1="658.5864" x2="72.55" y2="658.5864" stroke="#e8383d" stroke-width="0.8"/>
<line x1="68.14999999999999" y1="660.3575999999999" x2="72.55" y2="660.3575999999999" stroke="#e8383d" stroke-width="0.8"/>
<circle cx="50.55" cy="658.73" r="2.0" fill="#1a1a1a"/>
<circle cx="52.35" cy="657.26" r="2.0" fill="#1a1a1a"/>
<circle cx="51.45" cy="656.52" r="2.0" fill="#1a1a1a"/>
<circle cx="56.85" cy="658.00" r="1.60" fill="none" stroke="#e8383d" stroke-width="0.8"/>
<circle cx="58.65" cy="655.04" r="1.60" fill="none" stroke="#e8383d" stroke-width="0.8"/>
<circle cx="57.75" cy="652.83" r="1.60" fill="none" stroke="#e8383d" stroke-width="0.8"/>
<polygon points="63.15,650.95 60.73,655.32 65.56,655.32" fill="#1a1a1a"/>
<polygon points="64.95,649.47 62.54,653.84 67.37,653.84" fill="#1a1a1a"/>
<polygon points="64.05,648.73 61.63,653.10 66.47,653.10" fill="#1a1a1a"/>
<polygon points="69.45,657.96 67.03,662.33 71.86,662.33" fill="none" stroke="#e8383d" stroke-width="0.8"/>
<polygon points="71.25,656.85 68.83,661.22 73.67,661.22" fill="none" stroke="#e8383d" stroke-width="0.8"/>
<polygon points="70.35,656.11 67.93,660.48 72.77,660.48" fill="none" stroke="#e8383d" stroke-width="0.8"/>
<path d="M80.10,663.90 V656.52 H85.50 V663.90" fill="#fff" stroke="#1a1a1a" stroke-width="0.9"/>
<line x1="82.80000000000001" y1="655.6344" x2="82.80000000000001" y2="657.4055999999999" stroke="#1a1a1a" stroke-width="0.8"/>
<line x1="80.60000000000001" y1="655.6344" x2="85.00000000000001" y2="655.6344" stroke="#1a1a1a" stroke-width="0.8"/>
<line x1="80.60000000000001" y1="657.4055999999999" x2="85.00000000000001" y2="657.4055999999999" stroke="#1a1a1a" stroke-width="0.8"/>
<path d="M86.40,663.90 V656.15 H91.80 V663.90" fill="#fff" stroke="#e8383d" stroke-width="0.9"/>
<line x1="89.1" y1="655.2654" x2="89.1" y2="657.0366" stroke="#e8383d" stroke-width="0.8"/>
<line x1="86.89999999999999" y1="655.2654" x2="91.3" y2="655.2654" stroke="#e8383d" stroke-width="0.8"/>
<line x1="86.89999999999999" y1="657.0366" x2="91.3" y2="657.0366" stroke="#e8383d" stroke-width="0.8"/>
<path d="M92.70,663.90 V654.67 H98.10 V663.90" fill="#fff" stroke="#1a1a1a" stroke-width="0.9"/>
<line x1="95.4" y1="653.7894" x2="95.4" y2="655.5606" stroke="#1a1a1a" stroke-width="0.8"/>
<line x1="93.2" y1="653.7894" x2="97.60000000000001" y2="653.7894" stroke="#1a1a1a" stroke-width="0.8"/>
<line x1="93.2" y1="655.5606" x2="97.60000000000001" y2="655.5606" stroke="#1a1a1a" stroke-width="0.8"/>
<path d="M99.00,663.90 V661.32 H104.40 V663.90" fill="#fff" stroke="#e8383d" stroke-width="0.9"/>
<line x1="101.70000000000002" y1="660.4313999999999" x2="101.70000000000002" y2="662.2026" stroke="#e8383d" stroke-width="0.8"/>
<line x1="99.50000000000001" y1="660.4313999999999" x2="103.90000000000002" y2="660.4313999999999" stroke="#e8383d" stroke-width="0.8"/>
<line x1="99.50000000000001" y1="662.2026" x2="103.90000000000002" y2="662.2026" stroke="#e8383d" stroke-width="0.8"/>
<circle cx="81.90" cy="658.00" r="2.0" fill="#1a1a1a"/>
<circle cx="83.70" cy="656.52" r="2.0" fill="#1a1a1a"/>
<circle cx="82.80" cy="655.78" r="2.0" fill="#1a1a1a"/>
<circle cx="88.20" cy="658.73" r="1.60" fill="none" stroke="#e8383d" stroke-width="0.8"/>
<circle cx="90.00" cy="656.52" r="1.60" fill="none" stroke="#e8383d" stroke-width="0.8"/>
<circle cx="89.10" cy="652.83" r="1.60" fill="none" stroke="#e8383d" stroke-width="0.8"/>
<polygon points="94.50,655.37 92.08,659.74 96.92,659.74" fill="#1a1a1a"/>
<polygon points="96.30,652.42 93.89,656.79 98.72,656.79" fill="#1a1a1a"/>
<polygon points="95.40,648.73 92.98,653.10 97.82,653.10" fill="#1a1a1a"/>
<polygon points="100.80,659.43 98.39,663.80 103.22,663.80" fill="none" stroke="#e8383d" stroke-width="0.8"/>
<polygon points="102.60,658.70 100.19,663.07 105.02,663.07" fill="none" stroke="#e8383d" stroke-width="0.8"/>
<polygon points="101.70,657.96 99.29,662.33 104.12,662.33" fill="none" stroke="#e8383d" stroke-width="0.8"/>
<path d="M111.45,663.90 V656.52 H116.85 V663.90" fill="#fff" stroke="#1a1a1a" stroke-width="0.9"/>
<line x1="114.15" y1="655.6344" x2="114.15" y2="657.4055999999999" stroke="#1a1a1a" stroke-width="0.8"/>
<line x1="111.95" y1="655.6344" x2="116.35000000000001" y2="655.6344" stroke="#1a1a1a" stroke-width="0.8"/>
<line x1="111.95" y1="657.4055999999999" x2="116.35000000000001" y2="657.4055999999999" stroke="#1a1a1a" stroke-width="0.8"/>
<path d="M117.75,663.90 V652.09 H123.15 V663.90" fill="#fff" stroke="#e8383d" stroke-width="0.9"/>
<line x1="120.44999999999999" y1="650.67504" x2="120.44999999999999" y2="653.50896" stroke="#e8383d" stroke-width="0.8"/>
<line x1="118.24999999999999" y1="650.67504" x2="122.64999999999999" y2="650.67504" stroke="#e8383d" stroke-width="0.8"/>
<line x1="118.24999999999999" y1="653.50896" x2="122.64999999999999" y2="653.50896" stroke="#e8383d" stroke-width="0.8"/>
<path d="M124.05,663.90 V629.95 H129.45 V663.90" fill="#fff" stroke="#1a1a1a" stroke-width="0.9"/>
<line x1="126.75" y1="625.87824" x2="126.75" y2="634.02576" stroke="#1a1a1a" stroke-width="0.8"/>
<line x1="124.55" y1="625.87824" x2="128.95" y2="625.87824" stroke="#1a1a1a" stroke-width="0.8"/>
<line x1="124.55" y1="634.02576" x2="128.95" y2="634.02576" stroke="#1a1a1a" stroke-width="0.8"/>
<path d="M130.35,663.90 V650.62 H135.75 V663.90" fill="#fff" stroke="#e8383d" stroke-width="0.9"/>
<line x1="133.05" y1="649.02192" x2="133.05" y2="652.21008" stroke="#e8383d" stroke-width="0.8"/>
<line x1="130.85000000000002" y1="649.02192" x2="135.25" y2="649.02192" stroke="#e8383d" stroke-width="0.8"/>
<line x1="130.85000000000002" y1="652.21008" x2="135.25" y2="652.21008" stroke="#e8383d" stroke-width="0.8"/>
<circle cx="113.25" cy="660.95" r="2.0" fill="#1a1a1a"/>
<circle cx="115.05" cy="657.26" r="2.0" fill="#1a1a1a"/>
<circle cx="114.15" cy="651.35" r="2.0" fill="#1a1a1a"/>
<circle cx="119.55" cy="653.57" r="1.60" fill="none" stroke="#e8383d" stroke-width="0.8"/>
<circle cx="121.35" cy="652.09" r="1.60" fill="none" stroke="#e8383d" stroke-width="0.8"/>
<circle cx="120.45" cy="651.35" r="1.60" fill="none" stroke="#e8383d" stroke-width="0.8"/>
<polygon points="125.85,628.81 123.43,633.18 128.26,633.18" fill="#1a1a1a"/>
<polygon points="127.65,627.33 125.23,631.70 130.06,631.70" fill="#1a1a1a"/>
<polygon points="126.75,625.85 124.33,630.22 129.16,630.22" fill="#1a1a1a"/>
<polygon points="132.15,653.90 129.74,658.27 134.56,658.27" fill="none" stroke="#e8383d" stroke-width="0.8"/>
<polygon points="133.95,647.99 131.54,652.36 136.37,652.36" fill="none" stroke="#e8383d" stroke-width="0.8"/>
<polygon points="133.05,642.83 130.64,647.20 135.47,647.20" fill="none" stroke="#e8383d" stroke-width="0.8"/>
<path d="M142.80,663.90 V656.52 H148.20 V663.90" fill="#fff" stroke="#1a1a1a" stroke-width="0.9"/>
<line x1="145.50000000000003" y1="655.6344" x2="145.50000000000003" y2="657.4055999999999" stroke="#1a1a1a" stroke-width="0.8"/>
<line x1="143.30000000000004" y1="655.6344" x2="147.70000000000002" y2="655.6344" stroke="#1a1a1a" stroke-width="0.8"/>
<line x1="143.30000000000004" y1="657.4055999999999" x2="147.70000000000002" y2="657.4055999999999" stroke="#1a1a1a" stroke-width="0.8"/>
<path d="M149.10,663.90 V652.83 H154.50 V663.90" fill="#fff" stroke="#e8383d" stroke-width="0.9"/>
<line x1="151.80000000000004" y1="651.9444" x2="151.80000000000004" y2="653.7156" stroke="#e8383d" stroke-width="0.8"/>
<line x1="149.60000000000005" y1="651.9444" x2="154.00000000000003" y2="651.9444" stroke="#e8383d" stroke-width="0.8"/>
<line x1="149.60000000000005" y1="653.7156" x2="154.00000000000003" y2="653.7156" stroke="#e8383d" stroke-width="0.8"/>
<path d="M155.40,663.90 V648.77 H160.80 V663.90" fill="#fff" stroke="#1a1a1a" stroke-width="0.9"/>
<line x1="158.10000000000002" y1="646.95552" x2="158.10000000000002" y2="650.5864799999999" stroke="#1a1a1a" stroke-width="0.8"/>
<line x1="155.90000000000003" y1="646.95552" x2="160.3" y2="646.95552" stroke="#1a1a1a" stroke-width="0.8"/>
<line x1="155.90000000000003" y1="650.5864799999999" x2="160.3" y2="650.5864799999999" stroke="#1a1a1a" stroke-width="0.8"/>
<path d="M161.70,663.90 V655.41 H167.10 V663.90" fill="#fff" stroke="#e8383d" stroke-width="0.9"/>
<line x1="164.40000000000003" y1="654.5274" x2="164.40000000000003" y2="656.2986" stroke="#e8383d" stroke-width="0.8"/>
<line x1="162.20000000000005" y1="654.5274" x2="166.60000000000002" y2="654.5274" stroke="#e8383d" stroke-width="0.8"/>
<line x1="162.20000000000005" y1="656.2986" x2="166.60000000000002" y2="656.2986" stroke="#e8383d" stroke-width="0.8"/>
<circle cx="144.60" cy="657.26" r="2.0" fill="#1a1a1a"/>
<circle cx="146.40" cy="656.52" r="2.0" fill="#1a1a1a"/>
<circle cx="145.50" cy="656.15" r="2.0" fill="#1a1a1a"/>
<circle cx="150.90" cy="652.83" r="1.60" fill="none" stroke="#e8383d" stroke-width="0.8"/>
<circle cx="152.70" cy="652.83" r="1.60" fill="none" stroke="#e8383d" stroke-width="0.8"/>
<circle cx="151.80" cy="652.09" r="1.60" fill="none" stroke="#e8383d" stroke-width="0.8"/>
<polygon points="157.20,647.26 154.79,651.63 159.62,651.63" fill="#1a1a1a"/>
<polygon points="159.00,645.78 156.59,650.15 161.42,650.15" fill="#1a1a1a"/>
<polygon points="158.10,644.30 155.69,648.67 160.52,648.67" fill="#1a1a1a"/>
<polygon points="163.50,655.37 161.09,659.74 165.92,659.74" fill="none" stroke="#e8383d" stroke-width="0.8"/>
<polygon points="165.30,652.42 162.89,656.79 167.72,656.79" fill="none" stroke="#e8383d" stroke-width="0.8"/>
<polygon points="164.40,650.21 161.99,654.58 166.82,654.58" fill="none" stroke="#e8383d" stroke-width="0.8"/>
<path d="M174.15,663.90 V656.52 H179.55 V663.90" fill="#fff" stroke="#1a1a1a" stroke-width="0.9"/>
<line x1="176.85" y1="655.6344" x2="176.85" y2="657.4055999999999" stroke="#1a1a1a" stroke-width="0.8"/>
<line x1="174.65" y1="655.6344" x2="179.04999999999998" y2="655.6344" stroke="#1a1a1a" stroke-width="0.8"/>
<line x1="174.65" y1="657.4055999999999" x2="179.04999999999998" y2="657.4055999999999" stroke="#1a1a1a" stroke-width="0.8"/>
<path d="M180.45,663.90 V658.00 H185.85 V663.90" fill="#fff" stroke="#e8383d" stroke-width="0.9"/>
<line x1="183.15" y1="657.1104" x2="183.15" y2="658.8815999999999" stroke="#e8383d" stroke-width="0.8"/>
<line x1="180.95000000000002" y1="657.1104" x2="185.35" y2="657.1104" stroke="#e8383d" stroke-width="0.8"/>
<line x1="180.95000000000002" y1="658.8815999999999" x2="185.35" y2="658.8815999999999" stroke="#e8383d" stroke-width="0.8"/>
<path d="M186.75,663.90 V627.00 H192.15 V663.90" fill="#fff" stroke="#1a1a1a" stroke-width="0.9"/>
<line x1="189.45" y1="622.572" x2="189.45" y2="631.428" stroke="#1a1a1a" stroke-width="0.8"/>
<line x1="187.25" y1="622.572" x2="191.64999999999998" y2="622.572" stroke="#1a1a1a" stroke-width="0.8"/>
<line x1="187.25" y1="631.428" x2="191.64999999999998" y2="631.428" stroke="#1a1a1a" stroke-width="0.8"/>
<path d="M193.05,663.90 V649.14 H198.45 V663.90" fill="#fff" stroke="#e8383d" stroke-width="0.9"/>
<line x1="195.75" y1="647.3688" x2="195.75" y2="650.9112" stroke="#e8383d" stroke-width="0.8"/>
<line x1="193.55" y1="647.3688" x2="197.95" y2="647.3688" stroke="#e8383d" stroke-width="0.8"/>
<line x1="193.55" y1="650.9112" x2="197.95" y2="650.9112" stroke="#e8383d" stroke-width="0.8"/>
<circle cx="175.95" cy="660.21" r="2.0" fill="#1a1a1a"/>
<circle cx="177.75" cy="659.47" r="2.0" fill="#1a1a1a"/>
<circle cx="176.85" cy="650.62" r="2.0" fill="#1a1a1a"/>
<circle cx="182.25" cy="657.26" r="1.60" fill="none" stroke="#e8383d" stroke-width="0.8"/>
<circle cx="184.05" cy="657.26" r="1.60" fill="none" stroke="#e8383d" stroke-width="0.8"/>
<circle cx="183.15" cy="656.52" r="1.60" fill="none" stroke="#e8383d" stroke-width="0.8"/>
<polygon points="188.55,624.38 186.13,628.75 190.96,628.75" fill="#1a1a1a"/>
<polygon points="190.35,624.38 187.94,628.75 192.76,628.75" fill="#1a1a1a"/>
<polygon points="189.45,617.74 187.03,622.11 191.86,622.11" fill="#1a1a1a"/>
<polygon points="194.85,650.21 192.44,654.58 197.26,654.58" fill="none" stroke="#e8383d" stroke-width="0.8"/>
<polygon points="196.65,646.52 194.24,650.89 199.06,650.89" fill="none" stroke="#e8383d" stroke-width="0.8"/>
<polygon points="195.75,642.83 193.34,647.20 198.16,647.20" fill="none" stroke="#e8383d" stroke-width="0.8"/>
<path d="M205.50,663.90 V656.52 H210.90 V663.90" fill="#fff" stroke="#1a1a1a" stroke-width="0.9"/>
<line x1="208.20000000000002" y1="655.6344" x2="208.20000000000002" y2="657.4055999999999" stroke="#1a1a1a" stroke-width="0.8"/>
<line x1="206.00000000000003" y1="655.6344" x2="210.4" y2="655.6344" stroke="#1a1a1a" stroke-width="0.8"/>
<line x1="206.00000000000003" y1="657.4055999999999" x2="210.4" y2="657.4055999999999" stroke="#1a1a1a" stroke-width="0.8"/>
<path d="M211.80,663.90 V646.93 H217.20 V663.90" fill="#fff" stroke="#e8383d" stroke-width="0.9"/>
<line x1="214.50000000000003" y1="644.88912" x2="214.50000000000003" y2="648.96288" stroke="#e8383d" stroke-width="0.8"/>
<line x1="212.30000000000004" y1="644.88912" x2="216.70000000000002" y2="644.88912" stroke="#e8383d" stroke-width="0.8"/>
<line x1="212.30000000000004" y1="648.96288" x2="216.70000000000002" y2="648.96288" stroke="#e8383d" stroke-width="0.8"/>
<path d="M218.10,663.90 V607.81 H223.50 V663.90" fill="#fff" stroke="#1a1a1a" stroke-width="0.9"/>
<line x1="220.8" y1="601.08144" x2="220.8" y2="614.54256" stroke="#1a1a1a" stroke-width="0.8"/>
<line x1="218.60000000000002" y1="601.08144" x2="223.0" y2="601.08144" stroke="#1a1a1a" stroke-width="0.8"/>
<line x1="218.60000000000002" y1="614.54256" x2="223.0" y2="614.54256" stroke="#1a1a1a" stroke-width="0.8"/>
<path d="M224.40,663.90 V630.69 H229.80 V663.90" fill="#fff" stroke="#e8383d" stroke-width="0.9"/>
<line x1="227.10000000000002" y1="626.7048" x2="227.10000000000002" y2="634.6752" stroke="#e8383d" stroke-width="0.8"/>
<line x1="224.90000000000003" y1="626.7048" x2="229.3" y2="626.7048" stroke="#e8383d" stroke-width="0.8"/>
<line x1="224.90000000000003" y1="634.6752" x2="229.3" y2="634.6752" stroke="#e8383d" stroke-width="0.8"/>
<circle cx="207.30" cy="660.21" r="2.0" fill="#1a1a1a"/>
<circle cx="209.10" cy="658.00" r="2.0" fill="#1a1a1a"/>
<circle cx="208.20" cy="654.31" r="2.0" fill="#1a1a1a"/>
<circle cx="213.60" cy="652.09" r="1.60" fill="none" stroke="#e8383d" stroke-width="0.8"/>
<circle cx="215.40" cy="646.93" r="1.60" fill="none" stroke="#e8383d" stroke-width="0.8"/>
<circle cx="214.50" cy="642.50" r="1.60" fill="none" stroke="#e8383d" stroke-width="0.8"/>
<polygon points="219.90,618.47 217.49,622.84 222.31,622.84" fill="#1a1a1a"/>
<polygon points="221.70,597.81 219.29,602.18 224.12,602.18" fill="#1a1a1a"/>
<polygon points="220.80,594.86 218.39,599.23 223.22,599.23" fill="#1a1a1a"/>
<polygon points="226.20,628.81 223.79,633.18 228.62,633.18" fill="none" stroke="#e8383d" stroke-width="0.8"/>
<polygon points="228.00,627.33 225.59,631.70 230.42,631.70" fill="none" stroke="#e8383d" stroke-width="0.8"/>
<polygon points="227.10,626.59 224.69,630.96 229.52,630.96" fill="none" stroke="#e8383d" stroke-width="0.8"/>
<path d="M236.85,663.90 V656.52 H242.25 V663.90" fill="#fff" stroke="#1a1a1a" stroke-width="0.9"/>
<line x1="239.55000000000004" y1="655.6344" x2="239.55000000000004" y2="657.4055999999999" stroke="#1a1a1a" stroke-width="0.8"/>
<line x1="237.35000000000005" y1="655.6344" x2="241.75000000000003" y2="655.6344" stroke="#1a1a1a" stroke-width="0.8"/>
<line x1="237.35000000000005" y1="657.4055999999999" x2="241.75000000000003" y2="657.4055999999999" stroke="#1a1a1a" stroke-width="0.8"/>
<path d="M243.15,663.90 V645.45 H248.55 V663.90" fill="#fff" stroke="#e8383d" stroke-width="0.9"/>
<line x1="245.85000000000005" y1="643.236" x2="245.85000000000005" y2="647.664" stroke="#e8383d" stroke-width="0.8"/>
<line x1="243.65000000000006" y1="643.236" x2="248.05000000000004" y2="643.236" stroke="#e8383d" stroke-width="0.8"/>
<line x1="243.65000000000006" y1="647.664" x2="248.05000000000004" y2="647.664" stroke="#e8383d" stroke-width="0.8"/>
<path d="M249.45,663.90 V607.81 H254.85 V663.90" fill="#fff" stroke="#1a1a1a" stroke-width="0.9"/>
<line x1="252.15000000000003" y1="601.08144" x2="252.15000000000003" y2="614.54256" stroke="#1a1a1a" stroke-width="0.8"/>
<line x1="249.95000000000005" y1="601.08144" x2="254.35000000000002" y2="601.08144" stroke="#1a1a1a" stroke-width="0.8"/>
<line x1="249.95000000000005" y1="614.54256" x2="254.35000000000002" y2="614.54256" stroke="#1a1a1a" stroke-width="0.8"/>
<path d="M255.75,663.90 V617.41 H261.15 V663.90" fill="#fff" stroke="#e8383d" stroke-width="0.9"/>
<line x1="258.45000000000005" y1="611.82672" x2="258.45000000000005" y2="622.98528" stroke="#e8383d" stroke-width="0.8"/>
<line x1="256.25000000000006" y1="611.82672" x2="260.65000000000003" y2="611.82672" stroke="#e8383d" stroke-width="0.8"/>
<line x1="256.25000000000006" y1="622.98528" x2="260.65000000000003" y2="622.98528" stroke="#e8383d" stroke-width="0.8"/>
<circle cx="238.65" cy="658.73" r="2.0" fill="#1a1a1a"/>
<circle cx="240.45" cy="657.26" r="2.0" fill="#1a1a1a"/>
<circle cx="239.55" cy="654.31" r="2.0" fill="#1a1a1a"/>
<circle cx="244.95" cy="652.09" r="1.60" fill="none" stroke="#e8383d" stroke-width="0.8"/>
<circle cx="246.75" cy="646.19" r="1.60" fill="none" stroke="#e8383d" stroke-width="0.8"/>
<circle cx="245.85" cy="639.55" r="1.60" fill="none" stroke="#e8383d" stroke-width="0.8"/>
<polygon points="251.25,619.95 248.84,624.32 253.67,624.32" fill="#1a1a1a"/>
<polygon points="253.05,605.93 250.64,610.30 255.47,610.30" fill="#1a1a1a"/>
<polygon points="252.15,588.22 249.74,592.59 254.57,592.59" fill="#1a1a1a"/>
<polygon points="257.55,622.90 255.14,627.27 259.97,627.27" fill="none" stroke="#e8383d" stroke-width="0.8"/>
<polygon points="259.35,616.26 256.94,620.63 261.77,620.63" fill="none" stroke="#e8383d" stroke-width="0.8"/>
<polygon points="258.45,600.76 256.04,605.13 260.87,605.13" fill="none" stroke="#e8383d" stroke-width="0.8"/>
<path d="M268.20,663.90 V656.52 H273.60 V663.90" fill="#fff" stroke="#1a1a1a" stroke-width="0.9"/>
<line x1="270.9" y1="655.6344" x2="270.9" y2="657.4055999999999" stroke="#1a1a1a" stroke-width="0.8"/>
<line x1="268.7" y1="655.6344" x2="273.09999999999997" y2="655.6344" stroke="#1a1a1a" stroke-width="0.8"/>
<line x1="268.7" y1="657.4055999999999" x2="273.09999999999997" y2="657.4055999999999" stroke="#1a1a1a" stroke-width="0.8"/>
<path d="M274.50,663.90 V654.31 H279.90 V663.90" fill="#fff" stroke="#e8383d" stroke-width="0.9"/>
<line x1="277.20000000000005" y1="653.4204" x2="277.20000000000005" y2="655.1916" stroke="#e8383d" stroke-width="0.8"/>
<line x1="275.00000000000006" y1="653.4204" x2="279.40000000000003" y2="653.4204" stroke="#e8383d" stroke-width="0.8"/>
<line x1="275.00000000000006" y1="655.1916" x2="279.40000000000003" y2="655.1916" stroke="#e8383d" stroke-width="0.8"/>
<path d="M280.80,663.90 V576.08 H286.20 V663.90" fill="#fff" stroke="#1a1a1a" stroke-width="0.9"/>
<line x1="283.5" y1="565.53936" x2="283.5" y2="586.61664" stroke="#1a1a1a" stroke-width="0.8"/>
<line x1="281.3" y1="565.53936" x2="285.7" y2="565.53936" stroke="#1a1a1a" stroke-width="0.8"/>
<line x1="281.3" y1="586.61664" x2="285.7" y2="586.61664" stroke="#1a1a1a" stroke-width="0.8"/>
<path d="M287.10,663.90 V646.93 H292.50 V663.90" fill="#fff" stroke="#e8383d" stroke-width="0.9"/>
<line x1="289.79999999999995" y1="644.88912" x2="289.79999999999995" y2="648.96288" stroke="#e8383d" stroke-width="0.8"/>
<line x1="287.59999999999997" y1="644.88912" x2="291.99999999999994" y2="644.88912" stroke="#e8383d" stroke-width="0.8"/>
<line x1="287.59999999999997" y1="648.96288" x2="291.99999999999994" y2="648.96288" stroke="#e8383d" stroke-width="0.8"/>
<circle cx="270.00" cy="658.00" r="2.0" fill="#1a1a1a"/>
<circle cx="271.80" cy="656.52" r="2.0" fill="#1a1a1a"/>
<circle cx="270.90" cy="655.04" r="2.0" fill="#1a1a1a"/>
<circle cx="276.30" cy="655.78" r="1.60" fill="none" stroke="#e8383d" stroke-width="0.8"/>
<circle cx="278.10" cy="654.31" r="1.60" fill="none" stroke="#e8383d" stroke-width="0.8"/>
<circle cx="277.20" cy="653.57" r="1.60" fill="none" stroke="#e8383d" stroke-width="0.8"/>
<polygon points="282.60,580.10 280.19,584.47 285.02,584.47" fill="#1a1a1a"/>
<polygon points="284.40,570.50 281.98,574.87 286.81,574.87" fill="#1a1a1a"/>
<polygon points="283.50,566.81 281.08,571.18 285.92,571.18" fill="#1a1a1a"/>
<polygon points="288.90,650.21 286.48,654.58 291.31,654.58" fill="none" stroke="#e8383d" stroke-width="0.8"/>
<polygon points="290.70,645.04 288.28,649.41 293.11,649.41" fill="none" stroke="#e8383d" stroke-width="0.8"/>
<polygon points="289.80,639.14 287.38,643.51 292.21,643.51" fill="none" stroke="#e8383d" stroke-width="0.8"/>
<line x1="61.2" y1="643.5" x2="74.3" y2="643.5" stroke="#555" stroke-width="0.9"/>
<text x="48.8" y="641.6" font-size="8.6" text-anchor="start" fill="#333">P=0.0005</text>
<line x1="93.3" y1="647.4" x2="104.2" y2="647.4" stroke="#555" stroke-width="0.9"/>
<text x="87" y="644.5" font-size="8.6" text-anchor="start" fill="#333">P=0.028</text>
<line x1="123.5" y1="624.8" x2="136.6" y2="624.8" stroke="#555" stroke-width="0.9"/>
<text x="118.4" y="622.6" font-size="8.6" text-anchor="start" fill="#333">P=0.0043</text>
<line x1="154.8" y1="641.3" x2="167.2" y2="641.3" stroke="#555" stroke-width="0.9"/>
<text x="141.9" y="639.3" font-size="8.6" text-anchor="start" fill="#333">P=0.0098</text>
<line x1="183.4" y1="615.2" x2="198.3" y2="615.2" stroke="#555" stroke-width="0.9"/>
<text x="170.5" y="613.5" font-size="8.6" text-anchor="start" fill="#333">P=0.0023</text>
<line x1="216.9" y1="591.4" x2="229.3" y2="591.4" stroke="#555" stroke-width="0.9"/>
<text x="206.4" y="589.6" font-size="8.6" text-anchor="start" fill="#333">P=0.043</text>
<line x1="280.2" y1="562.8" x2="292.6" y2="562.8" stroke="#555" stroke-width="0.9"/>
<text x="272" y="561.1" font-size="8.6" text-anchor="start" fill="#333">P=0.0005</text>
<circle cx="57.10" cy="556.90" r="1.7" fill="#1a1a1a"/>
<text x="61.300000000000004" y="560.0" font-size="8.5" text-anchor="start" fill="#222">RT <tspan font-style="italic">+/+</tspan></text>
<circle cx="57.10" cy="565.30" r="1.35" fill="none" stroke="#e8383d" stroke-width="0.7"/>
<text x="61.300000000000004" y="568.4" font-size="8.5" text-anchor="start" fill="#222">RT <tspan font-style="italic">Pnpla7<tspan font-size="5.8" dy="-3">Tg</tspan></tspan></text>
<polygon points="57.10,573.26 55.32,576.49 58.88,576.49" fill="#1a1a1a"/>
<text x="61.300000000000004" y="578.3000000000001" font-size="8.5" text-anchor="start" fill="#222">Cold +/+</text>
<polygon points="57.10,583.96 55.32,587.19 58.88,587.19" fill="none" stroke="#e8383d" stroke-width="0.7"/>
<text x="61.300000000000004" y="589.0" font-size="8.5" text-anchor="start" fill="#222">Cold <tspan font-style="italic">Pnpla7<tspan font-size="5.8" dy="-3">Tg</tspan></tspan></text>
<text x="26.5" y="605.8" font-size="9.8" text-anchor="middle" fill="#333" transform="rotate(-90 26.5 605.8)">Relative protein level</text>
<text x="67.4" y="669.1999999999999" font-size="10" text-anchor="end" fill="#222" transform="rotate(-45 67.4 669.1999999999999)">MFN1</text>
<text x="98.75" y="669.1999999999999" font-size="10" text-anchor="end" fill="#222" transform="rotate(-45 98.75 669.1999999999999)">MFN2</text>
<text x="130.1" y="669.1999999999999" font-size="10" text-anchor="end" fill="#222" transform="rotate(-45 130.1 669.1999999999999)">TOM20</text>
<text x="161.45000000000002" y="669.1999999999999" font-size="10" text-anchor="end" fill="#222" transform="rotate(-45 161.45000000000002 669.1999999999999)">CV-ATP5A</text>
<text x="192.79999999999998" y="669.1999999999999" font-size="10" text-anchor="end" fill="#222" transform="rotate(-45 192.79999999999998 669.1999999999999)">CIII-UQCRC2</text>
<text x="224.15" y="669.1999999999999" font-size="10" text-anchor="end" fill="#222" transform="rotate(-45 224.15 669.1999999999999)">CIV-MTCO1</text>
<text x="255.50000000000003" y="669.1999999999999" font-size="10" text-anchor="end" fill="#222" transform="rotate(-45 255.50000000000003 669.1999999999999)">CII-SDHB</text>
<text x="286.85" y="669.1999999999999" font-size="10" text-anchor="end" fill="#222" transform="rotate(-45 286.85 669.1999999999999)">CI-NDUFB8</text>
<line x1="385.4" y1="551.4000000000001" x2="385.4" y2="663.3" stroke="#333" stroke-width="1.0"/>
<line x1="384.9" y1="662.9" x2="635.9" y2="662.9" stroke="#333" stroke-width="1.0"/>
<line x1="380.79999999999995" y1="662.9" x2="385.4" y2="662.9" stroke="#333" stroke-width="1.1"/>
<text x="379.4" y="665.9" font-size="10.4" text-anchor="end" fill="#333" textLength="4.85" lengthAdjust="spacingAndGlyphs">0</text>
<line x1="380.79999999999995" y1="635.1" x2="385.4" y2="635.1" stroke="#333" stroke-width="1.1"/>
<text x="379.4" y="638.1" font-size="10.4" text-anchor="end" fill="#333" textLength="4.85" lengthAdjust="spacingAndGlyphs">5</text>
<line x1="380.79999999999995" y1="607.3" x2="385.4" y2="607.3" stroke="#333" stroke-width="1.1"/>
<text x="379.4" y="610.3" font-size="10.4" text-anchor="end" fill="#333" textLength="9.70" lengthAdjust="spacingAndGlyphs">10</text>
<line x1="380.79999999999995" y1="579.5" x2="385.4" y2="579.5" stroke="#333" stroke-width="1.1"/>
<text x="379.4" y="582.5" font-size="10.4" text-anchor="end" fill="#333" textLength="9.70" lengthAdjust="spacingAndGlyphs">15</text>
<line x1="380.79999999999995" y1="551.7" x2="385.4" y2="551.7" stroke="#333" stroke-width="1.1"/>
<text x="379.4" y="554.7" font-size="10.4" text-anchor="end" fill="#333" textLength="9.70" lengthAdjust="spacingAndGlyphs">20</text>
<path d="M389.05,662.90 V657.34 H394.45 V662.90" fill="#fff" stroke="#1a1a1a" stroke-width="0.9"/>
<line x1="391.75" y1="656.6727999999999" x2="391.75" y2="658.0072" stroke="#1a1a1a" stroke-width="0.8"/>
<line x1="389.55" y1="656.6727999999999" x2="393.95" y2="656.6727999999999" stroke="#1a1a1a" stroke-width="0.8"/>
<line x1="389.55" y1="658.0072" x2="393.95" y2="658.0072" stroke="#1a1a1a" stroke-width="0.8"/>
<path d="M395.35,662.90 V660.68 H400.75 V662.90" fill="#fff" stroke="#27a9e1" stroke-width="0.9"/>
<line x1="398.05000000000007" y1="660.0088" x2="398.05000000000007" y2="661.3432" stroke="#27a9e1" stroke-width="0.8"/>
<line x1="395.8500000000001" y1="660.0088" x2="400.25000000000006" y2="660.0088" stroke="#27a9e1" stroke-width="0.8"/>
<line x1="395.8500000000001" y1="661.3432" x2="400.25000000000006" y2="661.3432" stroke="#27a9e1" stroke-width="0.8"/>
<path d="M401.65,662.90 V647.33 H407.05 V662.90" fill="#fff" stroke="#1a1a1a" stroke-width="0.9"/>
<line x1="404.35" y1="645.46384" x2="404.35" y2="649.20016" stroke="#1a1a1a" stroke-width="0.8"/>
<line x1="402.15000000000003" y1="645.46384" x2="406.55" y2="645.46384" stroke="#1a1a1a" stroke-width="0.8"/>
<line x1="402.15000000000003" y1="649.20016" x2="406.55" y2="649.20016" stroke="#1a1a1a" stroke-width="0.8"/>
<path d="M407.95,662.90 V637.32 H413.35 V662.90" fill="#fff" stroke="#27a9e1" stroke-width="0.9"/>
<line x1="410.65" y1="634.25488" x2="410.65" y2="640.39312" stroke="#27a9e1" stroke-width="0.8"/>
<line x1="408.45" y1="634.25488" x2="412.84999999999997" y2="634.25488" stroke="#27a9e1" stroke-width="0.8"/>
<line x1="408.45" y1="640.39312" x2="412.84999999999997" y2="640.39312" stroke="#27a9e1" stroke-width="0.8"/>
<circle cx="390.85" cy="659.56" r="2.0" fill="#1a1a1a"/>
<circle cx="392.65" cy="657.90" r="2.0" fill="#1a1a1a"/>
<circle cx="391.75" cy="654.00" r="2.0" fill="#1a1a1a"/>
<circle cx="397.15" cy="661.79" r="1.60" fill="none" stroke="#27a9e1" stroke-width="0.8"/>
<circle cx="398.95" cy="660.68" r="1.60" fill="none" stroke="#27a9e1" stroke-width="0.8"/>
<circle cx="398.05" cy="659.01" r="1.60" fill="none" stroke="#27a9e1" stroke-width="0.8"/>
<polygon points="403.45,651.38 401.04,655.75 405.87,655.75" fill="#1a1a1a"/>
<polygon points="405.25,644.71 402.83,649.08 407.67,649.08" fill="#1a1a1a"/>
<polygon points="404.35,640.82 401.94,645.19 406.77,645.19" fill="#1a1a1a"/>
<polygon points="409.75,635.26 407.33,639.63 412.17,639.63" fill="none" stroke="#27a9e1" stroke-width="0.8"/>
<polygon points="411.55,634.15 409.13,638.52 413.96,638.52" fill="none" stroke="#27a9e1" stroke-width="0.8"/>
<polygon points="410.65,632.48 408.23,636.85 413.06,636.85" fill="none" stroke="#27a9e1" stroke-width="0.8"/>
<path d="M420.25,662.90 V657.34 H425.65 V662.90" fill="#fff" stroke="#1a1a1a" stroke-width="0.9"/>
<line x1="422.95000000000005" y1="656.6727999999999" x2="422.95000000000005" y2="658.0072" stroke="#1a1a1a" stroke-width="0.8"/>
<line x1="420.75000000000006" y1="656.6727999999999" x2="425.15000000000003" y2="656.6727999999999" stroke="#1a1a1a" stroke-width="0.8"/>
<line x1="420.75000000000006" y1="658.0072" x2="425.15000000000003" y2="658.0072" stroke="#1a1a1a" stroke-width="0.8"/>
<path d="M426.55,662.90 V657.90 H431.95 V662.90" fill="#fff" stroke="#27a9e1" stroke-width="0.9"/>
<line x1="429.25" y1="657.2288" x2="429.25" y2="658.5631999999999" stroke="#27a9e1" stroke-width="0.8"/>
<line x1="427.05" y1="657.2288" x2="431.45" y2="657.2288" stroke="#27a9e1" stroke-width="0.8"/>
<line x1="427.05" y1="658.5631999999999" x2="431.45" y2="658.5631999999999" stroke="#27a9e1" stroke-width="0.8"/>
<path d="M432.85,662.90 V646.22 H438.25 V662.90" fill="#fff" stroke="#1a1a1a" stroke-width="0.9"/>
<line x1="435.55000000000007" y1="644.2184" x2="435.55000000000007" y2="648.2216" stroke="#1a1a1a" stroke-width="0.8"/>
<line x1="433.3500000000001" y1="644.2184" x2="437.75000000000006" y2="644.2184" stroke="#1a1a1a" stroke-width="0.8"/>
<line x1="433.3500000000001" y1="648.2216" x2="437.75000000000006" y2="648.2216" stroke="#1a1a1a" stroke-width="0.8"/>
<path d="M439.15,662.90 V635.10 H444.55 V662.90" fill="#fff" stroke="#27a9e1" stroke-width="0.9"/>
<line x1="441.85" y1="631.764" x2="441.85" y2="638.436" stroke="#27a9e1" stroke-width="0.8"/>
<line x1="439.65000000000003" y1="631.764" x2="444.05" y2="631.764" stroke="#27a9e1" stroke-width="0.8"/>
<line x1="439.65000000000003" y1="638.436" x2="444.05" y2="638.436" stroke="#27a9e1" stroke-width="0.8"/>
<circle cx="422.05" cy="659.01" r="2.0" fill="#1a1a1a"/>
<circle cx="423.85" cy="657.34" r="2.0" fill="#1a1a1a"/>
<circle cx="422.95" cy="655.67" r="2.0" fill="#1a1a1a"/>
<circle cx="428.35" cy="660.12" r="1.60" fill="none" stroke="#27a9e1" stroke-width="0.8"/>
<circle cx="430.15" cy="657.90" r="1.60" fill="none" stroke="#27a9e1" stroke-width="0.8"/>
<circle cx="429.25" cy="655.67" r="1.60" fill="none" stroke="#27a9e1" stroke-width="0.8"/>
<polygon points="434.65,644.71 432.24,649.08 437.07,649.08" fill="#1a1a1a"/>
<polygon points="436.45,643.60 434.03,647.97 438.87,647.97" fill="#1a1a1a"/>
<polygon points="435.55,641.93 433.13,646.30 437.97,646.30" fill="#1a1a1a"/>
<polygon points="440.95,633.59 438.53,637.96 443.37,637.96" fill="none" stroke="#27a9e1" stroke-width="0.8"/>
<polygon points="442.75,632.48 440.33,636.85 445.16,636.85" fill="none" stroke="#27a9e1" stroke-width="0.8"/>
<polygon points="441.85,631.37 439.43,635.74 444.26,635.74" fill="none" stroke="#27a9e1" stroke-width="0.8"/>
<path d="M451.45,662.90 V657.34 H456.85 V662.90" fill="#fff" stroke="#1a1a1a" stroke-width="0.9"/>
<line x1="454.15" y1="656.6727999999999" x2="454.15" y2="658.0072" stroke="#1a1a1a" stroke-width="0.8"/>
<line x1="451.95" y1="656.6727999999999" x2="456.34999999999997" y2="656.6727999999999" stroke="#1a1a1a" stroke-width="0.8"/>
<line x1="451.95" y1="658.0072" x2="456.34999999999997" y2="658.0072" stroke="#1a1a1a" stroke-width="0.8"/>
<path d="M457.75,662.90 V657.90 H463.15 V662.90" fill="#fff" stroke="#27a9e1" stroke-width="0.9"/>
<line x1="460.45000000000005" y1="657.2288" x2="460.45000000000005" y2="658.5631999999999" stroke="#27a9e1" stroke-width="0.8"/>
<line x1="458.25000000000006" y1="657.2288" x2="462.65000000000003" y2="657.2288" stroke="#27a9e1" stroke-width="0.8"/>
<line x1="458.25000000000006" y1="658.5631999999999" x2="462.65000000000003" y2="658.5631999999999" stroke="#27a9e1" stroke-width="0.8"/>
<path d="M464.05,662.90 V641.22 H469.45 V662.90" fill="#fff" stroke="#1a1a1a" stroke-width="0.9"/>
<line x1="466.75" y1="638.61392" x2="466.75" y2="643.81808" stroke="#1a1a1a" stroke-width="0.8"/>
<line x1="464.55" y1="638.61392" x2="468.95" y2="638.61392" stroke="#1a1a1a" stroke-width="0.8"/>
<line x1="464.55" y1="643.81808" x2="468.95" y2="643.81808" stroke="#1a1a1a" stroke-width="0.8"/>
<path d="M470.35,662.90 V626.76 H475.75 V662.90" fill="#fff" stroke="#27a9e1" stroke-width="0.9"/>
<line x1="473.04999999999995" y1="622.4232" x2="473.04999999999995" y2="631.0968" stroke="#27a9e1" stroke-width="0.8"/>
<line x1="470.84999999999997" y1="622.4232" x2="475.24999999999994" y2="622.4232" stroke="#27a9e1" stroke-width="0.8"/>
<line x1="470.84999999999997" y1="631.0968" x2="475.24999999999994" y2="631.0968" stroke="#27a9e1" stroke-width="0.8"/>
<circle cx="453.25" cy="657.90" r="2.0" fill="#1a1a1a"/>
<circle cx="455.05" cy="657.34" r="2.0" fill="#1a1a1a"/>
<circle cx="454.15" cy="657.34" r="2.0" fill="#1a1a1a"/>
<circle cx="459.55" cy="660.12" r="1.60" fill="none" stroke="#27a9e1" stroke-width="0.8"/>
<circle cx="461.35" cy="658.45" r="1.60" fill="none" stroke="#27a9e1" stroke-width="0.8"/>
<circle cx="460.45" cy="655.67" r="1.60" fill="none" stroke="#27a9e1" stroke-width="0.8"/>
<polygon points="465.85,646.38 463.44,650.75 468.27,650.75" fill="#1a1a1a"/>
<polygon points="467.65,640.82 465.23,645.19 470.06,645.19" fill="#1a1a1a"/>
<polygon points="466.75,634.70 464.33,639.07 469.17,639.07" fill="#1a1a1a"/>
<polygon points="472.15,626.92 469.73,631.29 474.56,631.29" fill="none" stroke="#27a9e1" stroke-width="0.8"/>
<polygon points="473.95,624.14 471.53,628.51 476.36,628.51" fill="none" stroke="#27a9e1" stroke-width="0.8"/>
<polygon points="473.05,620.25 470.63,624.62 475.46,624.62" fill="none" stroke="#27a9e1" stroke-width="0.8"/>
<path d="M482.65,662.90 V657.34 H488.05 V662.90" fill="#fff" stroke="#1a1a1a" stroke-width="0.9"/>
<line x1="485.35" y1="656.6727999999999" x2="485.35" y2="658.0072" stroke="#1a1a1a" stroke-width="0.8"/>
<line x1="483.15000000000003" y1="656.6727999999999" x2="487.55" y2="656.6727999999999" stroke="#1a1a1a" stroke-width="0.8"/>
<line x1="483.15000000000003" y1="658.0072" x2="487.55" y2="658.0072" stroke="#1a1a1a" stroke-width="0.8"/>
<path d="M488.95,662.90 V656.78 H494.35 V662.90" fill="#fff" stroke="#27a9e1" stroke-width="0.9"/>
<line x1="491.6500000000001" y1="656.1168" x2="491.6500000000001" y2="657.4512" stroke="#27a9e1" stroke-width="0.8"/>
<line x1="489.4500000000001" y1="656.1168" x2="493.8500000000001" y2="656.1168" stroke="#27a9e1" stroke-width="0.8"/>
<line x1="489.4500000000001" y1="657.4512" x2="493.8500000000001" y2="657.4512" stroke="#27a9e1" stroke-width="0.8"/>
<path d="M495.25,662.90 V655.67 H500.65 V662.90" fill="#fff" stroke="#1a1a1a" stroke-width="0.9"/>
<line x1="497.95000000000005" y1="655.0047999999999" x2="497.95000000000005" y2="656.3392" stroke="#1a1a1a" stroke-width="0.8"/>
<line x1="495.75000000000006" y1="655.0047999999999" x2="500.15000000000003" y2="655.0047999999999" stroke="#1a1a1a" stroke-width="0.8"/>
<line x1="495.75000000000006" y1="656.3392" x2="500.15000000000003" y2="656.3392" stroke="#1a1a1a" stroke-width="0.8"/>
<path d="M501.55,662.90 V654.00 H506.95 V662.90" fill="#fff" stroke="#27a9e1" stroke-width="0.9"/>
<line x1="504.25" y1="652.93648" x2="504.25" y2="655.07152" stroke="#27a9e1" stroke-width="0.8"/>
<line x1="502.05" y1="652.93648" x2="506.45" y2="652.93648" stroke="#27a9e1" stroke-width="0.8"/>
<line x1="502.05" y1="655.07152" x2="506.45" y2="655.07152" stroke="#27a9e1" stroke-width="0.8"/>
<circle cx="484.45" cy="657.90" r="2.0" fill="#1a1a1a"/>
<circle cx="486.25" cy="657.34" r="2.0" fill="#1a1a1a"/>
<circle cx="485.35" cy="656.78" r="2.0" fill="#1a1a1a"/>
<circle cx="490.75" cy="658.45" r="1.60" fill="none" stroke="#27a9e1" stroke-width="0.8"/>
<circle cx="492.55" cy="656.78" r="1.60" fill="none" stroke="#27a9e1" stroke-width="0.8"/>
<circle cx="491.65" cy="655.12" r="1.60" fill="none" stroke="#27a9e1" stroke-width="0.8"/>
<polygon points="497.05,654.16 494.64,658.53 499.47,658.53" fill="#1a1a1a"/>
<polygon points="498.85,653.05 496.44,657.42 501.27,657.42" fill="#1a1a1a"/>
<polygon points="497.95,651.38 495.54,655.75 500.37,655.75" fill="#1a1a1a"/>
<polygon points="503.35,652.49 500.94,656.86 505.77,656.86" fill="none" stroke="#27a9e1" stroke-width="0.8"/>
<polygon points="505.15,650.83 502.73,655.20 507.56,655.20" fill="none" stroke="#27a9e1" stroke-width="0.8"/>
<polygon points="504.25,647.49 501.83,651.86 506.67,651.86" fill="none" stroke="#27a9e1" stroke-width="0.8"/>
<path d="M513.85,662.90 V657.34 H519.25 V662.90" fill="#fff" stroke="#1a1a1a" stroke-width="0.9"/>
<line x1="516.55" y1="656.6727999999999" x2="516.55" y2="658.0072" stroke="#1a1a1a" stroke-width="0.8"/>
<line x1="514.3499999999999" y1="656.6727999999999" x2="518.75" y2="656.6727999999999" stroke="#1a1a1a" stroke-width="0.8"/>
<line x1="514.3499999999999" y1="658.0072" x2="518.75" y2="658.0072" stroke="#1a1a1a" stroke-width="0.8"/>
<path d="M520.15,662.90 V656.23 H525.55 V662.90" fill="#fff" stroke="#27a9e1" stroke-width="0.9"/>
<line x1="522.8499999999999" y1="655.5608" x2="522.8499999999999" y2="656.8951999999999" stroke="#27a9e1" stroke-width="0.8"/>
<line x1="520.6499999999999" y1="655.5608" x2="525.05" y2="655.5608" stroke="#27a9e1" stroke-width="0.8"/>
<line x1="520.6499999999999" y1="656.8951999999999" x2="525.05" y2="656.8951999999999" stroke="#27a9e1" stroke-width="0.8"/>
<path d="M526.45,662.90 V651.78 H531.85 V662.90" fill="#fff" stroke="#1a1a1a" stroke-width="0.9"/>
<line x1="529.15" y1="650.4456" x2="529.15" y2="653.1143999999999" stroke="#1a1a1a" stroke-width="0.8"/>
<line x1="526.9499999999999" y1="650.4456" x2="531.35" y2="650.4456" stroke="#1a1a1a" stroke-width="0.8"/>
<line x1="526.9499999999999" y1="653.1143999999999" x2="531.35" y2="653.1143999999999" stroke="#1a1a1a" stroke-width="0.8"/>
<path d="M532.75,662.90 V646.22 H538.15 V662.90" fill="#fff" stroke="#27a9e1" stroke-width="0.9"/>
<line x1="535.4499999999999" y1="644.2184" x2="535.4499999999999" y2="648.2216" stroke="#27a9e1" stroke-width="0.8"/>
<line x1="533.2499999999999" y1="644.2184" x2="537.65" y2="644.2184" stroke="#27a9e1" stroke-width="0.8"/>
<line x1="533.2499999999999" y1="648.2216" x2="537.65" y2="648.2216" stroke="#27a9e1" stroke-width="0.8"/>
<circle cx="515.65" cy="658.45" r="2.0" fill="#1a1a1a"/>
<circle cx="517.45" cy="657.34" r="2.0" fill="#1a1a1a"/>
<circle cx="516.55" cy="656.78" r="2.0" fill="#1a1a1a"/>
<circle cx="521.95" cy="658.45" r="1.60" fill="none" stroke="#27a9e1" stroke-width="0.8"/>
<circle cx="523.75" cy="656.78" r="1.60" fill="none" stroke="#27a9e1" stroke-width="0.8"/>
<circle cx="522.85" cy="653.45" r="1.60" fill="none" stroke="#27a9e1" stroke-width="0.8"/>
<polygon points="528.25,650.83 525.84,655.20 530.66,655.20" fill="#1a1a1a"/>
<polygon points="530.05,649.16 527.63,653.53 532.46,653.53" fill="#1a1a1a"/>
<polygon points="529.15,646.38 526.74,650.75 531.56,650.75" fill="#1a1a1a"/>
<polygon points="534.55,643.60 532.13,647.97 536.96,647.97" fill="none" stroke="#27a9e1" stroke-width="0.8"/>
<polygon points="536.35,641.93 533.93,646.30 538.76,646.30" fill="none" stroke="#27a9e1" stroke-width="0.8"/>
<polygon points="535.45,640.26 533.03,644.63 537.86,644.63" fill="none" stroke="#27a9e1" stroke-width="0.8"/>
<path d="M545.05,662.90 V657.34 H550.45 V662.90" fill="#fff" stroke="#1a1a1a" stroke-width="0.9"/>
<line x1="547.75" y1="656.6727999999999" x2="547.75" y2="658.0072" stroke="#1a1a1a" stroke-width="0.8"/>
<line x1="545.55" y1="656.6727999999999" x2="549.95" y2="656.6727999999999" stroke="#1a1a1a" stroke-width="0.8"/>
<line x1="545.55" y1="658.0072" x2="549.95" y2="658.0072" stroke="#1a1a1a" stroke-width="0.8"/>
<path d="M551.35,662.90 V640.66 H556.75 V662.90" fill="#fff" stroke="#27a9e1" stroke-width="0.9"/>
<line x1="554.05" y1="637.9911999999999" x2="554.05" y2="643.3288" stroke="#27a9e1" stroke-width="0.8"/>
<line x1="551.8499999999999" y1="637.9911999999999" x2="556.25" y2="637.9911999999999" stroke="#27a9e1" stroke-width="0.8"/>
<line x1="551.8499999999999" y1="643.3288" x2="556.25" y2="643.3288" stroke="#27a9e1" stroke-width="0.8"/>
<path d="M557.65,662.90 V621.76 H563.05 V662.90" fill="#fff" stroke="#1a1a1a" stroke-width="0.9"/>
<line x1="560.35" y1="616.81872" x2="560.35" y2="626.69328" stroke="#1a1a1a" stroke-width="0.8"/>
<line x1="558.15" y1="616.81872" x2="562.5500000000001" y2="616.81872" stroke="#1a1a1a" stroke-width="0.8"/>
<line x1="558.15" y1="626.69328" x2="562.5500000000001" y2="626.69328" stroke="#1a1a1a" stroke-width="0.8"/>
<path d="M563.95,662.90 V579.50 H569.35 V662.90" fill="#fff" stroke="#27a9e1" stroke-width="0.9"/>
<line x1="566.65" y1="569.4920000000001" x2="566.65" y2="589.508" stroke="#27a9e1" stroke-width="0.8"/>
<line x1="564.4499999999999" y1="569.4920000000001" x2="568.85" y2="569.4920000000001" stroke="#27a9e1" stroke-width="0.8"/>
<line x1="564.4499999999999" y1="589.508" x2="568.85" y2="589.508" stroke="#27a9e1" stroke-width="0.8"/>
<circle cx="546.85" cy="658.45" r="2.0" fill="#1a1a1a"/>
<circle cx="548.65" cy="657.34" r="2.0" fill="#1a1a1a"/>
<circle cx="547.75" cy="656.23" r="2.0" fill="#1a1a1a"/>
<circle cx="553.15" cy="646.22" r="1.60" fill="none" stroke="#27a9e1" stroke-width="0.8"/>
<circle cx="554.95" cy="643.44" r="1.60" fill="none" stroke="#27a9e1" stroke-width="0.8"/>
<circle cx="554.05" cy="630.65" r="1.60" fill="none" stroke="#27a9e1" stroke-width="0.8"/>
<polygon points="559.45,635.26 557.04,639.63 561.87,639.63" fill="#1a1a1a"/>
<polygon points="561.25,621.36 558.84,625.73 563.66,625.73" fill="#1a1a1a"/>
<polygon points="560.35,600.23 557.94,604.60 562.76,604.60" fill="#1a1a1a"/>
<polygon points="565.75,596.34 563.34,600.71 568.16,600.71" fill="none" stroke="#27a9e1" stroke-width="0.8"/>
<polygon points="567.55,576.88 565.13,581.25 569.96,581.25" fill="none" stroke="#27a9e1" stroke-width="0.8"/>
<polygon points="566.65,556.31 564.24,560.68 569.06,560.68" fill="none" stroke="#27a9e1" stroke-width="0.8"/>
<path d="M576.25,662.90 V657.34 H581.65 V662.90" fill="#fff" stroke="#1a1a1a" stroke-width="0.9"/>
<line x1="578.9499999999999" y1="656.6727999999999" x2="578.9499999999999" y2="658.0072" stroke="#1a1a1a" stroke-width="0.8"/>
<line x1="576.7499999999999" y1="656.6727999999999" x2="581.15" y2="656.6727999999999" stroke="#1a1a1a" stroke-width="0.8"/>
<line x1="576.7499999999999" y1="658.0072" x2="581.15" y2="658.0072" stroke="#1a1a1a" stroke-width="0.8"/>
<path d="M582.55,662.90 V645.11 H587.95 V662.90" fill="#fff" stroke="#27a9e1" stroke-width="0.9"/>
<line x1="585.2499999999999" y1="642.97296" x2="585.2499999999999" y2="647.24304" stroke="#27a9e1" stroke-width="0.8"/>
<line x1="583.0499999999998" y1="642.97296" x2="587.4499999999999" y2="642.97296" stroke="#27a9e1" stroke-width="0.8"/>
<line x1="583.0499999999998" y1="647.24304" x2="587.4499999999999" y2="647.24304" stroke="#27a9e1" stroke-width="0.8"/>
<path d="M588.85,662.90 V633.43 H594.25 V662.90" fill="#fff" stroke="#1a1a1a" stroke-width="0.9"/>
<line x1="591.55" y1="629.89584" x2="591.55" y2="636.96816" stroke="#1a1a1a" stroke-width="0.8"/>
<line x1="589.3499999999999" y1="629.89584" x2="593.75" y2="629.89584" stroke="#1a1a1a" stroke-width="0.8"/>
<line x1="589.3499999999999" y1="636.96816" x2="593.75" y2="636.96816" stroke="#1a1a1a" stroke-width="0.8"/>
<path d="M595.15,662.90 V615.64 H600.55 V662.90" fill="#fff" stroke="#27a9e1" stroke-width="0.9"/>
<line x1="597.8499999999999" y1="609.9688" x2="597.8499999999999" y2="621.3112" stroke="#27a9e1" stroke-width="0.8"/>
<line x1="595.6499999999999" y1="609.9688" x2="600.05" y2="609.9688" stroke="#27a9e1" stroke-width="0.8"/>
<line x1="595.6499999999999" y1="621.3112" x2="600.05" y2="621.3112" stroke="#27a9e1" stroke-width="0.8"/>
<circle cx="578.05" cy="658.45" r="2.0" fill="#1a1a1a"/>
<circle cx="579.85" cy="657.34" r="2.0" fill="#1a1a1a"/>
<circle cx="578.95" cy="656.78" r="2.0" fill="#1a1a1a"/>
<circle cx="584.35" cy="649.56" r="1.60" fill="none" stroke="#27a9e1" stroke-width="0.8"/>
<circle cx="586.15" cy="646.22" r="1.60" fill="none" stroke="#27a9e1" stroke-width="0.8"/>
<circle cx="585.25" cy="636.21" r="1.60" fill="none" stroke="#27a9e1" stroke-width="0.8"/>
<polygon points="590.65,636.93 588.24,641.30 593.06,641.30" fill="#1a1a1a"/>
<polygon points="592.45,632.48 590.03,636.85 594.86,636.85" fill="#1a1a1a"/>
<polygon points="591.55,622.47 589.13,626.84 593.96,626.84" fill="#1a1a1a"/>
<polygon points="596.95,618.58 594.53,622.95 599.36,622.95" fill="none" stroke="#27a9e1" stroke-width="0.8"/>
<polygon points="598.75,613.02 596.33,617.39 601.16,617.39" fill="none" stroke="#27a9e1" stroke-width="0.8"/>
<polygon points="597.85,598.01 595.43,602.38 600.26,602.38" fill="none" stroke="#27a9e1" stroke-width="0.8"/>
<path d="M607.45,662.90 V657.34 H612.85 V662.90" fill="#fff" stroke="#1a1a1a" stroke-width="0.9"/>
<line x1="610.15" y1="656.6727999999999" x2="610.15" y2="658.0072" stroke="#1a1a1a" stroke-width="0.8"/>
<line x1="607.9499999999999" y1="656.6727999999999" x2="612.35" y2="656.6727999999999" stroke="#1a1a1a" stroke-width="0.8"/>
<line x1="607.9499999999999" y1="658.0072" x2="612.35" y2="658.0072" stroke="#1a1a1a" stroke-width="0.8"/>
<path d="M613.75,662.90 V644.00 H619.15 V662.90" fill="#fff" stroke="#27a9e1" stroke-width="0.9"/>
<line x1="616.4499999999999" y1="641.72752" x2="616.4499999999999" y2="646.2644799999999" stroke="#27a9e1" stroke-width="0.8"/>
<line x1="614.2499999999999" y1="641.72752" x2="618.65" y2="641.72752" stroke="#27a9e1" stroke-width="0.8"/>
<line x1="614.2499999999999" y1="646.2644799999999" x2="618.65" y2="646.2644799999999" stroke="#27a9e1" stroke-width="0.8"/>
<path d="M620.05,662.90 V629.54 H625.45 V662.90" fill="#fff" stroke="#1a1a1a" stroke-width="0.9"/>
<line x1="622.75" y1="625.5368" x2="622.75" y2="633.5432" stroke="#1a1a1a" stroke-width="0.8"/>
<line x1="620.55" y1="625.5368" x2="624.95" y2="625.5368" stroke="#1a1a1a" stroke-width="0.8"/>
<line x1="620.55" y1="633.5432" x2="624.95" y2="633.5432" stroke="#1a1a1a" stroke-width="0.8"/>
<path d="M626.35,662.90 V600.63 H631.75 V662.90" fill="#fff" stroke="#27a9e1" stroke-width="0.9"/>
<line x1="629.05" y1="593.15536" x2="629.05" y2="608.10064" stroke="#27a9e1" stroke-width="0.8"/>
<line x1="626.8499999999999" y1="593.15536" x2="631.25" y2="593.15536" stroke="#27a9e1" stroke-width="0.8"/>
<line x1="626.8499999999999" y1="608.10064" x2="631.25" y2="608.10064" stroke="#27a9e1" stroke-width="0.8"/>
<circle cx="609.25" cy="658.45" r="2.0" fill="#1a1a1a"/>
<circle cx="611.05" cy="657.34" r="2.0" fill="#1a1a1a"/>
<circle cx="610.15" cy="656.78" r="2.0" fill="#1a1a1a"/>
<circle cx="615.55" cy="649.56" r="1.60" fill="none" stroke="#27a9e1" stroke-width="0.8"/>
<circle cx="617.35" cy="643.44" r="1.60" fill="none" stroke="#27a9e1" stroke-width="0.8"/>
<circle cx="616.45" cy="636.21" r="1.60" fill="none" stroke="#27a9e1" stroke-width="0.8"/>
<polygon points="621.85,629.70 619.44,634.07 624.26,634.07" fill="#1a1a1a"/>
<polygon points="623.65,626.92 621.24,631.29 626.06,631.29" fill="#1a1a1a"/>
<polygon points="622.75,616.91 620.34,621.28 625.16,621.28" fill="#1a1a1a"/>
<polygon points="628.15,611.35 625.74,615.72 630.56,615.72" fill="none" stroke="#27a9e1" stroke-width="0.8"/>
<polygon points="629.95,599.12 627.53,603.49 632.36,603.49" fill="none" stroke="#27a9e1" stroke-width="0.8"/>
<polygon points="629.05,582.44 626.63,586.81 631.46,586.81" fill="none" stroke="#27a9e1" stroke-width="0.8"/>
<line x1="400.8" y1="629.8" x2="414.5" y2="629.8" stroke="#555" stroke-width="0.9"/>
<text x="389.6" y="628.1" font-size="8.6" text-anchor="start" fill="#333">P=0.023</text>
<line x1="433" y1="628.6" x2="445.5" y2="628.6" stroke="#555" stroke-width="0.9"/>
<text x="425.6" y="627.4" font-size="8.6" text-anchor="start" fill="#333">P=0.0006</text>
<line x1="464" y1="617.4" x2="477.8" y2="617.4" stroke="#555" stroke-width="0.9"/>
<text x="455.4" y="615.7" font-size="8.6" text-anchor="start" fill="#333">P=0.022</text>
<line x1="525.9" y1="638.8" x2="539.6" y2="638.8" stroke="#555" stroke-width="0.9"/>
<text x="515.2" y="636.3" font-size="8.6" text-anchor="start" fill="#333">P=0.037</text>
<line x1="558.2" y1="554.4" x2="571.8" y2="554.4" stroke="#555" stroke-width="0.9"/>
<text x="546.5" y="552.4" font-size="8.6" text-anchor="start" fill="#333">P=0.047</text>
<line x1="619" y1="581" x2="631.9" y2="581" stroke="#555" stroke-width="0.9"/>
<text x="613.5" y="579.7" font-size="8.6" text-anchor="start" fill="#333">P=0.042</text>
<circle cx="396.60" cy="556.10" r="1.7" fill="#1a1a1a"/>
<text x="400.8" y="559.2" font-size="8.5" text-anchor="start" fill="#222">RT Flox</text>
<circle cx="396.60" cy="564.80" r="1.35" fill="none" stroke="#27a9e1" stroke-width="0.7"/>
<text x="400.8" y="567.9" font-size="8.5" text-anchor="start" fill="#222">RT AKO</text>
<polygon points="396.60,572.06 394.81,575.29 398.39,575.29" fill="#1a1a1a"/>
<text x="400.8" y="577.1" font-size="8.5" text-anchor="start" fill="#222">Cold Flox</text>
<polygon points="396.60,581.46 394.81,584.69 398.39,584.69" fill="none" stroke="#27a9e1" stroke-width="0.7"/>
<text x="400.8" y="586.5" font-size="8.5" text-anchor="start" fill="#222">Cold AKO</text>
<text x="365.5" y="605.8" font-size="9.8" text-anchor="middle" fill="#333" transform="rotate(-90 365.5 605.8)">Relative protein level</text>
<text x="407.70000000000005" y="668.1999999999999" font-size="10" text-anchor="end" fill="#222" transform="rotate(-45 407.70000000000005 668.1999999999999)">MFN1</text>
<text x="438.90000000000003" y="668.1999999999999" font-size="10" text-anchor="end" fill="#222" transform="rotate(-45 438.90000000000003 668.1999999999999)">MFN2</text>
<text x="470.1" y="668.1999999999999" font-size="10" text-anchor="end" fill="#222" transform="rotate(-45 470.1 668.1999999999999)">TOM20</text>
<text x="501.30000000000007" y="668.1999999999999" font-size="10" text-anchor="end" fill="#222" transform="rotate(-45 501.30000000000007 668.1999999999999)">CV-ATP5A</text>
<text x="532.5" y="668.1999999999999" font-size="10" text-anchor="end" fill="#222" transform="rotate(-45 532.5 668.1999999999999)">CIII-UQCRC2</text>
<text x="563.7" y="668.1999999999999" font-size="10" text-anchor="end" fill="#222" transform="rotate(-45 563.7 668.1999999999999)">CIV-MTCO1</text>
<text x="594.9" y="668.1999999999999" font-size="10" text-anchor="end" fill="#222" transform="rotate(-45 594.9 668.1999999999999)">CII-SDHB</text>
<text x="626.1" y="668.1999999999999" font-size="10" text-anchor="end" fill="#222" transform="rotate(-45 626.1 668.1999999999999)">CI-NDUFB8</text>
<line x1="69.6" y1="725.2" x2="69.6" y2="864.6" stroke="#333" stroke-width="1.0"/>
<line x1="69.1" y1="864.2" x2="261.8" y2="864.2" stroke="#333" stroke-width="1.0"/>
<line x1="65.0" y1="864.2" x2="69.6" y2="864.2" stroke="#333" stroke-width="1.1"/>
<text x="64.0" y="868.1" font-size="11.2" text-anchor="end" fill="#333" style="font-family:'Liberation Serif', serif" textLength="4.60" lengthAdjust="spacingAndGlyphs">0</text>
<line x1="65.0" y1="829.5250000000001" x2="69.6" y2="829.5250000000001" stroke="#333" stroke-width="1.1"/>
<text x="64.0" y="833.4250000000001" font-size="11.2" text-anchor="end" fill="#333" style="font-family:'Liberation Serif', serif" textLength="9.20" lengthAdjust="spacingAndGlyphs">20</text>
<line x1="65.0" y1="794.85" x2="69.6" y2="794.85" stroke="#333" stroke-width="1.1"/>
<text x="64.0" y="798.75" font-size="11.2" text-anchor="end" fill="#333" style="font-family:'Liberation Serif', serif" textLength="9.20" lengthAdjust="spacingAndGlyphs">40</text>
<line x1="65.0" y1="760.175" x2="69.6" y2="760.175" stroke="#333" stroke-width="1.1"/>
<text x="64.0" y="764.0749999999999" font-size="11.2" text-anchor="end" fill="#333" style="font-family:'Liberation Serif', serif" textLength="9.20" lengthAdjust="spacingAndGlyphs">60</text>
<line x1="65.0" y1="725.5" x2="69.6" y2="725.5" stroke="#333" stroke-width="1.1"/>
<text x="64.0" y="729.4" font-size="11.2" text-anchor="end" fill="#333" style="font-family:'Liberation Serif', serif" textLength="9.20" lengthAdjust="spacingAndGlyphs">80</text>
<line x1="109.6" y1="717.5" x2="109.6" y2="864.2" stroke="#333" stroke-width="0.8" stroke-dasharray="2.2,1.6"/>
<line x1="157.6" y1="717.5" x2="157.6" y2="864.2" stroke="#333" stroke-width="0.8" stroke-dasharray="2.2,1.6"/>
<line x1="205.5" y1="717.5" x2="205.5" y2="864.2" stroke="#333" stroke-width="0.8" stroke-dasharray="2.2,1.6"/>
<line x1="76.8" y1="819.989375" x2="76.8" y2="826.924375" stroke="#1a1a1a" stroke-width="0.8"/>
<line x1="74.5" y1="819.989375" x2="79.1" y2="819.989375" stroke="#1a1a1a" stroke-width="0.8"/>
<line x1="74.5" y1="826.924375" x2="79.1" y2="826.924375" stroke="#1a1a1a" stroke-width="0.8"/>
<line x1="92.84" y1="818.255625" x2="92.84" y2="825.1906250000001" stroke="#1a1a1a" stroke-width="0.8"/>
<line x1="90.54" y1="818.255625" x2="95.14" y2="818.255625" stroke="#1a1a1a" stroke-width="0.8"/>
<line x1="90.54" y1="825.1906250000001" x2="95.14" y2="825.1906250000001" stroke="#1a1a1a" stroke-width="0.8"/>
<line x1="108.88" y1="820.85625" x2="108.88" y2="827.79125" stroke="#1a1a1a" stroke-width="0.8"/>
<line x1="106.58" y1="820.85625" x2="111.17999999999999" y2="820.85625" stroke="#1a1a1a" stroke-width="0.8"/>
<line x1="106.58" y1="827.79125" x2="111.17999999999999" y2="827.79125" stroke="#1a1a1a" stroke-width="0.8"/>
<line x1="124.91999999999999" y1="843.395" x2="124.91999999999999" y2="846.8625000000001" stroke="#1a1a1a" stroke-width="0.8"/>
<line x1="122.61999999999999" y1="843.395" x2="127.21999999999998" y2="843.395" stroke="#1a1a1a" stroke-width="0.8"/>
<line x1="122.61999999999999" y1="846.8625000000001" x2="127.21999999999998" y2="846.8625000000001" stroke="#1a1a1a" stroke-width="0.8"/>
<line x1="140.95999999999998" y1="844.261875" x2="140.95999999999998" y2="847.729375" stroke="#1a1a1a" stroke-width="0.8"/>
<line x1="138.65999999999997" y1="844.261875" x2="143.26" y2="844.261875" stroke="#1a1a1a" stroke-width="0.8"/>
<line x1="138.65999999999997" y1="847.729375" x2="143.26" y2="847.729375" stroke="#1a1a1a" stroke-width="0.8"/>
<line x1="157.0" y1="844.261875" x2="157.0" y2="847.729375" stroke="#1a1a1a" stroke-width="0.8"/>
<line x1="154.7" y1="844.261875" x2="159.3" y2="844.261875" stroke="#1a1a1a" stroke-width="0.8"/>
<line x1="154.7" y1="847.729375" x2="159.3" y2="847.729375" stroke="#1a1a1a" stroke-width="0.8"/>
<line x1="173.04" y1="782.71375" x2="173.04" y2="796.58375" stroke="#1a1a1a" stroke-width="0.8"/>
<line x1="170.73999999999998" y1="782.71375" x2="175.34" y2="782.71375" stroke="#1a1a1a" stroke-width="0.8"/>
<line x1="170.73999999999998" y1="796.58375" x2="175.34" y2="796.58375" stroke="#1a1a1a" stroke-width="0.8"/>
<line x1="189.07999999999998" y1="782.71375" x2="189.07999999999998" y2="796.58375" stroke="#1a1a1a" stroke-width="0.8"/>
<line x1="186.77999999999997" y1="782.71375" x2="191.38" y2="782.71375" stroke="#1a1a1a" stroke-width="0.8"/>
<line x1="186.77999999999997" y1="796.58375" x2="191.38" y2="796.58375" stroke="#1a1a1a" stroke-width="0.8"/>
<line x1="205.12" y1="780.98" x2="205.12" y2="794.85" stroke="#1a1a1a" stroke-width="0.8"/>
<line x1="202.82" y1="780.98" x2="207.42000000000002" y2="780.98" stroke="#1a1a1a" stroke-width="0.8"/>
<line x1="202.82" y1="794.85" x2="207.42000000000002" y2="794.85" stroke="#1a1a1a" stroke-width="0.8"/>
<line x1="221.15999999999997" y1="851.1968750000001" x2="221.15999999999997" y2="854.6643750000001" stroke="#1a1a1a" stroke-width="0.8"/>
<line x1="218.85999999999996" y1="851.1968750000001" x2="223.45999999999998" y2="851.1968750000001" stroke="#1a1a1a" stroke-width="0.8"/>
<line x1="218.85999999999996" y1="854.6643750000001" x2="223.45999999999998" y2="854.6643750000001" stroke="#1a1a1a" stroke-width="0.8"/>
<line x1="237.2" y1="852.06375" x2="237.2" y2="855.53125" stroke="#1a1a1a" stroke-width="0.8"/>
<line x1="234.89999999999998" y1="852.06375" x2="239.5" y2="852.06375" stroke="#1a1a1a" stroke-width="0.8"/>
<line x1="234.89999999999998" y1="855.53125" x2="239.5" y2="855.53125" stroke="#1a1a1a" stroke-width="0.8"/>
<line x1="253.24" y1="852.06375" x2="253.24" y2="855.53125" stroke="#1a1a1a" stroke-width="0.8"/>
<line x1="250.94" y1="852.06375" x2="255.54000000000002" y2="852.06375" stroke="#1a1a1a" stroke-width="0.8"/>
<line x1="250.94" y1="855.53125" x2="255.54000000000002" y2="855.53125" stroke="#1a1a1a" stroke-width="0.8"/>
<line x1="76.8" y1="816.521875" x2="76.8" y2="821.723125" stroke="#e8383d" stroke-width="0.8"/>
<line x1="74.5" y1="816.521875" x2="79.1" y2="816.521875" stroke="#e8383d" stroke-width="0.8"/>
<line x1="74.5" y1="821.723125" x2="79.1" y2="821.723125" stroke="#e8383d" stroke-width="0.8"/>
<line x1="92.84" y1="817.3887500000001" x2="92.84" y2="822.59" stroke="#e8383d" stroke-width="0.8"/>
<line x1="90.54" y1="817.3887500000001" x2="95.14" y2="817.3887500000001" stroke="#e8383d" stroke-width="0.8"/>
<line x1="90.54" y1="822.59" x2="95.14" y2="822.59" stroke="#e8383d" stroke-width="0.8"/>
<line x1="108.88" y1="819.989375" x2="108.88" y2="825.1906250000001" stroke="#e8383d" stroke-width="0.8"/>
<line x1="106.58" y1="819.989375" x2="111.17999999999999" y2="819.989375" stroke="#e8383d" stroke-width="0.8"/>
<line x1="106.58" y1="825.1906250000001" x2="111.17999999999999" y2="825.1906250000001" stroke="#e8383d" stroke-width="0.8"/>
<line x1="124.91999999999999" y1="842.528125" x2="124.91999999999999" y2="845.995625" stroke="#e8383d" stroke-width="0.8"/>
<line x1="122.61999999999999" y1="842.528125" x2="127.21999999999998" y2="842.528125" stroke="#e8383d" stroke-width="0.8"/>
<line x1="122.61999999999999" y1="845.995625" x2="127.21999999999998" y2="845.995625" stroke="#e8383d" stroke-width="0.8"/>
<line x1="140.95999999999998" y1="843.395" x2="140.95999999999998" y2="846.8625000000001" stroke="#e8383d" stroke-width="0.8"/>
<line x1="138.65999999999997" y1="843.395" x2="143.26" y2="843.395" stroke="#e8383d" stroke-width="0.8"/>
<line x1="138.65999999999997" y1="846.8625000000001" x2="143.26" y2="846.8625000000001" stroke="#e8383d" stroke-width="0.8"/>
<line x1="157.0" y1="843.395" x2="157.0" y2="846.8625000000001" stroke="#e8383d" stroke-width="0.8"/>
<line x1="154.7" y1="843.395" x2="159.3" y2="843.395" stroke="#e8383d" stroke-width="0.8"/>
<line x1="154.7" y1="846.8625000000001" x2="159.3" y2="846.8625000000001" stroke="#e8383d" stroke-width="0.8"/>
<line x1="173.04" y1="781.3267500000001" x2="173.04" y2="791.72925" stroke="#e8383d" stroke-width="0.8"/>
<line x1="170.73999999999998" y1="781.3267500000001" x2="175.34" y2="781.3267500000001" stroke="#e8383d" stroke-width="0.8"/>
<line x1="170.73999999999998" y1="791.72925" x2="175.34" y2="791.72925" stroke="#e8383d" stroke-width="0.8"/>
<line x1="189.07999999999998" y1="782.193625" x2="189.07999999999998" y2="792.596125" stroke="#e8383d" stroke-width="0.8"/>
<line x1="186.77999999999997" y1="782.193625" x2="191.38" y2="782.193625" stroke="#e8383d" stroke-width="0.8"/>
<line x1="186.77999999999997" y1="792.596125" x2="191.38" y2="792.596125" stroke="#e8383d" stroke-width="0.8"/>
<line x1="205.12" y1="778.726125" x2="205.12" y2="789.128625" stroke="#e8383d" stroke-width="0.8"/>
<line x1="202.82" y1="778.726125" x2="207.42000000000002" y2="778.726125" stroke="#e8383d" stroke-width="0.8"/>
<line x1="202.82" y1="789.128625" x2="207.42000000000002" y2="789.128625" stroke="#e8383d" stroke-width="0.8"/>
<line x1="221.15999999999997" y1="849.463125" x2="221.15999999999997" y2="852.9306250000001" stroke="#e8383d" stroke-width="0.8"/>
<line x1="218.85999999999996" y1="849.463125" x2="223.45999999999998" y2="849.463125" stroke="#e8383d" stroke-width="0.8"/>
<line x1="218.85999999999996" y1="852.9306250000001" x2="223.45999999999998" y2="852.9306250000001" stroke="#e8383d" stroke-width="0.8"/>
<line x1="237.2" y1="850.33" x2="237.2" y2="853.7975" stroke="#e8383d" stroke-width="0.8"/>
<line x1="234.89999999999998" y1="850.33" x2="239.5" y2="850.33" stroke="#e8383d" stroke-width="0.8"/>
<line x1="234.89999999999998" y1="853.7975" x2="239.5" y2="853.7975" stroke="#e8383d" stroke-width="0.8"/>
<line x1="253.24" y1="850.33" x2="253.24" y2="853.7975" stroke="#e8383d" stroke-width="0.8"/>
<line x1="250.94" y1="850.33" x2="255.54000000000002" y2="850.33" stroke="#e8383d" stroke-width="0.8"/>
<line x1="250.94" y1="853.7975" x2="255.54000000000002" y2="853.7975" stroke="#e8383d" stroke-width="0.8"/>
<line x1="76.8" y1="784.4475" x2="76.8" y2="806.98625" stroke="#1a1a1a" stroke-width="0.8"/>
<line x1="74.5" y1="784.4475" x2="79.1" y2="784.4475" stroke="#1a1a1a" stroke-width="0.8"/>
<line x1="74.5" y1="806.98625" x2="79.1" y2="806.98625" stroke="#1a1a1a" stroke-width="0.8"/>
<line x1="92.84" y1="785.314375" x2="92.84" y2="807.853125" stroke="#1a1a1a" stroke-width="0.8"/>
<line x1="90.54" y1="785.314375" x2="95.14" y2="785.314375" stroke="#1a1a1a" stroke-width="0.8"/>
<line x1="90.54" y1="807.853125" x2="95.14" y2="807.853125" stroke="#1a1a1a" stroke-width="0.8"/>
<line x1="108.88" y1="784.4475" x2="108.88" y2="806.98625" stroke="#1a1a1a" stroke-width="0.8"/>
<line x1="106.58" y1="784.4475" x2="111.17999999999999" y2="784.4475" stroke="#1a1a1a" stroke-width="0.8"/>
<line x1="106.58" y1="806.98625" x2="111.17999999999999" y2="806.98625" stroke="#1a1a1a" stroke-width="0.8"/>
<line x1="124.91999999999999" y1="816.00175" x2="124.91999999999999" y2="824.6705000000001" stroke="#1a1a1a" stroke-width="0.8"/>
<line x1="122.61999999999999" y1="816.00175" x2="127.21999999999998" y2="816.00175" stroke="#1a1a1a" stroke-width="0.8"/>
<line x1="122.61999999999999" y1="824.6705000000001" x2="127.21999999999998" y2="824.6705000000001" stroke="#1a1a1a" stroke-width="0.8"/>
<line x1="140.95999999999998" y1="816.521875" x2="140.95999999999998" y2="825.1906250000001" stroke="#1a1a1a" stroke-width="0.8"/>
<line x1="138.65999999999997" y1="816.521875" x2="143.26" y2="816.521875" stroke="#1a1a1a" stroke-width="0.8"/>
<line x1="138.65999999999997" y1="825.1906250000001" x2="143.26" y2="825.1906250000001" stroke="#1a1a1a" stroke-width="0.8"/>
<line x1="157.0" y1="814.788125" x2="157.0" y2="826.924375" stroke="#1a1a1a" stroke-width="0.8"/>
<line x1="154.7" y1="814.788125" x2="159.3" y2="814.788125" stroke="#1a1a1a" stroke-width="0.8"/>
<line x1="154.7" y1="826.924375" x2="159.3" y2="826.924375" stroke="#1a1a1a" stroke-width="0.8"/>
<line x1="173.04" y1="726.3668749999999" x2="173.04" y2="750.639375" stroke="#1a1a1a" stroke-width="0.8"/>
<line x1="170.73999999999998" y1="726.3668749999999" x2="175.34" y2="726.3668749999999" stroke="#1a1a1a" stroke-width="0.8"/>
<line x1="170.73999999999998" y1="750.639375" x2="175.34" y2="750.639375" stroke="#1a1a1a" stroke-width="0.8"/>
<line x1="189.07999999999998" y1="724.6331250000001" x2="189.07999999999998" y2="755.840625" stroke="#1a1a1a" stroke-width="0.8"/>
<line x1="186.77999999999997" y1="724.6331250000001" x2="191.38" y2="724.6331250000001" stroke="#1a1a1a" stroke-width="0.8"/>
<line x1="186.77999999999997" y1="755.840625" x2="191.38" y2="755.840625" stroke="#1a1a1a" stroke-width="0.8"/>
<line x1="205.12" y1="726.3668749999999" x2="205.12" y2="757.574375" stroke="#1a1a1a" stroke-width="0.8"/>
<line x1="202.82" y1="726.3668749999999" x2="207.42000000000002" y2="726.3668749999999" stroke="#1a1a1a" stroke-width="0.8"/>
<line x1="202.82" y1="757.574375" x2="207.42000000000002" y2="757.574375" stroke="#1a1a1a" stroke-width="0.8"/>
<line x1="221.15999999999997" y1="844.6086250000001" x2="221.15999999999997" y2="848.076125" stroke="#1a1a1a" stroke-width="0.8"/>
<line x1="218.85999999999996" y1="844.6086250000001" x2="223.45999999999998" y2="844.6086250000001" stroke="#1a1a1a" stroke-width="0.8"/>
<line x1="218.85999999999996" y1="848.076125" x2="223.45999999999998" y2="848.076125" stroke="#1a1a1a" stroke-width="0.8"/>
<line x1="237.2" y1="842.528125" x2="237.2" y2="845.995625" stroke="#1a1a1a" stroke-width="0.8"/>
<line x1="234.89999999999998" y1="842.528125" x2="239.5" y2="842.528125" stroke="#1a1a1a" stroke-width="0.8"/>
<line x1="234.89999999999998" y1="845.995625" x2="239.5" y2="845.995625" stroke="#1a1a1a" stroke-width="0.8"/>
<line x1="253.24" y1="843.395" x2="253.24" y2="846.8625000000001" stroke="#1a1a1a" stroke-width="0.8"/>
<line x1="250.94" y1="843.395" x2="255.54000000000002" y2="843.395" stroke="#1a1a1a" stroke-width="0.8"/>
<line x1="250.94" y1="846.8625000000001" x2="255.54000000000002" y2="846.8625000000001" stroke="#1a1a1a" stroke-width="0.8"/>
<line x1="76.8" y1="820.85625" x2="76.8" y2="829.5250000000001" stroke="#e8383d" stroke-width="0.8"/>
<line x1="74.5" y1="820.85625" x2="79.1" y2="820.85625" stroke="#e8383d" stroke-width="0.8"/>
<line x1="74.5" y1="829.5250000000001" x2="79.1" y2="829.5250000000001" stroke="#e8383d" stroke-width="0.8"/>
<line x1="92.84" y1="820.85625" x2="92.84" y2="831.2587500000001" stroke="#e8383d" stroke-width="0.8"/>
<line x1="90.54" y1="820.85625" x2="95.14" y2="820.85625" stroke="#e8383d" stroke-width="0.8"/>
<line x1="90.54" y1="831.2587500000001" x2="95.14" y2="831.2587500000001" stroke="#e8383d" stroke-width="0.8"/>
<line x1="108.88" y1="819.989375" x2="108.88" y2="828.658125" stroke="#e8383d" stroke-width="0.8"/>
<line x1="106.58" y1="819.989375" x2="111.17999999999999" y2="819.989375" stroke="#e8383d" stroke-width="0.8"/>
<line x1="106.58" y1="828.658125" x2="111.17999999999999" y2="828.658125" stroke="#e8383d" stroke-width="0.8"/>
<line x1="124.91999999999999" y1="832.819125" x2="124.91999999999999" y2="838.0203750000001" stroke="#e8383d" stroke-width="0.8"/>
<line x1="122.61999999999999" y1="832.819125" x2="127.21999999999998" y2="832.819125" stroke="#e8383d" stroke-width="0.8"/>
<line x1="122.61999999999999" y1="838.0203750000001" x2="127.21999999999998" y2="838.0203750000001" stroke="#e8383d" stroke-width="0.8"/>
<line x1="140.95999999999998" y1="834.3795" x2="140.95999999999998" y2="839.5807500000001" stroke="#e8383d" stroke-width="0.8"/>
<line x1="138.65999999999997" y1="834.3795" x2="143.26" y2="834.3795" stroke="#e8383d" stroke-width="0.8"/>
<line x1="138.65999999999997" y1="839.5807500000001" x2="143.26" y2="839.5807500000001" stroke="#e8383d" stroke-width="0.8"/>
<line x1="157.0" y1="834.72625" x2="157.0" y2="839.9275" stroke="#e8383d" stroke-width="0.8"/>
<line x1="154.7" y1="834.72625" x2="159.3" y2="834.72625" stroke="#e8383d" stroke-width="0.8"/>
<line x1="154.7" y1="839.9275" x2="159.3" y2="839.9275" stroke="#e8383d" stroke-width="0.8"/>
<line x1="173.04" y1="773.178125" x2="173.04" y2="790.515625" stroke="#e8383d" stroke-width="0.8"/>
<line x1="170.73999999999998" y1="773.178125" x2="175.34" y2="773.178125" stroke="#e8383d" stroke-width="0.8"/>
<line x1="170.73999999999998" y1="790.515625" x2="175.34" y2="790.515625" stroke="#e8383d" stroke-width="0.8"/>
<line x1="189.07999999999998" y1="780.113125" x2="189.07999999999998" y2="790.515625" stroke="#e8383d" stroke-width="0.8"/>
<line x1="186.77999999999997" y1="780.113125" x2="191.38" y2="780.113125" stroke="#e8383d" stroke-width="0.8"/>
<line x1="186.77999999999997" y1="790.515625" x2="191.38" y2="790.515625" stroke="#e8383d" stroke-width="0.8"/>
<line x1="205.12" y1="778.8995" x2="205.12" y2="789.302" stroke="#e8383d" stroke-width="0.8"/>
<line x1="202.82" y1="778.8995" x2="207.42000000000002" y2="778.8995" stroke="#e8383d" stroke-width="0.8"/>
<line x1="202.82" y1="789.302" x2="207.42000000000002" y2="789.302" stroke="#e8383d" stroke-width="0.8"/>
<line x1="221.15999999999997" y1="848.076125" x2="221.15999999999997" y2="851.543625" stroke="#e8383d" stroke-width="0.8"/>
<line x1="218.85999999999996" y1="848.076125" x2="223.45999999999998" y2="848.076125" stroke="#e8383d" stroke-width="0.8"/>
<line x1="218.85999999999996" y1="851.543625" x2="223.45999999999998" y2="851.543625" stroke="#e8383d" stroke-width="0.8"/>
<line x1="237.2" y1="848.076125" x2="237.2" y2="851.543625" stroke="#e8383d" stroke-width="0.8"/>
<line x1="234.89999999999998" y1="848.076125" x2="239.5" y2="848.076125" stroke="#e8383d" stroke-width="0.8"/>
<line x1="234.89999999999998" y1="851.543625" x2="239.5" y2="851.543625" stroke="#e8383d" stroke-width="0.8"/>
<line x1="253.24" y1="847.729375" x2="253.24" y2="851.1968750000001" stroke="#e8383d" stroke-width="0.8"/>
<line x1="250.94" y1="847.729375" x2="255.54000000000002" y2="847.729375" stroke="#e8383d" stroke-width="0.8"/>
<line x1="250.94" y1="851.1968750000001" x2="255.54000000000002" y2="851.1968750000001" stroke="#e8383d" stroke-width="0.8"/>
<polyline points="76.80,823.46 92.84,821.72 108.88,824.32 124.92,845.13 140.96,846.00 157.00,846.00 173.04,789.65 189.08,789.65 205.12,787.91 221.16,852.93 237.20,853.80 253.24,853.80" fill="none" stroke="#1a1a1a" stroke-width="0.9"/>
<circle cx="76.80" cy="823.46" r="2.55" fill="#fff" stroke="#1a1a1a" stroke-width="1.0"/>
<circle cx="92.84" cy="821.72" r="2.55" fill="#fff" stroke="#1a1a1a" stroke-width="1.0"/>
<circle cx="108.88" cy="824.32" r="2.55" fill="#fff" stroke="#1a1a1a" stroke-width="1.0"/>
<circle cx="124.92" cy="845.13" r="2.55" fill="#fff" stroke="#1a1a1a" stroke-width="1.0"/>
<circle cx="140.96" cy="846.00" r="2.55" fill="#fff" stroke="#1a1a1a" stroke-width="1.0"/>
<circle cx="157.00" cy="846.00" r="2.55" fill="#fff" stroke="#1a1a1a" stroke-width="1.0"/>
<circle cx="173.04" cy="789.65" r="2.55" fill="#fff" stroke="#1a1a1a" stroke-width="1.0"/>
<circle cx="189.08" cy="789.65" r="2.55" fill="#fff" stroke="#1a1a1a" stroke-width="1.0"/>
<circle cx="205.12" cy="787.91" r="2.55" fill="#fff" stroke="#1a1a1a" stroke-width="1.0"/>
<circle cx="221.16" cy="852.93" r="2.55" fill="#fff" stroke="#1a1a1a" stroke-width="1.0"/>
<circle cx="237.20" cy="853.80" r="2.55" fill="#fff" stroke="#1a1a1a" stroke-width="1.0"/>
<circle cx="253.24" cy="853.80" r="2.55" fill="#fff" stroke="#1a1a1a" stroke-width="1.0"/>
<polyline points="76.80,819.12 92.84,819.99 108.88,822.59 124.92,844.26 140.96,845.13 157.00,845.13 173.04,786.53 189.08,787.39 205.12,783.93 221.16,851.20 237.20,852.06 253.24,852.06" fill="none" stroke="#e8383d" stroke-width="0.9"/>
<circle cx="76.80" cy="819.12" r="2.55" fill="#fff" stroke="#e8383d" stroke-width="1.0"/>
<circle cx="92.84" cy="819.99" r="2.55" fill="#fff" stroke="#e8383d" stroke-width="1.0"/>
<circle cx="108.88" cy="822.59" r="2.55" fill="#fff" stroke="#e8383d" stroke-width="1.0"/>
<circle cx="124.92" cy="844.26" r="2.55" fill="#fff" stroke="#e8383d" stroke-width="1.0"/>
<circle cx="140.96" cy="845.13" r="2.55" fill="#fff" stroke="#e8383d" stroke-width="1.0"/>
<circle cx="157.00" cy="845.13" r="2.55" fill="#fff" stroke="#e8383d" stroke-width="1.0"/>
<circle cx="173.04" cy="786.53" r="2.55" fill="#fff" stroke="#e8383d" stroke-width="1.0"/>
<circle cx="189.08" cy="787.39" r="2.55" fill="#fff" stroke="#e8383d" stroke-width="1.0"/>
<circle cx="205.12" cy="783.93" r="2.55" fill="#fff" stroke="#e8383d" stroke-width="1.0"/>
<circle cx="221.16" cy="851.20" r="2.55" fill="#fff" stroke="#e8383d" stroke-width="1.0"/>
<circle cx="237.20" cy="852.06" r="2.55" fill="#fff" stroke="#e8383d" stroke-width="1.0"/>
<circle cx="253.24" cy="852.06" r="2.55" fill="#fff" stroke="#e8383d" stroke-width="1.0"/>
<polyline points="76.80,795.72 92.84,796.58 108.88,795.72 124.92,820.34 140.96,820.86 157.00,820.86 173.04,738.50 189.08,740.24 205.12,741.97 221.16,846.34 237.20,844.26 253.24,845.13" fill="none" stroke="#1a1a1a" stroke-width="0.9"/>
<circle cx="76.80" cy="795.72" r="2.9" fill="#1a1a1a"/>
<circle cx="92.84" cy="796.58" r="2.9" fill="#1a1a1a"/>
<circle cx="108.88" cy="795.72" r="2.9" fill="#1a1a1a"/>
<circle cx="124.92" cy="820.34" r="2.9" fill="#1a1a1a"/>
<circle cx="140.96" cy="820.86" r="2.9" fill="#1a1a1a"/>
<circle cx="157.00" cy="820.86" r="2.9" fill="#1a1a1a"/>
<circle cx="173.04" cy="738.50" r="2.9" fill="#1a1a1a"/>
<circle cx="189.08" cy="740.24" r="2.9" fill="#1a1a1a"/>
<circle cx="205.12" cy="741.97" r="2.9" fill="#1a1a1a"/>
<circle cx="221.16" cy="846.34" r="2.9" fill="#1a1a1a"/>
<circle cx="237.20" cy="844.26" r="2.9" fill="#1a1a1a"/>
<circle cx="253.24" cy="845.13" r="2.9" fill="#1a1a1a"/>
<polyline points="76.80,825.19 92.84,826.06 108.88,824.32 124.92,835.42 140.96,836.98 157.00,837.33 173.04,781.85 189.08,785.31 205.12,784.10 221.16,849.81 237.20,849.81 253.24,849.46" fill="none" stroke="#e8383d" stroke-width="0.9"/>
<circle cx="76.80" cy="825.19" r="2.9" fill="#e8383d"/>
<circle cx="92.84" cy="826.06" r="2.9" fill="#e8383d"/>
<circle cx="108.88" cy="824.32" r="2.9" fill="#e8383d"/>
<circle cx="124.92" cy="835.42" r="2.9" fill="#e8383d"/>
<circle cx="140.96" cy="836.98" r="2.9" fill="#e8383d"/>
<circle cx="157.00" cy="837.33" r="2.9" fill="#e8383d"/>
<circle cx="173.04" cy="781.85" r="2.9" fill="#e8383d"/>
<circle cx="189.08" cy="785.31" r="2.9" fill="#e8383d"/>
<circle cx="205.12" cy="784.10" r="2.9" fill="#e8383d"/>
<circle cx="221.16" cy="849.81" r="2.9" fill="#e8383d"/>
<circle cx="237.20" cy="849.81" r="2.9" fill="#e8383d"/>
<circle cx="253.24" cy="849.46" r="2.9" fill="#e8383d"/>
<line x1="74.9" y1="776.7" x2="109" y2="776.7" stroke="#666" stroke-width="1.0"/>
<text x="92" y="774.3" font-size="8.6" text-anchor="middle" fill="#333">P=0.034</text>
<line x1="121.4" y1="805.6" x2="157.1" y2="805.6" stroke="#666" stroke-width="1.0"/>
<text x="139.2" y="803.3" font-size="8.6" text-anchor="middle" fill="#333">P=0.017</text>
<line x1="165.3" y1="718.9" x2="199.9" y2="718.9" stroke="#666" stroke-width="1.0"/>
<text x="182.6" y="716.6" font-size="8.6" text-anchor="middle" fill="#333">P=0.009</text>
<text x="88.8" y="873.4" font-size="9.6" text-anchor="middle" fill="#222">Basal</text>
<text x="134" y="873.4" font-size="9.6" text-anchor="middle" fill="#222">Oligomycin</text>
<text x="183.3" y="873.4" font-size="9.6" text-anchor="middle" fill="#222">FCCP</text>
<text x="232.7" y="873.4" font-size="9.6" text-anchor="middle" fill="#222">Antimycin</text>
<text x="47.3" y="801.2" font-size="10" text-anchor="middle" fill="#333" transform="rotate(-90 47.3 801.2)">OCR(pMoles/min/10^4 cell)</text>
<line x1="251" y1="729.7" x2="265" y2="729.7" stroke="#1a1a1a" stroke-width="0.9"/>
<circle cx="258.0" cy="729.7" r="2.55" fill="#fff" stroke="#1a1a1a" stroke-width="1.0"/>
<text x="270" y="733.1" font-size="9.6" text-anchor="start" fill="#222">+/+</text>
<line x1="251" y1="746.3" x2="265" y2="746.3" stroke="#e8383d" stroke-width="0.9"/>
<circle cx="258.0" cy="746.3" r="2.55" fill="#fff" stroke="#e8383d" stroke-width="1.0"/>
<text x="270" y="749.6999999999999" font-size="9.6" text-anchor="start" fill="#222"><tspan font-style="italic">Pnpla7<tspan font-size="5.6" dy="-3.1">Tg</tspan></tspan></text>
<line x1="251" y1="763.2" x2="265" y2="763.2" stroke="#1a1a1a" stroke-width="0.9"/>
<circle cx="258.0" cy="763.2" r="2.9" fill="#1a1a1a"/>
<text x="270" y="766.6" font-size="9.6" text-anchor="start" fill="#222">+/+ +T3</text>
<line x1="251" y1="780.4" x2="265" y2="780.4" stroke="#e8383d" stroke-width="0.9"/>
<circle cx="258.0" cy="780.4" r="2.9" fill="#e8383d"/>
<text x="270" y="783.8" font-size="9.6" text-anchor="start" fill="#222"><tspan font-style="italic">Pnpla7<tspan font-size="5.6" dy="-3.1">Tg</tspan></tspan><tspan dy="3.3"> +T3</tspan></text>
<line x1="430.1" y1="724.7" x2="430.1" y2="863.8" stroke="#333" stroke-width="1.0"/>
<line x1="429.6" y1="863.4" x2="611.3" y2="863.4" stroke="#333" stroke-width="1.0"/>
<line x1="425.5" y1="863.4" x2="430.1" y2="863.4" stroke="#333" stroke-width="1.1"/>
<text x="424.5" y="867.3" font-size="10.2" text-anchor="end" fill="#333" textLength="5.00" lengthAdjust="spacingAndGlyphs">0</text>
<line x1="425.5" y1="843.6285714285714" x2="430.1" y2="843.6285714285714" stroke="#333" stroke-width="1.1"/>
<text x="424.5" y="847.5285714285714" font-size="10.2" text-anchor="end" fill="#333" textLength="10.00" lengthAdjust="spacingAndGlyphs">20</text>
<line x1="425.5" y1="823.8571428571429" x2="430.1" y2="823.8571428571429" stroke="#333" stroke-width="1.1"/>
<text x="424.5" y="827.7571428571429" font-size="10.2" text-anchor="end" fill="#333" textLength="10.00" lengthAdjust="spacingAndGlyphs">40</text>
<line x1="425.5" y1="804.0857142857143" x2="430.1" y2="804.0857142857143" stroke="#333" stroke-width="1.1"/>
<text x="424.5" y="807.9857142857143" font-size="10.2" text-anchor="end" fill="#333" textLength="10.00" lengthAdjust="spacingAndGlyphs">60</text>
<line x1="425.5" y1="784.3142857142857" x2="430.1" y2="784.3142857142857" stroke="#333" stroke-width="1.1"/>
<text x="424.5" y="788.2142857142857" font-size="10.2" text-anchor="end" fill="#333" textLength="10.00" lengthAdjust="spacingAndGlyphs">80</text>
<line x1="425.5" y1="764.5428571428571" x2="430.1" y2="764.5428571428571" stroke="#333" stroke-width="1.1"/>
<text x="424.5" y="768.4428571428571" font-size="10.2" text-anchor="end" fill="#333" textLength="15.00" lengthAdjust="spacingAndGlyphs">100</text>
<line x1="425.5" y1="744.7714285714286" x2="430.1" y2="744.7714285714286" stroke="#333" stroke-width="1.1"/>
<text x="424.5" y="748.6714285714286" font-size="10.2" text-anchor="end" fill="#333" textLength="15.00" lengthAdjust="spacingAndGlyphs">120</text>
<line x1="425.5" y1="725.0" x2="430.1" y2="725.0" stroke="#333" stroke-width="1.1"/>
<text x="424.5" y="728.9" font-size="10.2" text-anchor="end" fill="#333" textLength="15.00" lengthAdjust="spacingAndGlyphs">140</text>
<line x1="471.4" y1="723" x2="471.4" y2="863.4" stroke="#333" stroke-width="0.8" stroke-dasharray="2.2,1.6"/>
<line x1="516.2" y1="723" x2="516.2" y2="863.4" stroke="#333" stroke-width="0.8" stroke-dasharray="2.2,1.6"/>
<line x1="560.5" y1="723" x2="560.5" y2="863.4" stroke="#333" stroke-width="0.8" stroke-dasharray="2.2,1.6"/>
<line x1="442.5" y1="838.6857142857143" x2="442.5" y2="842.64" stroke="#1a1a1a" stroke-width="0.8"/>
<line x1="440.2" y1="838.6857142857143" x2="444.8" y2="838.6857142857143" stroke="#1a1a1a" stroke-width="0.8"/>
<line x1="440.2" y1="842.64" x2="444.8" y2="842.64" stroke="#1a1a1a" stroke-width="0.8"/>
<line x1="457.2" y1="839.0811428571428" x2="457.2" y2="843.0354285714286" stroke="#1a1a1a" stroke-width="0.8"/>
<line x1="454.9" y1="839.0811428571428" x2="459.5" y2="839.0811428571428" stroke="#1a1a1a" stroke-width="0.8"/>
<line x1="454.9" y1="843.0354285714286" x2="459.5" y2="843.0354285714286" stroke="#1a1a1a" stroke-width="0.8"/>
<line x1="471.9" y1="841.1571428571428" x2="471.9" y2="845.1114285714285" stroke="#1a1a1a" stroke-width="0.8"/>
<line x1="469.59999999999997" y1="841.1571428571428" x2="474.2" y2="841.1571428571428" stroke="#1a1a1a" stroke-width="0.8"/>
<line x1="469.59999999999997" y1="845.1114285714285" x2="474.2" y2="845.1114285714285" stroke="#1a1a1a" stroke-width="0.8"/>
<line x1="486.6" y1="848.2748571428572" x2="486.6" y2="850.252" stroke="#1a1a1a" stroke-width="0.8"/>
<line x1="484.3" y1="848.2748571428572" x2="488.90000000000003" y2="848.2748571428572" stroke="#1a1a1a" stroke-width="0.8"/>
<line x1="484.3" y1="850.252" x2="488.90000000000003" y2="850.252" stroke="#1a1a1a" stroke-width="0.8"/>
<line x1="501.3" y1="849.56" x2="501.3" y2="851.5371428571428" stroke="#1a1a1a" stroke-width="0.8"/>
<line x1="499.0" y1="849.56" x2="503.6" y2="849.56" stroke="#1a1a1a" stroke-width="0.8"/>
<line x1="499.0" y1="851.5371428571428" x2="503.6" y2="851.5371428571428" stroke="#1a1a1a" stroke-width="0.8"/>
<line x1="516.0" y1="849.56" x2="516.0" y2="851.5371428571428" stroke="#1a1a1a" stroke-width="0.8"/>
<line x1="513.7" y1="849.56" x2="518.3" y2="849.56" stroke="#1a1a1a" stroke-width="0.8"/>
<line x1="513.7" y1="851.5371428571428" x2="518.3" y2="851.5371428571428" stroke="#1a1a1a" stroke-width="0.8"/>
<line x1="530.7" y1="823.4617142857143" x2="530.7" y2="829.3931428571428" stroke="#1a1a1a" stroke-width="0.8"/>
<line x1="528.4000000000001" y1="823.4617142857143" x2="533.0" y2="823.4617142857143" stroke="#1a1a1a" stroke-width="0.8"/>
<line x1="528.4000000000001" y1="829.3931428571428" x2="533.0" y2="829.3931428571428" stroke="#1a1a1a" stroke-width="0.8"/>
<line x1="545.4" y1="825.8342857142857" x2="545.4" y2="831.7657142857142" stroke="#1a1a1a" stroke-width="0.8"/>
<line x1="543.1" y1="825.8342857142857" x2="547.6999999999999" y2="825.8342857142857" stroke="#1a1a1a" stroke-width="0.8"/>
<line x1="543.1" y1="831.7657142857142" x2="547.6999999999999" y2="831.7657142857142" stroke="#1a1a1a" stroke-width="0.8"/>
<line x1="560.1" y1="825.34" x2="560.1" y2="831.2714285714286" stroke="#1a1a1a" stroke-width="0.8"/>
<line x1="557.8000000000001" y1="825.34" x2="562.4" y2="825.34" stroke="#1a1a1a" stroke-width="0.8"/>
<line x1="557.8000000000001" y1="831.2714285714286" x2="562.4" y2="831.2714285714286" stroke="#1a1a1a" stroke-width="0.8"/>
<line x1="574.8" y1="854.5028571428571" x2="574.8" y2="856.48" stroke="#1a1a1a" stroke-width="0.8"/>
<line x1="572.5" y1="854.5028571428571" x2="577.0999999999999" y2="854.5028571428571" stroke="#1a1a1a" stroke-width="0.8"/>
<line x1="572.5" y1="856.48" x2="577.0999999999999" y2="856.48" stroke="#1a1a1a" stroke-width="0.8"/>
<line x1="589.5" y1="854.9971428571429" x2="589.5" y2="856.9742857142857" stroke="#1a1a1a" stroke-width="0.8"/>
<line x1="587.2" y1="854.9971428571429" x2="591.8" y2="854.9971428571429" stroke="#1a1a1a" stroke-width="0.8"/>
<line x1="587.2" y1="856.9742857142857" x2="591.8" y2="856.9742857142857" stroke="#1a1a1a" stroke-width="0.8"/>
<line x1="604.2" y1="854.9971428571429" x2="604.2" y2="856.9742857142857" stroke="#1a1a1a" stroke-width="0.8"/>
<line x1="601.9000000000001" y1="854.9971428571429" x2="606.5" y2="854.9971428571429" stroke="#1a1a1a" stroke-width="0.8"/>
<line x1="601.9000000000001" y1="856.9742857142857" x2="606.5" y2="856.9742857142857" stroke="#1a1a1a" stroke-width="0.8"/>
<line x1="442.5" y1="833.3474285714285" x2="442.5" y2="837.3017142857143" stroke="#27a9e1" stroke-width="0.8"/>
<line x1="440.2" y1="833.3474285714285" x2="444.8" y2="833.3474285714285" stroke="#27a9e1" stroke-width="0.8"/>
<line x1="440.2" y1="837.3017142857143" x2="444.8" y2="837.3017142857143" stroke="#27a9e1" stroke-width="0.8"/>
<line x1="457.2" y1="834.1382857142856" x2="457.2" y2="838.0925714285714" stroke="#27a9e1" stroke-width="0.8"/>
<line x1="454.9" y1="834.1382857142856" x2="459.5" y2="834.1382857142856" stroke="#27a9e1" stroke-width="0.8"/>
<line x1="454.9" y1="838.0925714285714" x2="459.5" y2="838.0925714285714" stroke="#27a9e1" stroke-width="0.8"/>
<line x1="471.9" y1="836.5108571428572" x2="471.9" y2="840.4651428571428" stroke="#27a9e1" stroke-width="0.8"/>
<line x1="469.59999999999997" y1="836.5108571428572" x2="474.2" y2="836.5108571428572" stroke="#27a9e1" stroke-width="0.8"/>
<line x1="469.59999999999997" y1="840.4651428571428" x2="474.2" y2="840.4651428571428" stroke="#27a9e1" stroke-width="0.8"/>
<line x1="486.6" y1="845.3091428571429" x2="486.6" y2="847.2862857142857" stroke="#27a9e1" stroke-width="0.8"/>
<line x1="484.3" y1="845.3091428571429" x2="488.90000000000003" y2="845.3091428571429" stroke="#27a9e1" stroke-width="0.8"/>
<line x1="484.3" y1="847.2862857142857" x2="488.90000000000003" y2="847.2862857142857" stroke="#27a9e1" stroke-width="0.8"/>
<line x1="501.3" y1="846.1" x2="501.3" y2="848.0771428571428" stroke="#27a9e1" stroke-width="0.8"/>
<line x1="499.0" y1="846.1" x2="503.6" y2="846.1" stroke="#27a9e1" stroke-width="0.8"/>
<line x1="499.0" y1="848.0771428571428" x2="503.6" y2="848.0771428571428" stroke="#27a9e1" stroke-width="0.8"/>
<line x1="516.0" y1="846.5942857142857" x2="516.0" y2="848.5714285714286" stroke="#27a9e1" stroke-width="0.8"/>
<line x1="513.7" y1="846.5942857142857" x2="518.3" y2="846.5942857142857" stroke="#27a9e1" stroke-width="0.8"/>
<line x1="513.7" y1="848.5714285714286" x2="518.3" y2="848.5714285714286" stroke="#27a9e1" stroke-width="0.8"/>
<line x1="530.7" y1="805.4697142857143" x2="530.7" y2="813.3782857142857" stroke="#27a9e1" stroke-width="0.8"/>
<line x1="528.4000000000001" y1="805.4697142857143" x2="533.0" y2="805.4697142857143" stroke="#27a9e1" stroke-width="0.8"/>
<line x1="528.4000000000001" y1="813.3782857142857" x2="533.0" y2="813.3782857142857" stroke="#27a9e1" stroke-width="0.8"/>
<line x1="545.4" y1="810.808" x2="545.4" y2="818.7165714285715" stroke="#27a9e1" stroke-width="0.8"/>
<line x1="543.1" y1="810.808" x2="547.6999999999999" y2="810.808" stroke="#27a9e1" stroke-width="0.8"/>
<line x1="543.1" y1="818.7165714285715" x2="547.6999999999999" y2="818.7165714285715" stroke="#27a9e1" stroke-width="0.8"/>
<line x1="560.1" y1="810.808" x2="560.1" y2="818.7165714285715" stroke="#27a9e1" stroke-width="0.8"/>
<line x1="557.8000000000001" y1="810.808" x2="562.4" y2="810.808" stroke="#27a9e1" stroke-width="0.8"/>
<line x1="557.8000000000001" y1="818.7165714285715" x2="562.4" y2="818.7165714285715" stroke="#27a9e1" stroke-width="0.8"/>
<line x1="574.8" y1="852.5257142857142" x2="574.8" y2="854.5028571428571" stroke="#27a9e1" stroke-width="0.8"/>
<line x1="572.5" y1="852.5257142857142" x2="577.0999999999999" y2="852.5257142857142" stroke="#27a9e1" stroke-width="0.8"/>
<line x1="572.5" y1="854.5028571428571" x2="577.0999999999999" y2="854.5028571428571" stroke="#27a9e1" stroke-width="0.8"/>
<line x1="589.5" y1="852.5257142857142" x2="589.5" y2="854.5028571428571" stroke="#27a9e1" stroke-width="0.8"/>
<line x1="587.2" y1="852.5257142857142" x2="591.8" y2="852.5257142857142" stroke="#27a9e1" stroke-width="0.8"/>
<line x1="587.2" y1="854.5028571428571" x2="591.8" y2="854.5028571428571" stroke="#27a9e1" stroke-width="0.8"/>
<line x1="604.2" y1="852.5257142857142" x2="604.2" y2="854.5028571428571" stroke="#27a9e1" stroke-width="0.8"/>
<line x1="601.9000000000001" y1="852.5257142857142" x2="606.5" y2="852.5257142857142" stroke="#27a9e1" stroke-width="0.8"/>
<line x1="601.9000000000001" y1="854.5028571428571" x2="606.5" y2="854.5028571428571" stroke="#27a9e1" stroke-width="0.8"/>
<line x1="442.5" y1="803.3937142857143" x2="442.5" y2="817.2337142857143" stroke="#27a9e1" stroke-width="0.8"/>
<line x1="440.2" y1="803.3937142857143" x2="444.8" y2="803.3937142857143" stroke="#27a9e1" stroke-width="0.8"/>
<line x1="440.2" y1="817.2337142857143" x2="444.8" y2="817.2337142857143" stroke="#27a9e1" stroke-width="0.8"/>
<line x1="457.2" y1="805.2719999999999" x2="457.2" y2="819.112" stroke="#27a9e1" stroke-width="0.8"/>
<line x1="454.9" y1="805.2719999999999" x2="459.5" y2="805.2719999999999" stroke="#27a9e1" stroke-width="0.8"/>
<line x1="454.9" y1="819.112" x2="459.5" y2="819.112" stroke="#27a9e1" stroke-width="0.8"/>
<line x1="471.9" y1="805.2719999999999" x2="471.9" y2="819.112" stroke="#27a9e1" stroke-width="0.8"/>
<line x1="469.59999999999997" y1="805.2719999999999" x2="474.2" y2="805.2719999999999" stroke="#27a9e1" stroke-width="0.8"/>
<line x1="469.59999999999997" y1="819.112" x2="474.2" y2="819.112" stroke="#27a9e1" stroke-width="0.8"/>
<line x1="486.6" y1="837.6971428571428" x2="486.6" y2="841.6514285714286" stroke="#27a9e1" stroke-width="0.8"/>
<line x1="484.3" y1="837.6971428571428" x2="488.90000000000003" y2="837.6971428571428" stroke="#27a9e1" stroke-width="0.8"/>
<line x1="484.3" y1="841.6514285714286" x2="488.90000000000003" y2="841.6514285714286" stroke="#27a9e1" stroke-width="0.8"/>
<line x1="501.3" y1="836.7085714285714" x2="501.3" y2="840.6628571428571" stroke="#27a9e1" stroke-width="0.8"/>
<line x1="499.0" y1="836.7085714285714" x2="503.6" y2="836.7085714285714" stroke="#27a9e1" stroke-width="0.8"/>
<line x1="499.0" y1="840.6628571428571" x2="503.6" y2="840.6628571428571" stroke="#27a9e1" stroke-width="0.8"/>
<line x1="516.0" y1="835.72" x2="516.0" y2="839.6742857142857" stroke="#27a9e1" stroke-width="0.8"/>
<line x1="513.7" y1="835.72" x2="518.3" y2="835.72" stroke="#27a9e1" stroke-width="0.8"/>
<line x1="513.7" y1="839.6742857142857" x2="518.3" y2="839.6742857142857" stroke="#27a9e1" stroke-width="0.8"/>
<line x1="530.7" y1="738.0491428571429" x2="530.7" y2="761.7748571428572" stroke="#27a9e1" stroke-width="0.8"/>
<line x1="528.4000000000001" y1="738.0491428571429" x2="533.0" y2="738.0491428571429" stroke="#27a9e1" stroke-width="0.8"/>
<line x1="528.4000000000001" y1="761.7748571428572" x2="533.0" y2="761.7748571428572" stroke="#27a9e1" stroke-width="0.8"/>
<line x1="545.4" y1="743.0908571428571" x2="545.4" y2="764.8394285714286" stroke="#27a9e1" stroke-width="0.8"/>
<line x1="543.1" y1="743.0908571428571" x2="547.6999999999999" y2="743.0908571428571" stroke="#27a9e1" stroke-width="0.8"/>
<line x1="543.1" y1="764.8394285714286" x2="547.6999999999999" y2="764.8394285714286" stroke="#27a9e1" stroke-width="0.8"/>
<line x1="560.1" y1="740.224" x2="560.1" y2="763.9497142857143" stroke="#27a9e1" stroke-width="0.8"/>
<line x1="557.8000000000001" y1="740.224" x2="562.4" y2="740.224" stroke="#27a9e1" stroke-width="0.8"/>
<line x1="557.8000000000001" y1="763.9497142857143" x2="562.4" y2="763.9497142857143" stroke="#27a9e1" stroke-width="0.8"/>
<line x1="574.8" y1="851.0428571428571" x2="574.8" y2="853.02" stroke="#27a9e1" stroke-width="0.8"/>
<line x1="572.5" y1="851.0428571428571" x2="577.0999999999999" y2="851.0428571428571" stroke="#27a9e1" stroke-width="0.8"/>
<line x1="572.5" y1="853.02" x2="577.0999999999999" y2="853.02" stroke="#27a9e1" stroke-width="0.8"/>
<line x1="589.5" y1="850.5485714285714" x2="589.5" y2="852.5257142857142" stroke="#27a9e1" stroke-width="0.8"/>
<line x1="587.2" y1="850.5485714285714" x2="591.8" y2="850.5485714285714" stroke="#27a9e1" stroke-width="0.8"/>
<line x1="587.2" y1="852.5257142857142" x2="591.8" y2="852.5257142857142" stroke="#27a9e1" stroke-width="0.8"/>
<line x1="604.2" y1="851.0428571428571" x2="604.2" y2="853.02" stroke="#27a9e1" stroke-width="0.8"/>
<line x1="601.9000000000001" y1="851.0428571428571" x2="606.5" y2="851.0428571428571" stroke="#27a9e1" stroke-width="0.8"/>
<line x1="601.9000000000001" y1="853.02" x2="606.5" y2="853.02" stroke="#27a9e1" stroke-width="0.8"/>
<line x1="442.5" y1="816.7394285714286" x2="442.5" y2="826.6251428571428" stroke="#1a1a1a" stroke-width="0.8"/>
<line x1="440.2" y1="816.7394285714286" x2="444.8" y2="816.7394285714286" stroke="#1a1a1a" stroke-width="0.8"/>
<line x1="440.2" y1="826.6251428571428" x2="444.8" y2="826.6251428571428" stroke="#1a1a1a" stroke-width="0.8"/>
<line x1="457.2" y1="816.7394285714286" x2="457.2" y2="826.6251428571428" stroke="#1a1a1a" stroke-width="0.8"/>
<line x1="454.9" y1="816.7394285714286" x2="459.5" y2="816.7394285714286" stroke="#1a1a1a" stroke-width="0.8"/>
<line x1="454.9" y1="826.6251428571428" x2="459.5" y2="826.6251428571428" stroke="#1a1a1a" stroke-width="0.8"/>
<line x1="471.9" y1="814.96" x2="471.9" y2="826.8228571428572" stroke="#1a1a1a" stroke-width="0.8"/>
<line x1="469.59999999999997" y1="814.96" x2="474.2" y2="814.96" stroke="#1a1a1a" stroke-width="0.8"/>
<line x1="469.59999999999997" y1="826.8228571428572" x2="474.2" y2="826.8228571428572" stroke="#1a1a1a" stroke-width="0.8"/>
<line x1="486.6" y1="836.7085714285714" x2="486.6" y2="840.6628571428571" stroke="#1a1a1a" stroke-width="0.8"/>
<line x1="484.3" y1="836.7085714285714" x2="488.90000000000003" y2="836.7085714285714" stroke="#1a1a1a" stroke-width="0.8"/>
<line x1="484.3" y1="840.6628571428571" x2="488.90000000000003" y2="840.6628571428571" stroke="#1a1a1a" stroke-width="0.8"/>
<line x1="501.3" y1="835.72" x2="501.3" y2="839.6742857142857" stroke="#1a1a1a" stroke-width="0.8"/>
<line x1="499.0" y1="835.72" x2="503.6" y2="835.72" stroke="#1a1a1a" stroke-width="0.8"/>
<line x1="499.0" y1="839.6742857142857" x2="503.6" y2="839.6742857142857" stroke="#1a1a1a" stroke-width="0.8"/>
<line x1="516.0" y1="835.1268571428571" x2="516.0" y2="839.0811428571428" stroke="#1a1a1a" stroke-width="0.8"/>
<line x1="513.7" y1="835.1268571428571" x2="518.3" y2="835.1268571428571" stroke="#1a1a1a" stroke-width="0.8"/>
<line x1="513.7" y1="839.0811428571428" x2="518.3" y2="839.0811428571428" stroke="#1a1a1a" stroke-width="0.8"/>
<line x1="530.7" y1="790.6411428571429" x2="530.7" y2="806.4582857142857" stroke="#1a1a1a" stroke-width="0.8"/>
<line x1="528.4000000000001" y1="790.6411428571429" x2="533.0" y2="790.6411428571429" stroke="#1a1a1a" stroke-width="0.8"/>
<line x1="528.4000000000001" y1="806.4582857142857" x2="533.0" y2="806.4582857142857" stroke="#1a1a1a" stroke-width="0.8"/>
<line x1="545.4" y1="787.4777142857142" x2="545.4" y2="805.2719999999999" stroke="#1a1a1a" stroke-width="0.8"/>
<line x1="543.1" y1="787.4777142857142" x2="547.6999999999999" y2="787.4777142857142" stroke="#1a1a1a" stroke-width="0.8"/>
<line x1="543.1" y1="805.2719999999999" x2="547.6999999999999" y2="805.2719999999999" stroke="#1a1a1a" stroke-width="0.8"/>
<line x1="560.1" y1="790.1468571428571" x2="560.1" y2="805.9639999999999" stroke="#1a1a1a" stroke-width="0.8"/>
<line x1="557.8000000000001" y1="790.1468571428571" x2="562.4" y2="790.1468571428571" stroke="#1a1a1a" stroke-width="0.8"/>
<line x1="557.8000000000001" y1="805.9639999999999" x2="562.4" y2="805.9639999999999" stroke="#1a1a1a" stroke-width="0.8"/>
<line x1="574.8" y1="852.5257142857142" x2="574.8" y2="854.5028571428571" stroke="#1a1a1a" stroke-width="0.8"/>
<line x1="572.5" y1="852.5257142857142" x2="577.0999999999999" y2="852.5257142857142" stroke="#1a1a1a" stroke-width="0.8"/>
<line x1="572.5" y1="854.5028571428571" x2="577.0999999999999" y2="854.5028571428571" stroke="#1a1a1a" stroke-width="0.8"/>
<line x1="589.5" y1="851.5371428571428" x2="589.5" y2="853.5142857142857" stroke="#1a1a1a" stroke-width="0.8"/>
<line x1="587.2" y1="851.5371428571428" x2="591.8" y2="851.5371428571428" stroke="#1a1a1a" stroke-width="0.8"/>
<line x1="587.2" y1="853.5142857142857" x2="591.8" y2="853.5142857142857" stroke="#1a1a1a" stroke-width="0.8"/>
<line x1="604.2" y1="852.5257142857142" x2="604.2" y2="854.5028571428571" stroke="#1a1a1a" stroke-width="0.8"/>
<line x1="601.9000000000001" y1="852.5257142857142" x2="606.5" y2="852.5257142857142" stroke="#1a1a1a" stroke-width="0.8"/>
<line x1="601.9000000000001" y1="854.5028571428571" x2="606.5" y2="854.5028571428571" stroke="#1a1a1a" stroke-width="0.8"/>
<polyline points="442.50,840.66 457.20,841.06 471.90,843.13 486.60,849.26 501.30,850.55 516.00,850.55 530.70,826.43 545.40,828.80 560.10,828.31 574.80,855.49 589.50,855.99 604.20,855.99" fill="none" stroke="#1a1a1a" stroke-width="0.9"/>
<circle cx="442.50" cy="840.66" r="2.55" fill="#fff" stroke="#1a1a1a" stroke-width="1.0"/>
<circle cx="457.20" cy="841.06" r="2.55" fill="#fff" stroke="#1a1a1a" stroke-width="1.0"/>
<circle cx="471.90" cy="843.13" r="2.55" fill="#fff" stroke="#1a1a1a" stroke-width="1.0"/>
<circle cx="486.60" cy="849.26" r="2.55" fill="#fff" stroke="#1a1a1a" stroke-width="1.0"/>
<circle cx="501.30" cy="850.55" r="2.55" fill="#fff" stroke="#1a1a1a" stroke-width="1.0"/>
<circle cx="516.00" cy="850.55" r="2.55" fill="#fff" stroke="#1a1a1a" stroke-width="1.0"/>
<circle cx="530.70" cy="826.43" r="2.55" fill="#fff" stroke="#1a1a1a" stroke-width="1.0"/>
<circle cx="545.40" cy="828.80" r="2.55" fill="#fff" stroke="#1a1a1a" stroke-width="1.0"/>
<circle cx="560.10" cy="828.31" r="2.55" fill="#fff" stroke="#1a1a1a" stroke-width="1.0"/>
<circle cx="574.80" cy="855.49" r="2.55" fill="#fff" stroke="#1a1a1a" stroke-width="1.0"/>
<circle cx="589.50" cy="855.99" r="2.55" fill="#fff" stroke="#1a1a1a" stroke-width="1.0"/>
<circle cx="604.20" cy="855.99" r="2.55" fill="#fff" stroke="#1a1a1a" stroke-width="1.0"/>
<polyline points="442.50,835.32 457.20,836.12 471.90,838.49 486.60,846.30 501.30,847.09 516.00,847.58 530.70,809.42 545.40,814.76 560.10,814.76 574.80,853.51 589.50,853.51 604.20,853.51" fill="none" stroke="#27a9e1" stroke-width="0.9"/>
<circle cx="442.50" cy="835.32" r="2.55" fill="#fff" stroke="#27a9e1" stroke-width="1.0"/>
<circle cx="457.20" cy="836.12" r="2.55" fill="#fff" stroke="#27a9e1" stroke-width="1.0"/>
<circle cx="471.90" cy="838.49" r="2.55" fill="#fff" stroke="#27a9e1" stroke-width="1.0"/>
<circle cx="486.60" cy="846.30" r="2.55" fill="#fff" stroke="#27a9e1" stroke-width="1.0"/>
<circle cx="501.30" cy="847.09" r="2.55" fill="#fff" stroke="#27a9e1" stroke-width="1.0"/>
<circle cx="516.00" cy="847.58" r="2.55" fill="#fff" stroke="#27a9e1" stroke-width="1.0"/>
<circle cx="530.70" cy="809.42" r="2.55" fill="#fff" stroke="#27a9e1" stroke-width="1.0"/>
<circle cx="545.40" cy="814.76" r="2.55" fill="#fff" stroke="#27a9e1" stroke-width="1.0"/>
<circle cx="560.10" cy="814.76" r="2.55" fill="#fff" stroke="#27a9e1" stroke-width="1.0"/>
<circle cx="574.80" cy="853.51" r="2.55" fill="#fff" stroke="#27a9e1" stroke-width="1.0"/>
<circle cx="589.50" cy="853.51" r="2.55" fill="#fff" stroke="#27a9e1" stroke-width="1.0"/>
<circle cx="604.20" cy="853.51" r="2.55" fill="#fff" stroke="#27a9e1" stroke-width="1.0"/>
<polyline points="442.50,810.31 457.20,812.19 471.90,812.19 486.60,839.67 501.30,838.69 516.00,837.70 530.70,749.91 545.40,753.97 560.10,752.09 574.80,852.03 589.50,851.54 604.20,852.03" fill="none" stroke="#27a9e1" stroke-width="0.9"/>
<circle cx="442.50" cy="810.31" r="2.9" fill="#27a9e1"/>
<circle cx="457.20" cy="812.19" r="2.9" fill="#27a9e1"/>
<circle cx="471.90" cy="812.19" r="2.9" fill="#27a9e1"/>
<circle cx="486.60" cy="839.67" r="2.9" fill="#27a9e1"/>
<circle cx="501.30" cy="838.69" r="2.9" fill="#27a9e1"/>
<circle cx="516.00" cy="837.70" r="2.9" fill="#27a9e1"/>
<circle cx="530.70" cy="749.91" r="2.9" fill="#27a9e1"/>
<circle cx="545.40" cy="753.97" r="2.9" fill="#27a9e1"/>
<circle cx="560.10" cy="752.09" r="2.9" fill="#27a9e1"/>
<circle cx="574.80" cy="852.03" r="2.9" fill="#27a9e1"/>
<circle cx="589.50" cy="851.54" r="2.9" fill="#27a9e1"/>
<circle cx="604.20" cy="852.03" r="2.9" fill="#27a9e1"/>
<polyline points="442.50,821.68 457.20,821.68 471.90,820.89 486.60,838.69 501.30,837.70 516.00,837.10 530.70,798.55 545.40,796.37 560.10,798.06 574.80,853.51 589.50,852.53 604.20,853.51" fill="none" stroke="#1a1a1a" stroke-width="0.9"/>
<circle cx="442.50" cy="821.68" r="2.9" fill="#1a1a1a"/>
<circle cx="457.20" cy="821.68" r="2.9" fill="#1a1a1a"/>
<circle cx="471.90" cy="820.89" r="2.9" fill="#1a1a1a"/>
<circle cx="486.60" cy="838.69" r="2.9" fill="#1a1a1a"/>
<circle cx="501.30" cy="837.70" r="2.9" fill="#1a1a1a"/>
<circle cx="516.00" cy="837.10" r="2.9" fill="#1a1a1a"/>
<circle cx="530.70" cy="798.55" r="2.9" fill="#1a1a1a"/>
<circle cx="545.40" cy="796.37" r="2.9" fill="#1a1a1a"/>
<circle cx="560.10" cy="798.06" r="2.9" fill="#1a1a1a"/>
<circle cx="574.80" cy="853.51" r="2.9" fill="#1a1a1a"/>
<circle cx="589.50" cy="852.53" r="2.9" fill="#1a1a1a"/>
<circle cx="604.20" cy="853.51" r="2.9" fill="#1a1a1a"/>
<line x1="521" y1="731.9" x2="555.9" y2="731.9" stroke="#666" stroke-width="1.0"/>
<text x="538.5" y="729.5" font-size="8.6" text-anchor="middle" fill="#333">P=0.004</text>
<text x="450.4" y="872.3" font-size="9.6" text-anchor="middle" fill="#222">Basal</text>
<text x="495" y="872.3" font-size="9.6" text-anchor="middle" fill="#222">Oligomycin</text>
<text x="540.5" y="872.3" font-size="9.6" text-anchor="middle" fill="#222">FCCP</text>
<text x="585.9" y="872.3" font-size="9.6" text-anchor="middle" fill="#222">Antimycin</text>
<text x="403.3" y="798.5" font-size="10" text-anchor="middle" fill="#333" transform="rotate(-90 403.3 798.5)">OCR(pMoles/min/10^4 cell)</text>
<line x1="609.4" y1="731" x2="623.7" y2="731" stroke="#1a1a1a" stroke-width="0.9"/>
<circle cx="616.55" cy="731" r="2.55" fill="#fff" stroke="#1a1a1a" stroke-width="1.0"/>
<text x="632.3" y="734.4" font-size="9.6" text-anchor="start" fill="#222">Flox</text>
<line x1="609.4" y1="745.9" x2="623.7" y2="745.9" stroke="#27a9e1" stroke-width="0.9"/>
<circle cx="616.55" cy="745.9" r="2.55" fill="#fff" stroke="#27a9e1" stroke-width="1.0"/>
<text x="632.3" y="749.3" font-size="9.6" text-anchor="start" fill="#222">AKO</text>
<line x1="609.4" y1="762.1" x2="623.7" y2="762.1" stroke="#1a1a1a" stroke-width="0.9"/>
<circle cx="616.55" cy="762.1" r="2.9" fill="#1a1a1a"/>
<text x="632.3" y="765.5" font-size="9.6" text-anchor="start" fill="#222">Flox +T3</text>
<line x1="609.4" y1="780.2" x2="623.7" y2="780.2" stroke="#27a9e1" stroke-width="0.9"/>
<circle cx="616.55" cy="780.2" r="2.9" fill="#27a9e1"/>
<text x="632.3" y="783.6" font-size="9.6" text-anchor="start" fill="#222">AKO+T3</text>
</svg></body></html>
